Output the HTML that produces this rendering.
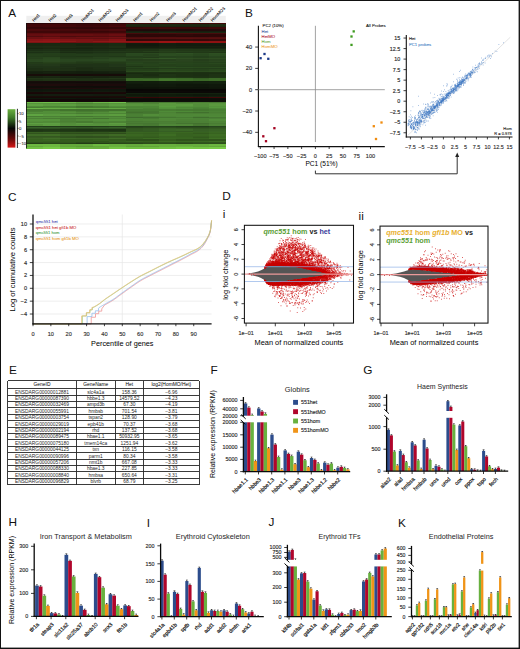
<!DOCTYPE html><html><head><meta charset="utf-8"><style>html,body{margin:0;padding:0;background:#fff;}body{width:520px;height:649px;overflow:hidden;}svg{display:block;font-family:"Liberation Sans",sans-serif;}</style></head><body>
<svg width="520" height="649" viewBox="0 0 520 649" shape-rendering="auto">
<rect x="0" y="0" width="520" height="649" fill="#fff"/>
<text x="8.2" y="16.8" font-size="11.8" fill="#111">A</text>
<rect x="26.3" y="15.8" width="199.5" height="7.4" fill="#efefef"/>
<style>.hm rect{width:17.23px}</style>
<g class="hm" shape-rendering="crispEdges">
<g transform="translate(26.3 0)">
<rect y="23.2" height="1.75" fill="#2b0406"/>
<rect y="24.45" height="1.75" fill="#400709"/>
<rect y="25.7" height="1.75" fill="#420709"/>
<rect y="26.95" height="1.75" fill="#350507"/>
<rect y="28.2" height="1.75" fill="#380608"/>
<rect y="29.45" height="1.75" fill="#4b090b"/>
<rect y="30.7" height="1.75" fill="#3d0708"/>
<rect y="31.95" height="1.75" fill="#3f0708"/>
<rect y="33.2" height="1.75" fill="#5b0b0d"/>
<rect y="34.45" height="1.75" fill="#650d10"/>
<rect y="35.7" height="1.75" fill="#510b0d"/>
<rect y="36.95" height="1.75" fill="#6e1012"/>
<rect y="38.2" height="1.75" fill="#6c1012"/>
<rect y="39.45" height="1.75" fill="#871316"/>
<rect y="40.7" height="1.75" fill="#931717"/>
<rect y="41.95" height="1.75" fill="#7d1414"/>
<rect y="43.2" height="1.75" fill="#192811"/>
<rect y="44.45" height="1.75" fill="#182810"/>
<rect y="45.7" height="1.75" fill="#1b2c13"/>
<rect y="46.95" height="1.75" fill="#1a2b12"/>
<rect y="48.2" height="1.75" fill="#172510"/>
<rect y="49.45" height="1.75" fill="#1c2f15"/>
<rect y="50.7" height="1.75" fill="#213819"/>
<rect y="51.95" height="1.75" fill="#1c3015"/>
<rect y="53.2" height="1.75" fill="#223c19"/>
<rect y="54.45" height="1.75" fill="#25401b"/>
<rect y="55.7" height="1.75" fill="#233d1a"/>
<rect y="56.95" height="1.75" fill="#26421c"/>
<rect y="58.2" height="1.75" fill="#26401c"/>
<rect y="59.45" height="1.75" fill="#2a471f"/>
<rect y="60.7" height="1.75" fill="#2a4820"/>
<rect y="61.95" height="1.75" fill="#223a18"/>
<rect y="63.2" height="1.75" fill="#233c19"/>
<rect y="64.45" height="1.75" fill="#22371a"/>
<rect y="65.7" height="1.75" fill="#1f3317"/>
<rect y="66.95" height="1.75" fill="#1f3318"/>
<rect y="68.2" height="1.75" fill="#1c2e14"/>
<rect y="69.45" height="1.75" fill="#1d2e14"/>
<rect y="70.7" height="1.75" fill="#16220f"/>
<rect y="71.95" height="1.75" fill="#141f0e"/>
<rect y="73.2" height="1.75" fill="#141f0e"/>
<rect y="74.45" height="1.75" fill="#180d09"/>
<rect y="75.7" height="1.75" fill="#182410"/>
<rect y="76.95" height="1.75" fill="#16220f"/>
<rect y="78.2" height="1.75" fill="#213516"/>
<rect y="79.45" height="1.75" fill="#1d2f14"/>
<rect y="80.7" height="1.75" fill="#170e0b"/>
<rect y="81.95" height="1.75" fill="#140c0a"/>
<rect y="83.2" height="1.75" fill="#180e0c"/>
<rect y="84.45" height="1.75" fill="#1e0c0c"/>
<rect y="85.7" height="1.75" fill="#100d09"/>
<rect y="86.95" height="1.75" fill="#100d09"/>
<rect y="88.2" height="1.75" fill="#1f0b0b"/>
<rect y="89.45" height="1.75" fill="#0e150c"/>
<rect y="90.7" height="1.75" fill="#10180d"/>
<rect y="91.95" height="1.75" fill="#190808"/>
<rect y="93.2" height="1.75" fill="#180707"/>
<rect y="94.45" height="1.75" fill="#121a0e"/>
<rect y="95.7" height="1.75" fill="#190b08"/>
<rect y="96.95" height="1.75" fill="#160907"/>
<rect y="98.2" height="1.75" fill="#0d180b"/>
<rect y="99.45" height="1.75" fill="#110808"/>
<rect y="100.7" height="1.75" fill="#150909"/>
<rect y="101.95" height="1.75" fill="#6dba4b"/>
<rect y="103.2" height="1.75" fill="#57943c"/>
<rect y="104.45" height="1.75" fill="#5fa241"/>
<rect y="105.7" height="1.75" fill="#4f8c37"/>
<rect y="106.95" height="1.75" fill="#477e31"/>
<rect y="108.2" height="1.75" fill="#6bb648"/>
<rect y="109.45" height="1.75" fill="#477c31"/>
<rect y="110.7" height="1.75" fill="#4a8133"/>
<rect y="111.95" height="1.75" fill="#538f3a"/>
<rect y="113.2" height="1.75" fill="#4f8837"/>
<rect y="114.45" height="1.75" fill="#5fa442"/>
<rect y="115.7" height="1.75" fill="#477c32"/>
<rect y="116.95" height="1.75" fill="#55933c"/>
<rect y="118.2" height="1.75" fill="#4b8235"/>
<rect y="119.45" height="1.75" fill="#56943c"/>
<rect y="120.7" height="1.75" fill="#538e39"/>
<rect y="121.95" height="1.75" fill="#4f8837"/>
<rect y="123.2" height="1.75" fill="#5d9f41"/>
<rect y="124.45" height="1.75" fill="#55903b"/>
<rect y="125.7" height="1.75" fill="#213f1a"/>
<rect y="126.95" height="1.75" fill="#365f28"/>
<rect y="128.2" height="1.75" fill="#2b4e20"/>
<rect y="129.45" height="1.75" fill="#1e3614"/>
<rect y="130.7" height="1.75" fill="#203a15"/>
<rect y="131.95" height="1.75" fill="#396122"/>
<rect y="133.2" height="1.75" fill="#31541d"/>
<rect y="134.45" height="1.75" fill="#3f6b26"/>
<rect y="135.7" height="1.75" fill="#345820"/>
<rect y="136.95" height="1.75" fill="#375c21"/>
<rect y="138.2" height="1.75" fill="#3c6424"/>
<rect y="139.45" height="1.75" fill="#37611f"/>
<rect y="140.7" height="1.75" fill="#365f1f"/>
<rect y="141.95" height="1.75" fill="#2f541b"/>
<rect y="143.2" height="1.75" fill="#243f16"/>
<rect y="144.45" height="1.75" fill="#6db940"/>
<rect y="145.7" height="1.75" fill="#64aa3b"/>
<rect y="146.95" height="1.75" fill="#72c143"/>
<rect y="148.2" height="0.1" fill="#67af3c"/>
</g>
<g transform="translate(42.92 0)">
<rect y="23.2" height="1.75" fill="#2b0406"/>
<rect y="24.45" height="1.75" fill="#430709"/>
<rect y="25.7" height="1.75" fill="#430709"/>
<rect y="26.95" height="1.75" fill="#390608"/>
<rect y="28.2" height="1.75" fill="#360507"/>
<rect y="29.45" height="1.75" fill="#49090b"/>
<rect y="30.7" height="1.75" fill="#3e0708"/>
<rect y="31.95" height="1.75" fill="#3f0708"/>
<rect y="33.2" height="1.75" fill="#590b0d"/>
<rect y="34.45" height="1.75" fill="#6b0e11"/>
<rect y="35.7" height="1.75" fill="#5a0c0e"/>
<rect y="36.95" height="1.75" fill="#761113"/>
<rect y="38.2" height="1.75" fill="#6d1012"/>
<rect y="39.45" height="1.75" fill="#8c1417"/>
<rect y="40.7" height="1.75" fill="#941717"/>
<rect y="41.95" height="1.75" fill="#811414"/>
<rect y="43.2" height="1.75" fill="#192811"/>
<rect y="44.45" height="1.75" fill="#192911"/>
<rect y="45.7" height="1.75" fill="#1c2e14"/>
<rect y="46.95" height="1.75" fill="#1b2c13"/>
<rect y="48.2" height="1.75" fill="#192911"/>
<rect y="49.45" height="1.75" fill="#1d3116"/>
<rect y="50.7" height="1.75" fill="#223919"/>
<rect y="51.95" height="1.75" fill="#1e3317"/>
<rect y="53.2" height="1.75" fill="#243f1b"/>
<rect y="54.45" height="1.75" fill="#243e1a"/>
<rect y="55.7" height="1.75" fill="#223b19"/>
<rect y="56.95" height="1.75" fill="#29471e"/>
<rect y="58.2" height="1.75" fill="#2b4920"/>
<rect y="59.45" height="1.75" fill="#2c4b21"/>
<rect y="60.7" height="1.75" fill="#2c4a21"/>
<rect y="61.95" height="1.75" fill="#27421b"/>
<rect y="63.2" height="1.75" fill="#243d19"/>
<rect y="64.45" height="1.75" fill="#23391a"/>
<rect y="65.7" height="1.75" fill="#203418"/>
<rect y="66.95" height="1.75" fill="#1f3318"/>
<rect y="68.2" height="1.75" fill="#1f3215"/>
<rect y="69.45" height="1.75" fill="#1f3216"/>
<rect y="70.7" height="1.75" fill="#16210f"/>
<rect y="71.95" height="1.75" fill="#172410"/>
<rect y="73.2" height="1.75" fill="#141f0e"/>
<rect y="74.45" height="1.75" fill="#190d0a"/>
<rect y="75.7" height="1.75" fill="#1a2912"/>
<rect y="76.95" height="1.75" fill="#182511"/>
<rect y="78.2" height="1.75" fill="#223616"/>
<rect y="79.45" height="1.75" fill="#1f3215"/>
<rect y="80.7" height="1.75" fill="#160d0b"/>
<rect y="81.95" height="1.75" fill="#140c0a"/>
<rect y="83.2" height="1.75" fill="#170e0c"/>
<rect y="84.45" height="1.75" fill="#1f0c0c"/>
<rect y="85.7" height="1.75" fill="#110e09"/>
<rect y="86.95" height="1.75" fill="#110e09"/>
<rect y="88.2" height="1.75" fill="#200c0c"/>
<rect y="89.45" height="1.75" fill="#0f160c"/>
<rect y="90.7" height="1.75" fill="#121a0e"/>
<rect y="91.95" height="1.75" fill="#1b0808"/>
<rect y="93.2" height="1.75" fill="#190808"/>
<rect y="94.45" height="1.75" fill="#131c0f"/>
<rect y="95.7" height="1.75" fill="#1a0b09"/>
<rect y="96.95" height="1.75" fill="#170908"/>
<rect y="98.2" height="1.75" fill="#0d180b"/>
<rect y="99.45" height="1.75" fill="#130808"/>
<rect y="100.7" height="1.75" fill="#140909"/>
<rect y="101.95" height="1.75" fill="#70c04d"/>
<rect y="103.2" height="1.75" fill="#55923b"/>
<rect y="104.45" height="1.75" fill="#5b9b3e"/>
<rect y="105.7" height="1.75" fill="#4b8534"/>
<rect y="106.95" height="1.75" fill="#4f8b36"/>
<rect y="108.2" height="1.75" fill="#67ae45"/>
<rect y="109.45" height="1.75" fill="#467b30"/>
<rect y="110.7" height="1.75" fill="#518e38"/>
<rect y="111.95" height="1.75" fill="#528e39"/>
<rect y="113.2" height="1.75" fill="#528e39"/>
<rect y="114.45" height="1.75" fill="#59993e"/>
<rect y="115.7" height="1.75" fill="#4b8135"/>
<rect y="116.95" height="1.75" fill="#54913b"/>
<rect y="118.2" height="1.75" fill="#487c32"/>
<rect y="119.45" height="1.75" fill="#56943c"/>
<rect y="120.7" height="1.75" fill="#508a37"/>
<rect y="121.95" height="1.75" fill="#518b38"/>
<rect y="123.2" height="1.75" fill="#5d9f42"/>
<rect y="124.45" height="1.75" fill="#5b9a40"/>
<rect y="125.7" height="1.75" fill="#203c19"/>
<rect y="126.95" height="1.75" fill="#335b26"/>
<rect y="128.2" height="1.75" fill="#2d5021"/>
<rect y="129.45" height="1.75" fill="#1f3815"/>
<rect y="130.7" height="1.75" fill="#223e17"/>
<rect y="131.95" height="1.75" fill="#3b6323"/>
<rect y="133.2" height="1.75" fill="#31531d"/>
<rect y="134.45" height="1.75" fill="#406d26"/>
<rect y="135.7" height="1.75" fill="#345720"/>
<rect y="136.95" height="1.75" fill="#385e22"/>
<rect y="138.2" height="1.75" fill="#416d28"/>
<rect y="139.45" height="1.75" fill="#386420"/>
<rect y="140.7" height="1.75" fill="#345c1e"/>
<rect y="141.95" height="1.75" fill="#30561c"/>
<rect y="143.2" height="1.75" fill="#294819"/>
<rect y="144.45" height="1.75" fill="#6db940"/>
<rect y="145.7" height="1.75" fill="#6db840"/>
<rect y="146.95" height="1.75" fill="#77ca46"/>
<rect y="148.2" height="0.1" fill="#66ad3c"/>
</g>
<g transform="translate(59.55 0)">
<rect y="23.2" height="1.75" fill="#290406"/>
<rect y="24.45" height="1.75" fill="#3e0609"/>
<rect y="25.7" height="1.75" fill="#410709"/>
<rect y="26.95" height="1.75" fill="#310507"/>
<rect y="28.2" height="1.75" fill="#360507"/>
<rect y="29.45" height="1.75" fill="#45080a"/>
<rect y="30.7" height="1.75" fill="#3a0708"/>
<rect y="31.95" height="1.75" fill="#3b0708"/>
<rect y="33.2" height="1.75" fill="#560a0d"/>
<rect y="34.45" height="1.75" fill="#660e10"/>
<rect y="35.7" height="1.75" fill="#4d0a0c"/>
<rect y="36.95" height="1.75" fill="#670f11"/>
<rect y="38.2" height="1.75" fill="#660f11"/>
<rect y="39.45" height="1.75" fill="#831315"/>
<rect y="40.7" height="1.75" fill="#921717"/>
<rect y="41.95" height="1.75" fill="#6d1111"/>
<rect y="43.2" height="1.75" fill="#182811"/>
<rect y="44.45" height="1.75" fill="#192911"/>
<rect y="45.7" height="1.75" fill="#1a2b12"/>
<rect y="46.95" height="1.75" fill="#1b2b13"/>
<rect y="48.2" height="1.75" fill="#16240f"/>
<rect y="49.45" height="1.75" fill="#1a2b13"/>
<rect y="50.7" height="1.75" fill="#1e3316"/>
<rect y="51.95" height="1.75" fill="#1a2c13"/>
<rect y="53.2" height="1.75" fill="#223b19"/>
<rect y="54.45" height="1.75" fill="#223c19"/>
<rect y="55.7" height="1.75" fill="#203818"/>
<rect y="56.95" height="1.75" fill="#233d1a"/>
<rect y="58.2" height="1.75" fill="#253f1c"/>
<rect y="59.45" height="1.75" fill="#29461f"/>
<rect y="60.7" height="1.75" fill="#29451f"/>
<rect y="61.95" height="1.75" fill="#253e1a"/>
<rect y="63.2" height="1.75" fill="#233b19"/>
<rect y="64.45" height="1.75" fill="#1f3217"/>
<rect y="65.7" height="1.75" fill="#1d2f16"/>
<rect y="66.95" height="1.75" fill="#1f3217"/>
<rect y="68.2" height="1.75" fill="#1d2e14"/>
<rect y="69.45" height="1.75" fill="#1e3015"/>
<rect y="70.7" height="1.75" fill="#15200f"/>
<rect y="71.95" height="1.75" fill="#15200e"/>
<rect y="73.2" height="1.75" fill="#131d0d"/>
<rect y="74.45" height="1.75" fill="#170d09"/>
<rect y="75.7" height="1.75" fill="#182511"/>
<rect y="76.95" height="1.75" fill="#15200f"/>
<rect y="78.2" height="1.75" fill="#203415"/>
<rect y="79.45" height="1.75" fill="#1e2f14"/>
<rect y="80.7" height="1.75" fill="#150c0a"/>
<rect y="81.95" height="1.75" fill="#130b09"/>
<rect y="83.2" height="1.75" fill="#170e0b"/>
<rect y="84.45" height="1.75" fill="#1c0b0b"/>
<rect y="85.7" height="1.75" fill="#0f0c08"/>
<rect y="86.95" height="1.75" fill="#0f0d09"/>
<rect y="88.2" height="1.75" fill="#1f0b0b"/>
<rect y="89.45" height="1.75" fill="#0e140b"/>
<rect y="90.7" height="1.75" fill="#11190e"/>
<rect y="91.95" height="1.75" fill="#1a0808"/>
<rect y="93.2" height="1.75" fill="#170707"/>
<rect y="94.45" height="1.75" fill="#131b0f"/>
<rect y="95.7" height="1.75" fill="#1a0b09"/>
<rect y="96.95" height="1.75" fill="#160907"/>
<rect y="98.2" height="1.75" fill="#0c170a"/>
<rect y="99.45" height="1.75" fill="#110707"/>
<rect y="100.7" height="1.75" fill="#150909"/>
<rect y="101.95" height="1.75" fill="#69b449"/>
<rect y="103.2" height="1.75" fill="#528d39"/>
<rect y="104.45" height="1.75" fill="#5c9e40"/>
<rect y="105.7" height="1.75" fill="#4b8534"/>
<rect y="106.95" height="1.75" fill="#4a8434"/>
<rect y="108.2" height="1.75" fill="#66ad45"/>
<rect y="109.45" height="1.75" fill="#42742d"/>
<rect y="110.7" height="1.75" fill="#4f8936"/>
<rect y="111.95" height="1.75" fill="#55913b"/>
<rect y="113.2" height="1.75" fill="#4d8435"/>
<rect y="114.45" height="1.75" fill="#5a9b3f"/>
<rect y="115.7" height="1.75" fill="#487d33"/>
<rect y="116.95" height="1.75" fill="#508b38"/>
<rect y="118.2" height="1.75" fill="#477c32"/>
<rect y="119.45" height="1.75" fill="#4c8335"/>
<rect y="120.7" height="1.75" fill="#4a7f33"/>
<rect y="121.95" height="1.75" fill="#4d8435"/>
<rect y="123.2" height="1.75" fill="#538d3a"/>
<rect y="124.45" height="1.75" fill="#538e3a"/>
<rect y="125.7" height="1.75" fill="#203c18"/>
<rect y="126.95" height="1.75" fill="#325a25"/>
<rect y="128.2" height="1.75" fill="#28471e"/>
<rect y="129.45" height="1.75" fill="#1e3614"/>
<rect y="130.7" height="1.75" fill="#213b16"/>
<rect y="131.95" height="1.75" fill="#34581f"/>
<rect y="133.2" height="1.75" fill="#2e4e1b"/>
<rect y="134.45" height="1.75" fill="#3a6223"/>
<rect y="135.7" height="1.75" fill="#32551f"/>
<rect y="136.95" height="1.75" fill="#32541f"/>
<rect y="138.2" height="1.75" fill="#3e6926"/>
<rect y="139.45" height="1.75" fill="#335b1d"/>
<rect y="140.7" height="1.75" fill="#335a1d"/>
<rect y="141.95" height="1.75" fill="#30551b"/>
<rect y="143.2" height="1.75" fill="#264418"/>
<rect y="144.45" height="1.75" fill="#64a93a"/>
<rect y="145.7" height="1.75" fill="#61a539"/>
<rect y="146.95" height="1.75" fill="#6dba40"/>
<rect y="148.2" height="0.1" fill="#61a439"/>
</g>
<g transform="translate(76.17 0)">
<rect y="23.2" height="1.75" fill="#290406"/>
<rect y="24.45" height="1.75" fill="#380608"/>
<rect y="25.7" height="1.75" fill="#3e0609"/>
<rect y="26.95" height="1.75" fill="#320507"/>
<rect y="28.2" height="1.75" fill="#310507"/>
<rect y="29.45" height="1.75" fill="#42080a"/>
<rect y="30.7" height="1.75" fill="#390708"/>
<rect y="31.95" height="1.75" fill="#3c0708"/>
<rect y="33.2" height="1.75" fill="#550a0c"/>
<rect y="34.45" height="1.75" fill="#670e10"/>
<rect y="35.7" height="1.75" fill="#500b0c"/>
<rect y="36.95" height="1.75" fill="#6e1012"/>
<rect y="38.2" height="1.75" fill="#630e10"/>
<rect y="39.45" height="1.75" fill="#7e1214"/>
<rect y="40.7" height="1.75" fill="#801414"/>
<rect y="41.95" height="1.75" fill="#711212"/>
<rect y="43.2" height="1.75" fill="#182811"/>
<rect y="44.45" height="1.75" fill="#16250f"/>
<rect y="45.7" height="1.75" fill="#1b2c13"/>
<rect y="46.95" height="1.75" fill="#182811"/>
<rect y="48.2" height="1.75" fill="#16240f"/>
<rect y="49.45" height="1.75" fill="#192b13"/>
<rect y="50.7" height="1.75" fill="#1f3417"/>
<rect y="51.95" height="1.75" fill="#1b2e14"/>
<rect y="53.2" height="1.75" fill="#1f3617"/>
<rect y="54.45" height="1.75" fill="#233d1a"/>
<rect y="55.7" height="1.75" fill="#1f3617"/>
<rect y="56.95" height="1.75" fill="#243e1a"/>
<rect y="58.2" height="1.75" fill="#26401c"/>
<rect y="59.45" height="1.75" fill="#29461f"/>
<rect y="60.7" height="1.75" fill="#253f1c"/>
<rect y="61.95" height="1.75" fill="#223a18"/>
<rect y="63.2" height="1.75" fill="#213817"/>
<rect y="64.45" height="1.75" fill="#1f3217"/>
<rect y="65.7" height="1.75" fill="#1f3217"/>
<rect y="66.95" height="1.75" fill="#1c2d15"/>
<rect y="68.2" height="1.75" fill="#1b2b12"/>
<rect y="69.45" height="1.75" fill="#1b2c13"/>
<rect y="70.7" height="1.75" fill="#141f0e"/>
<rect y="71.95" height="1.75" fill="#131e0e"/>
<rect y="73.2" height="1.75" fill="#131d0d"/>
<rect y="74.45" height="1.75" fill="#170c09"/>
<rect y="75.7" height="1.75" fill="#182611"/>
<rect y="76.95" height="1.75" fill="#162210"/>
<rect y="78.2" height="1.75" fill="#1d2e13"/>
<rect y="79.45" height="1.75" fill="#1d2f14"/>
<rect y="80.7" height="1.75" fill="#160d0b"/>
<rect y="81.95" height="1.75" fill="#110a09"/>
<rect y="83.2" height="1.75" fill="#170e0b"/>
<rect y="84.45" height="1.75" fill="#1b0a0a"/>
<rect y="85.7" height="1.75" fill="#0f0c08"/>
<rect y="86.95" height="1.75" fill="#110e09"/>
<rect y="88.2" height="1.75" fill="#1d0a0a"/>
<rect y="89.45" height="1.75" fill="#0e150b"/>
<rect y="90.7" height="1.75" fill="#11190e"/>
<rect y="91.95" height="1.75" fill="#190808"/>
<rect y="93.2" height="1.75" fill="#160707"/>
<rect y="94.45" height="1.75" fill="#131b0f"/>
<rect y="95.7" height="1.75" fill="#1a0b09"/>
<rect y="96.95" height="1.75" fill="#160907"/>
<rect y="98.2" height="1.75" fill="#0b150a"/>
<rect y="99.45" height="1.75" fill="#110707"/>
<rect y="100.7" height="1.75" fill="#130909"/>
<rect y="101.95" height="1.75" fill="#60a442"/>
<rect y="103.2" height="1.75" fill="#4e8636"/>
<rect y="104.45" height="1.75" fill="#56933b"/>
<rect y="105.7" height="1.75" fill="#44782f"/>
<rect y="106.95" height="1.75" fill="#467b30"/>
<rect y="108.2" height="1.75" fill="#62a642"/>
<rect y="109.45" height="1.75" fill="#41712d"/>
<rect y="110.7" height="1.75" fill="#477c31"/>
<rect y="111.95" height="1.75" fill="#508937"/>
<rect y="113.2" height="1.75" fill="#487d32"/>
<rect y="114.45" height="1.75" fill="#58973d"/>
<rect y="115.7" height="1.75" fill="#447630"/>
<rect y="116.95" height="1.75" fill="#54913b"/>
<rect y="118.2" height="1.75" fill="#487c32"/>
<rect y="119.45" height="1.75" fill="#518a38"/>
<rect y="120.7" height="1.75" fill="#477b31"/>
<rect y="121.95" height="1.75" fill="#477b31"/>
<rect y="123.2" height="1.75" fill="#5a993f"/>
<rect y="124.45" height="1.75" fill="#55913c"/>
<rect y="125.7" height="1.75" fill="#1f3a18"/>
<rect y="126.95" height="1.75" fill="#305523"/>
<rect y="128.2" height="1.75" fill="#27461d"/>
<rect y="129.45" height="1.75" fill="#1c3313"/>
<rect y="130.7" height="1.75" fill="#203915"/>
<rect y="131.95" height="1.75" fill="#34581f"/>
<rect y="133.2" height="1.75" fill="#2d4c1b"/>
<rect y="134.45" height="1.75" fill="#3a6223"/>
<rect y="135.7" height="1.75" fill="#2f4f1d"/>
<rect y="136.95" height="1.75" fill="#30511d"/>
<rect y="138.2" height="1.75" fill="#3d6625"/>
<rect y="139.45" height="1.75" fill="#335b1d"/>
<rect y="140.7" height="1.75" fill="#335a1d"/>
<rect y="141.95" height="1.75" fill="#2b4c19"/>
<rect y="143.2" height="1.75" fill="#213b15"/>
<rect y="144.45" height="1.75" fill="#64aa3b"/>
<rect y="145.7" height="1.75" fill="#5d9d36"/>
<rect y="146.95" height="1.75" fill="#69b33e"/>
<rect y="148.2" height="0.1" fill="#5d9d36"/>
</g>
<g transform="translate(92.8 0)">
<rect y="23.2" height="1.75" fill="#2b0406"/>
<rect y="24.45" height="1.75" fill="#3a0608"/>
<rect y="25.7" height="1.75" fill="#3f0709"/>
<rect y="26.95" height="1.75" fill="#350507"/>
<rect y="28.2" height="1.75" fill="#350507"/>
<rect y="29.45" height="1.75" fill="#47090b"/>
<rect y="30.7" height="1.75" fill="#370607"/>
<rect y="31.95" height="1.75" fill="#3e0708"/>
<rect y="33.2" height="1.75" fill="#540a0c"/>
<rect y="34.45" height="1.75" fill="#620d0f"/>
<rect y="35.7" height="1.75" fill="#550b0d"/>
<rect y="36.95" height="1.75" fill="#6f1012"/>
<rect y="38.2" height="1.75" fill="#5f0e10"/>
<rect y="39.45" height="1.75" fill="#781113"/>
<rect y="40.7" height="1.75" fill="#901717"/>
<rect y="41.95" height="1.75" fill="#751212"/>
<rect y="43.2" height="1.75" fill="#192911"/>
<rect y="44.45" height="1.75" fill="#182710"/>
<rect y="45.7" height="1.75" fill="#1a2b12"/>
<rect y="46.95" height="1.75" fill="#1a2912"/>
<rect y="48.2" height="1.75" fill="#182711"/>
<rect y="49.45" height="1.75" fill="#1b2d14"/>
<rect y="50.7" height="1.75" fill="#203618"/>
<rect y="51.95" height="1.75" fill="#1d3116"/>
<rect y="53.2" height="1.75" fill="#213a19"/>
<rect y="54.45" height="1.75" fill="#233c1a"/>
<rect y="55.7" height="1.75" fill="#213a19"/>
<rect y="56.95" height="1.75" fill="#27431d"/>
<rect y="58.2" height="1.75" fill="#26411d"/>
<rect y="59.45" height="1.75" fill="#2a4820"/>
<rect y="60.7" height="1.75" fill="#26401c"/>
<rect y="61.95" height="1.75" fill="#243e1a"/>
<rect y="63.2" height="1.75" fill="#203616"/>
<rect y="64.45" height="1.75" fill="#1f3317"/>
<rect y="65.7" height="1.75" fill="#1f3317"/>
<rect y="66.95" height="1.75" fill="#1d3016"/>
<rect y="68.2" height="1.75" fill="#1e3015"/>
<rect y="69.45" height="1.75" fill="#1c2e14"/>
<rect y="70.7" height="1.75" fill="#162210"/>
<rect y="71.95" height="1.75" fill="#141f0e"/>
<rect y="73.2" height="1.75" fill="#121c0d"/>
<rect y="74.45" height="1.75" fill="#180d09"/>
<rect y="75.7" height="1.75" fill="#172310"/>
<rect y="76.95" height="1.75" fill="#16220f"/>
<rect y="78.2" height="1.75" fill="#203416"/>
<rect y="79.45" height="1.75" fill="#1d2f13"/>
<rect y="80.7" height="1.75" fill="#150d0a"/>
<rect y="81.95" height="1.75" fill="#120b09"/>
<rect y="83.2" height="1.75" fill="#160d0b"/>
<rect y="84.45" height="1.75" fill="#1d0b0b"/>
<rect y="85.7" height="1.75" fill="#0f0c08"/>
<rect y="86.95" height="1.75" fill="#0f0d09"/>
<rect y="88.2" height="1.75" fill="#1f0b0b"/>
<rect y="89.45" height="1.75" fill="#0f160c"/>
<rect y="90.7" height="1.75" fill="#121a0e"/>
<rect y="91.95" height="1.75" fill="#1a0808"/>
<rect y="93.2" height="1.75" fill="#180707"/>
<rect y="94.45" height="1.75" fill="#121a0e"/>
<rect y="95.7" height="1.75" fill="#1a0b09"/>
<rect y="96.95" height="1.75" fill="#150907"/>
<rect y="98.2" height="1.75" fill="#0c160a"/>
<rect y="99.45" height="1.75" fill="#110707"/>
<rect y="100.7" height="1.75" fill="#150909"/>
<rect y="101.95" height="1.75" fill="#6bb74a"/>
<rect y="103.2" height="1.75" fill="#538d39"/>
<rect y="104.45" height="1.75" fill="#57953c"/>
<rect y="105.7" height="1.75" fill="#488032"/>
<rect y="106.95" height="1.75" fill="#477e31"/>
<rect y="108.2" height="1.75" fill="#61a542"/>
<rect y="109.45" height="1.75" fill="#42742e"/>
<rect y="110.7" height="1.75" fill="#497e32"/>
<rect y="111.95" height="1.75" fill="#528d39"/>
<rect y="113.2" height="1.75" fill="#4e8636"/>
<rect y="114.45" height="1.75" fill="#58983d"/>
<rect y="115.7" height="1.75" fill="#497e33"/>
<rect y="116.95" height="1.75" fill="#528e3a"/>
<rect y="118.2" height="1.75" fill="#43742f"/>
<rect y="119.45" height="1.75" fill="#538f3a"/>
<rect y="120.7" height="1.75" fill="#4f8837"/>
<rect y="121.95" height="1.75" fill="#4b8134"/>
<rect y="123.2" height="1.75" fill="#548e3b"/>
<rect y="124.45" height="1.75" fill="#55913c"/>
<rect y="125.7" height="1.75" fill="#203c18"/>
<rect y="126.95" height="1.75" fill="#325a25"/>
<rect y="128.2" height="1.75" fill="#2c4e20"/>
<rect y="129.45" height="1.75" fill="#1d3413"/>
<rect y="130.7" height="1.75" fill="#223c16"/>
<rect y="131.95" height="1.75" fill="#32551e"/>
<rect y="133.2" height="1.75" fill="#2e4d1b"/>
<rect y="134.45" height="1.75" fill="#3c6524"/>
<rect y="135.7" height="1.75" fill="#30511d"/>
<rect y="136.95" height="1.75" fill="#31521e"/>
<rect y="138.2" height="1.75" fill="#3d6625"/>
<rect y="139.45" height="1.75" fill="#355e1e"/>
<rect y="140.7" height="1.75" fill="#2f541b"/>
<rect y="141.95" height="1.75" fill="#2f541b"/>
<rect y="143.2" height="1.75" fill="#233d16"/>
<rect y="144.45" height="1.75" fill="#6dba40"/>
<rect y="145.7" height="1.75" fill="#62a739"/>
<rect y="146.95" height="1.75" fill="#68b03d"/>
<rect y="148.2" height="0.1" fill="#61a439"/>
</g>
<g transform="translate(109.42 0)">
<rect y="23.2" height="1.75" fill="#2e0407"/>
<rect y="24.45" height="1.75" fill="#3f0709"/>
<rect y="25.7" height="1.75" fill="#48070a"/>
<rect y="26.95" height="1.75" fill="#350507"/>
<rect y="28.2" height="1.75" fill="#360507"/>
<rect y="29.45" height="1.75" fill="#4c090c"/>
<rect y="30.7" height="1.75" fill="#3c0708"/>
<rect y="31.95" height="1.75" fill="#400809"/>
<rect y="33.2" height="1.75" fill="#5b0b0d"/>
<rect y="34.45" height="1.75" fill="#6b0e11"/>
<rect y="35.7" height="1.75" fill="#570c0e"/>
<rect y="36.95" height="1.75" fill="#751113"/>
<rect y="38.2" height="1.75" fill="#670f11"/>
<rect y="39.45" height="1.75" fill="#871316"/>
<rect y="40.7" height="1.75" fill="#931717"/>
<rect y="41.95" height="1.75" fill="#7c1313"/>
<rect y="43.2" height="1.75" fill="#1a2b12"/>
<rect y="44.45" height="1.75" fill="#1a2b12"/>
<rect y="45.7" height="1.75" fill="#1d2f14"/>
<rect y="46.95" height="1.75" fill="#1d2f14"/>
<rect y="48.2" height="1.75" fill="#182711"/>
<rect y="49.45" height="1.75" fill="#1c3015"/>
<rect y="50.7" height="1.75" fill="#223919"/>
<rect y="51.95" height="1.75" fill="#1e3216"/>
<rect y="53.2" height="1.75" fill="#233d1a"/>
<rect y="54.45" height="1.75" fill="#243e1a"/>
<rect y="55.7" height="1.75" fill="#203818"/>
<rect y="56.95" height="1.75" fill="#27441d"/>
<rect y="58.2" height="1.75" fill="#2a4820"/>
<rect y="59.45" height="1.75" fill="#2c4b21"/>
<rect y="60.7" height="1.75" fill="#27431d"/>
<rect y="61.95" height="1.75" fill="#233b18"/>
<rect y="63.2" height="1.75" fill="#223a18"/>
<rect y="64.45" height="1.75" fill="#213619"/>
<rect y="65.7" height="1.75" fill="#223719"/>
<rect y="66.95" height="1.75" fill="#1d2f16"/>
<rect y="68.2" height="1.75" fill="#1d3014"/>
<rect y="69.45" height="1.75" fill="#1d2e14"/>
<rect y="70.7" height="1.75" fill="#172310"/>
<rect y="71.95" height="1.75" fill="#162210"/>
<rect y="73.2" height="1.75" fill="#131d0d"/>
<rect y="74.45" height="1.75" fill="#170c09"/>
<rect y="75.7" height="1.75" fill="#192611"/>
<rect y="76.95" height="1.75" fill="#182410"/>
<rect y="78.2" height="1.75" fill="#223717"/>
<rect y="79.45" height="1.75" fill="#1c2d13"/>
<rect y="80.7" height="1.75" fill="#150d0b"/>
<rect y="81.95" height="1.75" fill="#130b09"/>
<rect y="83.2" height="1.75" fill="#160d0b"/>
<rect y="84.45" height="1.75" fill="#1c0b0b"/>
<rect y="85.7" height="1.75" fill="#100d09"/>
<rect y="86.95" height="1.75" fill="#110e09"/>
<rect y="88.2" height="1.75" fill="#1f0b0b"/>
<rect y="89.45" height="1.75" fill="#0f150c"/>
<rect y="90.7" height="1.75" fill="#11190d"/>
<rect y="91.95" height="1.75" fill="#190808"/>
<rect y="93.2" height="1.75" fill="#180707"/>
<rect y="94.45" height="1.75" fill="#131b0e"/>
<rect y="95.7" height="1.75" fill="#1a0b09"/>
<rect y="96.95" height="1.75" fill="#180a08"/>
<rect y="98.2" height="1.75" fill="#0d170b"/>
<rect y="99.45" height="1.75" fill="#110808"/>
<rect y="100.7" height="1.75" fill="#160a0a"/>
<rect y="101.95" height="1.75" fill="#6fbf4d"/>
<rect y="103.2" height="1.75" fill="#57943c"/>
<rect y="104.45" height="1.75" fill="#5c9e40"/>
<rect y="105.7" height="1.75" fill="#508e38"/>
<rect y="106.95" height="1.75" fill="#4b8534"/>
<rect y="108.2" height="1.75" fill="#63a843"/>
<rect y="109.45" height="1.75" fill="#42732d"/>
<rect y="110.7" height="1.75" fill="#529039"/>
<rect y="111.95" height="1.75" fill="#58963d"/>
<rect y="113.2" height="1.75" fill="#4d8535"/>
<rect y="114.45" height="1.75" fill="#5c9d3f"/>
<rect y="115.7" height="1.75" fill="#497e33"/>
<rect y="116.95" height="1.75" fill="#528e3a"/>
<rect y="118.2" height="1.75" fill="#4d8536"/>
<rect y="119.45" height="1.75" fill="#55933b"/>
<rect y="120.7" height="1.75" fill="#4c8335"/>
<rect y="121.95" height="1.75" fill="#4c8234"/>
<rect y="123.2" height="1.75" fill="#5c9c40"/>
<rect y="124.45" height="1.75" fill="#57943d"/>
<rect y="125.7" height="1.75" fill="#22401a"/>
<rect y="126.95" height="1.75" fill="#355f27"/>
<rect y="128.2" height="1.75" fill="#2c4e20"/>
<rect y="129.45" height="1.75" fill="#1c3313"/>
<rect y="130.7" height="1.75" fill="#203a15"/>
<rect y="131.95" height="1.75" fill="#365b20"/>
<rect y="133.2" height="1.75" fill="#2e4d1b"/>
<rect y="134.45" height="1.75" fill="#3f6a25"/>
<rect y="135.7" height="1.75" fill="#355820"/>
<rect y="136.95" height="1.75" fill="#365b21"/>
<rect y="138.2" height="1.75" fill="#416d27"/>
<rect y="139.45" height="1.75" fill="#335a1d"/>
<rect y="140.7" height="1.75" fill="#345d1e"/>
<rect y="141.95" height="1.75" fill="#2e521b"/>
<rect y="143.2" height="1.75" fill="#274518"/>
<rect y="144.45" height="1.75" fill="#68b03d"/>
<rect y="145.7" height="1.75" fill="#68b13d"/>
<rect y="146.95" height="1.75" fill="#74c444"/>
<rect y="148.2" height="0.1" fill="#6cb73f"/>
</g>
<g transform="translate(126.05 0)">
<rect y="23.2" height="1.75" fill="#390707"/>
<rect y="24.45" height="1.75" fill="#1c2711"/>
<rect y="25.7" height="1.75" fill="#1a240f"/>
<rect y="26.95" height="1.75" fill="#330707"/>
<rect y="28.2" height="1.75" fill="#3a0808"/>
<rect y="29.45" height="1.75" fill="#1e0909"/>
<rect y="30.7" height="1.75" fill="#161f0e"/>
<rect y="31.95" height="1.75" fill="#1a2511"/>
<rect y="33.2" height="1.75" fill="#450b0b"/>
<rect y="34.45" height="1.75" fill="#2c0707"/>
<rect y="35.7" height="1.75" fill="#2d0707"/>
<rect y="36.95" height="1.75" fill="#4d0d0d"/>
<rect y="38.2" height="1.75" fill="#560f0f"/>
<rect y="39.45" height="1.75" fill="#320909"/>
<rect y="40.7" height="1.75" fill="#8f1212"/>
<rect y="41.95" height="1.75" fill="#831111"/>
<rect y="43.2" height="1.75" fill="#121c0e"/>
<rect y="44.45" height="1.75" fill="#111b0d"/>
<rect y="45.7" height="1.75" fill="#121e0d"/>
<rect y="46.95" height="1.75" fill="#13200e"/>
<rect y="48.2" height="1.75" fill="#182711"/>
<rect y="49.45" height="1.75" fill="#1e3315"/>
<rect y="50.7" height="1.75" fill="#213817"/>
<rect y="51.95" height="1.75" fill="#1e3315"/>
<rect y="53.2" height="1.75" fill="#2a4a20"/>
<rect y="54.45" height="1.75" fill="#29481f"/>
<rect y="55.7" height="1.75" fill="#243f1b"/>
<rect y="56.95" height="1.75" fill="#243f1b"/>
<rect y="58.2" height="1.75" fill="#2b491f"/>
<rect y="59.45" height="1.75" fill="#253e1b"/>
<rect y="60.7" height="1.75" fill="#27421d"/>
<rect y="61.95" height="1.75" fill="#25431b"/>
<rect y="63.2" height="1.75" fill="#28471d"/>
<rect y="64.45" height="1.75" fill="#25411b"/>
<rect y="65.7" height="1.75" fill="#1f3716"/>
<rect y="66.95" height="1.75" fill="#26441c"/>
<rect y="68.2" height="1.75" fill="#213a18"/>
<rect y="69.45" height="1.75" fill="#25411a"/>
<rect y="70.7" height="1.75" fill="#2a491d"/>
<rect y="71.95" height="1.75" fill="#1d3113"/>
<rect y="73.2" height="1.75" fill="#182a10"/>
<rect y="74.45" height="1.75" fill="#1c3113"/>
<rect y="75.7" height="1.75" fill="#1d3213"/>
<rect y="76.95" height="1.75" fill="#1d3213"/>
<rect y="78.2" height="1.75" fill="#386324"/>
<rect y="79.45" height="1.75" fill="#396625"/>
<rect y="80.7" height="1.75" fill="#111e0d"/>
<rect y="81.95" height="1.75" fill="#121f0d"/>
<rect y="83.2" height="1.75" fill="#101c0c"/>
<rect y="84.45" height="1.75" fill="#0e160a"/>
<rect y="85.7" height="1.75" fill="#0e160a"/>
<rect y="86.95" height="1.75" fill="#0c1409"/>
<rect y="88.2" height="1.75" fill="#0b1208"/>
<rect y="89.45" height="1.75" fill="#080605"/>
<rect y="90.7" height="1.75" fill="#0b0907"/>
<rect y="91.95" height="1.75" fill="#0a0806"/>
<rect y="93.2" height="1.75" fill="#12200e"/>
<rect y="94.45" height="1.75" fill="#0e180a"/>
<rect y="95.7" height="1.75" fill="#111d0c"/>
<rect y="96.95" height="1.75" fill="#370808"/>
<rect y="98.2" height="1.75" fill="#0d0f09"/>
<rect y="99.45" height="1.75" fill="#0b0c07"/>
<rect y="100.7" height="1.75" fill="#0d0f08"/>
<rect y="101.95" height="1.75" fill="#43722f"/>
<rect y="103.2" height="1.75" fill="#538d3a"/>
<rect y="104.45" height="1.75" fill="#58953d"/>
<rect y="105.7" height="1.75" fill="#4d8636"/>
<rect y="106.95" height="1.75" fill="#4b8535"/>
<rect y="108.2" height="1.75" fill="#4f8a38"/>
<rect y="109.45" height="1.75" fill="#477c32"/>
<rect y="110.7" height="1.75" fill="#457830"/>
<rect y="111.95" height="1.75" fill="#41702d"/>
<rect y="113.2" height="1.75" fill="#467a31"/>
<rect y="114.45" height="1.75" fill="#4a8034"/>
<rect y="115.7" height="1.75" fill="#487e33"/>
<rect y="116.95" height="1.75" fill="#3e6b2c"/>
<rect y="118.2" height="1.75" fill="#4b8336"/>
<rect y="119.45" height="1.75" fill="#4c8235"/>
<rect y="120.7" height="1.75" fill="#477932"/>
<rect y="121.95" height="1.75" fill="#4a7d34"/>
<rect y="123.2" height="1.75" fill="#467731"/>
<rect y="124.45" height="1.75" fill="#4a7e34"/>
<rect y="125.7" height="1.75" fill="#223f1a"/>
<rect y="126.95" height="1.75" fill="#28461a"/>
<rect y="128.2" height="1.75" fill="#30541f"/>
<rect y="129.45" height="1.75" fill="#325720"/>
<rect y="130.7" height="1.75" fill="#335921"/>
<rect y="131.95" height="1.75" fill="#396521"/>
<rect y="133.2" height="1.75" fill="#365f1f"/>
<rect y="134.45" height="1.75" fill="#3a6721"/>
<rect y="135.7" height="1.75" fill="#37611f"/>
<rect y="136.95" height="1.75" fill="#345d1e"/>
<rect y="138.2" height="1.75" fill="#36601f"/>
<rect y="139.45" height="1.75" fill="#2d511a"/>
<rect y="140.7" height="1.75" fill="#376220"/>
<rect y="141.95" height="1.75" fill="#2e521b"/>
<rect y="143.2" height="1.75" fill="#284619"/>
<rect y="144.45" height="1.75" fill="#65ab3b"/>
<rect y="145.7" height="1.75" fill="#5fa238"/>
<rect y="146.95" height="1.75" fill="#70bf42"/>
<rect y="148.2" height="0.1" fill="#6bb53e"/>
</g>
<g transform="translate(142.68 0)">
<rect y="23.2" height="1.75" fill="#3c0808"/>
<rect y="24.45" height="1.75" fill="#1b2610"/>
<rect y="25.7" height="1.75" fill="#1a240f"/>
<rect y="26.95" height="1.75" fill="#390808"/>
<rect y="28.2" height="1.75" fill="#3b0808"/>
<rect y="29.45" height="1.75" fill="#1d0909"/>
<rect y="30.7" height="1.75" fill="#141e0e"/>
<rect y="31.95" height="1.75" fill="#182310"/>
<rect y="33.2" height="1.75" fill="#430b0b"/>
<rect y="34.45" height="1.75" fill="#2f0707"/>
<rect y="35.7" height="1.75" fill="#2c0707"/>
<rect y="36.95" height="1.75" fill="#500e0e"/>
<rect y="38.2" height="1.75" fill="#550f0f"/>
<rect y="39.45" height="1.75" fill="#330909"/>
<rect y="40.7" height="1.75" fill="#911212"/>
<rect y="41.95" height="1.75" fill="#891111"/>
<rect y="43.2" height="1.75" fill="#111b0d"/>
<rect y="44.45" height="1.75" fill="#10190d"/>
<rect y="45.7" height="1.75" fill="#121e0d"/>
<rect y="46.95" height="1.75" fill="#131f0e"/>
<rect y="48.2" height="1.75" fill="#192812"/>
<rect y="49.45" height="1.75" fill="#1e3315"/>
<rect y="50.7" height="1.75" fill="#253e1a"/>
<rect y="51.95" height="1.75" fill="#1e3315"/>
<rect y="53.2" height="1.75" fill="#2a491f"/>
<rect y="54.45" height="1.75" fill="#26421c"/>
<rect y="55.7" height="1.75" fill="#27431d"/>
<rect y="56.95" height="1.75" fill="#223b19"/>
<rect y="58.2" height="1.75" fill="#2f5022"/>
<rect y="59.45" height="1.75" fill="#263f1b"/>
<rect y="60.7" height="1.75" fill="#28431d"/>
<rect y="61.95" height="1.75" fill="#243f1a"/>
<rect y="63.2" height="1.75" fill="#25421b"/>
<rect y="64.45" height="1.75" fill="#26431b"/>
<rect y="65.7" height="1.75" fill="#233e19"/>
<rect y="66.95" height="1.75" fill="#28481d"/>
<rect y="68.2" height="1.75" fill="#203917"/>
<rect y="69.45" height="1.75" fill="#25401a"/>
<rect y="70.7" height="1.75" fill="#2b4b1e"/>
<rect y="71.95" height="1.75" fill="#1c3013"/>
<rect y="73.2" height="1.75" fill="#1b2e12"/>
<rect y="74.45" height="1.75" fill="#1a2c11"/>
<rect y="75.7" height="1.75" fill="#1c3113"/>
<rect y="76.95" height="1.75" fill="#1f3515"/>
<rect y="78.2" height="1.75" fill="#355d22"/>
<rect y="79.45" height="1.75" fill="#3b6926"/>
<rect y="80.7" height="1.75" fill="#101d0c"/>
<rect y="81.95" height="1.75" fill="#111d0c"/>
<rect y="83.2" height="1.75" fill="#101b0c"/>
<rect y="84.45" height="1.75" fill="#0f180b"/>
<rect y="85.7" height="1.75" fill="#0f170a"/>
<rect y="86.95" height="1.75" fill="#0c1309"/>
<rect y="88.2" height="1.75" fill="#0c1208"/>
<rect y="89.45" height="1.75" fill="#090705"/>
<rect y="90.7" height="1.75" fill="#0b0907"/>
<rect y="91.95" height="1.75" fill="#0a0806"/>
<rect y="93.2" height="1.75" fill="#121f0d"/>
<rect y="94.45" height="1.75" fill="#0e180a"/>
<rect y="95.7" height="1.75" fill="#0f1a0b"/>
<rect y="96.95" height="1.75" fill="#360707"/>
<rect y="98.2" height="1.75" fill="#0c0e08"/>
<rect y="99.45" height="1.75" fill="#0b0c07"/>
<rect y="100.7" height="1.75" fill="#0d0f09"/>
<rect y="101.95" height="1.75" fill="#477931"/>
<rect y="103.2" height="1.75" fill="#4e8436"/>
<rect y="104.45" height="1.75" fill="#56913c"/>
<rect y="105.7" height="1.75" fill="#4d8737"/>
<rect y="106.95" height="1.75" fill="#4d8736"/>
<rect y="108.2" height="1.75" fill="#4a8234"/>
<rect y="109.45" height="1.75" fill="#477d32"/>
<rect y="110.7" height="1.75" fill="#447730"/>
<rect y="111.95" height="1.75" fill="#447530"/>
<rect y="113.2" height="1.75" fill="#467931"/>
<rect y="114.45" height="1.75" fill="#528d39"/>
<rect y="115.7" height="1.75" fill="#4a8035"/>
<rect y="116.95" height="1.75" fill="#40702e"/>
<rect y="118.2" height="1.75" fill="#477b32"/>
<rect y="119.45" height="1.75" fill="#4e8436"/>
<rect y="120.7" height="1.75" fill="#497c33"/>
<rect y="121.95" height="1.75" fill="#4a7e34"/>
<rect y="123.2" height="1.75" fill="#457631"/>
<rect y="124.45" height="1.75" fill="#477932"/>
<rect y="125.7" height="1.75" fill="#24441b"/>
<rect y="126.95" height="1.75" fill="#2b4b1c"/>
<rect y="128.2" height="1.75" fill="#325820"/>
<rect y="129.45" height="1.75" fill="#345b22"/>
<rect y="130.7" height="1.75" fill="#335921"/>
<rect y="131.95" height="1.75" fill="#386420"/>
<rect y="133.2" height="1.75" fill="#355e1e"/>
<rect y="134.45" height="1.75" fill="#386320"/>
<rect y="135.7" height="1.75" fill="#365f1f"/>
<rect y="136.95" height="1.75" fill="#335b1d"/>
<rect y="138.2" height="1.75" fill="#3c6b22"/>
<rect y="139.45" height="1.75" fill="#2d501a"/>
<rect y="140.7" height="1.75" fill="#355e1e"/>
<rect y="141.95" height="1.75" fill="#2f531b"/>
<rect y="143.2" height="1.75" fill="#2c4d1b"/>
<rect y="144.45" height="1.75" fill="#69b23d"/>
<rect y="145.7" height="1.75" fill="#60a338"/>
<rect y="146.95" height="1.75" fill="#6fbd41"/>
<rect y="148.2" height="0.1" fill="#64aa3b"/>
</g>
<g transform="translate(159.3 0)">
<rect y="23.2" height="1.75" fill="#410808"/>
<rect y="24.45" height="1.75" fill="#1d2911"/>
<rect y="25.7" height="1.75" fill="#1a240f"/>
<rect y="26.95" height="1.75" fill="#3a0808"/>
<rect y="28.2" height="1.75" fill="#3f0909"/>
<rect y="29.45" height="1.75" fill="#200a0a"/>
<rect y="30.7" height="1.75" fill="#151e0e"/>
<rect y="31.95" height="1.75" fill="#1c2813"/>
<rect y="33.2" height="1.75" fill="#470c0c"/>
<rect y="34.45" height="1.75" fill="#2e0707"/>
<rect y="35.7" height="1.75" fill="#2e0707"/>
<rect y="36.95" height="1.75" fill="#530e0e"/>
<rect y="38.2" height="1.75" fill="#550f0f"/>
<rect y="39.45" height="1.75" fill="#360909"/>
<rect y="40.7" height="1.75" fill="#9b1414"/>
<rect y="41.95" height="1.75" fill="#991313"/>
<rect y="43.2" height="1.75" fill="#141f0f"/>
<rect y="44.45" height="1.75" fill="#131e0f"/>
<rect y="45.7" height="1.75" fill="#14210f"/>
<rect y="46.95" height="1.75" fill="#15220f"/>
<rect y="48.2" height="1.75" fill="#192912"/>
<rect y="49.45" height="1.75" fill="#223a18"/>
<rect y="50.7" height="1.75" fill="#26401b"/>
<rect y="51.95" height="1.75" fill="#233b18"/>
<rect y="53.2" height="1.75" fill="#2b4c20"/>
<rect y="54.45" height="1.75" fill="#2c4d21"/>
<rect y="55.7" height="1.75" fill="#25421c"/>
<rect y="56.95" height="1.75" fill="#26431d"/>
<rect y="58.2" height="1.75" fill="#335625"/>
<rect y="59.45" height="1.75" fill="#26401c"/>
<rect y="60.7" height="1.75" fill="#29451e"/>
<rect y="61.95" height="1.75" fill="#25421b"/>
<rect y="63.2" height="1.75" fill="#28481d"/>
<rect y="64.45" height="1.75" fill="#25411a"/>
<rect y="65.7" height="1.75" fill="#25411b"/>
<rect y="66.95" height="1.75" fill="#2b4d1f"/>
<rect y="68.2" height="1.75" fill="#223c19"/>
<rect y="69.45" height="1.75" fill="#29471c"/>
<rect y="70.7" height="1.75" fill="#2d4f1f"/>
<rect y="71.95" height="1.75" fill="#1d3213"/>
<rect y="73.2" height="1.75" fill="#1a2d11"/>
<rect y="74.45" height="1.75" fill="#1e3414"/>
<rect y="75.7" height="1.75" fill="#1d3314"/>
<rect y="76.95" height="1.75" fill="#203715"/>
<rect y="78.2" height="1.75" fill="#3e6e28"/>
<rect y="79.45" height="1.75" fill="#43762b"/>
<rect y="80.7" height="1.75" fill="#12200e"/>
<rect y="81.95" height="1.75" fill="#12200e"/>
<rect y="83.2" height="1.75" fill="#111e0d"/>
<rect y="84.45" height="1.75" fill="#10190c"/>
<rect y="85.7" height="1.75" fill="#10190b"/>
<rect y="86.95" height="1.75" fill="#0d1409"/>
<rect y="88.2" height="1.75" fill="#0d1509"/>
<rect y="89.45" height="1.75" fill="#090705"/>
<rect y="90.7" height="1.75" fill="#0c0907"/>
<rect y="91.95" height="1.75" fill="#0b0806"/>
<rect y="93.2" height="1.75" fill="#14220f"/>
<rect y="94.45" height="1.75" fill="#0f1b0b"/>
<rect y="95.7" height="1.75" fill="#111d0c"/>
<rect y="96.95" height="1.75" fill="#3d0808"/>
<rect y="98.2" height="1.75" fill="#0d0f09"/>
<rect y="99.45" height="1.75" fill="#0c0e08"/>
<rect y="100.7" height="1.75" fill="#0d1009"/>
<rect y="101.95" height="1.75" fill="#487b32"/>
<rect y="103.2" height="1.75" fill="#5a983e"/>
<rect y="104.45" height="1.75" fill="#5a983e"/>
<rect y="105.7" height="1.75" fill="#5a9d3f"/>
<rect y="106.95" height="1.75" fill="#56963c"/>
<rect y="108.2" height="1.75" fill="#53923b"/>
<rect y="109.45" height="1.75" fill="#487e32"/>
<rect y="110.7" height="1.75" fill="#4f8b38"/>
<rect y="111.95" height="1.75" fill="#4c8235"/>
<rect y="113.2" height="1.75" fill="#4e8737"/>
<rect y="114.45" height="1.75" fill="#4f8837"/>
<rect y="115.7" height="1.75" fill="#4c8436"/>
<rect y="116.95" height="1.75" fill="#447630"/>
<rect y="118.2" height="1.75" fill="#4f8938"/>
<rect y="119.45" height="1.75" fill="#508738"/>
<rect y="120.7" height="1.75" fill="#4a7d33"/>
<rect y="121.95" height="1.75" fill="#4b8035"/>
<rect y="123.2" height="1.75" fill="#4a7e34"/>
<rect y="124.45" height="1.75" fill="#4f8738"/>
<rect y="125.7" height="1.75" fill="#24441b"/>
<rect y="126.95" height="1.75" fill="#2d4f1d"/>
<rect y="128.2" height="1.75" fill="#365f23"/>
<rect y="129.45" height="1.75" fill="#396525"/>
<rect y="130.7" height="1.75" fill="#355e23"/>
<rect y="131.95" height="1.75" fill="#3a6821"/>
<rect y="133.2" height="1.75" fill="#396621"/>
<rect y="134.45" height="1.75" fill="#3d6d23"/>
<rect y="135.7" height="1.75" fill="#386320"/>
<rect y="136.95" height="1.75" fill="#386420"/>
<rect y="138.2" height="1.75" fill="#3a6822"/>
<rect y="139.45" height="1.75" fill="#355d1e"/>
<rect y="140.7" height="1.75" fill="#3c6a22"/>
<rect y="141.95" height="1.75" fill="#31571c"/>
<rect y="143.2" height="1.75" fill="#2d4f1c"/>
<rect y="144.45" height="1.75" fill="#68b03d"/>
<rect y="145.7" height="1.75" fill="#67af3c"/>
<rect y="146.95" height="1.75" fill="#71c142"/>
<rect y="148.2" height="0.1" fill="#6bb63f"/>
</g>
<g transform="translate(175.93 0)">
<rect y="23.2" height="1.75" fill="#410808"/>
<rect y="24.45" height="1.75" fill="#1c2811"/>
<rect y="25.7" height="1.75" fill="#1a240f"/>
<rect y="26.95" height="1.75" fill="#3a0808"/>
<rect y="28.2" height="1.75" fill="#3b0808"/>
<rect y="29.45" height="1.75" fill="#1e0909"/>
<rect y="30.7" height="1.75" fill="#161f0e"/>
<rect y="31.95" height="1.75" fill="#192511"/>
<rect y="33.2" height="1.75" fill="#480c0c"/>
<rect y="34.45" height="1.75" fill="#310808"/>
<rect y="35.7" height="1.75" fill="#2b0707"/>
<rect y="36.95" height="1.75" fill="#510e0e"/>
<rect y="38.2" height="1.75" fill="#590f0f"/>
<rect y="39.45" height="1.75" fill="#370a0a"/>
<rect y="40.7" height="1.75" fill="#981313"/>
<rect y="41.95" height="1.75" fill="#8e1212"/>
<rect y="43.2" height="1.75" fill="#121c0e"/>
<rect y="44.45" height="1.75" fill="#121c0e"/>
<rect y="45.7" height="1.75" fill="#14210f"/>
<rect y="46.95" height="1.75" fill="#131f0e"/>
<rect y="48.2" height="1.75" fill="#1a2a13"/>
<rect y="49.45" height="1.75" fill="#213817"/>
<rect y="50.7" height="1.75" fill="#253e1a"/>
<rect y="51.95" height="1.75" fill="#203717"/>
<rect y="53.2" height="1.75" fill="#2e5123"/>
<rect y="54.45" height="1.75" fill="#2b4b20"/>
<rect y="55.7" height="1.75" fill="#26431d"/>
<rect y="56.95" height="1.75" fill="#27441d"/>
<rect y="58.2" height="1.75" fill="#2e4d21"/>
<rect y="59.45" height="1.75" fill="#29441e"/>
<rect y="60.7" height="1.75" fill="#28431d"/>
<rect y="61.95" height="1.75" fill="#26431b"/>
<rect y="63.2" height="1.75" fill="#27451c"/>
<rect y="64.45" height="1.75" fill="#25431b"/>
<rect y="65.7" height="1.75" fill="#233f1a"/>
<rect y="66.95" height="1.75" fill="#2a4b1f"/>
<rect y="68.2" height="1.75" fill="#233e19"/>
<rect y="69.45" height="1.75" fill="#27441b"/>
<rect y="70.7" height="1.75" fill="#2c4c1e"/>
<rect y="71.95" height="1.75" fill="#1d3213"/>
<rect y="73.2" height="1.75" fill="#1b2f12"/>
<rect y="74.45" height="1.75" fill="#1c3012"/>
<rect y="75.7" height="1.75" fill="#1c3012"/>
<rect y="76.95" height="1.75" fill="#1f3715"/>
<rect y="78.2" height="1.75" fill="#3b6926"/>
<rect y="79.45" height="1.75" fill="#3e6e28"/>
<rect y="80.7" height="1.75" fill="#13210e"/>
<rect y="81.95" height="1.75" fill="#121f0d"/>
<rect y="83.2" height="1.75" fill="#101c0c"/>
<rect y="84.45" height="1.75" fill="#0e160a"/>
<rect y="85.7" height="1.75" fill="#0f170a"/>
<rect y="86.95" height="1.75" fill="#0d1409"/>
<rect y="88.2" height="1.75" fill="#0c1309"/>
<rect y="89.45" height="1.75" fill="#090705"/>
<rect y="90.7" height="1.75" fill="#0c0907"/>
<rect y="91.95" height="1.75" fill="#0a0806"/>
<rect y="93.2" height="1.75" fill="#13220e"/>
<rect y="94.45" height="1.75" fill="#0e190b"/>
<rect y="95.7" height="1.75" fill="#111e0d"/>
<rect y="96.95" height="1.75" fill="#3d0808"/>
<rect y="98.2" height="1.75" fill="#0d0f08"/>
<rect y="99.45" height="1.75" fill="#0b0d07"/>
<rect y="100.7" height="1.75" fill="#0e1009"/>
<rect y="101.95" height="1.75" fill="#467731"/>
<rect y="103.2" height="1.75" fill="#538d3a"/>
<rect y="104.45" height="1.75" fill="#5b9a3f"/>
<rect y="105.7" height="1.75" fill="#54933b"/>
<rect y="106.95" height="1.75" fill="#4e8837"/>
<rect y="108.2" height="1.75" fill="#508d39"/>
<rect y="109.45" height="1.75" fill="#467a31"/>
<rect y="110.7" height="1.75" fill="#4e8a37"/>
<rect y="111.95" height="1.75" fill="#43742f"/>
<rect y="113.2" height="1.75" fill="#4b8134"/>
<rect y="114.45" height="1.75" fill="#4e8737"/>
<rect y="115.7" height="1.75" fill="#4e8838"/>
<rect y="116.95" height="1.75" fill="#477b32"/>
<rect y="118.2" height="1.75" fill="#4e8737"/>
<rect y="119.45" height="1.75" fill="#4c8235"/>
<rect y="120.7" height="1.75" fill="#4a7e34"/>
<rect y="121.95" height="1.75" fill="#4a7f34"/>
<rect y="123.2" height="1.75" fill="#447430"/>
<rect y="124.45" height="1.75" fill="#4f8637"/>
<rect y="125.7" height="1.75" fill="#223f1a"/>
<rect y="126.95" height="1.75" fill="#2b4b1c"/>
<rect y="128.2" height="1.75" fill="#345b22"/>
<rect y="129.45" height="1.75" fill="#3b6726"/>
<rect y="130.7" height="1.75" fill="#345a21"/>
<rect y="131.95" height="1.75" fill="#3a6721"/>
<rect y="133.2" height="1.75" fill="#37611f"/>
<rect y="134.45" height="1.75" fill="#376220"/>
<rect y="135.7" height="1.75" fill="#36611f"/>
<rect y="136.95" height="1.75" fill="#386420"/>
<rect y="138.2" height="1.75" fill="#396621"/>
<rect y="139.45" height="1.75" fill="#30551b"/>
<rect y="140.7" height="1.75" fill="#396621"/>
<rect y="141.95" height="1.75" fill="#2f541b"/>
<rect y="143.2" height="1.75" fill="#2a491a"/>
<rect y="144.45" height="1.75" fill="#65ac3b"/>
<rect y="145.7" height="1.75" fill="#69b33e"/>
<rect y="146.95" height="1.75" fill="#75c745"/>
<rect y="148.2" height="0.1" fill="#6fbc41"/>
</g>
<g transform="translate(192.55 0)">
<rect y="23.2" height="1.75" fill="#3b0707"/>
<rect y="24.45" height="1.75" fill="#1c2811"/>
<rect y="25.7" height="1.75" fill="#1a2410"/>
<rect y="26.95" height="1.75" fill="#360808"/>
<rect y="28.2" height="1.75" fill="#3c0909"/>
<rect y="29.45" height="1.75" fill="#200a0a"/>
<rect y="30.7" height="1.75" fill="#151e0e"/>
<rect y="31.95" height="1.75" fill="#192511"/>
<rect y="33.2" height="1.75" fill="#470c0c"/>
<rect y="34.45" height="1.75" fill="#2e0707"/>
<rect y="35.7" height="1.75" fill="#2a0707"/>
<rect y="36.95" height="1.75" fill="#4f0e0e"/>
<rect y="38.2" height="1.75" fill="#560f0f"/>
<rect y="39.45" height="1.75" fill="#340909"/>
<rect y="40.7" height="1.75" fill="#8a1212"/>
<rect y="41.95" height="1.75" fill="#8e1212"/>
<rect y="43.2" height="1.75" fill="#131e0f"/>
<rect y="44.45" height="1.75" fill="#121c0e"/>
<rect y="45.7" height="1.75" fill="#14210f"/>
<rect y="46.95" height="1.75" fill="#131f0e"/>
<rect y="48.2" height="1.75" fill="#182812"/>
<rect y="49.45" height="1.75" fill="#213817"/>
<rect y="50.7" height="1.75" fill="#233c19"/>
<rect y="51.95" height="1.75" fill="#213817"/>
<rect y="53.2" height="1.75" fill="#2a491f"/>
<rect y="54.45" height="1.75" fill="#28461e"/>
<rect y="55.7" height="1.75" fill="#243f1b"/>
<rect y="56.95" height="1.75" fill="#24401b"/>
<rect y="58.2" height="1.75" fill="#2d4b20"/>
<rect y="59.45" height="1.75" fill="#253e1b"/>
<rect y="60.7" height="1.75" fill="#27421c"/>
<rect y="61.95" height="1.75" fill="#24401a"/>
<rect y="63.2" height="1.75" fill="#26441c"/>
<rect y="64.45" height="1.75" fill="#25411b"/>
<rect y="65.7" height="1.75" fill="#243f1a"/>
<rect y="66.95" height="1.75" fill="#29491d"/>
<rect y="68.2" height="1.75" fill="#223d19"/>
<rect y="69.45" height="1.75" fill="#26421b"/>
<rect y="70.7" height="1.75" fill="#2a491d"/>
<rect y="71.95" height="1.75" fill="#1c3013"/>
<rect y="73.2" height="1.75" fill="#1b2e12"/>
<rect y="74.45" height="1.75" fill="#1b2e12"/>
<rect y="75.7" height="1.75" fill="#1c3013"/>
<rect y="76.95" height="1.75" fill="#1d3213"/>
<rect y="78.2" height="1.75" fill="#366023"/>
<rect y="79.45" height="1.75" fill="#3a6826"/>
<rect y="80.7" height="1.75" fill="#111e0d"/>
<rect y="81.95" height="1.75" fill="#13210e"/>
<rect y="83.2" height="1.75" fill="#111e0d"/>
<rect y="84.45" height="1.75" fill="#0e160a"/>
<rect y="85.7" height="1.75" fill="#0e160a"/>
<rect y="86.95" height="1.75" fill="#0c1309"/>
<rect y="88.2" height="1.75" fill="#0d1409"/>
<rect y="89.45" height="1.75" fill="#080705"/>
<rect y="90.7" height="1.75" fill="#0b0907"/>
<rect y="91.95" height="1.75" fill="#0b0906"/>
<rect y="93.2" height="1.75" fill="#13210e"/>
<rect y="94.45" height="1.75" fill="#0d170a"/>
<rect y="95.7" height="1.75" fill="#101c0c"/>
<rect y="96.95" height="1.75" fill="#390808"/>
<rect y="98.2" height="1.75" fill="#0c0e08"/>
<rect y="99.45" height="1.75" fill="#0c0e08"/>
<rect y="100.7" height="1.75" fill="#0d1009"/>
<rect y="101.95" height="1.75" fill="#4b7f34"/>
<rect y="103.2" height="1.75" fill="#548e3a"/>
<rect y="104.45" height="1.75" fill="#538d3a"/>
<rect y="105.7" height="1.75" fill="#518d39"/>
<rect y="106.95" height="1.75" fill="#4c8536"/>
<rect y="108.2" height="1.75" fill="#498134"/>
<rect y="109.45" height="1.75" fill="#457930"/>
<rect y="110.7" height="1.75" fill="#4b8335"/>
<rect y="111.95" height="1.75" fill="#41702d"/>
<rect y="113.2" height="1.75" fill="#4a7f34"/>
<rect y="114.45" height="1.75" fill="#4f8837"/>
<rect y="115.7" height="1.75" fill="#4b8336"/>
<rect y="116.95" height="1.75" fill="#406e2d"/>
<rect y="118.2" height="1.75" fill="#4b8336"/>
<rect y="119.45" height="1.75" fill="#4d8236"/>
<rect y="120.7" height="1.75" fill="#4b8035"/>
<rect y="121.95" height="1.75" fill="#4c8035"/>
<rect y="123.2" height="1.75" fill="#42712e"/>
<rect y="124.45" height="1.75" fill="#477831"/>
<rect y="125.7" height="1.75" fill="#22401a"/>
<rect y="126.95" height="1.75" fill="#2b4c1c"/>
<rect y="128.2" height="1.75" fill="#315620"/>
<rect y="129.45" height="1.75" fill="#365e23"/>
<rect y="130.7" height="1.75" fill="#376024"/>
<rect y="131.95" height="1.75" fill="#376220"/>
<rect y="133.2" height="1.75" fill="#335a1d"/>
<rect y="134.45" height="1.75" fill="#386420"/>
<rect y="135.7" height="1.75" fill="#355e1e"/>
<rect y="136.95" height="1.75" fill="#32591d"/>
<rect y="138.2" height="1.75" fill="#376320"/>
<rect y="139.45" height="1.75" fill="#30561c"/>
<rect y="140.7" height="1.75" fill="#3a6721"/>
<rect y="141.95" height="1.75" fill="#30561c"/>
<rect y="143.2" height="1.75" fill="#2d501c"/>
<rect y="144.45" height="1.75" fill="#66ae3c"/>
<rect y="145.7" height="1.75" fill="#63a93a"/>
<rect y="146.95" height="1.75" fill="#75c644"/>
<rect y="148.2" height="0.1" fill="#66ad3b"/>
</g>
<g transform="translate(209.18 0)">
<rect y="23.2" height="1.75" fill="#410808"/>
<rect y="24.45" height="1.75" fill="#1f2c13"/>
<rect y="25.7" height="1.75" fill="#1c2811"/>
<rect y="26.95" height="1.75" fill="#3c0909"/>
<rect y="28.2" height="1.75" fill="#3d0909"/>
<rect y="29.45" height="1.75" fill="#210a0a"/>
<rect y="30.7" height="1.75" fill="#151e0e"/>
<rect y="31.95" height="1.75" fill="#1b2712"/>
<rect y="33.2" height="1.75" fill="#460c0c"/>
<rect y="34.45" height="1.75" fill="#2d0707"/>
<rect y="35.7" height="1.75" fill="#2e0707"/>
<rect y="36.95" height="1.75" fill="#520e0e"/>
<rect y="38.2" height="1.75" fill="#580f0f"/>
<rect y="39.45" height="1.75" fill="#370a0a"/>
<rect y="40.7" height="1.75" fill="#8d1212"/>
<rect y="41.95" height="1.75" fill="#8f1212"/>
<rect y="43.2" height="1.75" fill="#131e0f"/>
<rect y="44.45" height="1.75" fill="#121b0e"/>
<rect y="45.7" height="1.75" fill="#15220f"/>
<rect y="46.95" height="1.75" fill="#13200e"/>
<rect y="48.2" height="1.75" fill="#192812"/>
<rect y="49.45" height="1.75" fill="#203717"/>
<rect y="50.7" height="1.75" fill="#253f1a"/>
<rect y="51.95" height="1.75" fill="#203616"/>
<rect y="53.2" height="1.75" fill="#2e5022"/>
<rect y="54.45" height="1.75" fill="#2c4d21"/>
<rect y="55.7" height="1.75" fill="#27451e"/>
<rect y="56.95" height="1.75" fill="#27441d"/>
<rect y="58.2" height="1.75" fill="#2e4d21"/>
<rect y="59.45" height="1.75" fill="#28431d"/>
<rect y="60.7" height="1.75" fill="#2a461e"/>
<rect y="61.95" height="1.75" fill="#24401a"/>
<rect y="63.2" height="1.75" fill="#29481d"/>
<rect y="64.45" height="1.75" fill="#25411a"/>
<rect y="65.7" height="1.75" fill="#233e19"/>
<rect y="66.95" height="1.75" fill="#2a4b1e"/>
<rect y="68.2" height="1.75" fill="#223d19"/>
<rect y="69.45" height="1.75" fill="#28461c"/>
<rect y="70.7" height="1.75" fill="#2b4b1e"/>
<rect y="71.95" height="1.75" fill="#1d3213"/>
<rect y="73.2" height="1.75" fill="#1b2f12"/>
<rect y="74.45" height="1.75" fill="#1e3314"/>
<rect y="75.7" height="1.75" fill="#1e3414"/>
<rect y="76.95" height="1.75" fill="#1f3615"/>
<rect y="78.2" height="1.75" fill="#3c6a27"/>
<rect y="79.45" height="1.75" fill="#3d6c27"/>
<rect y="80.7" height="1.75" fill="#12200e"/>
<rect y="81.95" height="1.75" fill="#13210e"/>
<rect y="83.2" height="1.75" fill="#12200e"/>
<rect y="84.45" height="1.75" fill="#0f180b"/>
<rect y="85.7" height="1.75" fill="#0f180b"/>
<rect y="86.95" height="1.75" fill="#0e160a"/>
<rect y="88.2" height="1.75" fill="#0d1509"/>
<rect y="89.45" height="1.75" fill="#090705"/>
<rect y="90.7" height="1.75" fill="#0c0907"/>
<rect y="91.95" height="1.75" fill="#0b0907"/>
<rect y="93.2" height="1.75" fill="#13210e"/>
<rect y="94.45" height="1.75" fill="#0e190b"/>
<rect y="95.7" height="1.75" fill="#121f0d"/>
<rect y="96.95" height="1.75" fill="#3f0909"/>
<rect y="98.2" height="1.75" fill="#0d0f09"/>
<rect y="99.45" height="1.75" fill="#0c0e08"/>
<rect y="100.7" height="1.75" fill="#0d1009"/>
<rect y="101.95" height="1.75" fill="#487b32"/>
<rect y="103.2" height="1.75" fill="#57943d"/>
<rect y="104.45" height="1.75" fill="#5a983e"/>
<rect y="105.7" height="1.75" fill="#54933b"/>
<rect y="106.95" height="1.75" fill="#56983d"/>
<rect y="108.2" height="1.75" fill="#4e8837"/>
<rect y="109.45" height="1.75" fill="#487f33"/>
<rect y="110.7" height="1.75" fill="#4b8335"/>
<rect y="111.95" height="1.75" fill="#497e33"/>
<rect y="113.2" height="1.75" fill="#4c8335"/>
<rect y="114.45" height="1.75" fill="#4e8737"/>
<rect y="115.7" height="1.75" fill="#4f8938"/>
<rect y="116.95" height="1.75" fill="#457731"/>
<rect y="118.2" height="1.75" fill="#4a8135"/>
<rect y="119.45" height="1.75" fill="#528c3a"/>
<rect y="120.7" height="1.75" fill="#4e8436"/>
<rect y="121.95" height="1.75" fill="#4e8437"/>
<rect y="123.2" height="1.75" fill="#497d33"/>
<rect y="124.45" height="1.75" fill="#4d8336"/>
<rect y="125.7" height="1.75" fill="#26471d"/>
<rect y="126.95" height="1.75" fill="#2e511e"/>
<rect y="128.2" height="1.75" fill="#335921"/>
<rect y="129.45" height="1.75" fill="#386224"/>
<rect y="130.7" height="1.75" fill="#3a6525"/>
<rect y="131.95" height="1.75" fill="#3a6822"/>
<rect y="133.2" height="1.75" fill="#386320"/>
<rect y="134.45" height="1.75" fill="#3d6d23"/>
<rect y="135.7" height="1.75" fill="#3b6822"/>
<rect y="136.95" height="1.75" fill="#3a6821"/>
<rect y="138.2" height="1.75" fill="#407125"/>
<rect y="139.45" height="1.75" fill="#30551b"/>
<rect y="140.7" height="1.75" fill="#3d6c23"/>
<rect y="141.95" height="1.75" fill="#31571c"/>
<rect y="143.2" height="1.75" fill="#2d501c"/>
<rect y="144.45" height="1.75" fill="#6cb73f"/>
<rect y="145.7" height="1.75" fill="#63a83a"/>
<rect y="146.95" height="1.75" fill="#78cb46"/>
<rect y="148.2" height="0.1" fill="#6fbc41"/>
</g>
</g>
<rect x="26.1" y="23.2" width="0.8" height="125.1" fill="#101010"/>
<text x="33.9" y="21.9" font-size="4.3" fill="#000" transform="rotate(-45 33.9 21.9)" stroke="#000" stroke-width="0.07">Het1</text>
<text x="50.3" y="21.9" font-size="4.3" fill="#000" transform="rotate(-45 50.3 21.9)" stroke="#000" stroke-width="0.07">Het2</text>
<text x="66.6" y="21.9" font-size="4.3" fill="#000" transform="rotate(-45 66.6 21.9)" stroke="#000" stroke-width="0.07">Het3</text>
<text x="83" y="21.9" font-size="4.3" fill="#000" transform="rotate(-45 83 21.9)" stroke="#000" stroke-width="0.07">HetMO1</text>
<text x="100.3" y="21.9" font-size="4.3" fill="#000" transform="rotate(-45 100.3 21.9)" stroke="#000" stroke-width="0.07">HetMO2</text>
<text x="117.5" y="21.9" font-size="4.3" fill="#000" transform="rotate(-45 117.5 21.9)" stroke="#000" stroke-width="0.07">HetMO3</text>
<text x="134.9" y="21.9" font-size="4.3" fill="#000" transform="rotate(-45 134.9 21.9)" stroke="#000" stroke-width="0.07">Hom1</text>
<text x="151.6" y="21.9" font-size="4.3" fill="#000" transform="rotate(-45 151.6 21.9)" stroke="#000" stroke-width="0.07">Hom2</text>
<text x="168" y="21.9" font-size="4.3" fill="#000" transform="rotate(-45 168 21.9)" stroke="#000" stroke-width="0.07">Hom3</text>
<text x="184.2" y="21.9" font-size="4.3" fill="#000" transform="rotate(-45 184.2 21.9)" stroke="#000" stroke-width="0.07">HomMO1</text>
<text x="200.4" y="21.9" font-size="4.3" fill="#000" transform="rotate(-45 200.4 21.9)" stroke="#000" stroke-width="0.07">HomMO2</text>
<text x="212.4" y="21.9" font-size="4.3" fill="#000" transform="rotate(-45 212.4 21.9)" stroke="#000" stroke-width="0.07">HomMO3</text>
<defs><linearGradient id="cb" x1="0" y1="0" x2="0" y2="1"><stop offset="0" stop-color="#6cb040"/><stop offset="0.22" stop-color="#3f7a28"/><stop offset="0.5" stop-color="#050505"/><stop offset="0.78" stop-color="#6a0a0a"/><stop offset="1" stop-color="#d81818"/></linearGradient></defs>
<rect x="7.6" y="109.2" width="7.8" height="38.4" fill="url(#cb)"/>
<line x1="17.4" y1="108.8" x2="17.4" y2="148" stroke="#111" stroke-width="0.9"/>
<line x1="17.4" y1="113.6" x2="18.6" y2="113.6" stroke="#111" stroke-width="0.6"/>
<text x="19" y="115.1" font-size="4.2" fill="#333" stroke="#333" stroke-width="0.07">10</text>
<line x1="17.4" y1="121.2" x2="18.6" y2="121.2" stroke="#111" stroke-width="0.6"/>
<text x="19" y="122.7" font-size="4.2" fill="#333" stroke="#333" stroke-width="0.07">5</text>
<line x1="17.4" y1="128.4" x2="18.6" y2="128.4" stroke="#111" stroke-width="0.6"/>
<text x="19" y="129.9" font-size="4.2" fill="#333" stroke="#333" stroke-width="0.07">0</text>
<line x1="17.4" y1="136" x2="18.6" y2="136" stroke="#111" stroke-width="0.6"/>
<text x="19" y="137.5" font-size="4.2" fill="#333" stroke="#333" stroke-width="0.07">−5</text>
<line x1="17.4" y1="143.4" x2="18.6" y2="143.4" stroke="#111" stroke-width="0.6"/>
<text x="19" y="144.9" font-size="4.2" fill="#333" stroke="#333" stroke-width="0.07">−10</text>
<text x="245.1" y="17" font-size="11.8" fill="#111">B</text>
<line x1="258.4" y1="25.8" x2="258.4" y2="147.1" stroke="#111" stroke-width="1.1"/>
<line x1="257.9" y1="146.6" x2="384.8" y2="146.6" stroke="#111" stroke-width="1.1"/>
<line x1="255.2" y1="47.06" x2="258.4" y2="47.06" stroke="#111" stroke-width="0.8"/>
<text x="252" y="49.06" font-size="5.6" fill="#2a2a2a" text-anchor="end" stroke="#2a2a2a" stroke-width="0.14">40</text>
<line x1="255.2" y1="68.38" x2="258.4" y2="68.38" stroke="#111" stroke-width="0.8"/>
<text x="252" y="70.38" font-size="5.6" fill="#2a2a2a" text-anchor="end" stroke="#2a2a2a" stroke-width="0.14">20</text>
<line x1="255.2" y1="89.7" x2="258.4" y2="89.7" stroke="#111" stroke-width="0.8"/>
<text x="252" y="91.7" font-size="5.6" fill="#2a2a2a" text-anchor="end" stroke="#2a2a2a" stroke-width="0.14">0</text>
<line x1="255.2" y1="111.02" x2="258.4" y2="111.02" stroke="#111" stroke-width="0.8"/>
<text x="252" y="113.02" font-size="5.6" fill="#2a2a2a" text-anchor="end" stroke="#2a2a2a" stroke-width="0.14">−20</text>
<line x1="255.2" y1="132.34" x2="258.4" y2="132.34" stroke="#111" stroke-width="0.8"/>
<text x="252" y="134.34" font-size="5.6" fill="#2a2a2a" text-anchor="end" stroke="#2a2a2a" stroke-width="0.14">−40</text>
<line x1="260.3" y1="146.6" x2="260.3" y2="149" stroke="#111" stroke-width="0.8"/>
<text x="260.3" y="157.8" font-size="5.6" fill="#333" text-anchor="middle" stroke="#333" stroke-width="0.14">−100</text>
<line x1="274.07" y1="146.6" x2="274.07" y2="149" stroke="#111" stroke-width="0.8"/>
<text x="274.07" y="157.8" font-size="5.6" fill="#333" text-anchor="middle" stroke="#333" stroke-width="0.14">−75</text>
<line x1="287.85" y1="146.6" x2="287.85" y2="149" stroke="#111" stroke-width="0.8"/>
<text x="287.85" y="157.8" font-size="5.6" fill="#333" text-anchor="middle" stroke="#333" stroke-width="0.14">−50</text>
<line x1="301.62" y1="146.6" x2="301.62" y2="149" stroke="#111" stroke-width="0.8"/>
<text x="301.62" y="157.8" font-size="5.6" fill="#333" text-anchor="middle" stroke="#333" stroke-width="0.14">−25</text>
<line x1="315.4" y1="146.6" x2="315.4" y2="149" stroke="#111" stroke-width="0.8"/>
<text x="315.4" y="157.8" font-size="5.6" fill="#333" text-anchor="middle" stroke="#333" stroke-width="0.14">0</text>
<line x1="329.17" y1="146.6" x2="329.17" y2="149" stroke="#111" stroke-width="0.8"/>
<text x="329.17" y="157.8" font-size="5.6" fill="#333" text-anchor="middle" stroke="#333" stroke-width="0.14">25</text>
<line x1="342.95" y1="146.6" x2="342.95" y2="149" stroke="#111" stroke-width="0.8"/>
<text x="342.95" y="157.8" font-size="5.6" fill="#333" text-anchor="middle" stroke="#333" stroke-width="0.14">50</text>
<line x1="356.72" y1="146.6" x2="356.72" y2="149" stroke="#111" stroke-width="0.8"/>
<text x="356.72" y="157.8" font-size="5.6" fill="#333" text-anchor="middle" stroke="#333" stroke-width="0.14">75</text>
<line x1="370.5" y1="146.6" x2="370.5" y2="149" stroke="#111" stroke-width="0.8"/>
<text x="370.5" y="157.8" font-size="5.6" fill="#333" text-anchor="middle" stroke="#333" stroke-width="0.14">100</text>
<line x1="258.4" y1="89.7" x2="384.8" y2="89.7" stroke="#8a8a8a" stroke-width="0.8"/>
<line x1="315.4" y1="25.8" x2="315.4" y2="142" stroke="#8a8a8a" stroke-width="0.8"/>
<text x="262.6" y="27.3" font-size="4.3" stroke="#222" stroke-width="0.07">PC2 (10%)</text>
<text x="261.6" y="32.5" font-size="4.3" fill="#3b5ba5" stroke="#3b5ba5" stroke-width="0.07">Het</text>
<text x="261.6" y="37.8" font-size="4.3" fill="#b31d3b" stroke="#b31d3b" stroke-width="0.07">HetMO</text>
<text x="261.6" y="43" font-size="4.3" fill="#6aaa45" stroke="#6aaa45" stroke-width="0.07">Hom</text>
<text x="261.6" y="48.4" font-size="4.3" fill="#efa33a" stroke="#efa33a" stroke-width="0.07">HomMO</text>
<text x="366" y="27.3" font-size="4.3" stroke="#222" stroke-width="0.07">All Probes</text>
<rect x="259.45" y="57.05" width="2.3" height="2.3" fill="#1c3a88"/>
<rect x="263.35" y="52.85" width="2.3" height="2.3" fill="#1c3a88"/>
<rect x="267.15" y="57.65" width="2.3" height="2.3" fill="#1c3a88"/>
<rect x="273.25" y="127.05" width="2.3" height="2.3" fill="#a3001f"/>
<rect x="262.15" y="135.15" width="2.3" height="2.3" fill="#a3001f"/>
<rect x="264.85" y="140.05" width="2.3" height="2.3" fill="#a3001f"/>
<rect x="352.55" y="30.25" width="2.3" height="2.3" fill="#3f9b20"/>
<rect x="350.35" y="35.35" width="2.3" height="2.3" fill="#3f9b20"/>
<rect x="350.35" y="43.75" width="2.3" height="2.3" fill="#3f9b20"/>
<rect x="372.65" y="125.05" width="2.3" height="2.3" fill="#f08c10"/>
<rect x="380.35" y="121.35" width="2.3" height="2.3" fill="#f08c10"/>
<rect x="374.85" y="137.85" width="2.3" height="2.3" fill="#f08c10"/>
<text x="305.4" y="166.3" font-size="7.6" textLength="32.3" lengthAdjust="spacingAndGlyphs">PC1 (51%)</text>
<polyline points="315.4,170.6 315.4,173.8 457.2,173.8 457.2,155" fill="none" stroke="#333" stroke-width="1"/>
<path d="M457.2 152.4 L455.2 157 L459.2 157 Z" fill="#222"/>
<line x1="406.3" y1="35" x2="406.3" y2="137.5" stroke="#111" stroke-width="1.1"/>
<line x1="405.8" y1="137" x2="512.5" y2="137" stroke="#111" stroke-width="1.1"/>
<line x1="403.5" y1="38.05" x2="406.3" y2="38.05" stroke="#111" stroke-width="0.8"/>
<text x="400.3" y="40.05" font-size="5.4" fill="#2a2a2a" text-anchor="end" stroke="#2a2a2a" stroke-width="0.14">15</text>
<line x1="403.5" y1="48.58" x2="406.3" y2="48.58" stroke="#111" stroke-width="0.8"/>
<text x="400.3" y="50.58" font-size="5.4" fill="#2a2a2a" text-anchor="end" stroke="#2a2a2a" stroke-width="0.14">12.5</text>
<line x1="403.5" y1="59.1" x2="406.3" y2="59.1" stroke="#111" stroke-width="0.8"/>
<text x="400.3" y="61.1" font-size="5.4" fill="#2a2a2a" text-anchor="end" stroke="#2a2a2a" stroke-width="0.14">10</text>
<line x1="403.5" y1="69.62" x2="406.3" y2="69.62" stroke="#111" stroke-width="0.8"/>
<text x="400.3" y="71.62" font-size="5.4" fill="#2a2a2a" text-anchor="end" stroke="#2a2a2a" stroke-width="0.14">7.5</text>
<line x1="403.5" y1="80.15" x2="406.3" y2="80.15" stroke="#111" stroke-width="0.8"/>
<text x="400.3" y="82.15" font-size="5.4" fill="#2a2a2a" text-anchor="end" stroke="#2a2a2a" stroke-width="0.14">5</text>
<line x1="403.5" y1="90.67" x2="406.3" y2="90.67" stroke="#111" stroke-width="0.8"/>
<text x="400.3" y="92.67" font-size="5.4" fill="#2a2a2a" text-anchor="end" stroke="#2a2a2a" stroke-width="0.14">2.5</text>
<line x1="403.5" y1="101.2" x2="406.3" y2="101.2" stroke="#111" stroke-width="0.8"/>
<text x="400.3" y="103.2" font-size="5.4" fill="#2a2a2a" text-anchor="end" stroke="#2a2a2a" stroke-width="0.14">0</text>
<line x1="403.5" y1="111.73" x2="406.3" y2="111.73" stroke="#111" stroke-width="0.8"/>
<text x="400.3" y="113.73" font-size="5.4" fill="#2a2a2a" text-anchor="end" stroke="#2a2a2a" stroke-width="0.14">−2.5</text>
<line x1="403.5" y1="122.25" x2="406.3" y2="122.25" stroke="#111" stroke-width="0.8"/>
<text x="400.3" y="124.25" font-size="5.4" fill="#2a2a2a" text-anchor="end" stroke="#2a2a2a" stroke-width="0.14">−5</text>
<line x1="403.5" y1="132.78" x2="406.3" y2="132.78" stroke="#111" stroke-width="0.8"/>
<text x="400.3" y="134.78" font-size="5.4" fill="#2a2a2a" text-anchor="end" stroke="#2a2a2a" stroke-width="0.14">−7.5</text>
<line x1="410.4" y1="137" x2="410.4" y2="139.4" stroke="#111" stroke-width="0.8"/>
<text x="410.4" y="148.8" font-size="5.4" fill="#333" text-anchor="middle" stroke="#333" stroke-width="0.14">−7.5</text>
<line x1="421.4" y1="137" x2="421.4" y2="139.4" stroke="#111" stroke-width="0.8"/>
<text x="421.4" y="148.8" font-size="5.4" fill="#333" text-anchor="middle" stroke="#333" stroke-width="0.14">−5</text>
<line x1="432.4" y1="137" x2="432.4" y2="139.4" stroke="#111" stroke-width="0.8"/>
<text x="432.4" y="148.8" font-size="5.4" fill="#333" text-anchor="middle" stroke="#333" stroke-width="0.14">−2.5</text>
<line x1="443.4" y1="137" x2="443.4" y2="139.4" stroke="#111" stroke-width="0.8"/>
<text x="443.4" y="148.8" font-size="5.4" fill="#333" text-anchor="middle" stroke="#333" stroke-width="0.14">0</text>
<line x1="454.4" y1="137" x2="454.4" y2="139.4" stroke="#111" stroke-width="0.8"/>
<text x="454.4" y="148.8" font-size="5.4" fill="#333" text-anchor="middle" stroke="#333" stroke-width="0.14">2.5</text>
<line x1="465.4" y1="137" x2="465.4" y2="139.4" stroke="#111" stroke-width="0.8"/>
<text x="465.4" y="148.8" font-size="5.4" fill="#333" text-anchor="middle" stroke="#333" stroke-width="0.14">5</text>
<line x1="476.4" y1="137" x2="476.4" y2="139.4" stroke="#111" stroke-width="0.8"/>
<text x="476.4" y="148.8" font-size="5.4" fill="#333" text-anchor="middle" stroke="#333" stroke-width="0.14">7.5</text>
<line x1="487.4" y1="137" x2="487.4" y2="139.4" stroke="#111" stroke-width="0.8"/>
<text x="487.4" y="148.8" font-size="5.4" fill="#333" text-anchor="middle" stroke="#333" stroke-width="0.14">10</text>
<line x1="498.4" y1="137" x2="498.4" y2="139.4" stroke="#111" stroke-width="0.8"/>
<text x="498.4" y="148.8" font-size="5.4" fill="#333" text-anchor="middle" stroke="#333" stroke-width="0.14">12.5</text>
<line x1="509.4" y1="137" x2="509.4" y2="139.4" stroke="#111" stroke-width="0.8"/>
<text x="509.4" y="148.8" font-size="5.4" fill="#333" text-anchor="middle" stroke="#333" stroke-width="0.14">15</text>
<line x1="407.4" y1="135.78" x2="510.28" y2="37.21" stroke="#c8c8c8" stroke-width="0.5"/>
<text x="409" y="40" font-size="4.2" stroke="#222" stroke-width="0.07">Het</text>
<text x="409" y="45.6" font-size="4.2" fill="#3d7cc4" stroke="#3d7cc4" stroke-width="0.07">PC1 probes</text>
<text x="511.8" y="130" font-size="4" text-anchor="end" stroke="#222" stroke-width="0.07">Hom</text>
<text x="511.8" y="135.3" font-size="4" text-anchor="end" stroke="#222" stroke-width="0.07">R = 0.978</text>
<path transform="scale(.25)" d="M1630 496h3m-3 7h3m-2-8h3m-2-11h3m-3 10h3m-2-14h3m-3 4h3m-3 14h3m-3 4h3m-2-11h3m-3 1h3m-2-25h3m-3 17h3m-3 13h3m-2-19h3m-1 9h3m-3 0h3m-3 10h3m-2-13h3m-3 1h3m-3 0h3m-3 7h3m-3 8h3m-3 8h3m-2-49h3m-3 47h3m-3 3h3m-2-23h3m-3 5h3m-3 11h3m-3 0h3m-3 9h3m-3 1h3m-2-69h3m-3 27h3m-3 7h3m-3 28h3m-3 3h3m-2-4h3m-3 2h3m-3 2h3m-2-27h3m-3 2h3m-3 3h3m-3 11h3m-3 1h3m-3 11h3m-3 2h3m-3 2h3m-3 1h3m-3 1h3m-2-50h3m-3 10h3m-3 5h3m-3 14h3m-3 5h3m-3 12h3m-2-15h3m-3 3h3m-2-3h3m-3 17h3m-3 6h3m-2-37h3m-3 20h3m-3 1h3m-2-33h3m-3 38h3m-2-81h3m-3 64h3m-3 1h3m-2 2h3m-3 4h3m-3 11h3m-2-19h3m-3 7h3m-3 8h3m-3 1h3m-3 6h3m-3 1h3m-3 2h3m-2-15h3m-3 6h3m-3 5h3m-3 4h3m-3 1h3m-3 1h3m-2-27h3m-3 3h3m-3 18h3m-3 1h3m-3 1h3m-3 3h3m-2-29h3m-3 1h3m-2-21h3m-3 4h3m-3 1h3m-3 8h3m-3 13h3m-3 20h3m-3 0h3m-2-31h3m-3 26h3m-3 2h3m-3 18h3m-2-53h3m-3 22h3m-3 8h3m-2-30h3m-3 11h3m-3 3h3m-3 8h3m-3 20h3m-3 7h3m-3 6h3m-2-67h3m-3 9h3m-3 4h3m-3 15h3m-3 1h3m-3 1h3m-3 4h3m-3 4h3m-3 1h3m-3 15h3m-3 1h3m-3 9h3m-2-57h3m-3 20h3m-3 8h3m-2-3h3m-3 4h3m-3 2h3m-2-15h3m-3 3h3m-3 14h3m-3 4h3m-2-29h3m-3 5h3m-3 48h3m-2-48h3m-3 9h3m-2-4h3m-3 0h3m-3 0h3m-3 2h3m-3 0h3m-3 6h3m-3 23h3m-2-40h3m-3 6h3m-3 2h3m-3 1h3m-3 1h3m-3 7h3m-3 4h3m-3 12h3m-3 6h3m-2-30h3m-3 1h3m-3 3h3m-3 1h3m-3 5h3m-3 2h3m-3 2h3m-3 0h3m-2-26h3m-3 15h3m-3 1h3m-3 18h3m-3 0h3m-3 12h3m-2-45h3m-3 12h3m-3 23h3m-2-55h3m-3 5h3m-3 14h3m-3 15h3m-3 1h3m-3 1h3m-3 6h3m-3 1h3m-2-115h3m-3 102h3m-3 8h3m-3 17h3m-3 4h3m-2-94h3m-3 28h3m-3 2h3m-3 2h3m-3 7h3m-3 9h3m-3 12h3m-3 7h3m-2-24h3m-3 5h3m-3 1h3m-3 20h3m-3 16h3m-2-59h3m-3 5h3m-3 11h3m-3 9h3m-3 16h3m-3 5h3m-2-48h3m-3 39h3m-3 3h3m-3 4h3m-3 3h3m-3 0h3m-3 7h3m-3 14h3m-2-47h3m-3 9h3m-3 2h3m-3 1h3m-3 9h3m-2-48h3m-3 5h3m-3 20h3m-3 2h3m-3 14h3m-3 6h3m-3 1h3m-3 8h3m-2-52h3m-3 14h3m-3 21h3m-3 4h3m-3 22h3m-2-55h3m-3 11h3m-3 20h3m-3 2h3m-3 19h3m-2-57h3m-3 5h3m-3 23h3m-3 5h3m-3 1h3m-3 7h3m-3 0h3m-3 8h3m-2-38h3m-3 17h3m-2-19h3m-3 5h3m-3 8h3m-3 17h3m-3 10h3m-2-40h3m-3 7h3m-3 20h3m-3 1h3m-3 3h3m-3 0h3m-3 0h3m-2-7h3m-3 1h3m-2-39h3m-3 9h3m-3 6h3m-3 11h3m-3 1h3m-3 15h3m-3 5h3m-2-48h3m-3 23h3m-3 3h3m-3 1h3m-3 0h3m-3 1h3m-2-22h3m-3 11h3m-3 0h3m-3 1h3m-3 1h3m-3 6h3m-3 5h3m-2-7h3m-3 1h3m-3 1h3m-2 8h3m-3 0h3m-3 1h3m-3 24h3m-2-41h3m-3 28h3m-2-70h3m-3 26h3m-3 30h3m-2-23h3m-3 1h3m-3 4h3m-3 11h3m-3 8h3m-2-26h3m-3 13h3m-3 13h3m-3 16h3m-3 4h3m-2-38h3m-3 1h3m-3 3h3m-3 1h3m-3 22h3m-3 1h3m-3 4h3m-2-50h3m-3 6h3m-3 1h3m-3 4h3m-3 1h3m-3 1h3m-3 12h3m-3 4h3m-3 24h3m-2-29h3m-3 1h3m-3 11h3m-2-25h3m-3 10h3m-3 15h3m-2-38h3m-3 9h3m-3 10h3m-3 7h3m-3 2h3m-3 18h3m-2-64h3m-3 14h3m-3 21h3m-3 16h3m-3 3h3m-2-32h3m-3 7h3m-3 8h3m-3 2h3m-3 33h3m-3 12h3m-2-83h3m-3 10h3m-3 4h3m-3 19h3m-3 5h3m-3 4h3m-3 1h3m-3 8h3m-3 8h3m-2-45h3m-3 12h3m-3 5h3m-3 1h3m-3 8h3m-2-12h3m-3 2h3m-3 5h3m-3 2h3m-3 1h3m-2-16h3m-3 17h3m-3 3h3m-3 4h3m-3 2h3m-3 0h3m-2-21h3m-3 1h3m-3 15h3m-3 5h3m-3 4h3m-3 14h3m-3 0h3m-2-37h3m-3 3h3m-3 1h3m-3 3h3m-3 3h3m-3 13h3m-2-55h3m-3 34h3m-3 9h3m-2-20h3m-3 13h3m-3 9h3m-2-43h3m-3 8h3m-3 8h3m-3 3h3m-3 0h3m-3 3h3m-3 9h3m-3 2h3m-3 2h3m-3 1h3m-3 7h3m-3 9h3m-2-47h3m-3 5h3m-3 20h3m-3 1h3m-3 4h3m-3 3h3m-2-15h3m-3 6h3m-3 0h3m-3 1h3m-3 5h3m-3 4h3m-3 4h3m-3 24h3m-2-67h3m-3 21h3m-3 5h3m-3 14h3m-2-22h3m-3 15h3m-3 5h3m-3 3h3m-3 1h3m-3 4h3m-2-36h3m-3 21h3m-3 7h3m-3 7h3m-3 2h3m-3 5h3m-2-25h3m-3 1h3m-3 2h3m-3 0h3m-3 2h3m-3 6h3m-3 8h3m-3 6h3m-2-29h3m-3 4h3m-3 3h3m-3 5h3m-3 2h3m-2-13h3m-3 7h3m-3 5h3m-3 18h3m-3 3h3m-2-49h3m-3 0h3m-3 3h3m-3 2h3m-3 10h3m-3 9h3m-3 0h3m-3 2h3m-3 3h3m-2-82h3m-3 40h3m-3 22h3m-3 5h3m-3 9h3m-2-13h3m-3 1h3m-3 8h3m-3 3h3m-3 3h3m-3 10h3m-3 5h3m-2-18h3m-3 26h3m-2-48h3m-3 4h3m-3 5h3m-3 1h3m-3 14h3m-3 7h3m-2-28h3m-3 10h3m-3 2h3m-3 0h3m-3 2h3m-3 1h3m-2-18h3m-3 6h3m-3 5h3m-3 8h3m-3 1h3m-3 13h3m-2-50h3m-3 21h3m-3 2h3m-3 4h3m-3 2h3m-3 4h3m-3 13h3m-2-47h3m-3 2h3m-3 31h3m-3 3h3m-3 10h3m-2-30h3m-3 11h3m-3 5h3m-3 2h3m-3 0h3m-3 1h3m-2-22h3m-3 16h3m-3 1h3m-3 18h3m-2-31h3m-3 2h3m-3 5h3m-3 6h3m-3 1h3m-3 4h3m-2-51h3m-3 25h3m-3 2h3m-3 2h3m-3 7h3m-3 16h3m-3 5h3m-3 3h3m-3 0h3m-3 1h3m-3 11h3m-2-43h3m-3 6h3m-3 3h3m-3 0h3m-3 4h3m-3 7h3m-3 2h3m-2-36h3m-3 13h3m-3 12h3m-3 2h3m-3 7h3m-3 11h3m-2-40h3m-3 9h3m-3 6h3m-2-5h3m-3 6h3m-3 7h3m-3 1h3m-2-58h3m-3 51h3m-3 2h3m-3 1h3m-3 11h3m-2-17h3m-3 1h3m-3 0h3m-3 2h3m-3 3h3m-3 1h3m-3 1h3m-3 0h3m-3 3h3m-3 12h3m-3 2h3m-2-60h3m-3 21h3m-3 15h3m-3 4h3m-3 1h3m-3 1h3m-3 1h3m-3 11h3m-2-21h3m-3 1h3m-3 8h3m-3 17h3m-2-43h3m-3 20h3m-3 3h3m-2-4h3m-3 2h3m-3 1h3m-3 1h3m-2-6h3m-3 0h3m-3 4h3m-3 1h3m-3 4h3m-2-25h3m-3 5h3m-3 3h3m-3 4h3m-3 19h3m-3 1h3m-2-26h3m-3 8h3m-3 2h3m-2-21h3m-3 18h3m-3 0h3m-3 1h3m-3 3h3m-3 1h3m-3 18h3m-3 2h3m-2-30h3m-3 18h3m-3 8h3m-2-34h3m-3 3h3m-3 5h3m-3 3h3m-3 0h3m-3 2h3m-3 1h3m-3 1h3m-3 0h3m-3 5h3m-3 1h3m-2-46h3m-3 26h3m-3 11h3m-3 7h3m-3 4h3m-3 19h3m-2-48h3m-3 14h3m-3 1h3m-3 5h3m-3 1h3m-3 4h3m-3 10h3m-3 5h3m-2-39h3m-3 5h3m-3 5h3m-3 5h3m-3 15h3m-2-32h3m-3 4h3m-3 6h3m-3 5h3m-3 6h3m-2-16h3m-3 1h3m-3 0h3m-3 2h3m-3 3h3m-3 0h3m-3 9h3m-3 18h3m-2-23h3m-3 10h3m-2-32h3m-3 23h3m-3 14h3m-3 1h3m-1-32h3m-3 11h3m-3 3h3m-3 1h3m-3 3h3m-3 4h3m-2-24h3m-3 12h3m-3 7h3m-3 1h3m-3 4h3m-3 2h3m-2-44h3m-3 16h3m-3 3h3m-3 4h3m-3 8h3m-3 0h3m-3 3h3m-3 3h3m-2-12h3m-3 5h3m-3 14h3m-2-46h3m-3 23h3m-3 8h3m-2-28h3m-3 28h3m-3 0h3m-2-15h3m-3 5h3m-3 3h3m-3 2h3m-3 5h3m-3 2h3m-3 2h3m-3 9h3m-2-34h3m-3 17h3m-3 3h3m-3 0h3m-3 3h3m-3 2h3m-3 8h3m-2-56h3m-3 12h3m-3 29h3m-3 1h3m-3 1h3m-3 3h3m-3 6h3m-2-21h3m-3 0h3m-3 8h3m-3 5h3m-3 2h3m-2-24h3m-3 14h3m-3 2h3m-3 1h3m-3 1h3m-3 2h3m-3 1h3m-3 7h3m-2-19h3m-3 2h3m-3 3h3m-3 3h3m-3 0h3m-3 5h3m-2-29h3m-3 6h3m-3 7h3m-3 2h3m-3 3h3m-3 7h3m-2-9h3m-3 3h3m-3 4h3m-3 1h3m-3 1h3m-3 1h3m-2-13h3m-3 4h3m-3 1h3m-3 6h3m-3 9h3m-2-22h3m-3 8h3m-3 1h3m-3 2h3m-3 0h3m-3 1h3m-3 0h3m-3 9h3m-2-68h3m-3 23h3m-3 22h3m-3 4h3m-3 2h3m-3 9h3m-3 0h3m-3 4h3m-2-22h3m-3 10h3m-3 2h3m-3 1h3m-3 1h3m-3 13h3m-2-24h3m-3 2h3m-3 4h3m-3 3h3m-3 2h3m-3 1h3m-2-23h3m-3 17h3m-3 5h3m-3 7h3m-2-47h3m-3 26h3m-3 9h3m-3 3h3m-3 1h3m-2 0h3m-2-6h3m-2-17h3m-3 14h3m-3 1h3m-3 1h3m-3 1h3m-2 1h3m-3 1h3m-3 1h3m-3 5h3m-3 5h3m-2-25h3m-3 2h3m-2-16h3m-3 16h3m-3 8h3m-3 3h3m-3 5h3m-2-20h3m-3 7h3m-3 2h3m-3 2h3m-3 2h3m-3 2h3m-2-49h3m-3 34h3m-3 1h3m-3 4h3m-3 0h3m-3 4h3m-2-11h3m-3 0h3m-3 4h3m-3 4h3m-3 2h3m-3 1h3m-3 1h3m-3 7h3m-3 7h3m-2-67h3m-3 47h3m-3 5h3m-3 1h3m-3 1h3m-3 15h3m-2-61h3m-3 29h3m-3 1h3m-3 3h3m-3 18h3m-2-57h3m-3 36h3m-3 9h3m-3 7h3m-2-11h3m-3 1h3m-3 0h3m-3 2h3m-3 1h3m-3 2h3m-2-11h3m-3 1h3m-3 1h3m-3 5h3m-3 6h3m-3 4h3m-3 2h3m-2-30h3m-3 19h3m-3 1h3m-3 0h3m-3 1h3m-2-10h3m-3 2h3m-3 0h3m-3 2h3m-3 6h3m-3 0h3m-2-11h3m-3 1h3m-3 0h3m-3 6h3m-3 3h3m-2-16h3m-3 6h3m-3 0h3m-3 1h3m-3 1h3m-3 5h3m-3 13h3m-3 1h3m-2-32h3m-3 9h3m-3 2h3m-3 1h3m-3 1h3m-3 2h3m-3 12h3m-2-16h3m-3 2h3m-3 6h3m-2-12h3m-3 2h3m-3 3h3m-3 13h3m-2-19h3m-3 8h3m-2-17h3m-3 14h3m-3 6h3m-2-6h3m-3 2h3m-3 0h3m-3 7h3m-3 1h3m-2-34h3m-3 18h3m-3 2h3m-3 5h3m-2-21h3m-3 3h3m-3 4h3m-3 5h3m-3 7h3m-2-10h3m-3 4h3m-3 4h3m-3 2h3m-3 17h3m-2-42h3m-3 12h3m-3 0h3m-3 5h3m-3 3h3m-3 1h3m-2-6h3m-3 6h3m-2 0h3m-3 8h3m-2-34h3m-3 10h3m-3 5h3m-3 0h3m-3 6h3m-3 1h3m-3 4h3m-3 0h3m-3 3h3m-3 0h3m-2-7h3m-3 4h3m-2-13h3m-2 1h3m-3 7h3m-3 2h3m-2-9h3m-3 3h3m-3 6h3m-3 1h3m-3 8h3m-2-76h3m-3 30h3m-3 28h3m-3 0h3m-3 4h3m-3 1h3m-3 3h3m-3 0h3m-3 10h3m-2-21h3m-3 8h3m-3 1h3m-3 1h3m-3 2h3m-3 7h3m-3 0h3m-2-12h3m-3 5h3m-2-13h3m-3 0h3m-3 2h3m-3 2h3m-3 1h3m-3 2h3m-3 0h3m-3 0h3m-3 1h3m-2-16h3m-3 16h3m-3 10h3m-3 3h3m-2-33h3m-3 8h3m-2 5h3m-3 0h3m-3 6h3m-3 8h3m-3 1h3m-2-28h3m-3 3h3m-3 1h3m-3 13h3m-3 0h3m-3 8h3m-2-27h3m-3 5h3m-3 3h3m-3 2h3m-3 11h3m-3 4h3m-2-19h3m-3 4h3m-3 2h3m-3 6h3m-3 6h3m-2-22h3m-3 5h3m-3 8h3m-3 1h3m-3 1h3m-3 7h3m-2-16h3m-3 5h3m-3 1h3m-2-9h3m-3 4h3m-3 3h3m-3 3h3m-3 7h3m-2-42h3m-3 36h3m-3 6h3m-3 2h3m-3 0h3m-2-17h3m-3 0h3m-3 0h3m-3 5h3m-3 16h3m-2-31h3m-2-14h3m-3 4h3m-3 13h3m-3 5h3m-3 18h3m-2-32h3m-3 5h3m-3 7h3m-3 3h3m-3 1h3m-3 2h3m-3 1h3m-3 0h3m-3 6h3m-2-18h3m-3 3h3m-3 4h3m-3 0h3m-3 2h3m-3 2h3m-3 0h3m-2-34h3m-3 19h3m-3 6h3m-3 2h3m-3 1h3m-3 6h3m-3 1h3m-3 12h3m-2-27h3m-3 6h3m-3 0h3m-3 1h3m-3 0h3m-3 3h3m-2 1h3m-3 1h3m-3 5h3m-3 4h3m-2-25h3m-3 2h3m-3 9h3m-3 0h3m-3 4h3m-2-7h3m-3 1h3m-3 0h3m-2-51h3m-3 44h3m-3 5h3m-3 2h3m-3 2h3m-3 1h3m-3 11h3m-3 0h3m-2-34h3m-3 10h3m-3 0h3m-3 2h3m-3 1h3m-3 1h3m-3 3h3m-3 3h3m-3 1h3m-3 7h3m-3 1h3m-2-36h3m-3 13h3m-3 14h3m-2-14h3m-3 13h3m-3 0h3m-3 14h3m-2-69h3m-3 48h3m-3 1h3m-3 3h3m-3 4h3m-3 1h3m-2-14h3m-3 3h3m-3 5h3m-3 0h3m-3 5h3m-3 9h3m-2-22h3m-3 3h3m-3 10h3m-3 6h3m-2-22h3m-3 8h3m-3 3h3m-3 17h3m-2-36h3m-3 13h3m-3 4h3m-3 2h3m-3 1h3m-3 0h3m-3 10h3m-2-26h3m-3 6h3m-3 4h3m-3 6h3m-3 3h3m-3 2h3m-3 0h3m-2-20h3m-3 8h3m-3 2h3m-3 3h3m-2-9h3m-3 2h3m-3 3h3m-3 2h3m-3 2h3m-3 1h3m-2-7h3m-3 0h3m-2-17h3m-3 3h3m-3 7h3m-3 0h3m-3 4h3m-3 3h3m-3 0h3m-3 2h3m-3 1h3m-3 6h3m-2-17h3m-2 5h3m-3 1h3m-3 2h3m-3 6h3m-2-6h3m-3 2h3m-3 12h3m-3 3h3m-2-31h3m-3 5h3m-3 6h3m-3 1h3m-3 2h3m-3 7h3m-3 3h3m-2-18h3m-3 0h3m-3 2h3m-3 1h3m-3 9h3m-2-11h3m-3 4h3m-3 9h3m-2-15h3m-3 4h3m-3 1h3m-3 2h3m-2-15h3m-3 24h3m-2-31h3m-3 4h3m-3 3h3m-3 9h3m-3 15h3m-2-12h3m-3 9h3m-2-33h3m-3 7h3m-3 29h3m-2-28h3m-3 9h3m-3 2h3m-2 0h3m-3 8h3m-3 3h3m-2-21h3m-3 4h3m-3 3h3m-3 0h3m-2-9h3m-3 10h3m-3 3h3m-2-15h3m-3 1h3m-3 10h3m-3 1h3m-3 0h3m-2-9h3m-3 3h3m-3 2h3m-3 2h3m-2-14h3m-3 5h3m-3 6h3m-2-6h3m-3 10h3m-3 4h3m-2-18h3m-3 7h3m-3 4h3m-2-11h3m-3 4h3m-2-9h3m-3 10h3m-3 11h3m-3 9h3m-2-31h3m-3 7h3m-3 18h3m-1-23h3m-3 1h3m-3 1h3m-3 16h3m-1-19h3m-2 4h3m-3 0h3m-3 4h3m-3 2h3m-2-11h3m-3 3h3m-3 5h3m-3 10h3m-2-22h3m-3 5h3m-3 5h3m-3 1h3m-2-13h3m-3 6h3m-3 6h3m-3 1h3m-3 5h3m-3 0h3m-3 4h3m-2-13h3m-3 1h3m-3 4h3m-3 7h3m-2-12h3m-3 8h3m-2-18h3m-3 3h3m-3 5h3m-3 9h3m-2-10h3m-3 17h3m-2-21h3m-3 2h3m-3 10h3m-2-17h3m-3 5h3m-3 3h3m-2 0h3m-2-14h3m-3 13h3m-3 2h3m-3 5h3m-2-19h3m-3 13h3m-2-23h3m-3 15h3m-3 1h3m-3 4h3m-2-11h3m-2 7h3m-1-2h3m-3 11h3m-2-8h3m-3 5h3m-1-19h3m-3 6h3m-2 13h3m-2-1h3m-2-28h3m-3 10h3m-2-1h3m-3 5h3m-2 0h3m-3 4h3m-2 5h3m-2-14h3m-2-1h3m-2 1h3m-1 7h3m-2 10h3m-2-27h3m-3 7h3m-3 1h3m-2 0h3m-3 8h3m-2-21h3m-1 8h3m-3 1h3m-3 0h3m-2-6h3m-2-7h3m-3 3h3m-2 2h3m-3 17h3m1-17h3m-1 2h3m-2-26h3m-3 15h3m-2 5h3m-2 0h3m-1-12h3m-3 12h3m-1-10h3m-2 18h3m-2-10h3m-2-10h3m-2-4h3m2-3h3m-3 19h3m-2-18h3m-1-5h3m4-2h3m-2-5h3m1-2h3m-3 8h3m0-3h3m-2-4h3m0 13h3m-2-13h3m0 6h3m0-13h3m8-10h3m4 2h3m5-28h3m15-7h3" stroke="#3f78c2" stroke-opacity="0.75" stroke-width="3" fill="none"/>
<text x="8.1" y="200.6" font-size="11.8" fill="#111">C</text>
<line x1="33" y1="224" x2="211.6" y2="224" stroke="#e6e6e6" stroke-width="0.7"/>
<line x1="33" y1="236.86" x2="211.6" y2="236.86" stroke="#e6e6e6" stroke-width="0.7"/>
<line x1="33" y1="249.72" x2="211.6" y2="249.72" stroke="#e6e6e6" stroke-width="0.7"/>
<line x1="33" y1="262.58" x2="211.6" y2="262.58" stroke="#e6e6e6" stroke-width="0.7"/>
<line x1="33" y1="275.44" x2="211.6" y2="275.44" stroke="#e6e6e6" stroke-width="0.7"/>
<line x1="33" y1="288.3" x2="211.6" y2="288.3" stroke="#e6e6e6" stroke-width="0.7"/>
<line x1="33" y1="301.16" x2="211.6" y2="301.16" stroke="#e6e6e6" stroke-width="0.7"/>
<line x1="33" y1="314.02" x2="211.6" y2="314.02" stroke="#e6e6e6" stroke-width="0.7"/>
<line x1="122.3" y1="214.5" x2="122.3" y2="323.8" stroke="#e6e6e6" stroke-width="0.7"/>
<polyline points="33,323.99 91.22,323.99 91.22,317.24 95.51,317.24 95.51,313.7 98.72,313.7 98.72,311.13 101.76,311.13 101.76,308.88 104.44,305.15 105.15,304.74 105.87,304.34 106.58,303.94 107.3,303.55 108.01,303.15 108.73,302.76 109.44,302.36 110.16,301.96 110.87,301.54 111.58,301.12 112.3,300.68 113.01,300.23 113.73,299.77 114.44,299.28 115.16,298.77 115.87,298.25 116.58,297.72 117.3,297.18 118.01,296.64 118.73,296.1 119.44,295.57 120.16,295.05 120.87,294.54 121.59,294.02 122.3,293.5 123.01,292.99 123.73,292.48 124.44,291.96 125.16,291.45 125.87,290.94 126.59,290.43 127.3,289.92 128.02,289.41 128.73,288.9 129.44,288.4 130.16,287.89 130.87,287.39 131.59,286.89 132.3,286.39 133.02,285.88 133.73,285.38 134.44,284.87 135.16,284.37 135.87,283.87 136.59,283.37 137.3,282.88 138.02,282.41 138.73,281.94 139.45,281.48 140.16,281.03 140.87,280.6 141.59,280.19 142.3,279.78 143.02,279.39 143.73,279 144.45,278.62 145.16,278.25 145.88,277.87 146.59,277.51 147.3,277.14 148.02,276.77 148.73,276.4 149.45,276.02 150.16,275.65 150.88,275.28 151.59,274.91 152.3,274.55 153.02,274.18 153.73,273.82 154.45,273.46 155.16,273.1 155.88,272.74 156.59,272.38 157.31,272.01 158.02,271.65 158.73,271.29 159.45,270.93 160.16,270.56 160.88,270.2 161.59,269.84 162.31,269.47 163.02,269.11 163.74,268.74 164.45,268.38 165.16,268.01 165.88,267.65 166.59,267.28 167.31,266.92 168.02,266.56 168.74,266.19 169.45,265.83 170.16,265.46 170.88,265.1 171.59,264.74 172.31,264.37 173.02,264.01 173.74,263.65 174.45,263.29 175.17,262.93 175.88,262.57 176.59,262.21 177.31,261.84 178.02,261.48 178.74,261.11 179.45,260.74 180.17,260.36 180.88,259.99 181.6,259.62 182.31,259.24 183.02,258.87 183.74,258.49 184.45,258.11 185.17,257.73 185.88,257.35 186.6,256.96 187.31,256.57 188.02,256.18 188.74,255.79 189.45,255.39 190.17,254.99 190.88,254.6 191.6,254.23 192.31,253.87 193.03,253.51 193.74,253.16 194.45,252.8 195.17,252.43 195.88,252.04 196.6,251.63 197.31,251.2 198.03,250.73 198.74,250.21 199.46,249.66 200.17,249.05 200.88,248.38 201.6,247.66 202.31,246.87 203.03,246.01 203.74,245.07 204.46,244.06 204.63,243.79 204.81,243.52 204.99,243.23 205.17,242.94 205.35,242.64 205.53,242.33 205.71,242.02 205.88,241.7 206.06,241.37 206.24,241.04 206.42,240.71 206.6,240.37 206.78,240.02 206.96,239.68 207.14,239.33 207.31,238.98 207.49,238.63 207.67,238.27 207.85,237.93 208.03,237.59 208.21,237.26 208.39,236.93 208.56,236.58 208.74,236.21 208.92,235.82 209.1,235.4 209.28,234.93 209.46,234.42 209.64,233.88 209.81,233.33 209.99,232.72 210.17,232.03 210.35,231.22 210.53,230.24 210.71,229 210.89,227.53 211.06,225.97 211.24,224.45 211.42,223 211.6,221.56" fill="none" stroke="#ee8f8f" stroke-width="0.75"/>
<polyline points="33,323.99 87.12,323.99 87.12,316.59 91.94,316.59 91.94,313.25 95.33,313.25 95.33,310.81 98.55,310.81 98.55,308.23 99.08,307.59 99.8,307.16 100.51,306.73 101.23,306.3 101.94,305.87 102.65,305.44 103.37,305.01 104.08,304.59 104.8,304.17 105.51,303.76 106.23,303.35 106.94,302.96 107.65,302.56 108.37,302.17 109.08,301.78 109.8,301.38 110.51,300.97 111.23,300.56 111.94,300.13 112.66,299.69 113.37,299.23 114.08,298.75 114.8,298.25 115.51,297.74 116.23,297.21 116.94,296.68 117.66,296.14 118.37,295.6 119.09,295.06 119.8,294.54 120.51,294.02 121.23,293.51 121.94,292.99 122.66,292.48 123.37,291.96 124.09,291.45 124.8,290.93 125.51,290.42 126.23,289.91 126.94,289.4 127.66,288.89 128.37,288.38 129.09,287.88 129.8,287.37 130.52,286.87 131.23,286.37 131.94,285.87 132.66,285.36 133.37,284.86 134.09,284.35 134.8,283.85 135.52,283.34 136.23,282.85 136.95,282.36 137.66,281.87 138.37,281.4 139.09,280.93 139.8,280.48 140.52,280.05 141.23,279.62 141.95,279.21 142.66,278.81 143.37,278.42 144.09,278.04 144.8,277.66 145.52,277.29 146.23,276.92 146.95,276.55 147.66,276.18 148.38,275.81 149.09,275.44 149.8,275.07 150.52,274.7 151.23,274.33 151.95,273.96 152.66,273.59 153.38,273.23 154.09,272.87 154.81,272.51 155.52,272.15 156.23,271.78 156.95,271.42 157.66,271.06 158.38,270.7 159.09,270.34 159.81,269.97 160.52,269.61 161.23,269.25 161.95,268.88 162.66,268.52 163.38,268.15 164.09,267.79 164.81,267.42 165.52,267.06 166.24,266.69 166.95,266.33 167.66,265.97 168.38,265.6 169.09,265.24 169.81,264.87 170.52,264.51 171.24,264.15 171.95,263.78 172.67,263.42 173.38,263.06 174.09,262.7 174.81,262.34 175.52,261.98 176.24,261.62 176.95,261.25 177.67,260.89 178.38,260.52 179.09,260.15 179.81,259.78 180.52,259.41 181.24,259.03 181.95,258.66 182.67,258.28 183.38,257.91 184.1,257.53 184.81,257.15 185.52,256.77 186.24,256.38 186.95,256 187.67,255.61 188.38,255.22 189.1,254.82 189.81,254.42 190.53,254.02 191.24,253.64 191.95,253.27 192.67,252.92 193.38,252.56 194.1,252.21 194.81,251.84 195.53,251.47 196.24,251.07 196.95,250.65 197.67,250.19 198.38,249.7 199.1,249.17 199.81,248.59 200.53,247.95 201.24,247.26 201.96,246.5 202.67,245.68 203.38,244.78 204.1,243.81 204.81,242.74 204.99,242.46 205.17,242.17 205.35,241.87 205.53,241.56 205.71,241.24 205.88,240.92 206.06,240.6 206.24,240.27 206.42,239.93 206.6,239.59 206.78,239.25 206.96,238.91 207.14,238.56 207.31,238.21 207.49,237.86 207.67,237.5 207.85,237.16 208.03,236.82 208.21,236.49 208.39,236.16 208.56,235.81 208.74,235.44 208.92,235.05 209.1,234.63 209.28,234.16 209.46,233.64 209.64,233.11 209.81,232.56 209.99,231.95 210.17,231.26 210.35,230.44 210.53,229.47 210.71,228.23 210.89,226.76 211.06,225.2 211.24,223.68 211.42,222.23 211.6,220.79" fill="none" stroke="#8fb8ea" stroke-width="0.75"/>
<polyline points="33,323.99 82.29,323.99 82.29,315.95 86.58,315.95 86.58,312.73 89.97,312.73 89.97,309.84 92.3,309.84 92.3,307.59 93.72,307.27 94.44,306.89 95.15,306.51 95.87,306.09 96.58,305.66 97.3,305.21 98.01,304.75 98.72,304.28 99.44,303.79 100.15,303.28 100.87,302.74 101.58,302.16 102.3,301.58 103.01,300.99 103.73,300.42 104.44,299.87 105.15,299.35 105.87,298.84 106.58,298.34 107.3,297.85 108.01,297.36 108.73,296.88 109.44,296.4 110.16,295.92 110.87,295.45 111.58,294.97 112.3,294.49 113.01,294.01 113.73,293.52 114.44,293.03 115.16,292.54 115.87,292.05 116.58,291.56 117.3,291.08 118.01,290.59 118.73,290.11 119.44,289.62 120.16,289.14 120.87,288.67 121.59,288.19 122.3,287.71 123.01,287.24 123.73,286.76 124.44,286.29 125.16,285.81 125.87,285.34 126.59,284.87 127.3,284.4 128.02,283.94 128.73,283.47 129.44,283.01 130.16,282.55 130.87,282.1 131.59,281.64 132.3,281.19 133.02,280.74 133.73,280.28 134.44,279.83 135.16,279.39 135.87,278.94 136.59,278.5 137.3,278.07 138.02,277.64 138.73,277.22 139.45,276.81 140.16,276.4 140.87,276.01 141.59,275.63 142.3,275.26 143.02,274.89 143.73,274.54 144.45,274.18 145.16,273.84 145.88,273.49 146.59,273.14 147.3,272.79 148.02,272.44 148.73,272.08 149.45,271.72 150.16,271.36 150.88,270.99 151.59,270.63 152.3,270.26 153.02,269.89 153.73,269.52 154.45,269.15 155.16,268.79 155.88,268.42 156.59,268.06 157.31,267.69 158.02,267.33 158.73,266.97 159.45,266.62 160.16,266.26 160.88,265.91 161.59,265.56 162.31,265.21 163.02,264.86 163.74,264.51 164.45,264.16 165.16,263.82 165.88,263.48 166.59,263.14 167.31,262.8 168.02,262.46 168.74,262.12 169.45,261.79 170.16,261.46 170.88,261.13 171.59,260.81 172.31,260.49 173.02,260.17 173.74,259.86 174.45,259.55 175.17,259.24 175.88,258.93 176.59,258.62 177.31,258.31 178.02,258 178.74,257.68 179.45,257.36 180.17,257.03 180.88,256.71 181.6,256.38 182.31,256.05 183.02,255.72 183.74,255.38 184.45,255.05 185.17,254.71 185.88,254.38 186.6,254.03 187.31,253.69 188.02,253.35 188.74,253 189.45,252.65 190.17,252.29 190.88,251.95 191.6,251.62 192.31,251.3 193.03,251 193.74,250.69 194.45,250.37 195.17,250.05 195.88,249.71 196.6,249.35 197.31,248.96 198.03,248.53 198.74,248.07 199.46,247.56 200.17,247 200.88,246.38 201.6,245.69 202.31,244.94 203.03,244.13 203.74,243.25 204.46,242.33 204.63,242.08 204.81,241.84 204.99,241.59 205.17,241.33 205.35,241.07 205.53,240.8 205.71,240.53 205.88,240.25 206.06,239.97 206.24,239.68 206.42,239.39 206.6,239.09 206.78,238.79 206.96,238.48 207.14,238.16 207.31,237.84 207.49,237.51 207.67,237.18 207.85,236.85 208.03,236.52 208.21,236.18 208.39,235.83 208.56,235.48 208.74,235.1 208.92,234.7 209.1,234.28 209.28,233.82 209.46,233.32 209.64,232.83 209.81,232.33 209.99,231.79 210.17,231.17 210.35,230.41 210.53,229.47 210.71,228.26 210.89,226.81 211.06,225.25 211.24,223.68 211.42,222.09 211.6,220.46" fill="none" stroke="#8cc476" stroke-width="0.75"/>
<polyline points="33,323.99 81.58,323.99 81.58,315.95 86.22,315.95 86.22,312.73 89.62,312.73 89.62,309.84 91.94,309.84 91.94,307.59 93.72,306.95 94.44,306.57 95.15,306.19 95.87,305.77 96.58,305.34 97.3,304.89 98.01,304.43 98.72,303.96 99.44,303.47 100.15,302.96 100.87,302.42 101.58,301.84 102.3,301.26 103.01,300.67 103.73,300.1 104.44,299.55 105.15,299.03 105.87,298.52 106.58,298.02 107.3,297.53 108.01,297.04 108.73,296.56 109.44,296.08 110.16,295.6 110.87,295.13 111.58,294.65 112.3,294.17 113.01,293.69 113.73,293.2 114.44,292.71 115.16,292.22 115.87,291.73 116.58,291.24 117.3,290.76 118.01,290.27 118.73,289.78 119.44,289.3 120.16,288.82 120.87,288.35 121.59,287.87 122.3,287.39 123.01,286.91 123.73,286.44 124.44,285.97 125.16,285.49 125.87,285.02 126.59,284.55 127.3,284.08 128.02,283.62 128.73,283.15 129.44,282.69 130.16,282.23 130.87,281.78 131.59,281.32 132.3,280.87 133.02,280.41 133.73,279.96 134.44,279.51 135.16,279.06 135.87,278.62 136.59,278.18 137.3,277.75 138.02,277.32 138.73,276.9 139.45,276.49 140.16,276.08 140.87,275.69 141.59,275.31 142.3,274.94 143.02,274.57 143.73,274.22 144.45,273.86 145.16,273.51 145.88,273.17 146.59,272.82 147.3,272.47 148.02,272.12 148.73,271.76 149.45,271.4 150.16,271.04 150.88,270.67 151.59,270.3 152.3,269.94 153.02,269.57 153.73,269.2 154.45,268.83 155.16,268.47 155.88,268.1 156.59,267.73 157.31,267.37 158.02,267.01 158.73,266.65 159.45,266.29 160.16,265.94 160.88,265.59 161.59,265.24 162.31,264.89 163.02,264.54 163.74,264.19 164.45,263.84 165.16,263.5 165.88,263.16 166.59,262.81 167.31,262.48 168.02,262.14 168.74,261.8 169.45,261.47 170.16,261.14 170.88,260.81 171.59,260.48 172.31,260.17 173.02,259.85 173.74,259.54 174.45,259.23 175.17,258.92 175.88,258.61 176.59,258.3 177.31,257.99 178.02,257.67 178.74,257.36 179.45,257.04 180.17,256.71 180.88,256.38 181.6,256.06 182.31,255.73 183.02,255.39 183.74,255.06 184.45,254.73 185.17,254.39 185.88,254.05 186.6,253.71 187.31,253.37 188.02,253.02 188.74,252.68 189.45,252.33 190.17,251.97 190.88,251.63 191.6,251.3 192.31,250.98 193.03,250.67 193.74,250.37 194.45,250.05 195.17,249.73 195.88,249.39 196.6,249.03 197.31,248.64 198.03,248.21 198.74,247.75 199.46,247.24 200.17,246.68 200.88,246.06 201.6,245.37 202.31,244.62 203.03,243.81 203.74,242.93 204.46,242 204.63,241.76 204.81,241.52 204.99,241.26 205.17,241.01 205.35,240.75 205.53,240.48 205.71,240.21 205.88,239.93 206.06,239.65 206.24,239.36 206.42,239.07 206.6,238.77 206.78,238.47 206.96,238.16 207.14,237.84 207.31,237.52 207.49,237.19 207.67,236.86 207.85,236.53 208.03,236.19 208.21,235.86 208.39,235.51 208.56,235.15 208.74,234.78 208.92,234.38 209.1,233.95 209.28,233.5 209.46,233 209.64,232.5 209.81,232.01 209.99,231.47 210.17,230.84 210.35,230.08 210.53,229.14 210.71,227.94 210.89,226.49 211.06,224.92 211.24,223.36 211.42,221.77 211.6,220.14" fill="none" stroke="#f3c27d" stroke-width="0.75"/>
<line x1="33" y1="214.5" x2="33" y2="324.4" stroke="#111" stroke-width="1.3"/>
<line x1="32.4" y1="323.8" x2="211.6" y2="323.8" stroke="#111" stroke-width="1.3"/>
<line x1="29.8" y1="224" x2="33" y2="224" stroke="#111" stroke-width="0.8"/>
<text x="27" y="226" font-size="5.6" fill="#2a2a2a" text-anchor="end" stroke="#2a2a2a" stroke-width="0.14">10</text>
<line x1="29.8" y1="236.86" x2="33" y2="236.86" stroke="#111" stroke-width="0.8"/>
<text x="27" y="238.86" font-size="5.6" fill="#2a2a2a" text-anchor="end" stroke="#2a2a2a" stroke-width="0.14">8</text>
<line x1="29.8" y1="249.72" x2="33" y2="249.72" stroke="#111" stroke-width="0.8"/>
<text x="27" y="251.72" font-size="5.6" fill="#2a2a2a" text-anchor="end" stroke="#2a2a2a" stroke-width="0.14">6</text>
<line x1="29.8" y1="262.58" x2="33" y2="262.58" stroke="#111" stroke-width="0.8"/>
<text x="27" y="264.58" font-size="5.6" fill="#2a2a2a" text-anchor="end" stroke="#2a2a2a" stroke-width="0.14">4</text>
<line x1="29.8" y1="275.44" x2="33" y2="275.44" stroke="#111" stroke-width="0.8"/>
<text x="27" y="277.44" font-size="5.6" fill="#2a2a2a" text-anchor="end" stroke="#2a2a2a" stroke-width="0.14">2</text>
<line x1="29.8" y1="288.3" x2="33" y2="288.3" stroke="#111" stroke-width="0.8"/>
<text x="27" y="290.3" font-size="5.6" fill="#2a2a2a" text-anchor="end" stroke="#2a2a2a" stroke-width="0.14">0</text>
<line x1="29.8" y1="301.16" x2="33" y2="301.16" stroke="#111" stroke-width="0.8"/>
<text x="27" y="303.16" font-size="5.6" fill="#2a2a2a" text-anchor="end" stroke="#2a2a2a" stroke-width="0.14">−2</text>
<line x1="29.8" y1="314.02" x2="33" y2="314.02" stroke="#111" stroke-width="0.8"/>
<text x="27" y="316.02" font-size="5.6" fill="#2a2a2a" text-anchor="end" stroke="#2a2a2a" stroke-width="0.14">−4</text>
<line x1="33" y1="323.8" x2="33" y2="326.2" stroke="#111" stroke-width="0.8"/>
<text x="33" y="335.5" font-size="5.6" fill="#333" text-anchor="middle" stroke="#333" stroke-width="0.14">0</text>
<line x1="50.86" y1="323.8" x2="50.86" y2="326.2" stroke="#111" stroke-width="0.8"/>
<text x="50.86" y="335.5" font-size="5.6" fill="#333" text-anchor="middle" stroke="#333" stroke-width="0.14">10</text>
<line x1="68.72" y1="323.8" x2="68.72" y2="326.2" stroke="#111" stroke-width="0.8"/>
<text x="68.72" y="335.5" font-size="5.6" fill="#333" text-anchor="middle" stroke="#333" stroke-width="0.14">20</text>
<line x1="86.58" y1="323.8" x2="86.58" y2="326.2" stroke="#111" stroke-width="0.8"/>
<text x="86.58" y="335.5" font-size="5.6" fill="#333" text-anchor="middle" stroke="#333" stroke-width="0.14">30</text>
<line x1="104.44" y1="323.8" x2="104.44" y2="326.2" stroke="#111" stroke-width="0.8"/>
<text x="104.44" y="335.5" font-size="5.6" fill="#333" text-anchor="middle" stroke="#333" stroke-width="0.14">40</text>
<line x1="122.3" y1="323.8" x2="122.3" y2="326.2" stroke="#111" stroke-width="0.8"/>
<text x="122.3" y="335.5" font-size="5.6" fill="#333" text-anchor="middle" stroke="#333" stroke-width="0.14">50</text>
<line x1="140.16" y1="323.8" x2="140.16" y2="326.2" stroke="#111" stroke-width="0.8"/>
<text x="140.16" y="335.5" font-size="5.6" fill="#333" text-anchor="middle" stroke="#333" stroke-width="0.14">60</text>
<line x1="158.02" y1="323.8" x2="158.02" y2="326.2" stroke="#111" stroke-width="0.8"/>
<text x="158.02" y="335.5" font-size="5.6" fill="#333" text-anchor="middle" stroke="#333" stroke-width="0.14">70</text>
<line x1="175.88" y1="323.8" x2="175.88" y2="326.2" stroke="#111" stroke-width="0.8"/>
<text x="175.88" y="335.5" font-size="5.6" fill="#333" text-anchor="middle" stroke="#333" stroke-width="0.14">80</text>
<line x1="193.74" y1="323.8" x2="193.74" y2="326.2" stroke="#111" stroke-width="0.8"/>
<text x="193.74" y="335.5" font-size="5.6" fill="#333" text-anchor="middle" stroke="#333" stroke-width="0.14">90</text>
<text x="122.3" y="345.7" font-size="7.3" text-anchor="middle">Percentile of genes</text>
<text x="15.3" y="269.5" font-size="7.6" text-anchor="middle" transform="rotate(-90 15.3 269.5)">Log of cumulative counts</text>
<text x="35.8" y="223.4" font-size="4.4" fill="#3f3fae" textLength="21.9" lengthAdjust="spacingAndGlyphs" stroke="#3f3fae" stroke-width="0.07">qmc551 het</text>
<text x="35.8" y="228.8" font-size="4.4" fill="#cc2a2a" textLength="40.5" lengthAdjust="spacingAndGlyphs" stroke="#cc2a2a" stroke-width="0.07">qmc551 het gfi1b MO</text>
<text x="35.8" y="234.2" font-size="4.4" fill="#3c9a3c" textLength="23.5" lengthAdjust="spacingAndGlyphs" stroke="#3c9a3c" stroke-width="0.07">qmc551 hom</text>
<text x="35.8" y="239.6" font-size="4.4" fill="#e8961e" textLength="43" lengthAdjust="spacingAndGlyphs" stroke="#e8961e" stroke-width="0.07">qmc551 hom gfi1b MO</text>
<text x="222.2" y="200.4" font-size="11.8" fill="#111">D</text>
<text x="222.8" y="218.2" font-size="11.8" fill="#111">i</text>
<text x="358.6" y="219.7" font-size="11.8" fill="#111">ii</text>
<path d="M247 274.1 L250 273.3 L254 272.5 L258 271.5 L261 270.3 L264 268.7 L266 267.1 L268 265.6 L275 265.5 L290 266.2 L300 267.5 L309 269.6 L321 272 L328 274.1 L328 274.4 L321 276 L309 277.7 L300 279 L290 280.5 L275 282.7 L268 282.9 L266 281.4 L264 279.7 L261 278 L258 276.7 L254 275.7 L250 274.9 L247 274.1Z" fill="#555555"/>
<path transform="scale(.25)" d="M1056 1067h4m-4 53h4m-3-51h4m-4 4h4m-4 0h4m-4 47h4m-4 1h4m-4 1h4m-4 1h4m-3-57h4m-4 5h4m-4 0h4m-4 0h4m-4 1h4m-4 50h4m-3-54h4m-4 0h4m-4 1h4m-4 54h4m-4 0h4m-4 0h4m-4 1h4m-3-63h4m-4 8h4m-4 0h4m-4 54h4m-4 0h4m-4 1h4m-4 0h4m-4 0h4m-4 0h4m-3-65h4m-4 4h4m-4 5h4m-4 57h4m-4 0h4m-4 0h4m-4 4h4m-3-67h4m-4 2h4m-4 4h4m-4 1h4m-4 0h4m-4 56h4m-4 0h4m-4 0h4m-4 1h4m-4 0h4m-4 0h4m-4 1h4m-4 1h4m-3-67h4m-4 1h4m-4 3h4m-4 61h4m-4 0h4m-4 0h4m-4 1h4m-4 0h4m-3-74h4m-4 2h4m-4 3h4m-4 3h4m-4 2h4m-4 4h4m-4 60h4m-4 1h4m-4 0h4m-4 0h4m-4 0h4m-4 3h4m-4 2h4m-3-80h4m-4 5h4m-4 1h4m-4 6h4m-4 1h4m-4 61h4m-4 1h4m-4 1h4m-3-70h4m-4 4h4m-4 0h4m-4 1h4m-4 65h4m-4 1h4m-4 0h4m-4 0h4m-4 0h4m-4 2h4m-4 3h4m-3-79h4m-4 1h4m-4 3h4m-4 0h4m-4 3h4m-4 0h4m-4 0h4m-4 2h4m-4 64h4m-4 0h4m-4 0h4m-4 1h4m-4 2h4m-4 0h4m-4 3h4m-3-79h4m-4 8h4m-4 0h4m-4 0h4m-4 0h4m-4 0h4m-4 1h4m-4 65h4m-4 0h4m-4 1h4m-4 0h4m-4 0h4m-4 0h4m-4 0h4m-4 1h4m-3-85h4m-4 12h4m-4 4h4m-4 0h4m-4 0h4m-4 67h4m-4 0h4m-4 1h4m-4 0h4m-4 1h4m-4 1h4m-4 0h4m-3-85h4m-4 2h4m-4 2h4m-4 2h4m-4 1h4m-4 1h4m-4 2h4m-4 2h4m-4 1h4m-4 1h4m-4 0h4m-4 1h4m-4 0h4m-4 68h4m-4 0h4m-4 1h4m-4 0h4m-4 1h4m-4 0h4m-4 0h4m-4 0h4m-4 0h4m-4 0h4m-4 1h4m-4 0h4m-3-86h4m-4 12h4m-4 2h4m-4 0h4m-4 0h4m-4 70h4m-4 0h4m-4 1h4m-4 1h4m-4 0h4m-4 4h4m-3-82h4m-4 0h4m-4 2h4m-4 3h4m-4 72h4m-4 0h4m-4 0h4m-4 1h4m-4 1h4m-4 1h4m-4 1h4m-3-95h4m-4 4h4m-4 4h4m-4 3h4m-4 5h4m-4 1h4m-4 0h4m-4 1h4m-4 0h4m-4 1h4m-4 74h4m-4 0h4m-4 0h4m-4 1h4m-4 0h4m-4 0h4m-4 1h4m-4 0h4m-3-86h4m-4 5h4m-4 1h4m-4 1h4m-4 3h4m-4 0h4m-4 0h4m-4 72h4m-4 0h4m-4 1h4m-4 1h4m-4 0h4m-4 1h4m-4 0h4m-3-85h4m-4 1h4m-4 6h4m-4 1h4m-4 2h4m-4 0h4m-4 71h4m-4 1h4m-4 1h4m-4 1h4m-4 0h4m-4 0h4m-4 1h4m-4 0h4m-4 1h4m-4 1h4m-3-102h4m-4 22h4m-4 0h4m-4 1h4m-4 0h4m-4 1h4m-4 1h4m-4 0h4m-4 72h4m-4 0h4m-4 0h4m-4 1h4m-4 1h4m-3-90h4m-4 3h4m-4 5h4m-4 1h4m-4 2h4m-4 0h4m-4 0h4m-4 1h4m-4 0h4m-4 0h4m-4 1h4m-4 2h4m-4 0h4m-4 1h4m-4 0h4m-4 0h4m-4 71h4m-4 1h4m-4 0h4m-4 0h4m-4 0h4m-4 0h4m-4 1h4m-4 0h4m-4 0h4m-4 1h4m-4 0h4m-4 1h4m-4 0h4m-4 1h4m-4 1h4m-4 6h4m-3-102h4m-4 1h4m-4 10h4m-4 2h4m-4 1h4m-4 1h4m-4 0h4m-4 2h4m-4 0h4m-4 2h4m-4 0h4m-4 0h4m-4 73h4m-4 0h4m-4 1h4m-4 11h4m-3-103h4m-4 5h4m-4 0h4m-4 8h4m-4 2h4m-4 0h4m-4 1h4m-4 1h4m-4 1h4m-4 0h4m-4 71h4m-4 1h4m-4 0h4m-4 0h4m-4 0h4m-4 1h4m-4 1h4m-4 0h4m-4 0h4m-4 1h4m-4 0h4m-4 1h4m-4 3h4m-3-84h4m-4 2h4m-4 1h4m-4 0h4m-4 0h4m-4 0h4m-4 1h4m-4 0h4m-4 1h4m-4 73h4m-4 2h4m-4 0h4m-4 2h4m-4 4h4m-3-111h4m-4 1h4m-4 7h4m-4 2h4m-4 7h4m-4 1h4m-4 6h4m-4 2h4m-4 1h4m-4 1h4m-4 1h4m-4 0h4m-4 1h4m-4 71h4m-4 1h4m-4 0h4m-4 0h4m-4 2h4m-4 1h4m-4 0h4m-4 2h4m-3-82h4m-4 2h4m-4 2h4m-4 1h4m-4 0h4m-4 71h4m-4 1h4m-4 0h4m-4 1h4m-4 1h4m-4 1h4m-4 1h4m-4 0h4m-3-109h4m-4 7h4m-4 11h4m-4 2h4m-4 3h4m-4 5h4m-4 5h4m-4 0h4m-4 0h4m-4 71h4m-4 1h4m-4 2h4m-4 0h4m-4 1h4m-4 0h4m-4 2h4m-4 5h4m-3-115h4m-4 4h4m-4 21h4m-4 4h4m-4 2h4m-4 1h4m-4 1h4m-4 71h4m-4 0h4m-4 7h4m-4 0h4m-3-111h4m-4 19h4m-4 7h4m-4 3h4m-4 1h4m-4 1h4m-4 1h4m-4 1h4m-4 71h4m-4 0h4m-4 2h4m-4 1h4m-4 0h4m-4 0h4m-4 3h4m-4 0h4m-3-121h4m-4 2h4m-4 3h4m-4 9h4m-4 15h4m-4 2h4m-4 2h4m-4 2h4m-4 1h4m-4 0h4m-4 0h4m-4 2h4m-4 0h4m-4 0h4m-4 0h4m-4 2h4m-4 2h4m-4 2h4m-4 0h4m-4 0h4m-4 71h4m-4 1h4m-4 1h4m-4 0h4m-4 0h4m-4 0h4m-4 1h4m-4 1h4m-4 0h4m-4 1h4m-4 1h4m-4 0h4m-4 1h4m-4 1h4m-3-115h4m-4 15h4m-4 4h4m-4 5h4m-4 5h4m-4 2h4m-4 1h4m-4 0h4m-4 4h4m-4 71h4m-4 1h4m-4 1h4m-4 1h4m-4 1h4m-4 1h4m-4 0h4m-3-113h4m-4 7h4m-4 2h4m-4 0h4m-4 13h4m-4 5h4m-4 3h4m-4 3h4m-4 3h4m-4 73h4m-4 0h4m-4 2h4m-4 3h4m-4 0h4m-4 0h4m-4 2h4m-4 0h4m-4 1h4m-4 1h4m-4 0h4m-4 8h4m-4 5h4m-3-119h4m-4 13h4m-4 2h4m-4 3h4m-4 2h4m-4 3h4m-4 2h4m-4 71h4m-4 0h4m-4 0h4m-4 1h4m-4 0h4m-4 0h4m-4 6h4m-4 1h4m-4 8h4m-4 25h4m-3-152h4m-4 7h4m-4 5h4m-4 1h4m-4 10h4m-4 0h4m-4 2h4m-4 0h4m-4 2h4m-4 2h4m-4 4h4m-4 0h4m-4 2h4m-4 4h4m-4 1h4m-4 0h4m-4 0h4m-4 0h4m-4 71h4m-4 4h4m-4 2h4m-4 1h4m-4 1h4m-3-121h4m-4 5h4m-4 5h4m-4 2h4m-4 1h4m-4 20h4m-4 4h4m-4 2h4m-4 0h4m-4 0h4m-4 2h4m-4 0h4m-4 1h4m-4 0h4m-4 73h4m-4 0h4m-4 0h4m-4 1h4m-4 1h4m-4 2h4m-4 0h4m-4 3h4m-4 5h4m-4 5h4m-3-127h4m-4 1h4m-4 3h4m-4 10h4m-4 7h4m-4 2h4m-4 1h4m-4 2h4m-4 3h4m-4 3h4m-4 0h4m-4 2h4m-4 1h4m-4 1h4m-4 0h4m-4 72h4m-4 1h4m-4 4h4m-4 1h4m-4 1h4m-4 3h4m-3-117h4m-4 5h4m-4 1h4m-4 3h4m-4 19h4m-4 0h4m-4 2h4m-4 0h4m-4 2h4m-4 2h4m-4 0h4m-4 0h4m-4 1h4m-4 0h4m-4 0h4m-4 1h4m-4 71h4m-4 1h4m-4 1h4m-4 1h4m-4 0h4m-4 1h4m-4 0h4m-4 2h4m-4 2h4m-4 1h4m-4 25h4m-3-138h4m-4 3h4m-4 16h4m-4 0h4m-4 1h4m-4 8h4m-4 0h4m-4 3h4m-4 1h4m-4 72h4m-4 1h4m-4 0h4m-4 0h4m-4 1h4m-4 1h4m-4 1h4m-4 0h4m-4 1h4m-4 1h4m-4 0h4m-4 0h4m-4 0h4m-4 3h4m-4 12h4m-3-149h4m-4 4h4m-4 4h4m-4 4h4m-4 1h4m-4 0h4m-4 2h4m-4 1h4m-4 9h4m-4 6h4m-4 13h4m-4 5h4m-4 0h4m-4 2h4m-4 1h4m-4 2h4m-4 1h4m-4 0h4m-4 1h4m-4 1h4m-4 0h4m-4 71h4m-4 1h4m-4 1h4m-4 0h4m-4 1h4m-4 0h4m-4 3h4m-4 1h4m-4 0h4m-4 6h4m-4 6h4m-4 3h4m-3-135h4m-4 5h4m-4 24h4m-4 0h4m-4 5h4m-4 79h4m-4 0h4m-4 1h4m-4 0h4m-4 0h4m-4 2h4m-4 2h4m-4 1h4m-4 0h4m-4 1h4m-4 46h4m-3-171h4m-4 1h4m-4 2h4m-4 1h4m-4 4h4m-4 2h4m-4 2h4m-4 7h4m-4 8h4m-4 10h4m-4 5h4m-4 3h4m-4 2h4m-4 0h4m-4 71h4m-4 1h4m-4 2h4m-4 4h4m-4 1h4m-4 1h4m-4 19h4m-4 5h4m-3-153h4m-4 14h4m-4 5h4m-4 4h4m-4 16h4m-4 1h4m-4 5h4m-4 0h4m-4 1h4m-4 2h4m-4 1h4m-4 0h4m-4 73h4m-4 3h4m-4 0h4m-4 2h4m-4 3h4m-3-146h4m-4 9h4m-4 10h4m-4 6h4m-4 18h4m-4 6h4m-4 4h4m-4 5h4m-4 1h4m-4 2h4m-4 2h4m-4 0h4m-4 0h4m-4 1h4m-4 1h4m-4 71h4m-4 0h4m-4 1h4m-4 1h4m-4 0h4m-4 1h4m-4 2h4m-4 1h4m-4 1h4m-4 1h4m-4 0h4m-4 1h4m-4 46h4m-3-159h4m-4 13h4m-4 6h4m-4 1h4m-4 2h4m-4 6h4m-4 0h4m-4 1h4m-4 0h4m-4 1h4m-4 0h4m-4 1h4m-4 0h4m-4 0h4m-4 2h4m-4 0h4m-4 71h4m-4 1h4m-4 2h4m-4 2h4m-4 0h4m-4 2h4m-4 41h4m-3-166h4m-4 6h4m-4 14h4m-4 2h4m-4 6h4m-4 4h4m-4 0h4m-4 3h4m-4 0h4m-4 2h4m-4 3h4m-4 4h4m-4 74h4m-4 0h4m-4 2h4m-4 1h4m-4 1h4m-4 4h4m-4 2h4m-3-131h4m-4 6h4m-4 2h4m-4 1h4m-4 11h4m-4 14h4m-4 7h4m-4 3h4m-4 0h4m-4 1h4m-4 2h4m-4 74h4m-4 2h4m-4 2h4m-4 1h4m-4 1h4m-4 0h4m-4 1h4m-3-130h4m-4 11h4m-4 0h4m-4 4h4m-4 15h4m-4 3h4m-4 1h4m-4 2h4m-4 7h4m-4 0h4m-4 4h4m-4 0h4m-4 1h4m-4 1h4m-4 0h4m-4 1h4m-4 1h4m-4 0h4m-4 1h4m-4 71h4m-4 0h4m-4 2h4m-4 2h4m-4 3h4m-4 3h4m-4 6h4m-4 20h4m-4 6h4m-3-178h4m-4 6h4m-4 5h4m-4 5h4m-4 4h4m-4 5h4m-4 0h4m-4 1h4m-4 16h4m-4 0h4m-4 2h4m-4 5h4m-4 1h4m-4 5h4m-4 2h4m-4 3h4m-4 2h4m-4 0h4m-4 2h4m-4 1h4m-4 70h4m-4 1h4m-4 1h4m-4 2h4m-4 0h4m-4 3h4m-4 2h4m-3-143h4m-4 12h4m-4 2h4m-4 8h4m-4 4h4m-4 4h4m-4 18h4m-4 2h4m-4 4h4m-4 1h4m-4 0h4m-4 1h4m-4 2h4m-4 0h4m-4 1h4m-4 3h4m-4 1h4m-4 0h4m-4 0h4m-4 1h4m-4 70h4m-4 1h4m-4 0h4m-4 1h4m-4 0h4m-4 4h4m-4 0h4m-4 1h4m-4 2h4m-4 3h4m-4 23h4m-4 13h4m-3-179h4m-4 4h4m-4 10h4m-4 20h4m-4 18h4m-4 4h4m-4 2h4m-4 0h4m-4 1h4m-4 0h4m-4 1h4m-4 1h4m-4 0h4m-4 70h4m-4 0h4m-4 1h4m-4 1h4m-4 1h4m-4 2h4m-4 2h4m-4 0h4m-4 0h4m-4 1h4m-4 1h4m-4 27h4m-3-180h4m-4 9h4m-4 4h4m-4 16h4m-4 11h4m-4 3h4m-4 8h4m-4 6h4m-4 3h4m-4 5h4m-4 1h4m-4 1h4m-4 0h4m-4 2h4m-4 2h4m-4 1h4m-4 0h4m-4 0h4m-4 1h4m-4 0h4m-4 1h4m-4 0h4m-4 71h4m-4 1h4m-4 1h4m-4 1h4m-4 1h4m-4 2h4m-4 1h4m-4 12h4m-4 7h4m-4 11h4m-3-174h4m-4 22h4m-4 10h4m-4 9h4m-4 7h4m-4 3h4m-4 0h4m-4 8h4m-4 1h4m-4 1h4m-4 0h4m-4 0h4m-4 2h4m-4 3h4m-4 0h4m-4 70h4m-4 0h4m-4 1h4m-4 0h4m-4 0h4m-4 1h4m-4 3h4m-4 1h4m-4 3h4m-4 0h4m-4 7h4m-4 3h4m-4 5h4m-4 17h4m-3-172h4m-4 2h4m-4 18h4m-4 6h4m-4 15h4m-4 3h4m-4 6h4m-4 0h4m-4 1h4m-4 1h4m-4 1h4m-4 1h4m-4 1h4m-4 2h4m-4 0h4m-4 0h4m-4 1h4m-4 0h4m-4 1h4m-4 2h4m-4 0h4m-4 70h4m-4 0h4m-4 0h4m-4 0h4m-4 0h4m-4 1h4m-4 0h4m-4 2h4m-4 2h4m-4 0h4m-4 1h4m-4 3h4m-4 2h4m-4 6h4m-4 0h4m-4 28h4m-3-181h4m-4 29h4m-4 7h4m-4 2h4m-4 7h4m-4 11h4m-4 6h4m-4 74h4m-4 0h4m-4 0h4m-4 1h4m-4 1h4m-4 1h4m-4 0h4m-4 0h4m-4 1h4m-4 0h4m-4 2h4m-4 2h4m-4 0h4m-4 53h4m-3-187h4m-4 22h4m-4 12h4m-4 5h4m-4 2h4m-4 3h4m-4 1h4m-4 1h4m-4 0h4m-4 3h4m-4 0h4m-4 3h4m-4 3h4m-4 1h4m-4 69h4m-4 0h4m-4 1h4m-4 0h4m-4 0h4m-4 1h4m-4 1h4m-4 0h4m-4 1h4m-4 1h4m-4 1h4m-4 1h4m-4 1h4m-4 0h4m-4 0h4m-4 3h4m-4 2h4m-3-152h4m-4 11h4m-4 25h4m-4 4h4m-4 0h4m-4 6h4m-4 6h4m-4 11h4m-4 0h4m-4 1h4m-4 0h4m-4 0h4m-4 0h4m-4 1h4m-4 2h4m-4 0h4m-4 1h4m-4 2h4m-4 0h4m-4 69h4m-4 0h4m-4 1h4m-4 0h4m-4 0h4m-4 1h4m-4 1h4m-4 2h4m-4 0h4m-4 1h4m-4 2h4m-4 0h4m-4 1h4m-4 1h4m-4 1h4m-4 1h4m-4 4h4m-4 6h4m-4 58h4m-3-235h4m-4 35h4m-4 1h4m-4 25h4m-4 8h4m-4 0h4m-4 2h4m-4 2h4m-4 7h4m-4 1h4m-4 2h4m-4 0h4m-4 3h4m-4 1h4m-4 68h4m-4 2h4m-4 0h4m-4 1h4m-4 0h4m-4 0h4m-4 0h4m-4 0h4m-4 1h4m-4 0h4m-4 1h4m-4 3h4m-4 1h4m-4 1h4m-3-145h4m-4 3h4m-4 9h4m-4 2h4m-4 3h4m-4 2h4m-4 6h4m-4 3h4m-4 16h4m-4 3h4m-4 8h4m-4 1h4m-4 2h4m-4 5h4m-4 0h4m-4 1h4m-4 2h4m-4 0h4m-4 69h4m-4 0h4m-4 1h4m-4 1h4m-4 0h4m-4 3h4m-4 0h4m-4 1h4m-4 0h4m-4 5h4m-4 9h4m-4 16h4m-4 16h4m-3-208h4m-4 15h4m-4 5h4m-4 14h4m-4 28h4m-4 5h4m-4 1h4m-4 4h4m-4 4h4m-4 2h4m-4 1h4m-4 2h4m-4 1h4m-4 0h4m-4 1h4m-4 0h4m-4 1h4m-4 2h4m-4 0h4m-4 1h4m-4 0h4m-4 69h4m-4 0h4m-4 3h4m-4 3h4m-4 0h4m-4 0h4m-4 0h4m-4 2h4m-4 0h4m-4 2h4m-4 9h4m-3-167h4m-4 9h4m-4 2h4m-4 19h4m-4 10h4m-4 21h4m-4 1h4m-4 6h4m-4 1h4m-4 3h4m-4 0h4m-4 4h4m-4 2h4m-4 0h4m-4 1h4m-4 0h4m-4 0h4m-4 1h4m-4 67h4m-4 0h4m-4 1h4m-4 3h4m-4 1h4m-4 0h4m-4 1h4m-4 1h4m-4 0h4m-4 4h4m-4 1h4m-4 0h4m-4 26h4m-4 15h4m-4 4h4m-3-198h4m-4 11h4m-4 12h4m-4 9h4m-4 1h4m-4 1h4m-4 10h4m-4 1h4m-4 4h4m-4 0h4m-4 9h4m-4 3h4m-4 3h4m-4 0h4m-4 3h4m-4 1h4m-4 1h4m-4 3h4m-4 1h4m-4 68h4m-4 1h4m-4 0h4m-4 2h4m-4 2h4m-4 1h4m-4 0h4m-4 0h4m-4 1h4m-4 1h4m-4 2h4m-4 14h4m-4 14h4m-4 2h4m-4 17h4m-3-223h4m-4 10h4m-4 27h4m-4 0h4m-4 3h4m-4 13h4m-4 2h4m-4 19h4m-4 4h4m-4 13h4m-4 0h4m-4 2h4m-4 0h4m-4 0h4m-4 1h4m-4 2h4m-4 1h4m-4 0h4m-4 1h4m-4 68h4m-4 1h4m-4 0h4m-4 0h4m-4 1h4m-4 0h4m-4 1h4m-4 1h4m-4 0h4m-4 2h4m-4 0h4m-4 0h4m-4 0h4m-4 0h4m-4 2h4m-4 1h4m-4 1h4m-4 2h4m-4 28h4m-3-182h4m-4 5h4m-4 11h4m-4 4h4m-4 10h4m-4 7h4m-4 3h4m-4 4h4m-4 7h4m-4 8h4m-4 5h4m-4 4h4m-4 5h4m-4 0h4m-4 1h4m-4 1h4m-4 67h4m-4 1h4m-4 1h4m-4 2h4m-4 1h4m-4 0h4m-4 0h4m-4 4h4m-4 1h4m-4 1h4m-3-146h4m-4 2h4m-4 26h4m-4 10h4m-4 7h4m-4 0h4m-4 4h4m-4 6h4m-4 1h4m-4 2h4m-4 2h4m-4 0h4m-4 0h4m-4 4h4m-4 0h4m-4 1h4m-4 1h4m-4 1h4m-4 69h4m-4 1h4m-4 0h4m-4 2h4m-4 0h4m-4 0h4m-4 1h4m-4 2h4m-4 0h4m-4 0h4m-4 1h4m-4 1h4m-4 25h4m-4 11h4m-4 9h4m-4 11h4m-3-211h4m-4 3h4m-4 10h4m-4 4h4m-4 10h4m-4 2h4m-4 10h4m-4 2h4m-4 3h4m-4 4h4m-4 24h4m-4 1h4m-4 0h4m-4 1h4m-4 0h4m-4 1h4m-4 0h4m-4 0h4m-4 1h4m-4 1h4m-4 0h4m-4 0h4m-4 1h4m-4 1h4m-4 0h4m-4 67h4m-4 1h4m-4 0h4m-4 1h4m-4 0h4m-4 1h4m-4 1h4m-4 1h4m-4 2h4m-4 2h4m-4 1h4m-4 35h4m-4 3h4m-3-186h4m-4 1h4m-4 1h4m-4 16h4m-4 5h4m-4 1h4m-4 5h4m-4 17h4m-4 6h4m-4 9h4m-4 1h4m-4 1h4m-4 1h4m-4 1h4m-4 4h4m-4 0h4m-4 2h4m-4 66h4m-4 1h4m-4 1h4m-4 0h4m-4 1h4m-4 3h4m-4 1h4m-4 0h4m-4 0h4m-4 2h4m-4 3h4m-4 0h4m-4 1h4m-4 13h4m-4 69h4m-3-269h4m-4 38h4m-4 13h4m-4 15h4m-4 9h4m-4 0h4m-4 9h4m-4 4h4m-4 4h4m-4 6h4m-4 3h4m-4 0h4m-4 3h4m-4 1h4m-4 1h4m-4 1h4m-4 0h4m-4 0h4m-4 1h4m-4 0h4m-4 0h4m-4 0h4m-4 66h4m-4 2h4m-4 2h4m-4 0h4m-4 3h4m-4 1h4m-4 0h4m-4 0h4m-4 2h4m-4 1h4m-4 55h4m-3-220h4m-4 4h4m-4 9h4m-4 19h4m-4 10h4m-4 6h4m-4 1h4m-4 5h4m-4 3h4m-4 3h4m-4 0h4m-4 4h4m-4 9h4m-4 4h4m-4 0h4m-4 1h4m-4 2h4m-4 2h4m-4 1h4m-4 2h4m-4 2h4m-4 0h4m-4 1h4m-4 67h4m-4 0h4m-4 1h4m-4 1h4m-4 0h4m-4 1h4m-4 3h4m-4 1h4m-4 0h4m-4 1h4m-4 2h4m-4 10h4m-4 6h4m-4 34h4m-3-214h4m-4 1h4m-4 5h4m-4 8h4m-4 19h4m-4 1h4m-4 20h4m-4 11h4m-4 0h4m-4 3h4m-4 0h4m-4 6h4m-4 0h4m-4 1h4m-4 3h4m-4 2h4m-4 0h4m-4 1h4m-4 2h4m-4 2h4m-4 0h4m-4 69h4m-4 0h4m-4 1h4m-4 0h4m-4 1h4m-4 0h4m-4 1h4m-4 2h4m-4 0h4m-4 0h4m-4 1h4m-4 1h4m-4 1h4m-4 1h4m-4 1h4m-4 6h4m-4 16h4m-4 2h4m-4 9h4m-3-181h4m-4 2h4m-4 19h4m-4 14h4m-4 14h4m-4 4h4m-4 5h4m-4 1h4m-4 2h4m-4 2h4m-4 1h4m-4 2h4m-4 1h4m-4 1h4m-4 1h4m-4 0h4m-4 0h4m-4 1h4m-4 0h4m-4 0h4m-4 1h4m-4 0h4m-4 66h4m-4 0h4m-4 3h4m-4 0h4m-4 1h4m-4 0h4m-4 0h4m-4 2h4m-4 1h4m-4 1h4m-4 3h4m-4 1h4m-4 13h4m-4 39h4m-3-196h4m-4 15h4m-4 1h4m-4 14h4m-4 7h4m-4 11h4m-4 1h4m-4 4h4m-4 3h4m-4 3h4m-4 0h4m-4 1h4m-4 1h4m-4 2h4m-4 1h4m-4 2h4m-4 0h4m-4 66h4m-4 0h4m-4 1h4m-4 4h4m-4 1h4m-4 1h4m-4 1h4m-4 2h4m-4 0h4m-4 1h4m-4 1h4m-4 0h4m-4 0h4m-4 1h4m-4 36h4m-3-182h4m-4 13h4m-4 2h4m-4 8h4m-4 12h4m-4 1h4m-4 2h4m-4 1h4m-4 1h4m-4 12h4m-4 5h4m-4 1h4m-4 0h4m-4 1h4m-4 0h4m-4 2h4m-4 0h4m-4 2h4m-4 0h4m-4 2h4m-4 1h4m-4 1h4m-4 66h4m-4 0h4m-4 0h4m-4 1h4m-4 0h4m-4 2h4m-4 0h4m-4 1h4m-4 2h4m-4 1h4m-4 0h4m-4 1h4m-4 3h4m-4 4h4m-4 45h4m-4 19h4m-3-247h4m-4 4h4m-4 23h4m-4 28h4m-4 3h4m-4 5h4m-4 4h4m-4 6h4m-4 1h4m-4 8h4m-4 2h4m-4 7h4m-4 0h4m-4 2h4m-4 4h4m-4 2h4m-4 2h4m-4 0h4m-4 0h4m-4 1h4m-4 1h4m-4 65h4m-4 2h4m-4 0h4m-4 2h4m-4 2h4m-4 3h4m-4 0h4m-4 1h4m-4 3h4m-4 24h4m-3-186h4m-4 7h4m-4 12h4m-4 1h4m-4 1h4m-4 3h4m-4 4h4m-4 0h4m-4 13h4m-4 1h4m-4 7h4m-4 6h4m-4 2h4m-4 3h4m-4 11h4m-4 2h4m-4 2h4m-4 0h4m-4 3h4m-4 0h4m-4 0h4m-4 1h4m-4 1h4m-4 3h4m-4 1h4m-4 65h4m-4 0h4m-4 0h4m-4 0h4m-4 2h4m-4 2h4m-4 1h4m-4 1h4m-4 0h4m-4 3h4m-4 18h4m-3-164h4m-4 4h4m-4 17h4m-4 13h4m-4 17h4m-4 1h4m-4 0h4m-4 11h4m-4 3h4m-4 1h4m-4 0h4m-4 2h4m-4 0h4m-4 1h4m-4 67h4m-4 2h4m-4 1h4m-4 3h4m-4 1h4m-4 0h4m-4 1h4m-4 0h4m-4 1h4m-4 4h4m-4 26h4m-4 9h4m-4 4h4m-4 1h4m-4 23h4m-3-242h4m-4 8h4m-4 2h4m-4 15h4m-4 23h4m-4 6h4m-4 7h4m-4 20h4m-4 6h4m-4 0h4m-4 3h4m-4 1h4m-4 4h4m-4 1h4m-4 0h4m-4 1h4m-4 1h4m-4 1h4m-4 1h4m-4 1h4m-4 64h4m-4 1h4m-4 1h4m-4 1h4m-4 4h4m-4 2h4m-4 2h4m-4 35h4m-4 27h4m-3-207h4m-4 1h4m-4 1h4m-4 6h4m-4 3h4m-4 7h4m-4 5h4m-4 14h4m-4 0h4m-4 20h4m-4 2h4m-4 1h4m-4 0h4m-4 5h4m-4 4h4m-4 0h4m-4 66h4m-4 0h4m-4 0h4m-4 0h4m-4 0h4m-4 0h4m-4 1h4m-4 0h4m-4 1h4m-4 0h4m-4 4h4m-4 1h4m-4 1h4m-4 0h4m-4 0h4m-4 1h4m-4 0h4m-4 0h4m-4 1h4m-4 2h4m-4 1h4m-4 42h4m-4 15h4m-3-199h4m-4 8h4m-4 0h4m-4 23h4m-4 4h4m-4 7h4m-4 9h4m-4 0h4m-4 2h4m-4 1h4m-4 0h4m-4 3h4m-4 0h4m-4 1h4m-4 2h4m-4 1h4m-4 0h4m-4 0h4m-4 2h4m-4 0h4m-4 1h4m-4 0h4m-4 64h4m-4 1h4m-4 0h4m-4 1h4m-4 0h4m-4 0h4m-4 4h4m-4 0h4m-4 1h4m-4 3h4m-4 1h4m-3-157h4m-4 1h4m-4 15h4m-4 24h4m-4 13h4m-4 13h4m-4 3h4m-4 1h4m-4 6h4m-4 1h4m-4 1h4m-4 68h4m-4 0h4m-4 0h4m-4 1h4m-4 0h4m-4 0h4m-4 1h4m-4 0h4m-4 0h4m-4 1h4m-4 1h4m-4 4h4m-4 4h4m-4 3h4m-4 66h4m-3-230h4m-4 8h4m-4 5h4m-4 6h4m-4 4h4m-4 10h4m-4 17h4m-4 8h4m-4 4h4m-4 2h4m-4 3h4m-4 7h4m-4 2h4m-4 3h4m-4 1h4m-4 0h4m-4 1h4m-4 1h4m-4 0h4m-4 2h4m-4 64h4m-4 1h4m-4 1h4m-4 1h4m-4 4h4m-4 1h4m-4 2h4m-4 0h4m-4 0h4m-4 21h4m-4 33h4m-3-214h4m-4 22h4m-4 3h4m-4 33h4m-4 3h4m-4 13h4m-4 2h4m-4 1h4m-4 1h4m-4 0h4m-4 0h4m-4 2h4m-4 1h4m-4 2h4m-4 0h4m-4 1h4m-4 0h4m-4 1h4m-4 1h4m-4 0h4m-4 64h4m-4 1h4m-4 0h4m-4 0h4m-4 1h4m-4 1h4m-4 0h4m-4 1h4m-4 1h4m-4 1h4m-4 0h4m-4 3h4m-4 0h4m-4 0h4m-4 2h4m-4 0h4m-4 1h4m-4 1h4m-4 0h4m-3-165h4m-4 11h4m-4 32h4m-4 0h4m-4 9h4m-4 12h4m-4 2h4m-4 5h4m-4 2h4m-4 1h4m-4 6h4m-4 1h4m-4 0h4m-4 2h4m-4 0h4m-4 0h4m-4 2h4m-4 1h4m-4 2h4m-4 0h4m-4 64h4m-4 1h4m-4 0h4m-4 0h4m-4 1h4m-4 1h4m-4 1h4m-4 0h4m-4 0h4m-4 3h4m-4 2h4m-4 1h4m-4 0h4m-4 0h4m-4 9h4m-3-179h4m-4 45h4m-4 8h4m-4 0h4m-4 29h4m-4 6h4m-4 0h4m-4 0h4m-4 1h4m-4 0h4m-4 1h4m-4 2h4m-4 2h4m-4 2h4m-4 64h4m-4 1h4m-4 0h4m-4 2h4m-4 0h4m-4 1h4m-4 1h4m-4 1h4m-4 4h4m-4 1h4m-4 2h4m-4 0h4m-4 3h4m-4 34h4m-4 26h4m-3-243h4m-4 5h4m-4 19h4m-4 30h4m-4 5h4m-4 12h4m-4 19h4m-4 3h4m-4 8h4m-4 1h4m-4 1h4m-4 1h4m-4 0h4m-4 64h4m-4 0h4m-4 2h4m-4 0h4m-4 2h4m-4 2h4m-4 5h4m-4 6h4m-4 3h4m-4 50h4m-3-212h4m-4 1h4m-4 2h4m-4 21h4m-4 7h4m-4 12h4m-4 20h4m-4 0h4m-4 4h4m-4 1h4m-4 1h4m-4 1h4m-4 0h4m-4 3h4m-4 1h4m-4 0h4m-4 1h4m-4 1h4m-4 1h4m-4 0h4m-4 0h4m-4 64h4m-4 2h4m-4 0h4m-4 1h4m-4 2h4m-4 1h4m-4 1h4m-4 1h4m-4 1h4m-4 0h4m-4 0h4m-4 1h4m-4 0h4m-4 1h4m-3-166h4m-4 5h4m-4 3h4m-4 1h4m-4 18h4m-4 10h4m-4 6h4m-4 1h4m-4 12h4m-4 1h4m-4 26h4m-4 0h4m-4 1h4m-4 1h4m-4 0h4m-4 3h4m-4 1h4m-4 1h4m-4 0h4m-4 2h4m-4 0h4m-4 0h4m-4 64h4m-4 1h4m-4 0h4m-4 0h4m-4 1h4m-4 0h4m-4 0h4m-4 0h4m-4 1h4m-4 1h4m-4 1h4m-4 3h4m-4 1h4m-4 0h4m-4 0h4m-4 1h4m-4 1h4m-4 0h4m-4 26h4m-4 35h4m-4 16h4m-3-245h4m-4 23h4m-4 21h4m-4 26h4m-4 2h4m-4 1h4m-4 10h4m-4 2h4m-4 1h4m-4 70h4m-4 0h4m-4 0h4m-4 1h4m-4 1h4m-4 0h4m-4 2h4m-4 1h4m-4 0h4m-4 1h4m-4 5h4m-4 7h4m-4 7h4m-4 8h4m-4 48h4m-3-226h4m-4 3h4m-4 11h4m-4 0h4m-4 38h4m-4 2h4m-4 8h4m-4 1h4m-4 0h4m-4 4h4m-4 5h4m-4 0h4m-4 2h4m-4 5h4m-4 3h4m-4 63h4m-4 0h4m-4 1h4m-4 2h4m-4 1h4m-4 2h4m-4 0h4m-4 5h4m-4 0h4m-4 4h4m-4 7h4m-4 44h4m-3-232h4m-4 13h4m-4 5h4m-4 3h4m-4 32h4m-4 2h4m-4 4h4m-4 28h4m-4 5h4m-4 1h4m-4 4h4m-4 1h4m-4 0h4m-4 0h4m-4 1h4m-4 1h4m-4 1h4m-4 1h4m-4 0h4m-4 0h4m-4 1h4m-4 63h4m-4 3h4m-4 1h4m-4 2h4m-4 1h4m-4 6h4m-4 0h4m-4 1h4m-4 84h4m-3-266h4m-4 44h4m-4 4h4m-4 6h4m-4 10h4m-4 25h4m-4 5h4m-4 3h4m-4 2h4m-4 1h4m-4 2h4m-4 3h4m-4 62h4m-4 0h4m-4 1h4m-4 1h4m-4 0h4m-4 0h4m-4 2h4m-4 1h4m-4 0h4m-4 2h4m-4 4h4m-4 27h4m-3-212h4m-4 8h4m-4 1h4m-4 44h4m-4 3h4m-4 14h4m-4 6h4m-4 4h4m-4 8h4m-4 6h4m-4 1h4m-4 8h4m-4 3h4m-4 2h4m-4 0h4m-4 1h4m-4 1h4m-4 2h4m-4 62h4m-4 1h4m-4 1h4m-4 8h4m-4 2h4m-4 0h4m-4 6h4m-4 36h4m-4 4h4m-4 20h4m-4 21h4m-3-231h4m-4 16h4m-4 0h4m-4 9h4m-4 10h4m-4 3h4m-4 5h4m-4 1h4m-4 4h4m-4 10h4m-4 1h4m-4 2h4m-4 8h4m-4 0h4m-4 0h4m-4 0h4m-4 0h4m-4 64h4m-4 3h4m-4 1h4m-4 0h4m-4 2h4m-4 0h4m-4 0h4m-4 1h4m-4 1h4m-4 0h4m-4 0h4m-4 2h4m-4 0h4m-4 1h4m-4 2h4m-4 57h4m-3-211h4m-4 10h4m-4 2h4m-4 9h4m-4 1h4m-4 8h4m-4 10h4m-4 2h4m-4 1h4m-4 22h4m-4 0h4m-4 1h4m-4 1h4m-4 2h4m-4 1h4m-4 1h4m-4 0h4m-4 1h4m-4 2h4m-4 3h4m-4 64h4m-4 1h4m-4 0h4m-4 1h4m-4 2h4m-4 0h4m-4 4h4m-4 1h4m-4 2h4m-4 2h4m-4 27h4m-3-193h4m-4 40h4m-4 8h4m-4 5h4m-4 0h4m-4 5h4m-4 2h4m-4 8h4m-4 12h4m-4 1h4m-4 0h4m-4 4h4m-4 2h4m-4 2h4m-4 0h4m-4 0h4m-4 0h4m-4 0h4m-4 2h4m-4 61h4m-4 0h4m-4 0h4m-4 1h4m-4 0h4m-4 3h4m-4 1h4m-4 1h4m-4 3h4m-4 3h4m-4 3h4m-4 0h4m-4 36h4m-3-208h4m-4 12h4m-4 6h4m-4 3h4m-4 0h4m-4 16h4m-4 4h4m-4 0h4m-4 11h4m-4 5h4m-4 7h4m-4 6h4m-4 14h4m-4 0h4m-4 2h4m-4 4h4m-4 5h4m-4 0h4m-4 61h4m-4 0h4m-4 1h4m-4 1h4m-4 0h4m-4 1h4m-4 1h4m-4 2h4m-4 0h4m-4 1h4m-4 0h4m-4 4h4m-4 4h4m-4 1h4m-4 41h4m-3-222h4m-4 16h4m-4 4h4m-4 3h4m-4 2h4m-4 6h4m-4 31h4m-4 1h4m-4 6h4m-4 4h4m-4 3h4m-4 2h4m-4 1h4m-4 3h4m-4 1h4m-4 7h4m-4 8h4m-4 1h4m-4 4h4m-4 62h4m-4 1h4m-4 2h4m-4 1h4m-4 1h4m-4 4h4m-4 1h4m-4 9h4m-4 61h4m-3-251h4m-4 42h4m-4 1h4m-4 7h4m-4 8h4m-4 1h4m-4 9h4m-4 1h4m-4 1h4m-4 13h4m-4 8h4m-4 4h4m-4 1h4m-4 2h4m-4 0h4m-4 7h4m-4 2h4m-4 3h4m-4 0h4m-4 61h4m-4 0h4m-4 1h4m-4 0h4m-4 1h4m-4 1h4m-4 1h4m-4 2h4m-4 7h4m-4 2h4m-4 0h4m-4 24h4m-3-180h4m-4 6h4m-4 13h4m-4 8h4m-4 0h4m-4 19h4m-4 2h4m-4 4h4m-4 8h4m-4 8h4m-4 0h4m-4 9h4m-4 1h4m-4 0h4m-4 2h4m-4 62h4m-4 3h4m-4 0h4m-4 1h4m-4 1h4m-4 3h4m-4 0h4m-4 0h4m-4 1h4m-4 0h4m-4 1h4m-4 1h4m-4 1h4m-4 0h4m-4 11h4m-4 4h4m-3-169h4m-4 2h4m-4 11h4m-4 1h4m-4 1h4m-4 29h4m-4 10h4m-4 1h4m-4 2h4m-4 0h4m-4 12h4m-4 3h4m-4 0h4m-4 3h4m-4 2h4m-4 1h4m-4 2h4m-4 62h4m-4 2h4m-4 1h4m-4 1h4m-4 0h4m-4 1h4m-4 0h4m-4 0h4m-4 3h4m-4 0h4m-4 1h4m-4 2h4m-4 0h4m-4 3h4m-4 4h4m-4 34h4m-4 9h4m-3-216h4m-4 11h4m-4 0h4m-4 0h4m-4 8h4m-4 1h4m-4 0h4m-4 8h4m-4 19h4m-4 22h4m-4 6h4m-4 9h4m-4 0h4m-4 1h4m-4 1h4m-4 1h4m-4 2h4m-4 2h4m-4 0h4m-4 1h4m-4 0h4m-4 1h4m-4 0h4m-4 61h4m-4 0h4m-4 2h4m-4 0h4m-4 0h4m-4 6h4m-4 6h4m-4 0h4m-4 4h4m-4 65h4m-4 6h4m-3-263h4m-4 25h4m-4 3h4m-4 15h4m-4 9h4m-4 19h4m-4 6h4m-4 1h4m-4 4h4m-4 7h4m-4 1h4m-4 5h4m-4 10h4m-4 1h4m-4 1h4m-4 2h4m-4 2h4m-4 0h4m-4 2h4m-4 0h4m-4 63h4m-4 0h4m-4 0h4m-4 1h4m-4 0h4m-4 1h4m-4 1h4m-4 2h4m-4 1h4m-4 0h4m-4 3h4m-4 0h4m-4 3h4m-4 4h4m-4 71h4m-3-229h4m-4 1h4m-4 2h4m-4 19h4m-4 8h4m-4 26h4m-4 6h4m-4 2h4m-4 5h4m-4 1h4m-4 1h4m-4 1h4m-4 2h4m-4 2h4m-4 0h4m-4 1h4m-4 1h4m-4 1h4m-4 0h4m-4 0h4m-4 61h4m-4 1h4m-4 0h4m-4 2h4m-4 1h4m-4 2h4m-4 2h4m-4 3h4m-4 2h4m-4 12h4m-3-164h4m-4 17h4m-4 8h4m-4 1h4m-4 9h4m-4 2h4m-4 1h4m-4 8h4m-4 1h4m-4 4h4m-4 1h4m-4 2h4m-4 1h4m-4 9h4m-4 5h4m-4 2h4m-4 1h4m-4 0h4m-4 0h4m-4 1h4m-4 0h4m-4 0h4m-4 1h4m-4 2h4m-4 0h4m-4 1h4m-4 0h4m-4 1h4m-4 0h4m-4 1h4m-4 61h4m-4 1h4m-4 2h4m-4 1h4m-4 2h4m-4 0h4m-4 1h4m-4 9h4m-4 2h4m-4 22h4m-4 29h4m-4 50h4m-3-283h4m-4 11h4m-4 17h4m-4 6h4m-4 6h4m-4 13h4m-4 14h4m-4 8h4m-4 3h4m-4 1h4m-4 3h4m-4 3h4m-4 3h4m-4 0h4m-4 5h4m-4 2h4m-4 2h4m-4 0h4m-4 0h4m-4 1h4m-4 4h4m-4 0h4m-4 0h4m-4 1h4m-4 59h4m-4 0h4m-4 1h4m-4 1h4m-4 1h4m-4 1h4m-4 2h4m-4 1h4m-4 0h4m-4 0h4m-4 1h4m-4 1h4m-4 1h4m-4 2h4m-4 6h4m-4 2h4m-4 70h4m-3-256h4m-4 20h4m-4 13h4m-4 0h4m-4 2h4m-4 7h4m-4 34h4m-4 5h4m-4 9h4m-4 6h4m-4 1h4m-4 1h4m-4 2h4m-4 6h4m-4 1h4m-4 0h4m-4 59h4m-4 0h4m-4 1h4m-4 0h4m-4 0h4m-4 1h4m-4 8h4m-4 4h4m-4 4h4m-3-165h4m-4 5h4m-4 37h4m-4 21h4m-4 2h4m-4 1h4m-4 7h4m-4 1h4m-4 3h4m-4 0h4m-4 1h4m-4 4h4m-4 6h4m-4 0h4m-4 0h4m-4 0h4m-4 59h4m-4 0h4m-4 1h4m-4 0h4m-4 1h4m-4 2h4m-4 1h4m-4 7h4m-4 1h4m-4 6h4m-4 7h4m-4 25h4m-3-231h4m-4 9h4m-4 22h4m-4 39h4m-4 0h4m-4 13h4m-4 11h4m-4 11h4m-4 1h4m-4 9h4m-4 2h4m-4 4h4m-4 0h4m-4 0h4m-4 0h4m-4 59h4m-4 4h4m-4 5h4m-4 3h4m-4 32h4m-4 6h4m-4 24h4m-3-234h4m-4 10h4m-4 9h4m-4 7h4m-4 6h4m-4 4h4m-4 13h4m-4 17h4m-4 0h4m-4 1h4m-4 4h4m-4 5h4m-4 6h4m-4 4h4m-4 4h4m-4 2h4m-4 1h4m-4 1h4m-4 5h4m-4 0h4m-4 1h4m-4 0h4m-4 0h4m-4 0h4m-4 1h4m-4 59h4m-4 4h4m-4 5h4m-4 5h4m-4 0h4m-4 0h4m-4 5h4m-4 25h4m-3-188h4m-4 26h4m-4 0h4m-4 37h4m-4 2h4m-4 0h4m-4 6h4m-4 3h4m-4 2h4m-4 1h4m-4 4h4m-4 1h4m-4 1h4m-4 1h4m-4 1h4m-4 59h4m-4 1h4m-4 2h4m-4 2h4m-4 0h4m-4 1h4m-4 5h4m-4 2h4m-4 1h4m-4 1h4m-3-178h4m-4 2h4m-4 9h4m-4 19h4m-4 2h4m-4 14h4m-4 3h4m-4 1h4m-4 4h4m-4 20h4m-4 1h4m-4 10h4m-4 3h4m-4 3h4m-4 3h4m-4 0h4m-4 1h4m-4 1h4m-4 2h4m-4 3h4m-4 0h4m-4 0h4m-4 1h4m-4 0h4m-4 1h4m-4 1h4m-4 0h4m-4 58h4m-4 1h4m-4 3h4m-4 2h4m-4 2h4m-4 2h4m-4 1h4m-4 0h4m-4 2h4m-4 3h4m-4 35h4m-4 6h4m-4 4h4m-4 7h4m-4 20h4m-3-256h4m-4 24h4m-4 5h4m-4 9h4m-4 0h4m-4 1h4m-4 2h4m-4 34h4m-4 14h4m-4 4h4m-4 6h4m-4 1h4m-4 5h4m-4 2h4m-4 1h4m-4 0h4m-4 1h4m-4 0h4m-4 1h4m-4 1h4m-4 59h4m-4 0h4m-4 3h4m-4 0h4m-4 5h4m-4 1h4m-4 2h4m-4 6h4m-4 33h4m-4 37h4m-3-255h4m-4 30h4m-4 2h4m-4 3h4m-4 13h4m-4 2h4m-4 3h4m-4 6h4m-4 6h4m-4 5h4m-4 7h4m-4 1h4m-4 7h4m-4 6h4m-4 2h4m-4 5h4m-4 2h4m-4 0h4m-4 1h4m-4 4h4m-4 3h4m-4 0h4m-4 58h4m-4 0h4m-4 6h4m-4 2h4m-4 1h4m-4 2h4m-4 1h4m-4 4h4m-4 2h4m-4 1h4m-4 23h4m-4 4h4m-4 18h4m-3-217h4m-4 3h4m-4 5h4m-4 18h4m-4 2h4m-4 6h4m-4 16h4m-4 13h4m-4 0h4m-4 5h4m-4 12h4m-4 4h4m-4 1h4m-4 0h4m-4 4h4m-4 4h4m-4 1h4m-4 0h4m-4 1h4m-4 58h4m-4 1h4m-4 6h4m-4 3h4m-4 1h4m-4 3h4m-4 0h4m-4 1h4m-4 3h4m-4 47h4m-3-234h4m-4 2h4m-4 10h4m-4 4h4m-4 2h4m-4 9h4m-4 1h4m-4 5h4m-4 26h4m-4 3h4m-4 18h4m-4 15h4m-4 3h4m-4 7h4m-4 3h4m-4 3h4m-4 1h4m-4 0h4m-4 57h4m-4 0h4m-4 1h4m-4 0h4m-4 2h4m-4 4h4m-4 6h4m-4 0h4m-4 7h4m-4 0h4m-4 47h4m-3-213h4m-4 4h4m-4 1h4m-4 30h4m-4 3h4m-4 6h4m-4 7h4m-4 15h4m-4 11h4m-4 2h4m-4 2h4m-4 1h4m-4 4h4m-4 0h4m-4 1h4m-4 2h4m-4 56h4m-4 2h4m-4 0h4m-4 1h4m-4 3h4m-4 4h4m-4 1h4m-4 4h4m-4 0h4m-4 2h4m-4 1h4m-4 5h4m-4 8h4m-4 18h4m-4 52h4m-3-239h4m-4 4h4m-4 3h4m-4 2h4m-4 11h4m-4 4h4m-4 13h4m-4 9h4m-4 8h4m-4 2h4m-4 13h4m-4 0h4m-4 2h4m-4 6h4m-4 0h4m-4 3h4m-4 1h4m-4 1h4m-4 0h4m-4 57h4m-4 1h4m-4 2h4m-4 0h4m-4 0h4m-4 1h4m-4 0h4m-4 2h4m-4 2h4m-4 0h4m-4 1h4m-4 6h4m-3-120h4m-4 1h4m-4 1h4m-4 2h4m-4 3h4m-4 2h4m-4 2h4m-4 1h4m-4 1h4m-4 7h4m-4 13h4m-4 8h4m-4 1h4m-4 0h4m-4 3h4m-4 1h4m-4 1h4m-4 57h4m-4 2h4m-4 3h4m-4 2h4m-4 3h4m-4 0h4m-4 7h4m-4 3h4m-4 13h4m-3-193h4m-4 18h4m-4 1h4m-4 1h4m-4 4h4m-4 16h4m-4 1h4m-4 2h4m-4 4h4m-4 18h4m-4 5h4m-4 0h4m-4 4h4m-4 14h4m-4 4h4m-4 1h4m-4 0h4m-4 2h4m-4 3h4m-4 6h4m-4 56h4m-4 1h4m-4 1h4m-4 1h4m-4 5h4m-4 1h4m-4 0h4m-4 7h4m-4 0h4m-4 19h4m-4 10h4m-4 29h4m-3-204h4m-4 7h4m-4 11h4m-4 5h4m-4 27h4m-4 10h4m-4 0h4m-4 9h4m-4 1h4m-4 0h4m-4 1h4m-4 2h4m-4 0h4m-4 1h4m-4 61h4m-4 6h4m-4 0h4m-4 4h4m-3-173h4m-4 20h4m-4 7h4m-4 12h4m-4 6h4m-4 1h4m-4 9h4m-4 17h4m-4 3h4m-4 3h4m-4 9h4m-4 1h4m-4 0h4m-4 2h4m-4 3h4m-4 2h4m-4 2h4m-4 1h4m-4 1h4m-4 2h4m-4 2h4m-4 0h4m-4 54h4m-4 1h4m-4 0h4m-4 2h4m-4 5h4m-4 8h4m-4 17h4m-4 28h4m-4 2h4m-4 32h4m-3-241h4m-4 4h4m-4 25h4m-4 0h4m-4 10h4m-4 1h4m-4 4h4m-4 0h4m-4 41h4m-4 1h4m-4 2h4m-4 1h4m-4 1h4m-4 1h4m-4 1h4m-4 0h4m-4 0h4m-4 54h4m-4 1h4m-4 2h4m-4 2h4m-4 3h4m-4 1h4m-4 3h4m-4 7h4m-4 1h4m-4 0h4m-4 2h4m-4 0h4m-4 69h4m-3-256h4m-4 8h4m-4 9h4m-4 21h4m-4 2h4m-4 4h4m-4 8h4m-4 4h4m-4 9h4m-4 4h4m-4 21h4m-4 3h4m-4 3h4m-4 0h4m-4 3h4m-4 1h4m-4 4h4m-4 1h4m-4 6h4m-4 55h4m-4 0h4m-4 0h4m-4 1h4m-4 4h4m-4 6h4m-4 0h4m-4 1h4m-4 0h4m-4 7h4m-4 2h4m-4 0h4m-4 78h4m-3-258h4m-4 11h4m-4 26h4m-4 3h4m-4 13h4m-4 4h4m-4 3h4m-4 7h4m-4 2h4m-4 6h4m-4 1h4m-4 7h4m-4 0h4m-4 2h4m-4 1h4m-4 0h4m-4 1h4m-4 4h4m-4 1h4m-4 3h4m-4 5h4m-4 2h4m-4 1h4m-4 0h4m-4 0h4m-4 0h4m-4 1h4m-4 0h4m-4 54h4m-4 3h4m-4 1h4m-4 1h4m-4 3h4m-4 1h4m-4 2h4m-4 1h4m-4 0h4m-4 3h4m-4 0h4m-4 2h4m-4 0h4m-4 0h4m-4 2h4m-4 25h4m-4 11h4m-3-197h4m-4 9h4m-4 0h4m-4 1h4m-4 0h4m-4 1h4m-4 3h4m-4 5h4m-4 4h4m-4 11h4m-4 11h4m-4 2h4m-4 14h4m-4 3h4m-4 11h4m-4 3h4m-4 1h4m-4 2h4m-4 5h4m-4 1h4m-4 0h4m-4 1h4m-4 54h4m-4 1h4m-4 0h4m-4 1h4m-4 2h4m-4 0h4m-4 1h4m-4 1h4m-4 0h4m-4 4h4m-4 4h4m-4 1h4m-4 75h4m-3-247h4m-4 6h4m-4 9h4m-4 17h4m-4 4h4m-4 0h4m-4 1h4m-4 13h4m-4 20h4m-4 8h4m-4 7h4m-4 4h4m-4 0h4m-4 0h4m-4 5h4m-4 0h4m-4 1h4m-4 2h4m-4 1h4m-4 1h4m-4 0h4m-4 1h4m-4 1h4m-4 1h4m-4 0h4m-4 1h4m-4 54h4m-4 0h4m-4 13h4m-4 2h4m-4 5h4m-4 49h4m-4 26h4m-3-260h4m-4 23h4m-4 0h4m-4 4h4m-4 13h4m-4 19h4m-4 15h4m-4 0h4m-4 17h4m-4 8h4m-4 4h4m-4 1h4m-4 0h4m-4 3h4m-4 0h4m-4 1h4m-4 1h4m-4 0h4m-4 0h4m-4 2h4m-4 0h4m-4 59h4m-4 2h4m-4 3h4m-4 2h4m-4 6h4m-4 0h4m-4 1h4m-4 1h4m-4 3h4m-4 0h4m-4 53h4m-4 7h4m-3-224h4m-4 11h4m-4 12h4m-4 11h4m-4 18h4m-4 16h4m-4 6h4m-4 2h4m-4 3h4m-4 1h4m-4 1h4m-4 1h4m-4 2h4m-4 0h4m-4 1h4m-4 0h4m-4 1h4m-4 0h4m-4 1h4m-4 55h4m-4 2h4m-4 1h4m-4 0h4m-4 0h4m-4 1h4m-4 2h4m-4 1h4m-4 1h4m-4 3h4m-4 3h4m-4 1h4m-4 2h4m-4 17h4m-4 11h4m-4 0h4m-4 36h4m-3-231h4m-4 11h4m-4 1h4m-4 42h4m-4 4h4m-4 0h4m-4 17h4m-4 2h4m-4 3h4m-4 3h4m-4 1h4m-4 4h4m-4 3h4m-4 1h4m-4 3h4m-4 1h4m-4 0h4m-4 54h4m-4 1h4m-4 0h4m-4 2h4m-4 4h4m-4 1h4m-4 2h4m-4 3h4m-4 7h4m-4 37h4m-3-226h4m-4 39h4m-4 5h4m-4 0h4m-4 33h4m-4 6h4m-4 13h4m-4 7h4m-4 1h4m-4 0h4m-4 2h4m-4 2h4m-4 1h4m-4 3h4m-4 1h4m-4 0h4m-4 2h4m-4 53h4m-4 2h4m-4 1h4m-4 5h4m-4 1h4m-4 1h4m-4 1h4m-4 0h4m-4 1h4m-4 0h4m-4 1h4m-4 0h4m-4 1h4m-4 1h4m-4 3h4m-4 1h4m-4 19h4m-4 4h4m-3-198h4m-4 4h4m-4 2h4m-4 28h4m-4 0h4m-4 18h4m-4 8h4m-4 3h4m-4 4h4m-4 8h4m-4 4h4m-4 1h4m-4 9h4m-4 3h4m-4 2h4m-4 0h4m-4 0h4m-4 2h4m-4 0h4m-4 5h4m-4 0h4m-4 54h4m-4 1h4m-4 0h4m-4 1h4m-4 3h4m-4 2h4m-4 0h4m-4 0h4m-4 1h4m-4 1h4m-4 4h4m-4 0h4m-4 0h4m-4 2h4m-4 1h4m-4 3h4m-4 12h4m-3-192h4m-4 16h4m-4 23h4m-4 32h4m-4 11h4m-4 7h4m-4 1h4m-4 0h4m-4 1h4m-4 1h4m-4 6h4m-4 1h4m-4 4h4m-4 2h4m-4 1h4m-4 1h4m-4 0h4m-4 2h4m-4 53h4m-4 0h4m-4 0h4m-4 1h4m-4 4h4m-4 1h4m-4 2h4m-4 5h4m-4 0h4m-4 6h4m-4 45h4m-4 27h4m-4 2h4m-4 37h4m-3-284h4m-4 19h4m-4 7h4m-4 4h4m-4 3h4m-4 7h4m-4 1h4m-4 21h4m-4 4h4m-4 14h4m-4 4h4m-4 1h4m-4 4h4m-4 3h4m-4 3h4m-4 0h4m-4 0h4m-4 3h4m-4 2h4m-4 0h4m-4 1h4m-4 0h4m-4 52h4m-4 0h4m-4 1h4m-4 1h4m-4 7h4m-4 2h4m-4 4h4m-4 1h4m-4 1h4m-4 20h4m-4 36h4m-3-232h4m-4 33h4m-4 7h4m-4 2h4m-4 6h4m-4 4h4m-4 13h4m-4 6h4m-4 7h4m-4 0h4m-4 8h4m-4 0h4m-4 3h4m-4 0h4m-4 1h4m-4 0h4m-4 8h4m-4 1h4m-4 2h4m-4 1h4m-4 1h4m-4 3h4m-4 1h4m-4 52h4m-4 0h4m-4 0h4m-4 1h4m-4 5h4m-4 1h4m-4 3h4m-4 0h4m-4 1h4m-4 0h4m-4 0h4m-4 2h4m-4 4h4m-4 2h4m-4 1h4m-4 4h4m-4 20h4m-4 30h4m-4 38h4m-3-273h4m-4 18h4m-4 9h4m-4 6h4m-4 3h4m-4 6h4m-4 6h4m-4 6h4m-4 15h4m-4 6h4m-4 2h4m-4 10h4m-4 2h4m-4 2h4m-4 2h4m-4 7h4m-4 5h4m-4 3h4m-4 1h4m-4 0h4m-4 52h4m-4 1h4m-4 6h4m-4 1h4m-4 11h4m-4 2h4m-4 4h4m-4 1h4m-3-195h4m-4 29h4m-4 13h4m-4 3h4m-4 30h4m-4 15h4m-4 4h4m-4 0h4m-4 7h4m-4 2h4m-4 3h4m-4 3h4m-4 1h4m-4 1h4m-4 1h4m-4 2h4m-4 2h4m-4 1h4m-4 1h4m-4 0h4m-4 53h4m-4 2h4m-4 0h4m-4 0h4m-4 0h4m-4 3h4m-4 1h4m-4 1h4m-4 1h4m-4 2h4m-4 0h4m-4 2h4m-4 1h4m-4 1h4m-4 5h4m-4 1h4m-3-169h4m-4 3h4m-4 1h4m-4 13h4m-4 14h4m-4 21h4m-4 11h4m-4 8h4m-4 4h4m-4 5h4m-4 2h4m-4 1h4m-4 1h4m-4 1h4m-4 3h4m-4 2h4m-4 0h4m-4 2h4m-4 3h4m-4 0h4m-4 0h4m-4 0h4m-4 52h4m-4 5h4m-4 1h4m-4 2h4m-4 2h4m-4 2h4m-4 2h4m-4 1h4m-4 1h4m-4 2h4m-4 23h4m-4 12h4m-4 13h4m-4 0h4m-4 27h4m-4 6h4m-3-209h4m-4 15h4m-4 15h4m-4 1h4m-4 11h4m-4 4h4m-4 4h4m-4 1h4m-4 1h4m-4 1h4m-4 1h4m-4 1h4m-4 2h4m-4 1h4m-4 0h4m-4 0h4m-4 1h4m-4 50h4m-4 1h4m-4 0h4m-4 0h4m-4 1h4m-4 3h4m-4 2h4m-4 7h4m-4 6h4m-4 2h4m-4 11h4m-4 24h4m-3-200h4m-4 27h4m-4 5h4m-4 25h4m-4 6h4m-4 10h4m-4 5h4m-4 0h4m-4 2h4m-4 1h4m-4 3h4m-4 1h4m-4 1h4m-4 1h4m-4 0h4m-4 1h4m-4 4h4m-4 1h4m-4 51h4m-4 2h4m-4 3h4m-4 1h4m-4 1h4m-4 2h4m-4 2h4m-4 3h4m-4 4h4m-4 0h4m-4 0h4m-4 0h4m-4 2h4m-4 3h4m-4 4h4m-4 73h4m-3-256h4m-4 11h4m-4 13h4m-4 8h4m-4 5h4m-4 7h4m-4 4h4m-4 0h4m-4 23h4m-4 10h4m-4 8h4m-4 0h4m-4 1h4m-4 2h4m-4 2h4m-4 2h4m-4 1h4m-4 1h4m-4 2h4m-4 1h4m-4 1h4m-4 1h4m-4 1h4m-4 1h4m-4 0h4m-4 52h4m-4 0h4m-4 2h4m-4 0h4m-4 0h4m-4 6h4m-4 8h4m-4 0h4m-4 4h4m-3-164h4m-4 7h4m-4 3h4m-4 5h4m-4 16h4m-4 5h4m-4 11h4m-4 17h4m-4 15h4m-4 1h4m-4 1h4m-4 1h4m-4 2h4m-4 3h4m-4 4h4m-4 1h4m-4 0h4m-4 51h4m-4 0h4m-4 4h4m-4 6h4m-4 5h4m-4 1h4m-4 1h4m-4 1h4m-4 2h4m-4 5h4m-4 21h4m-4 31h4m-4 13h4m-4 2h4m-3-255h4m-4 26h4m-4 14h4m-4 24h4m-4 10h4m-4 12h4m-4 5h4m-4 5h4m-4 0h4m-4 3h4m-4 0h4m-4 1h4m-4 3h4m-4 0h4m-4 3h4m-4 0h4m-4 4h4m-4 0h4m-4 1h4m-4 1h4m-4 0h4m-4 1h4m-4 50h4m-4 2h4m-4 3h4m-4 1h4m-4 9h4m-4 2h4m-4 2h4m-4 0h4m-4 4h4m-4 1h4m-4 11h4m-3-181h4m-4 15h4m-4 8h4m-4 7h4m-4 16h4m-4 12h4m-4 0h4m-4 1h4m-4 4h4m-4 6h4m-4 11h4m-4 3h4m-4 3h4m-4 2h4m-4 1h4m-4 0h4m-4 0h4m-4 2h4m-4 0h4m-4 1h4m-4 0h4m-4 3h4m-4 0h4m-4 50h4m-4 0h4m-4 2h4m-4 2h4m-4 4h4m-4 1h4m-4 2h4m-4 2h4m-4 1h4m-4 1h4m-4 2h4m-4 13h4m-4 64h4m-3-238h4m-4 20h4m-4 4h4m-4 9h4m-4 15h4m-4 30h4m-4 2h4m-4 6h4m-4 3h4m-4 6h4m-4 51h4m-4 3h4m-4 3h4m-4 2h4m-4 1h4m-4 2h4m-4 0h4m-4 8h4m-4 0h4m-4 4h4m-4 2h4m-4 18h4m-3-176h4m-4 8h4m-4 16h4m-4 6h4m-4 0h4m-4 15h4m-4 18h4m-4 5h4m-4 8h4m-4 1h4m-4 2h4m-4 0h4m-4 2h4m-4 53h4m-4 5h4m-4 3h4m-4 1h4m-4 0h4m-4 2h4m-4 0h4m-4 2h4m-4 2h4m-4 10h4m-4 86h4m-3-242h4m-4 2h4m-4 13h4m-4 10h4m-4 15h4m-4 10h4m-4 7h4m-4 11h4m-4 3h4m-4 1h4m-4 0h4m-4 2h4m-4 1h4m-4 2h4m-4 2h4m-4 48h4m-4 0h4m-4 8h4m-4 3h4m-4 4h4m-4 1h4m-4 0h4m-4 1h4m-4 0h4m-4 1h4m-4 1h4m-4 1h4m-4 0h4m-4 1h4m-4 2h4m-4 1h4m-4 2h4m-4 1h4m-3-187h4m-4 21h4m-4 0h4m-4 17h4m-4 2h4m-4 11h4m-4 0h4m-4 3h4m-4 4h4m-4 3h4m-4 4h4m-4 0h4m-4 8h4m-4 9h4m-4 15h4m-4 4h4m-4 3h4m-4 2h4m-4 4h4m-4 2h4m-4 0h4m-4 0h4m-4 48h4m-4 1h4m-4 3h4m-4 10h4m-4 0h4m-4 1h4m-4 3h4m-4 1h4m-4 1h4m-4 7h4m-4 0h4m-4 17h4m-3-176h4m-4 11h4m-4 24h4m-4 4h4m-4 1h4m-4 5h4m-4 4h4m-4 6h4m-4 8h4m-4 0h4m-4 9h4m-4 0h4m-4 1h4m-4 5h4m-4 0h4m-4 2h4m-4 2h4m-4 2h4m-4 0h4m-4 48h4m-4 4h4m-4 1h4m-4 3h4m-4 3h4m-4 5h4m-4 1h4m-4 3h4m-4 0h4m-4 0h4m-4 3h4m-4 8h4m-4 26h4m-3-177h4m-4 14h4m-4 5h4m-4 0h4m-4 11h4m-4 2h4m-4 9h4m-4 1h4m-4 5h4m-4 4h4m-4 2h4m-4 0h4m-4 2h4m-4 3h4m-4 1h4m-4 4h4m-4 1h4m-4 1h4m-4 1h4m-4 3h4m-4 0h4m-4 3h4m-4 49h4m-4 1h4m-4 7h4m-4 1h4m-4 2h4m-4 6h4m-4 3h4m-4 77h4m-3-218h4m-4 6h4m-4 29h4m-4 18h4m-4 4h4m-4 1h4m-4 0h4m-4 3h4m-4 2h4m-4 0h4m-4 2h4m-4 2h4m-4 4h4m-4 2h4m-4 0h4m-4 46h4m-4 1h4m-4 1h4m-4 0h4m-4 0h4m-4 5h4m-4 1h4m-4 0h4m-4 8h4m-4 3h4m-4 1h4m-4 2h4m-4 3h4m-4 5h4m-4 2h4m-4 60h4m-3-234h4m-4 17h4m-4 6h4m-4 17h4m-4 6h4m-4 5h4m-4 6h4m-4 1h4m-4 18h4m-4 6h4m-4 3h4m-4 2h4m-4 1h4m-4 2h4m-4 0h4m-4 4h4m-4 0h4m-4 1h4m-4 1h4m-4 0h4m-4 46h4m-4 1h4m-4 1h4m-4 7h4m-4 5h4m-4 1h4m-4 0h4m-4 4h4m-4 1h4m-4 6h4m-4 9h4m-3-168h4m-4 14h4m-4 1h4m-4 8h4m-4 3h4m-4 7h4m-4 4h4m-4 27h4m-4 1h4m-4 2h4m-4 4h4m-4 4h4m-4 0h4m-4 2h4m-4 5h4m-4 2h4m-4 2h4m-4 0h4m-4 1h4m-4 0h4m-4 0h4m-4 46h4m-4 3h4m-4 2h4m-4 1h4m-4 1h4m-4 1h4m-4 1h4m-4 0h4m-4 1h4m-4 0h4m-4 1h4m-4 1h4m-4 2h4m-4 0h4m-3-152h4m-4 4h4m-4 29h4m-4 9h4m-4 18h4m-4 3h4m-4 4h4m-4 2h4m-4 6h4m-4 1h4m-4 0h4m-4 6h4m-4 1h4m-4 4h4m-4 0h4m-4 1h4m-4 1h4m-4 3h4m-4 0h4m-4 1h4m-4 45h4m-4 2h4m-4 4h4m-4 0h4m-4 1h4m-4 3h4m-4 0h4m-4 2h4m-4 3h4m-4 1h4m-4 5h4m-4 1h4m-4 3h4m-4 4h4m-4 29h4m-4 30h4m-3-234h4m-4 24h4m-4 16h4m-4 17h4m-4 3h4m-4 4h4m-4 6h4m-4 0h4m-4 9h4m-4 7h4m-4 1h4m-4 0h4m-4 1h4m-4 1h4m-4 4h4m-4 1h4m-4 0h4m-4 1h4m-4 2h4m-4 1h4m-4 0h4m-4 0h4m-4 1h4m-4 0h4m-4 0h4m-4 1h4m-4 0h4m-4 46h4m-4 0h4m-4 0h4m-4 1h4m-4 2h4m-4 1h4m-4 1h4m-4 1h4m-4 5h4m-4 0h4m-4 1h4m-4 3h4m-4 2h4m-4 1h4m-4 3h4m-4 1h4m-4 60h4m-4 48h4m-3-256h4m-4 3h4m-4 15h4m-4 0h4m-4 15h4m-4 2h4m-4 3h4m-4 7h4m-4 6h4m-4 2h4m-4 7h4m-4 0h4m-4 1h4m-4 12h4m-4 6h4m-4 1h4m-4 1h4m-4 0h4m-4 44h4m-4 1h4m-4 0h4m-4 1h4m-4 1h4m-4 0h4m-4 1h4m-4 1h4m-4 0h4m-4 1h4m-4 0h4m-4 2h4m-4 6h4m-4 3h4m-4 1h4m-4 4h4m-4 2h4m-4 6h4m-4 17h4m-4 8h4m-4 47h4m-3-226h4m-4 5h4m-4 45h4m-4 1h4m-4 1h4m-4 4h4m-4 2h4m-4 5h4m-4 3h4m-4 1h4m-4 3h4m-4 2h4m-4 2h4m-4 2h4m-4 1h4m-4 0h4m-4 1h4m-4 1h4m-4 0h4m-4 0h4m-4 1h4m-4 0h4m-4 0h4m-4 0h4m-4 44h4m-4 5h4m-4 1h4m-4 0h4m-4 3h4m-4 1h4m-4 2h4m-4 1h4m-4 1h4m-4 3h4m-4 0h4m-4 0h4m-4 2h4m-4 8h4m-4 64h4m-4 7h4m-3-212h4m-4 5h4m-4 18h4m-4 15h4m-4 6h4m-4 13h4m-4 3h4m-4 1h4m-4 1h4m-4 3h4m-4 0h4m-4 3h4m-4 2h4m-4 44h4m-4 1h4m-4 0h4m-4 4h4m-4 7h4m-4 0h4m-4 4h4m-4 0h4m-4 1h4m-4 2h4m-4 1h4m-4 5h4m-4 2h4m-3-156h4m-4 5h4m-4 10h4m-4 18h4m-4 0h4m-4 5h4m-4 2h4m-4 18h4m-4 7h4m-4 1h4m-4 5h4m-4 1h4m-4 5h4m-4 4h4m-4 1h4m-4 3h4m-4 0h4m-4 1h4m-4 43h4m-4 6h4m-4 6h4m-4 7h4m-4 5h4m-4 18h4m-3-179h4m-4 2h4m-4 10h4m-4 11h4m-4 6h4m-4 9h4m-4 1h4m-4 22h4m-4 2h4m-4 0h4m-4 11h4m-4 4h4m-4 1h4m-4 2h4m-4 2h4m-4 3h4m-4 0h4m-4 2h4m-4 5h4m-4 0h4m-4 1h4m-4 49h4m-4 0h4m-4 12h4m-4 1h4m-4 2h4m-4 4h4m-4 26h4m-4 33h4m-4 2h4m-3-233h4m-4 6h4m-4 16h4m-4 49h4m-4 8h4m-4 17h4m-4 4h4m-4 1h4m-4 2h4m-4 0h4m-4 1h4m-4 0h4m-4 43h4m-4 0h4m-4 0h4m-4 7h4m-4 2h4m-4 1h4m-4 4h4m-4 1h4m-4 3h4m-4 0h4m-4 6h4m-4 7h4m-4 84h4m-4 10h4m-3-258h4m-4 10h4m-4 5h4m-4 26h4m-4 17h4m-4 9h4m-4 0h4m-4 2h4m-4 2h4m-4 3h4m-4 2h4m-4 1h4m-4 1h4m-4 2h4m-4 1h4m-4 2h4m-4 1h4m-4 4h4m-4 1h4m-4 1h4m-4 0h4m-4 43h4m-4 1h4m-4 1h4m-4 3h4m-4 3h4m-4 4h4m-4 0h4m-4 2h4m-4 2h4m-4 2h4m-4 5h4m-4 4h4m-3-169h4m-4 13h4m-4 53h4m-4 7h4m-4 10h4m-4 1h4m-4 2h4m-4 8h4m-4 1h4m-4 2h4m-4 2h4m-4 43h4m-4 1h4m-4 0h4m-4 1h4m-4 3h4m-4 0h4m-4 1h4m-4 7h4m-4 1h4m-4 5h4m-4 2h4m-4 18h4m-4 48h4m-3-221h4m-4 3h4m-4 21h4m-4 0h4m-4 21h4m-4 7h4m-4 6h4m-4 5h4m-4 11h4m-4 3h4m-4 1h4m-4 1h4m-4 1h4m-4 5h4m-4 2h4m-4 2h4m-4 0h4m-4 0h4m-4 1h4m-4 2h4m-4 42h4m-4 2h4m-4 3h4m-4 0h4m-4 1h4m-4 2h4m-4 1h4m-4 2h4m-4 1h4m-4 4h4m-4 1h4m-4 0h4m-4 3h4m-3-152h4m-4 30h4m-4 8h4m-4 0h4m-4 11h4m-4 6h4m-4 3h4m-4 9h4m-4 6h4m-4 4h4m-4 5h4m-4 0h4m-4 2h4m-4 0h4m-4 2h4m-4 3h4m-4 1h4m-4 0h4m-4 0h4m-4 42h4m-4 1h4m-4 3h4m-4 2h4m-4 2h4m-4 0h4m-4 1h4m-4 3h4m-4 4h4m-4 4h4m-4 3h4m-4 2h4m-4 12h4m-4 8h4m-4 6h4m-4 10h4m-3-218h4m-4 22h4m-4 7h4m-4 2h4m-4 21h4m-4 5h4m-4 22h4m-4 0h4m-4 0h4m-4 1h4m-4 10h4m-4 9h4m-4 4h4m-4 3h4m-4 0h4m-4 3h4m-4 1h4m-4 2h4m-4 3h4m-4 0h4m-4 0h4m-4 1h4m-4 40h4m-4 1h4m-4 0h4m-4 4h4m-4 2h4m-4 4h4m-4 2h4m-4 5h4m-4 1h4m-4 0h4m-4 5h4m-4 2h4m-4 45h4m-3-196h4m-4 18h4m-4 26h4m-4 4h4m-4 9h4m-4 0h4m-4 1h4m-4 12h4m-4 7h4m-4 1h4m-4 0h4m-4 1h4m-4 2h4m-4 1h4m-4 2h4m-4 0h4m-4 0h4m-4 0h4m-4 1h4m-4 0h4m-4 42h4m-4 1h4m-4 0h4m-4 4h4m-4 3h4m-4 3h4m-4 2h4m-4 5h4m-4 6h4m-4 1h4m-4 15h4m-4 11h4m-4 43h4m-4 26h4m-3-227h4m-4 9h4m-4 12h4m-4 0h4m-4 1h4m-4 10h4m-4 2h4m-4 18h4m-4 1h4m-4 0h4m-4 1h4m-4 2h4m-4 5h4m-4 45h4m-4 0h4m-4 1h4m-4 0h4m-4 3h4m-4 0h4m-4 3h4m-4 0h4m-4 1h4m-4 1h4m-4 3h4m-4 1h4m-4 1h4m-4 3h4m-4 4h4m-4 39h4m-3-182h4m-4 20h4m-4 2h4m-4 7h4m-4 18h4m-4 1h4m-4 15h4m-4 1h4m-4 2h4m-4 3h4m-4 4h4m-4 0h4m-4 1h4m-4 1h4m-4 3h4m-4 1h4m-4 0h4m-4 0h4m-4 1h4m-4 1h4m-4 41h4m-4 2h4m-4 5h4m-4 3h4m-4 0h4m-4 1h4m-4 1h4m-4 0h4m-4 2h4m-4 3h4m-4 5h4m-3-142h4m-4 1h4m-4 11h4m-4 2h4m-4 2h4m-4 2h4m-4 0h4m-4 14h4m-4 22h4m-4 1h4m-4 10h4m-4 4h4m-4 7h4m-4 1h4m-4 1h4m-4 1h4m-4 41h4m-4 3h4m-4 5h4m-4 0h4m-4 0h4m-4 2h4m-4 3h4m-4 2h4m-4 1h4m-4 2h4m-4 0h4m-4 5h4m-4 5h4m-4 7h4m-4 23h4m-4 4h4m-4 5h4m-4 24h4m-3-195h4m-4 7h4m-4 5h4m-4 16h4m-4 15h4m-4 2h4m-4 1h4m-4 3h4m-4 0h4m-4 1h4m-4 2h4m-4 1h4m-4 3h4m-4 1h4m-4 0h4m-4 0h4m-4 1h4m-4 0h4m-4 2h4m-4 4h4m-4 38h4m-4 1h4m-4 3h4m-4 0h4m-4 2h4m-4 0h4m-4 1h4m-4 1h4m-4 1h4m-4 2h4m-4 6h4m-4 1h4m-4 0h4m-4 4h4m-4 2h4m-4 0h4m-4 28h4m-4 5h4m-4 1h4m-3-184h4m-4 6h4m-4 5h4m-4 6h4m-4 3h4m-4 33h4m-4 10h4m-4 7h4m-4 1h4m-4 6h4m-4 5h4m-4 4h4m-4 2h4m-4 0h4m-4 0h4m-4 0h4m-4 39h4m-4 0h4m-4 1h4m-4 2h4m-4 1h4m-4 0h4m-4 0h4m-4 1h4m-4 1h4m-4 2h4m-4 1h4m-4 1h4m-4 2h4m-4 2h4m-4 2h4m-4 2h4m-4 3h4m-4 3h4m-4 16h4m-3-145h4m-4 3h4m-4 6h4m-4 13h4m-4 26h4m-4 1h4m-4 6h4m-4 0h4m-4 2h4m-4 2h4m-4 3h4m-4 3h4m-4 1h4m-4 38h4m-4 0h4m-4 1h4m-4 3h4m-4 1h4m-4 2h4m-4 7h4m-4 3h4m-4 2h4m-4 68h4m-3-188h4m-4 5h4m-4 12h4m-4 9h4m-4 3h4m-4 4h4m-4 11h4m-4 11h4m-4 1h4m-4 4h4m-4 2h4m-4 1h4m-4 40h4m-4 0h4m-4 1h4m-4 0h4m-4 4h4m-4 1h4m-4 1h4m-4 4h4m-4 0h4m-4 3h4m-4 0h4m-4 2h4m-4 5h4m-4 1h4m-4 1h4m-4 10h4m-4 19h4m-3-174h4m-4 14h4m-4 4h4m-4 1h4m-4 4h4m-4 0h4m-4 7h4m-4 12h4m-4 4h4m-4 20h4m-4 5h4m-4 1h4m-4 2h4m-4 2h4m-4 2h4m-4 0h4m-4 0h4m-4 43h4m-4 1h4m-4 6h4m-4 1h4m-4 0h4m-4 2h4m-4 4h4m-4 2h4m-4 7h4m-4 1h4m-4 6h4m-4 18h4m-3-166h4m-4 4h4m-4 7h4m-4 0h4m-4 2h4m-4 14h4m-4 2h4m-4 3h4m-4 11h4m-4 2h4m-4 0h4m-4 14h4m-4 2h4m-4 6h4m-4 0h4m-4 2h4m-4 0h4m-4 6h4m-4 2h4m-4 0h4m-4 1h4m-4 1h4m-4 1h4m-4 0h4m-4 0h4m-4 37h4m-4 5h4m-4 0h4m-4 4h4m-4 6h4m-4 2h4m-4 3h4m-4 3h4m-4 0h4m-4 1h4m-4 0h4m-4 3h4m-3-159h4m-4 6h4m-4 17h4m-4 13h4m-4 4h4m-4 3h4m-4 12h4m-4 5h4m-4 1h4m-4 9h4m-4 7h4m-4 4h4m-4 2h4m-4 2h4m-4 1h4m-4 2h4m-4 1h4m-4 2h4m-4 0h4m-4 0h4m-4 2h4m-4 39h4m-4 2h4m-4 0h4m-4 1h4m-4 0h4m-4 2h4m-4 2h4m-4 5h4m-4 1h4m-4 1h4m-4 4h4m-4 3h4m-4 74h4m-3-220h4m-4 3h4m-4 14h4m-4 20h4m-4 1h4m-4 7h4m-4 5h4m-4 4h4m-4 2h4m-4 2h4m-4 19h4m-4 1h4m-4 2h4m-4 2h4m-4 2h4m-4 2h4m-4 0h4m-4 2h4m-4 37h4m-4 3h4m-4 2h4m-4 3h4m-4 1h4m-4 1h4m-4 2h4m-4 0h4m-4 2h4m-4 3h4m-4 2h4m-4 1h4m-4 51h4m-3-186h4m-4 1h4m-4 6h4m-4 9h4m-4 16h4m-4 6h4m-4 20h4m-4 5h4m-4 2h4m-4 0h4m-4 7h4m-4 0h4m-4 0h4m-4 2h4m-4 0h4m-4 1h4m-4 2h4m-4 0h4m-4 37h4m-4 1h4m-4 0h4m-4 3h4m-4 6h4m-4 1h4m-4 3h4m-4 1h4m-4 3h4m-4 0h4m-4 2h4m-4 8h4m-3-145h4m-4 17h4m-4 21h4m-4 1h4m-4 2h4m-4 2h4m-4 1h4m-4 2h4m-4 2h4m-4 7h4m-4 10h4m-4 4h4m-4 2h4m-4 0h4m-4 2h4m-4 1h4m-4 1h4m-4 3h4m-4 1h4m-4 1h4m-4 0h4m-4 1h4m-4 37h4m-4 0h4m-4 4h4m-4 8h4m-4 7h4m-4 1h4m-4 3h4m-4 3h4m-3-155h4m-4 15h4m-4 23h4m-4 2h4m-4 8h4m-4 13h4m-4 19h4m-4 0h4m-4 0h4m-4 3h4m-4 2h4m-4 1h4m-4 3h4m-4 3h4m-4 1h4m-4 36h4m-4 0h4m-4 2h4m-4 1h4m-4 7h4m-4 37h4m-4 12h4m-3-154h4m-4 4h4m-4 2h4m-4 1h4m-4 25h4m-4 5h4m-4 4h4m-4 0h4m-4 1h4m-4 0h4m-4 2h4m-4 3h4m-4 1h4m-4 1h4m-4 0h4m-4 1h4m-4 2h4m-4 7h4m-4 0h4m-4 0h4m-4 35h4m-4 0h4m-4 1h4m-4 3h4m-4 4h4m-4 0h4m-4 3h4m-4 0h4m-4 2h4m-4 0h4m-4 1h4m-4 2h4m-4 1h4m-4 1h4m-4 10h4m-4 74h4m-3-180h4m-4 5h4m-4 1h4m-4 10h4m-4 4h4m-4 1h4m-4 0h4m-4 2h4m-4 2h4m-4 2h4m-4 3h4m-4 2h4m-4 0h4m-4 4h4m-4 3h4m-4 3h4m-4 0h4m-4 1h4m-4 1h4m-4 34h4m-4 1h4m-4 2h4m-4 2h4m-4 3h4m-4 1h4m-4 2h4m-4 3h4m-4 2h4m-4 3h4m-4 3h4m-4 1h4m-4 7h4m-4 19h4m-3-139h4m-4 0h4m-4 43h4m-4 1h4m-4 1h4m-4 2h4m-4 0h4m-4 0h4m-4 6h4m-4 1h4m-4 0h4m-4 1h4m-4 1h4m-4 34h4m-4 0h4m-4 1h4m-4 1h4m-4 1h4m-4 2h4m-4 2h4m-4 1h4m-4 6h4m-4 1h4m-4 2h4m-4 2h4m-4 3h4m-4 24h4m-4 19h4m-3-186h4m-4 11h4m-4 21h4m-4 15h4m-4 10h4m-4 2h4m-4 4h4m-4 2h4m-4 6h4m-4 6h4m-4 1h4m-4 6h4m-4 2h4m-4 0h4m-4 1h4m-4 0h4m-4 36h4m-4 0h4m-4 3h4m-4 4h4m-4 4h4m-4 0h4m-4 7h4m-4 1h4m-4 8h4m-4 18h4m-4 20h4m-3-179h4m-4 2h4m-4 16h4m-4 23h4m-4 4h4m-4 19h4m-4 4h4m-4 2h4m-4 1h4m-4 3h4m-4 4h4m-4 0h4m-4 34h4m-4 1h4m-4 2h4m-4 5h4m-4 2h4m-4 0h4m-4 1h4m-4 4h4m-4 1h4m-4 4h4m-4 1h4m-4 18h4m-4 1h4m-3-170h4m-4 27h4m-4 1h4m-4 10h4m-4 4h4m-4 33h4m-4 5h4m-4 0h4m-4 1h4m-4 0h4m-4 1h4m-4 1h4m-4 3h4m-4 6h4m-4 1h4m-4 1h4m-4 2h4m-4 0h4m-4 0h4m-4 0h4m-4 33h4m-4 1h4m-4 1h4m-4 0h4m-4 1h4m-4 2h4m-4 2h4m-4 2h4m-4 3h4m-4 0h4m-4 1h4m-4 2h4m-4 6h4m-4 2h4m-3-131h4m-4 35h4m-4 8h4m-4 13h4m-4 3h4m-4 3h4m-4 5h4m-4 0h4m-4 4h4m-4 1h4m-4 0h4m-4 2h4m-4 0h4m-4 1h4m-4 0h4m-4 0h4m-4 33h4m-4 1h4m-4 2h4m-4 0h4m-4 1h4m-4 2h4m-4 5h4m-4 2h4m-4 0h4m-4 2h4m-4 2h4m-4 0h4m-4 7h4m-3-137h4m-4 7h4m-4 4h4m-4 7h4m-4 4h4m-4 13h4m-4 2h4m-4 1h4m-4 0h4m-4 4h4m-4 1h4m-4 4h4m-4 11h4m-4 12h4m-4 3h4m-4 0h4m-4 4h4m-4 0h4m-4 3h4m-4 0h4m-4 0h4m-4 1h4m-4 32h4m-4 1h4m-4 1h4m-4 0h4m-4 1h4m-4 0h4m-4 1h4m-4 2h4m-4 1h4m-4 0h4m-4 3h4m-4 2h4m-4 3h4m-4 1h4m-4 5h4m-4 6h4m-4 1h4m-4 1h4m-3-137h4m-4 11h4m-4 1h4m-4 23h4m-4 16h4m-4 0h4m-4 17h4m-4 1h4m-4 0h4m-4 1h4m-4 1h4m-4 0h4m-4 5h4m-4 32h4m-4 0h4m-4 2h4m-4 1h4m-4 1h4m-4 0h4m-4 1h4m-4 3h4m-4 0h4m-4 1h4m-4 2h4m-4 13h4m-4 5h4m-3-133h4m-4 17h4m-4 1h4m-4 9h4m-4 17h4m-4 4h4m-4 6h4m-4 1h4m-4 5h4m-4 3h4m-4 1h4m-4 0h4m-4 0h4m-4 0h4m-4 1h4m-4 0h4m-4 1h4m-4 5h4m-4 0h4m-4 35h4m-4 5h4m-4 2h4m-4 4h4m-4 0h4m-4 1h4m-4 2h4m-4 6h4m-4 28h4m-3-169h4m-4 13h4m-4 9h4m-4 1h4m-4 16h4m-4 5h4m-4 3h4m-4 5h4m-4 4h4m-4 2h4m-4 12h4m-4 0h4m-4 2h4m-4 1h4m-4 3h4m-4 2h4m-4 3h4m-4 2h4m-4 3h4m-4 1h4m-4 32h4m-4 1h4m-4 6h4m-4 4h4m-4 0h4m-4 1h4m-4 1h4m-4 2h4m-4 0h4m-4 2h4m-4 5h4m-3-131h4m-4 2h4m-4 7h4m-4 4h4m-4 4h4m-4 13h4m-4 23h4m-4 4h4m-4 7h4m-4 1h4m-4 0h4m-4 2h4m-4 0h4m-4 2h4m-4 1h4m-4 3h4m-4 3h4m-4 1h4m-4 0h4m-4 0h4m-4 0h4m-4 32h4m-4 3h4m-4 5h4m-4 0h4m-4 3h4m-4 1h4m-4 1h4m-4 79h4m-4 1h4m-3-208h4m-4 3h4m-4 7h4m-4 4h4m-4 2h4m-4 13h4m-4 8h4m-4 4h4m-4 17h4m-4 6h4m-4 2h4m-4 5h4m-4 1h4m-4 3h4m-4 0h4m-4 2h4m-4 3h4m-4 1h4m-4 2h4m-4 0h4m-4 0h4m-4 1h4m-4 31h4m-4 2h4m-4 2h4m-4 7h4m-4 1h4m-4 4h4m-4 1h4m-4 3h4m-4 4h4m-4 1h4m-4 2h4m-3-132h4m-4 5h4m-4 6h4m-4 0h4m-4 4h4m-4 12h4m-4 16h4m-4 9h4m-4 1h4m-4 1h4m-4 3h4m-4 6h4m-4 2h4m-4 0h4m-4 1h4m-4 1h4m-4 1h4m-4 0h4m-4 1h4m-4 2h4m-4 2h4m-4 0h4m-4 0h4m-4 1h4m-4 0h4m-4 30h4m-4 0h4m-4 3h4m-4 6h4m-4 0h4m-4 2h4m-4 2h4m-4 3h4m-4 0h4m-4 1h4m-4 5h4m-4 8h4m-4 16h4m-3-165h4m-4 18h4m-4 2h4m-4 2h4m-4 1h4m-4 7h4m-4 11h4m-4 14h4m-4 2h4m-4 5h4m-4 1h4m-4 9h4m-4 5h4m-4 1h4m-4 3h4m-4 8h4m-4 0h4m-4 30h4m-4 2h4m-4 3h4m-4 1h4m-4 0h4m-4 5h4m-4 1h4m-4 4h4m-4 6h4m-4 4h4m-3-121h4m-4 11h4m-4 25h4m-4 2h4m-4 11h4m-4 1h4m-4 1h4m-4 0h4m-4 4h4m-4 2h4m-4 2h4m-4 1h4m-4 2h4m-4 33h4m-4 1h4m-4 1h4m-4 1h4m-4 0h4m-4 1h4m-4 0h4m-4 9h4m-4 2h4m-4 2h4m-4 3h4m-4 1h4m-4 0h4m-4 2h4m-4 3h4m-4 7h4m-4 36h4m-4 12h4m-3-172h4m-4 2h4m-4 0h4m-4 30h4m-4 8h4m-4 4h4m-4 7h4m-4 5h4m-4 2h4m-4 0h4m-4 1h4m-4 2h4m-4 29h4m-4 4h4m-4 6h4m-4 10h4m-4 0h4m-3-127h4m-4 9h4m-4 11h4m-4 3h4m-4 32h4m-4 13h4m-4 8h4m-4 1h4m-4 1h4m-4 1h4m-4 29h4m-4 1h4m-4 1h4m-4 1h4m-4 2h4m-4 0h4m-4 4h4m-4 2h4m-4 1h4m-4 1h4m-4 5h4m-4 8h4m-3-143h4m-4 13h4m-4 14h4m-4 44h4m-4 1h4m-4 1h4m-4 0h4m-4 2h4m-4 1h4m-4 3h4m-4 0h4m-4 1h4m-4 4h4m-4 0h4m-4 1h4m-4 0h4m-4 0h4m-4 2h4m-4 0h4m-4 0h4m-4 0h4m-4 1h4m-4 28h4m-4 2h4m-4 0h4m-4 0h4m-4 1h4m-4 2h4m-4 11h4m-4 8h4m-4 2h4m-4 2h4m-3-139h4m-4 9h4m-4 7h4m-4 35h4m-4 8h4m-4 8h4m-4 0h4m-4 0h4m-4 9h4m-4 0h4m-4 6h4m-4 1h4m-4 0h4m-4 0h4m-4 28h4m-4 4h4m-4 2h4m-4 0h4m-4 11h4m-4 9h4m-4 26h4m-4 14h4m-3-153h4m-4 3h4m-4 7h4m-4 1h4m-4 31h4m-4 1h4m-4 2h4m-4 0h4m-4 1h4m-4 4h4m-4 1h4m-4 3h4m-4 1h4m-4 1h4m-4 1h4m-4 0h4m-4 1h4m-4 1h4m-4 0h4m-4 30h4m-4 2h4m-4 9h4m-4 1h4m-4 1h4m-4 1h4m-4 9h4m-4 1h4m-3-100h4m-4 10h4m-4 12h4m-4 3h4m-4 3h4m-4 0h4m-4 4h4m-4 0h4m-4 1h4m-4 4h4m-4 1h4m-4 2h4m-4 2h4m-4 1h4m-4 0h4m-4 0h4m-4 1h4m-4 2h4m-4 0h4m-4 28h4m-4 2h4m-4 6h4m-4 1h4m-4 4h4m-4 3h4m-4 4h4m-4 0h4m-4 3h4m-4 1h4m-4 2h4m-3-122h4m-4 6h4m-4 21h4m-4 9h4m-4 2h4m-4 6h4m-4 8h4m-4 0h4m-4 0h4m-4 2h4m-4 0h4m-4 1h4m-4 11h4m-4 3h4m-4 27h4m-4 4h4m-4 0h4m-4 1h4m-4 1h4m-4 3h4m-4 2h4m-4 3h4m-4 4h4m-4 2h4m-4 2h4m-4 3h4m-3-130h4m-4 45h4m-4 2h4m-4 2h4m-4 21h4m-4 4h4m-4 0h4m-4 1h4m-4 1h4m-4 1h4m-4 0h4m-4 28h4m-4 2h4m-4 0h4m-4 0h4m-4 3h4m-4 0h4m-4 5h4m-4 1h4m-4 4h4m-4 7h4m-4 0h4m-4 1h4m-3-105h4m-4 11h4m-4 10h4m-4 10h4m-4 10h4m-4 0h4m-4 2h4m-4 5h4m-4 3h4m-4 2h4m-4 0h4m-4 2h4m-4 27h4m-4 1h4m-4 9h4m-4 1h4m-4 4h4m-4 5h4m-4 21h4m-3-137h4m-4 7h4m-4 8h4m-4 33h4m-4 5h4m-4 1h4m-4 2h4m-4 0h4m-4 6h4m-4 7h4m-4 27h4m-4 9h4m-4 3h4m-4 3h4m-4 0h4m-4 4h4m-4 19h4m-3-151h4m-4 50h4m-4 19h4m-4 3h4m-4 2h4m-4 0h4m-4 1h4m-4 5h4m-4 3h4m-4 1h4m-4 1h4m-4 0h4m-4 1h4m-4 0h4m-4 0h4m-4 26h4m-4 1h4m-4 1h4m-4 1h4m-4 1h4m-4 2h4m-4 1h4m-4 1h4m-4 1h4m-4 0h4m-4 7h4m-4 9h4m-3-111h4m-4 4h4m-4 3h4m-4 7h4m-4 32h4m-4 8h4m-4 3h4m-4 1h4m-4 1h4m-4 2h4m-4 25h4m-4 1h4m-4 1h4m-4 4h4m-4 8h4m-4 3h4m-4 14h4m-3-118h4m-4 12h4m-4 17h4m-4 18h4m-4 4h4m-4 1h4m-4 0h4m-4 2h4m-4 1h4m-4 1h4m-4 3h4m-4 1h4m-4 2h4m-4 27h4m-4 1h4m-4 0h4m-4 7h4m-4 4h4m-4 3h4m-4 1h4m-4 3h4m-4 5h4m-4 1h4m-3-106h4m-4 14h4m-4 23h4m-4 1h4m-4 4h4m-4 2h4m-4 1h4m-4 1h4m-4 3h4m-4 1h4m-4 0h4m-4 1h4m-4 0h4m-4 0h4m-4 0h4m-4 1h4m-4 2h4m-4 0h4m-4 30h4m-4 18h4m-4 15h4m-3-127h4m-4 21h4m-4 3h4m-4 1h4m-4 12h4m-4 3h4m-4 7h4m-4 3h4m-4 1h4m-4 4h4m-4 2h4m-4 3h4m-4 1h4m-4 1h4m-4 2h4m-4 25h4m-4 0h4m-4 0h4m-4 1h4m-4 1h4m-4 8h4m-4 2h4m-4 1h4m-4 2h4m-4 1h4m-4 1h4m-4 0h4m-4 9h4m-4 21h4m-4 13h4m-3-116h4m-4 10h4m-4 8h4m-4 1h4m-4 4h4m-4 3h4m-4 3h4m-4 0h4m-4 1h4m-4 1h4m-4 25h4m-4 5h4m-4 2h4m-4 2h4m-4 1h4m-4 1h4m-4 1h4m-4 0h4m-4 4h4m-4 2h4m-4 2h4m-4 1h4m-4 1h4m-4 1h4m-4 0h4m-4 5h4m-4 1h4m-4 7h4m-4 12h4m-4 12h4m-3-133h4m-4 8h4m-4 4h4m-4 1h4m-4 1h4m-4 0h4m-4 4h4m-4 12h4m-4 3h4m-4 12h4m-4 1h4m-4 1h4m-4 1h4m-4 0h4m-4 1h4m-4 26h4m-4 3h4m-4 2h4m-4 6h4m-4 3h4m-4 3h4m-4 2h4m-4 1h4m-4 15h4m-4 24h4m-3-145h4m-4 2h4m-4 1h4m-4 2h4m-4 11h4m-4 32h4m-4 7h4m-4 0h4m-4 1h4m-4 1h4m-4 2h4m-4 1h4m-4 0h4m-4 23h4m-4 8h4m-4 10h4m-4 3h4m-4 14h4m-4 11h4m-3-149h4m-4 8h4m-4 8h4m-4 6h4m-4 18h4m-4 3h4m-4 2h4m-4 23h4m-4 1h4m-4 3h4m-4 0h4m-4 5h4m-4 0h4m-4 1h4m-4 27h4m-4 0h4m-4 5h4m-4 1h4m-4 6h4m-4 5h4m-4 5h4m-4 1h4m-3-110h4m-4 14h4m-4 2h4m-4 11h4m-4 7h4m-4 2h4m-4 2h4m-4 11h4m-4 6h4m-4 1h4m-4 0h4m-4 3h4m-4 1h4m-4 2h4m-4 23h4m-4 2h4m-4 3h4m-4 7h4m-4 2h4m-4 3h4m-4 2h4m-4 3h4m-4 1h4m-4 1h4m-4 28h4m-3-147h4m-4 10h4m-4 2h4m-4 8h4m-4 22h4m-4 3h4m-4 13h4m-4 2h4m-4 1h4m-4 1h4m-4 2h4m-4 3h4m-4 1h4m-4 4h4m-4 23h4m-4 2h4m-4 3h4m-4 4h4m-4 0h4m-4 3h4m-4 1h4m-4 2h4m-4 5h4m-3-110h4m-4 11h4m-4 26h4m-4 5h4m-4 5h4m-4 8h4m-4 7h4m-4 1h4m-4 3h4m-4 0h4m-4 1h4m-4 23h4m-4 0h4m-4 0h4m-4 1h4m-4 2h4m-4 1h4m-4 5h4m-4 5h4m-4 0h4m-4 22h4m-3-118h4m-4 12h4m-4 2h4m-4 1h4m-4 0h4m-4 12h4m-4 11h4m-4 0h4m-4 9h4m-4 1h4m-4 0h4m-4 1h4m-4 2h4m-4 2h4m-4 3h4m-4 3h4m-4 0h4m-4 1h4m-4 21h4m-4 12h4m-4 3h4m-4 3h4m-4 5h4m-4 0h4m-4 8h4m-3-112h4m-4 19h4m-4 9h4m-4 7h4m-4 5h4m-4 8h4m-4 1h4m-4 5h4m-4 5h4m-4 0h4m-4 1h4m-4 0h4m-4 21h4m-4 5h4m-4 1h4m-4 2h4m-4 17h4m-4 4h4m-4 2h4m-4 2h4m-3-117h4m-4 23h4m-4 22h4m-4 3h4m-4 3h4m-4 5h4m-4 2h4m-4 2h4m-4 2h4m-4 1h4m-4 27h4m-4 7h4m-4 7h4m-4 1h4m-4 5h4m-3-116h4m-4 5h4m-4 28h4m-4 1h4m-4 29h4m-4 3h4m-4 1h4m-4 0h4m-4 0h4m-4 1h4m-4 22h4m-4 1h4m-4 1h4m-4 6h4m-4 1h4m-4 3h4m-4 2h4m-4 1h4m-4 0h4m-4 3h4m-4 1h4m-4 3h4m-4 1h4m-4 34h4m-3-150h4m-4 10h4m-4 16h4m-4 0h4m-4 9h4m-4 15h4m-4 7h4m-4 6h4m-4 1h4m-4 3h4m-4 3h4m-4 1h4m-4 1h4m-4 0h4m-4 1h4m-4 20h4m-4 0h4m-4 1h4m-4 2h4m-4 2h4m-4 4h4m-4 4h4m-3-82h4m-4 0h4m-4 8h4m-4 1h4m-4 5h4m-4 0h4m-4 23h4m-4 2h4m-4 0h4m-4 6h4m-4 4h4m-4 23h4m-4 2h4m-4 2h4m-4 15h4m-4 1h4m-4 5h4m-4 1h4m-4 11h4m-4 15h4m-3-130h4m-4 15h4m-4 14h4m-4 8h4m-4 1h4m-4 7h4m-4 1h4m-4 1h4m-4 1h4m-4 0h4m-4 0h4m-4 1h4m-4 2h4m-4 2h4m-4 1h4m-4 0h4m-4 0h4m-4 1h4m-4 0h4m-4 0h4m-4 0h4m-4 19h4m-4 1h4m-4 1h4m-4 0h4m-4 0h4m-4 1h4m-4 4h4m-4 0h4m-4 1h4m-4 16h4m-3-108h4m-4 12h4m-4 35h4m-4 3h4m-4 6h4m-4 2h4m-4 1h4m-4 0h4m-4 5h4m-4 1h4m-4 0h4m-4 22h4m-4 2h4m-4 5h4m-4 13h4m-4 4h4m-4 38h4m-3-150h4m-4 6h4m-4 18h4m-4 0h4m-4 7h4m-4 20h4m-4 1h4m-4 5h4m-4 1h4m-4 2h4m-4 3h4m-4 1h4m-4 2h4m-4 0h4m-4 19h4m-4 0h4m-4 2h4m-4 2h4m-4 8h4m-4 6h4m-3-92h4m-4 6h4m-4 5h4m-4 6h4m-4 2h4m-4 13h4m-4 11h4m-4 2h4m-4 2h4m-4 1h4m-4 3h4m-4 2h4m-4 2h4m-4 0h4m-4 20h4m-4 0h4m-4 1h4m-4 0h4m-4 3h4m-4 1h4m-4 1h4m-4 13h4m-4 2h4m-3-105h4m-4 3h4m-4 12h4m-4 3h4m-4 9h4m-4 1h4m-4 5h4m-4 13h4m-4 5h4m-4 3h4m-4 5h4m-4 5h4m-4 22h4m-4 0h4m-4 0h4m-4 10h4m-4 2h4m-4 2h4m-4 52h4m-3-154h4m-4 22h4m-4 0h4m-4 6h4m-4 2h4m-4 7h4m-4 7h4m-4 0h4m-4 6h4m-4 4h4m-4 3h4m-4 0h4m-4 1h4m-4 0h4m-4 5h4m-4 0h4m-4 2h4m-4 0h4m-4 1h4m-4 0h4m-4 1h4m-4 0h4m-4 0h4m-4 0h4m-4 0h4m-4 18h4m-4 2h4m-4 3h4m-4 1h4m-4 2h4m-4 1h4m-4 10h4m-4 0h4m-4 1h4m-4 5h4m-4 3h4m-3-104h4m-4 2h4m-4 30h4m-4 5h4m-4 0h4m-4 10h4m-4 1h4m-4 8h4m-4 1h4m-4 1h4m-4 0h4m-4 0h4m-4 18h4m-4 8h4m-4 6h4m-4 0h4m-4 2h4m-4 7h4m-4 18h4m-3-98h4m-4 4h4m-4 19h4m-4 6h4m-4 3h4m-4 4h4m-4 2h4m-4 1h4m-4 0h4m-4 1h4m-4 0h4m-4 17h4m-4 3h4m-4 2h4m-4 1h4m-4 6h4m-4 4h4m-4 0h4m-3-65h4m-4 12h4m-4 3h4m-4 1h4m-4 10h4m-4 2h4m-4 0h4m-4 1h4m-4 1h4m-4 19h4m-4 0h4m-4 2h4m-4 4h4m-4 4h4m-4 9h4m-4 6h4m-3-94h4m-4 15h4m-4 12h4m-4 16h4m-4 1h4m-4 3h4m-4 1h4m-4 4h4m-4 0h4m-4 0h4m-4 16h4m-4 3h4m-4 1h4m-4 4h4m-4 1h4m-4 5h4m-4 6h4m-4 0h4m-4 4h4m-4 24h4m-4 12h4m-3-122h4m-4 24h4m-4 14h4m-4 1h4m-4 1h4m-4 0h4m-4 2h4m-4 3h4m-4 0h4m-4 1h4m-4 0h4m-4 0h4m-4 18h4m-4 3h4m-4 0h4m-4 2h4m-4 8h4m-4 2h4m-4 1h4m-3-80h4m-4 31h4m-4 7h4m-4 1h4m-4 1h4m-4 0h4m-4 2h4m-4 3h4m-4 1h4m-4 0h4m-4 1h4m-4 16h4m-4 4h4m-4 4h4m-4 10h4m-4 3h4m-4 5h4m-3-96h4m-4 6h4m-4 3h4m-4 16h4m-4 3h4m-4 13h4m-4 2h4m-4 1h4m-4 3h4m-4 1h4m-4 5h4m-4 1h4m-4 0h4m-4 15h4m-4 1h4m-4 7h4m-4 7h4m-4 4h4m-4 0h4m-4 3h4m-4 31h4m-3-109h4m-4 22h4m-4 7h4m-4 4h4m-4 3h4m-4 0h4m-4 1h4m-4 2h4m-4 2h4m-4 0h4m-4 1h4m-4 0h4m-4 13h4m-4 1h4m-4 3h4m-4 2h4m-4 2h4m-4 2h4m-4 0h4m-4 3h4m-4 3h4m-4 2h4m-4 53h4m-3-143h4m-4 2h4m-4 22h4m-4 9h4m-4 5h4m-4 6h4m-4 3h4m-4 3h4m-4 1h4m-4 4h4m-4 3h4m-4 1h4m-4 15h4m-4 2h4m-4 2h4m-3-81h4m-4 21h4m-4 20h4m-4 1h4m-4 1h4m-4 4h4m-4 6h4m-4 3h4m-4 1h4m-4 0h4m-4 0h4m-4 2h4m-4 0h4m-4 1h4m-4 0h4m-4 2h4m-4 13h4m-4 2h4m-4 5h4m-4 6h4m-4 0h4m-4 5h4m-4 1h4m-3-74h4m-4 4h4m-4 4h4m-4 8h4m-4 1h4m-4 8h4m-4 4h4m-4 5h4m-4 1h4m-4 0h4m-4 6h4m-4 2h4m-4 14h4m-4 1h4m-4 1h4m-4 5h4m-4 1h4m-4 7h4m-4 0h4m-4 0h4m-4 2h4m-4 17h4m-3-107h4m-4 4h4m-4 16h4m-4 3h4m-4 8h4m-4 1h4m-4 18h4m-4 3h4m-4 0h4m-4 4h4m-4 1h4m-4 0h4m-4 12h4m-4 2h4m-4 2h4m-4 0h4m-4 2h4m-4 4h4m-4 13h4m-4 5h4m-4 1h4m-4 15h4m-3-104h4m-4 14h4m-4 20h4m-4 0h4m-4 7h4m-4 4h4m-4 1h4m-4 2h4m-4 0h4m-4 12h4m-4 0h4m-4 4h4m-4 2h4m-4 1h4m-4 3h4m-4 3h4m-4 12h4m-3-101h4m-4 30h4m-4 21h4m-4 2h4m-4 3h4m-4 1h4m-4 0h4m-4 2h4m-4 2h4m-4 1h4m-4 0h4m-4 2h4m-4 1h4m-4 12h4m-4 0h4m-4 4h4m-4 3h4m-4 12h4m-4 0h4m-4 9h4m-4 2h4m-3-103h4m-4 16h4m-4 27h4m-4 2h4m-4 1h4m-4 1h4m-4 4h4m-4 3h4m-4 2h4m-4 1h4m-4 1h4m-4 4h4m-4 0h4m-4 11h4m-4 8h4m-4 3h4m-4 5h4m-4 9h4m-4 2h4m-4 6h4m-3-101h4m-4 14h4m-4 6h4m-4 1h4m-4 16h4m-4 3h4m-4 0h4m-4 12h4m-4 0h4m-4 3h4m-4 2h4m-4 0h4m-4 9h4m-4 2h4m-4 6h4m-4 0h4m-4 4h4m-4 0h4m-4 3h4m-4 5h4m-4 6h4m-4 26h4m-3-100h4m-4 8h4m-4 10h4m-4 4h4m-4 4h4m-4 7h4m-4 0h4m-4 1h4m-4 5h4m-4 1h4m-4 16h4m-4 1h4m-4 8h4m-4 1h4m-4 1h4m-4 5h4m-4 2h4m-3-61h4m-4 3h4m-4 17h4m-4 2h4m-4 13h4m-4 3h4m-4 3h4m-4 4h4m-4 6h4m-4 2h4m-3-65h4m-4 12h4m-4 7h4m-4 3h4m-4 5h4m-4 5h4m-4 1h4m-4 2h4m-4 0h4m-4 1h4m-4 1h4m-4 1h4m-4 1h4m-4 14h4m-4 2h4m-4 6h4m-4 1h4m-4 19h4m-4 29h4m-3-108h4m-4 8h4m-4 7h4m-4 7h4m-4 8h4m-4 2h4m-4 3h4m-4 1h4m-4 0h4m-4 9h4m-4 0h4m-4 4h4m-4 1h4m-4 1h4m-4 3h4m-4 1h4m-4 3h4m-4 7h4m-4 1h4m-3-86h4m-4 15h4m-4 16h4m-4 14h4m-4 1h4m-4 3h4m-4 3h4m-4 1h4m-4 2h4m-4 0h4m-4 1h4m-4 0h4m-4 1h4m-4 1h4m-4 7h4m-4 1h4m-4 6h4m-4 6h4m-4 1h4m-4 0h4m-4 3h4m-4 5h4m-3-80h4m-4 23h4m-4 8h4m-4 6h4m-4 1h4m-4 9h4m-4 16h4m-4 2h4m-4 2h4m-4 0h4m-4 3h4m-4 8h4m-4 11h4m-4 18h4m-3-89h4m-4 11h4m-4 1h4m-4 1h4m-4 7h4m-4 3h4m-4 17h4m-4 2h4m-4 10h4m-4 7h4m-3-62h4m-4 3h4m-4 1h4m-4 0h4m-4 3h4m-4 3h4m-4 3h4m-4 3h4m-4 14h4m-4 1h4m-4 0h4m-4 1h4m-4 2h4m-4 1h4m-4 0h4m-4 1h4m-4 10h4m-4 10h4m-4 4h4m-4 1h4m-4 1h4m-4 3h4m-4 1h4m-3-74h4m-4 8h4m-4 16h4m-4 15h4m-4 0h4m-4 1h4m-4 3h4m-4 17h4m-4 4h4m-4 1h4m-4 41h4m-3-113h4m-4 32h4m-4 3h4m-4 2h4m-4 2h4m-4 6h4m-4 3h4m-4 2h4m-4 0h4m-4 1h4m-4 10h4m-4 2h4m-4 3h4m-3-72h4m-4 25h4m-4 12h4m-4 15h4m-4 3h4m-4 2h4m-4 0h4m-4 7h4m-4 6h4m-3-61h4m-4 27h4m-4 0h4m-4 7h4m-4 6h4m-4 3h4m-4 1h4m-4 1h4m-4 1h4m-4 1h4m-4 2h4m-4 4h4m-4 1h4m-4 18h4m-4 24h4m-3-75h4m-4 18h4m-4 5h4m-4 0h4m-4 0h4m-4 2h4m-4 1h4m-4 1h4m-4 11h4m-4 5h4m-4 7h4m-4 1h4m-4 3h4m-3-53h4m-4 1h4m-4 3h4m-4 10h4m-4 0h4m-4 8h4m-4 1h4m-4 2h4m-4 2h4m-4 0h4m-4 3h4m-4 2h4m-4 1h4m-4 2h4m-4 3h4m-4 1h4m-3-44h4m-4 2h4m-4 6h4m-4 1h4m-4 0h4m-4 9h4m-4 7h4m-4 3h4m-4 3h4m-4 4h4m-4 2h4m-4 2h4m-4 1h4m-4 3h4m-4 5h4m-4 3h4m-4 0h4m-3-65h4m-4 2h4m-4 22h4m-4 1h4m-4 14h4m-4 0h4m-4 1h4m-4 6h4m-4 0h4m-4 4h4m-4 14h4m-3-40h4m-4 5h4m-4 9h4m-4 5h4m-4 1h4m-4 0h4m-4 0h4m-4 2h4m-4 4h4m-4 0h4m-4 1h4m-4 2h4m-4 0h4m-4 1h4m-4 0h4m-4 15h4m-3-70h4m-4 24h4m-4 1h4m-4 32h4m-4 0h4m-4 5h4m-4 8h4m-4 32h4m-3-105h4m-4 0h4m-4 19h4m-4 2h4m-4 21h4m-4 6h4m-4 11h4m-4 11h4m-4 0h4m-3-56h4m-4 3h4m-4 4h4m-4 0h4m-4 16h4m-4 12h4m-4 0h4m-4 1h4m-4 5h4m-4 11h4m-4 20h4m-3-80h4m-4 15h4m-4 9h4m-4 16h4m-4 3h4m-4 0h4m-4 1h4m-4 0h4m-4 0h4m-4 6h4m-4 4h4m-4 0h4m-4 1h4m-4 13h4m-3-57h4m-4 9h4m-4 7h4m-4 12h4m-4 4h4m-4 0h4m-4 1h4m-4 1h4m-4 4h4m-4 8h4m-4 2h4m-4 7h4m-3-44h4m-4 7h4m-4 1h4m-4 10h4m-4 3h4m-4 1h4m-4 32h4m-3-68h4m-4 32h4m-4 2h4m-4 3h4m-4 3h4m-4 4h4m-4 1h4m-4 1h4m-4 3h4m-3-36h4m-4 11h4m-4 3h4m-4 15h4m-4 12h4m-3-48h4m-4 27h4m-4 1h4m-4 1h4m-4 0h4m-4 1h4m-4 0h4m-4 12h4m-4 47h4m-3-93h4m-4 22h4m-4 8h4m-4 2h4m-4 1h4m-4 0h4m-4 1h4m-4 4h4m-4 5h4m-4 3h4m-4 1h4m-3-34h4m-4 10h4m-4 2h4m-4 2h4m-4 4h4m-4 3h4m-3-25h4m-4 8h4m-4 13h4m-4 9h4m-4 4h4m-4 3h4m-4 2h4m-4 13h4m-3-72h4m-4 35h4m-4 6h4m-4 4h4m-4 9h4m-3-31h4m-4 13h4m-4 7h4m-4 1h4m-4 1h4m-4 0h4m-4 4h4m-4 0h4m-4 2h4m-4 11h4m-3-59h4m-4 36h4m-4 6h4m-4 5h4m-4 2h4m-4 0h4m-4 9h4m-4 0h4m-4 37h4m-3-94h4m-4 3h4m-4 31h4m-4 6h4m-4 1h4m-4 41h4m-3-78h4m-4 12h4m-4 5h4m-4 1h4m-4 2h4m-4 3h4m-4 9h4m-4 3h4m-4 2h4m-4 9h4m-4 4h4m-4 1h4m-3-17h4m-4 8h4m-4 6h4m-4 8h4m-4 22h4m-3-76h4m-4 40h4m-4 0h4m-3-32h4m-4 16h4m-4 4h4m-4 4h4m-4 3h4m-4 14h4m-3-29h4m-4 7h4m-4 1h4m-4 5h4m-4 1h4m-4 0h4m-4 5h4m-4 4h4m-4 4h4m-3-48h4m-4 24h4m-4 16h4m-4 3h4m-2-34h4m-4 31h4m-3-14h4m-4 14h4m-3-39h4m-4 8h4m-4 5h4m-4 19h4m-4 2h4m-3-10h4m-4 6h4m-4 15h4m-3-52h4m-4 19h4m-4 20h4m-4 3h4m-4 9h4m-4 0h4m-4 3h4m-3-46h4m-4 5h4m-4 38h4m-3-35h4m-4 1h4m-4 9h4m-4 15h4m-4 5h4m-4 3h4m-4 2h4m-3-46h4m-4 4h4m-4 1h4m-4 2h4m-4 34h4m-4 5h4m-4 25h4m-3-47h4m-4 13h4m-3 0h4m-3 0h4m-4 7h4m-3-26h4m-4 9h4m-4 4h4m-4 6h4m-4 9h4m-3-35h4m-4 36h4m-3-10h4m-4 0h4m-4 5h4m-4 1h4m-2-32h4m-4 21h4m-4 1h4m-4 2h4m-4 5h4m-3-12h4m-4 9h4m-3-33h4m-4 33h4m-3-26h4m-4 8h4m-4 18h4m-4 3h4m-3-8h4m-4 13h4m-4 7h4m-3-11h4m-4 14h4m-2-18h4m-4 4h4m-3-30h4m-4 14h4m-4 11h4m-4 5h4m-4 4h4m-2-8h4m-4 6h4m-3-6h4m-2-8h4m-3 12h4m-3 0h4m-3-17h4m-3 13h4m-1-2h4m-4 2h4m-3 4h4m-3 0h4m-3-15h4m0 16h4m-2-6h4m-4 0h4m-4 5h4m0-29h4m-4 31h4m-1-3h4m0 22h4m-2-36h4m1 17h4" stroke="#c80000" stroke-opacity="0.8" stroke-width="3" fill="none"/>
<line x1="244.4" y1="266.7" x2="353.5" y2="266.7" stroke="#8fb2e6" stroke-width="0.7"/>
<line x1="244.4" y1="281.5" x2="353.5" y2="281.5" stroke="#8fb2e6" stroke-width="0.7"/>
<line x1="244.4" y1="274.1" x2="353.5" y2="274.1" stroke="#ec9a9a" stroke-width="1.3"/>
<rect x="249" y="273.3" width="0.9" height="0.9" fill="#c03030"/>
<rect x="251" y="274.6" width="0.9" height="0.9" fill="#c03030"/>
<rect x="253.2" y="273.8" width="0.9" height="0.9" fill="#c03030"/>
<rect x="255" y="275" width="0.9" height="0.9" fill="#c03030"/>
<rect x="244.4" y="225.3" width="109.1" height="97.8" fill="none" stroke="#111" stroke-width="1.05"/>
<line x1="241.5" y1="229.7" x2="244.4" y2="229.7" stroke="#111" stroke-width="0.8"/>
<text x="238.2" y="229.7" font-size="5.5" fill="#333" text-anchor="middle" transform="rotate(-90 238.2 229.7)" stroke="#333" stroke-width="0.14">6</text>
<line x1="241.5" y1="244.5" x2="244.4" y2="244.5" stroke="#111" stroke-width="0.8"/>
<text x="238.2" y="244.5" font-size="5.5" fill="#333" text-anchor="middle" transform="rotate(-90 238.2 244.5)" stroke="#333" stroke-width="0.14">4</text>
<line x1="241.5" y1="259.3" x2="244.4" y2="259.3" stroke="#111" stroke-width="0.8"/>
<text x="238.2" y="259.3" font-size="5.5" fill="#333" text-anchor="middle" transform="rotate(-90 238.2 259.3)" stroke="#333" stroke-width="0.14">2</text>
<line x1="241.5" y1="274.1" x2="244.4" y2="274.1" stroke="#111" stroke-width="0.8"/>
<text x="238.2" y="274.1" font-size="5.5" fill="#333" text-anchor="middle" transform="rotate(-90 238.2 274.1)" stroke="#333" stroke-width="0.14">0</text>
<line x1="241.5" y1="288.9" x2="244.4" y2="288.9" stroke="#111" stroke-width="0.8"/>
<text x="238.2" y="288.9" font-size="5.5" fill="#333" text-anchor="middle" transform="rotate(-90 238.2 288.9)" stroke="#333" stroke-width="0.14">-2</text>
<line x1="241.5" y1="303.7" x2="244.4" y2="303.7" stroke="#111" stroke-width="0.8"/>
<text x="238.2" y="303.7" font-size="5.5" fill="#333" text-anchor="middle" transform="rotate(-90 238.2 303.7)" stroke="#333" stroke-width="0.14">-4</text>
<line x1="241.5" y1="318.5" x2="244.4" y2="318.5" stroke="#111" stroke-width="0.8"/>
<text x="238.2" y="318.5" font-size="5.5" fill="#333" text-anchor="middle" transform="rotate(-90 238.2 318.5)" stroke="#333" stroke-width="0.14">-6</text>
<line x1="246.1" y1="323.1" x2="246.1" y2="326.3" stroke="#111" stroke-width="0.8"/>
<text x="246.1" y="334.9" font-size="5.4" fill="#333" text-anchor="middle" stroke="#333" stroke-width="0.14">1e−01</text>
<line x1="275.3" y1="323.1" x2="275.3" y2="326.3" stroke="#111" stroke-width="0.8"/>
<text x="275.3" y="334.9" font-size="5.4" fill="#333" text-anchor="middle" stroke="#333" stroke-width="0.14">1e+01</text>
<line x1="304.5" y1="323.1" x2="304.5" y2="326.3" stroke="#111" stroke-width="0.8"/>
<text x="304.5" y="334.9" font-size="5.4" fill="#333" text-anchor="middle" stroke="#333" stroke-width="0.14">1e+03</text>
<line x1="333.7" y1="323.1" x2="333.7" y2="326.3" stroke="#111" stroke-width="0.8"/>
<text x="333.7" y="334.9" font-size="5.4" fill="#333" text-anchor="middle" stroke="#333" stroke-width="0.14">1e+05</text>
<text x="298.95" y="345.4" font-size="7.4" text-anchor="middle">Mean of normalized counts</text>
<text x="227.8" y="274.7" font-size="7.4" text-anchor="middle" transform="rotate(-90 227.8 274.7)">log fold change</text>
<text x="296.85" y="233.6" font-size="7.2" font-weight="bold" text-anchor="middle"><tspan fill="#5a9e35" font-style="italic">qmc551</tspan><tspan fill="#5a9e35"> hom</tspan><tspan fill="#222"> vs </tspan><tspan fill="#3a3a9a">het</tspan></text>
<path d="M387 274.6 L392 274 L396 273.4 L400 272.6 L404 271.6 L407 270.6 L410 269.6 L412 269.2 L420 269.8 L430 270.8 L440 272 L450 273 L458 273.8 L465 274.6 L465 274.6 L458 275.6 L450 276.8 L440 278.2 L430 279.6 L420 281 L412 282 L410 281.2 L407 279.6 L404 278 L400 276.8 L396 275.9 L392 275.2 L387 274.6Z" fill="#555555"/>
<path transform="scale(.25)" d="M1632 1078h4m-3 45h4m-4 3h4m-4 1h4m-4 0h4m-4 1h4m-3-51h4m-4 2h4m-4 44h4m-4 3h4m-4 1h4m-3-53h4m-4 2h4m-4 3h4m-4 47h4m-4 1h4m-4 0h4m-3-51h4m-4 48h4m-4 1h4m-4 1h4m-4 0h4m-3-1h4m-4 0h4m-4 1h4m-4 1h4m-4 1h4m-4 0h4m-4 2h4m-3-62h4m-4 4h4m-4 5h4m-4 1h4m-4 0h4m-4 47h4m-4 5h4m-3-56h4m-4 1h4m-4 2h4m-4 1h4m-4 48h4m-4 1h4m-4 1h4m-4 2h4m-4 0h4m-3-57h4m-4 0h4m-4 1h4m-4 0h4m-4 1h4m-4 0h4m-4 1h4m-4 2h4m-4 49h4m-4 1h4m-4 1h4m-4 1h4m-4 0h4m-4 2h4m-3-61h4m-4 1h4m-4 0h4m-4 1h4m-4 0h4m-4 2h4m-4 0h4m-4 1h4m-4 50h4m-4 0h4m-4 2h4m-4 0h4m-4 1h4m-4 0h4m-4 1h4m-4 0h4m-4 1h4m-4 1h4m-4 1h4m-4 2h4m-3-67h4m-4 5h4m-4 0h4m-4 0h4m-4 1h4m-4 2h4m-4 1h4m-4 0h4m-4 50h4m-4 1h4m-4 2h4m-3-59h4m-4 2h4m-4 1h4m-4 2h4m-4 52h4m-4 0h4m-4 0h4m-4 3h4m-3-61h4m-4 2h4m-4 0h4m-4 3h4m-4 0h4m-4 0h4m-4 0h4m-4 1h4m-4 0h4m-4 52h4m-3-56h4m-4 0h4m-4 1h4m-4 55h4m-4 1h4m-4 0h4m-4 1h4m-4 0h4m-4 1h4m-4 0h4m-4 2h4m-4 0h4m-4 0h4m-4 3h4m-3-66h4m-4 2h4m-4 1h4m-4 0h4m-4 1h4m-4 1h4m-4 53h4m-4 1h4m-4 0h4m-4 2h4m-4 1h4m-3-62h4m-4 3h4m-4 0h4m-4 0h4m-4 2h4m-4 0h4m-4 1h4m-4 54h4m-4 1h4m-4 2h4m-3-64h4m-4 5h4m-4 0h4m-4 1h4m-4 1h4m-4 53h4m-4 2h4m-4 0h4m-4 0h4m-4 2h4m-4 0h4m-4 0h4m-4 2h4m-4 0h4m-4 0h4m-3-67h4m-4 2h4m-4 5h4m-4 0h4m-4 54h4m-4 1h4m-4 1h4m-4 2h4m-4 2h4m-4 5h4m-3-70h4m-4 1h4m-4 0h4m-4 1h4m-4 57h4m-4 0h4m-4 0h4m-4 3h4m-4 0h4m-4 2h4m-4 3h4m-3-68h4m-4 1h4m-4 3h4m-4 3h4m-4 53h4m-4 1h4m-4 2h4m-4 1h4m-4 1h4m-4 0h4m-3-61h4m-4 1h4m-4 0h4m-4 1h4m-4 54h4m-4 2h4m-4 1h4m-4 0h4m-4 0h4m-4 1h4m-4 1h4m-4 1h4m-4 4h4m-3-80h4m-4 7h4m-4 8h4m-4 0h4m-4 2h4m-4 0h4m-4 53h4m-4 0h4m-4 2h4m-4 4h4m-4 1h4m-4 1h4m-3-67h4m-4 1h4m-4 2h4m-4 1h4m-4 1h4m-4 1h4m-4 52h4m-4 1h4m-4 2h4m-4 1h4m-4 0h4m-4 0h4m-4 0h4m-4 2h4m-4 1h4m-4 1h4m-3-75h4m-4 10h4m-4 0h4m-4 2h4m-4 0h4m-4 0h4m-4 2h4m-4 0h4m-4 1h4m-4 0h4m-4 53h4m-4 0h4m-4 2h4m-4 0h4m-4 1h4m-4 2h4m-4 1h4m-4 1h4m-4 3h4m-3-70h4m-4 1h4m-4 2h4m-4 0h4m-4 0h4m-4 2h4m-4 0h4m-4 0h4m-4 0h4m-4 54h4m-3-59h4m-4 2h4m-4 2h4m-4 1h4m-4 0h4m-4 1h4m-4 0h4m-4 2h4m-4 0h4m-4 52h4m-4 0h4m-4 2h4m-4 0h4m-4 0h4m-4 3h4m-4 2h4m-4 1h4m-4 1h4m-3-70h4m-4 1h4m-4 3h4m-4 1h4m-4 55h4m-4 1h4m-4 2h4m-4 0h4m-4 1h4m-4 1h4m-4 1h4m-4 0h4m-4 0h4m-4 1h4m-4 1h4m-3-67h4m-4 1h4m-4 0h4m-4 1h4m-4 0h4m-4 5h4m-4 52h4m-4 2h4m-4 0h4m-4 0h4m-4 2h4m-4 1h4m-4 4h4m-4 13h4m-3-80h4m-4 2h4m-4 0h4m-4 4h4m-4 1h4m-4 52h4m-4 1h4m-4 5h4m-3-83h4m-4 18h4m-4 1h4m-4 1h4m-4 2h4m-4 1h4m-4 0h4m-4 1h4m-4 52h4m-4 1h4m-4 2h4m-4 2h4m-4 0h4m-4 2h4m-4 0h4m-4 2h4m-3-74h4m-4 4h4m-4 2h4m-4 2h4m-4 3h4m-4 2h4m-4 51h4m-4 1h4m-4 1h4m-4 1h4m-4 0h4m-4 1h4m-4 1h4m-4 1h4m-4 0h4m-4 2h4m-4 1h4m-4 0h4m-4 1h4m-3-67h4m-4 2h4m-4 1h4m-4 0h4m-4 1h4m-4 0h4m-4 2h4m-4 0h4m-4 0h4m-4 0h4m-4 1h4m-4 51h4m-4 0h4m-4 2h4m-4 1h4m-4 2h4m-4 0h4m-4 1h4m-4 0h4m-4 0h4m-4 3h4m-4 3h4m-3-66h4m-4 1h4m-4 2h4m-4 50h4m-4 0h4m-4 0h4m-4 1h4m-4 0h4m-4 3h4m-4 1h4m-4 3h4m-4 1h4m-3-67h4m-4 4h4m-4 0h4m-4 1h4m-4 1h4m-4 0h4m-4 52h4m-4 1h4m-4 0h4m-4 1h4m-4 3h4m-4 2h4m-4 0h4m-4 2h4m-4 0h4m-4 7h4m-3-75h4m-4 0h4m-4 2h4m-4 0h4m-4 3h4m-4 54h4m-4 1h4m-4 0h4m-4 0h4m-4 2h4m-4 1h4m-4 0h4m-4 1h4m-4 0h4m-4 2h4m-3-70h4m-4 4h4m-4 1h4m-4 1h4m-4 3h4m-4 0h4m-4 1h4m-4 3h4m-4 0h4m-4 52h4m-4 1h4m-4 0h4m-4 2h4m-4 2h4m-4 0h4m-4 4h4m-4 0h4m-3-65h4m-4 0h4m-4 1h4m-4 2h4m-4 0h4m-4 0h4m-4 1h4m-4 50h4m-4 0h4m-4 3h4m-4 0h4m-4 3h4m-4 4h4m-4 1h4m-3-88h4m-4 4h4m-4 11h4m-4 1h4m-4 2h4m-4 1h4m-4 4h4m-4 54h4m-4 0h4m-4 0h4m-4 1h4m-4 3h4m-4 1h4m-4 7h4m-4 0h4m-4 17h4m-3-89h4m-4 2h4m-4 1h4m-4 3h4m-4 0h4m-4 2h4m-4 1h4m-4 1h4m-4 0h4m-4 51h4m-4 1h4m-4 0h4m-4 1h4m-4 1h4m-4 1h4m-4 1h4m-4 0h4m-4 2h4m-4 0h4m-4 1h4m-4 0h4m-4 10h4m-4 29h4m-3-105h4m-4 1h4m-4 3h4m-4 0h4m-4 2h4m-4 0h4m-4 2h4m-4 48h4m-4 0h4m-4 1h4m-4 2h4m-4 0h4m-4 3h4m-4 0h4m-4 4h4m-4 0h4m-4 9h4m-3-94h4m-4 17h4m-4 4h4m-4 1h4m-4 1h4m-4 1h4m-4 1h4m-4 51h4m-4 8h4m-4 1h4m-4 0h4m-4 2h4m-3-72h4m-4 1h4m-4 2h4m-4 0h4m-4 1h4m-4 1h4m-4 3h4m-4 1h4m-4 1h4m-4 0h4m-4 2h4m-4 0h4m-4 0h4m-4 48h4m-4 4h4m-4 0h4m-4 0h4m-4 0h4m-4 0h4m-4 1h4m-4 0h4m-4 0h4m-4 3h4m-4 0h4m-4 3h4m-4 10h4m-3-105h4m-4 16h4m-4 7h4m-4 1h4m-4 1h4m-4 5h4m-4 1h4m-4 0h4m-4 0h4m-4 2h4m-4 1h4m-4 1h4m-4 1h4m-4 0h4m-4 48h4m-4 1h4m-4 1h4m-4 0h4m-4 0h4m-4 1h4m-4 1h4m-4 0h4m-4 1h4m-4 0h4m-4 1h4m-4 1h4m-4 5h4m-4 0h4m-4 20h4m-3-95h4m-4 3h4m-4 1h4m-4 1h4m-4 2h4m-4 1h4m-4 1h4m-4 2h4m-4 1h4m-4 1h4m-4 2h4m-4 48h4m-4 4h4m-4 0h4m-4 1h4m-4 4h4m-4 1h4m-4 1h4m-4 0h4m-4 0h4m-4 1h4m-4 1h4m-4 0h4m-3-93h4m-4 17h4m-4 0h4m-4 2h4m-4 2h4m-4 0h4m-4 0h4m-4 7h4m-4 0h4m-4 0h4m-4 1h4m-4 1h4m-4 50h4m-4 1h4m-4 0h4m-4 1h4m-4 2h4m-4 5h4m-4 3h4m-3-83h4m-4 10h4m-4 0h4m-4 6h4m-4 1h4m-4 0h4m-4 0h4m-4 2h4m-4 1h4m-4 0h4m-4 1h4m-4 2h4m-4 48h4m-4 2h4m-4 0h4m-4 1h4m-4 0h4m-4 1h4m-4 0h4m-4 0h4m-4 4h4m-4 1h4m-4 0h4m-4 1h4m-3-70h4m-4 1h4m-4 1h4m-4 4h4m-4 0h4m-4 3h4m-4 0h4m-4 1h4m-4 2h4m-4 50h4m-4 1h4m-4 2h4m-4 1h4m-4 2h4m-4 0h4m-4 1h4m-4 4h4m-4 2h4m-4 3h4m-3-96h4m-4 15h4m-4 7h4m-4 2h4m-4 3h4m-4 2h4m-4 0h4m-4 48h4m-4 2h4m-4 0h4m-4 1h4m-4 0h4m-4 4h4m-4 2h4m-3-103h4m-4 6h4m-4 33h4m-4 8h4m-4 49h4m-4 0h4m-4 5h4m-4 0h4m-4 3h4m-4 0h4m-4 5h4m-3-101h4m-4 6h4m-4 21h4m-4 2h4m-4 1h4m-4 4h4m-4 1h4m-4 0h4m-4 2h4m-4 0h4m-4 1h4m-4 1h4m-4 48h4m-4 0h4m-4 3h4m-4 1h4m-4 0h4m-4 2h4m-4 2h4m-4 1h4m-4 2h4m-4 30h4m-3-118h4m-4 17h4m-4 2h4m-4 7h4m-4 1h4m-4 0h4m-4 0h4m-4 1h4m-4 2h4m-4 46h4m-4 1h4m-4 1h4m-4 3h4m-4 1h4m-4 3h4m-4 0h4m-4 1h4m-4 4h4m-3-91h4m-4 4h4m-4 12h4m-4 7h4m-4 0h4m-4 1h4m-4 3h4m-4 1h4m-4 1h4m-4 0h4m-4 2h4m-4 46h4m-4 1h4m-4 1h4m-4 3h4m-4 1h4m-4 1h4m-4 0h4m-4 1h4m-4 0h4m-4 2h4m-4 0h4m-4 1h4m-4 43h4m-3-119h4m-4 6h4m-4 4h4m-4 1h4m-4 0h4m-4 1h4m-4 0h4m-4 1h4m-4 1h4m-4 4h4m-4 49h4m-4 3h4m-4 1h4m-4 1h4m-4 1h4m-4 3h4m-4 5h4m-3-105h4m-4 29h4m-4 3h4m-4 1h4m-4 0h4m-4 2h4m-4 4h4m-4 1h4m-4 2h4m-4 1h4m-4 45h4m-4 0h4m-4 0h4m-4 1h4m-4 0h4m-4 1h4m-4 2h4m-4 4h4m-4 3h4m-4 2h4m-3-69h4m-4 1h4m-4 2h4m-4 2h4m-4 0h4m-4 0h4m-4 4h4m-4 0h4m-4 0h4m-4 0h4m-4 48h4m-4 0h4m-4 1h4m-4 0h4m-4 1h4m-4 1h4m-4 0h4m-4 1h4m-4 1h4m-4 0h4m-4 4h4m-4 1h4m-4 4h4m-3-104h4m-4 1h4m-4 18h4m-4 13h4m-4 2h4m-4 3h4m-4 3h4m-4 0h4m-4 2h4m-4 0h4m-4 1h4m-4 0h4m-4 0h4m-4 47h4m-4 0h4m-4 2h4m-4 0h4m-4 0h4m-4 1h4m-4 0h4m-4 0h4m-4 4h4m-4 0h4m-4 1h4m-4 1h4m-4 2h4m-4 1h4m-4 0h4m-4 11h4m-4 4h4m-4 42h4m-3-123h4m-4 3h4m-4 1h4m-4 0h4m-4 0h4m-4 2h4m-4 1h4m-4 0h4m-4 1h4m-4 0h4m-4 46h4m-4 0h4m-4 4h4m-4 4h4m-4 0h4m-4 0h4m-4 1h4m-4 6h4m-3-91h4m-4 5h4m-4 0h4m-4 10h4m-4 4h4m-4 4h4m-4 0h4m-4 1h4m-4 3h4m-4 1h4m-4 1h4m-4 46h4m-4 0h4m-4 0h4m-4 4h4m-4 2h4m-4 7h4m-4 44h4m-3-125h4m-4 3h4m-4 6h4m-4 1h4m-4 3h4m-4 2h4m-4 1h4m-4 1h4m-4 2h4m-4 0h4m-4 0h4m-4 3h4m-4 46h4m-4 0h4m-4 2h4m-4 1h4m-4 1h4m-4 3h4m-4 2h4m-4 1h4m-4 0h4m-4 1h4m-4 2h4m-4 9h4m-3-104h4m-4 24h4m-4 1h4m-4 2h4m-4 2h4m-4 7h4m-4 1h4m-4 44h4m-4 1h4m-4 1h4m-4 0h4m-4 2h4m-4 1h4m-4 1h4m-4 1h4m-4 1h4m-4 1h4m-4 3h4m-4 12h4m-3-79h4m-4 1h4m-4 5h4m-4 2h4m-4 2h4m-4 46h4m-4 3h4m-4 1h4m-4 3h4m-4 3h4m-4 0h4m-4 1h4m-4 1h4m-4 42h4m-3-159h4m-4 50h4m-4 2h4m-4 1h4m-4 3h4m-4 4h4m-4 0h4m-4 44h4m-4 1h4m-4 2h4m-4 0h4m-4 1h4m-4 0h4m-4 0h4m-4 1h4m-4 0h4m-4 1h4m-4 2h4m-4 1h4m-4 0h4m-4 1h4m-4 1h4m-4 1h4m-4 3h4m-4 7h4m-4 14h4m-4 20h4m-3-160h4m-4 23h4m-4 2h4m-4 21h4m-4 6h4m-4 0h4m-4 2h4m-4 1h4m-4 2h4m-4 0h4m-4 1h4m-4 1h4m-4 45h4m-4 0h4m-4 2h4m-4 0h4m-4 1h4m-4 0h4m-4 2h4m-4 0h4m-4 2h4m-4 3h4m-4 1h4m-4 4h4m-4 1h4m-4 23h4m-3-97h4m-4 0h4m-4 1h4m-4 4h4m-4 4h4m-4 6h4m-4 47h4m-4 1h4m-4 1h4m-4 3h4m-4 3h4m-4 2h4m-3-130h4m-4 58h4m-4 1h4m-4 2h4m-4 3h4m-4 3h4m-4 1h4m-4 2h4m-4 0h4m-4 1h4m-4 1h4m-4 44h4m-4 0h4m-4 1h4m-4 1h4m-4 0h4m-4 6h4m-4 0h4m-4 1h4m-4 3h4m-4 30h4m-3-100h4m-4 2h4m-4 1h4m-4 2h4m-4 1h4m-4 3h4m-4 1h4m-4 1h4m-4 2h4m-4 46h4m-4 1h4m-4 0h4m-4 1h4m-4 2h4m-4 2h4m-4 0h4m-4 2h4m-4 1h4m-4 0h4m-4 2h4m-4 2h4m-4 13h4m-4 6h4m-3-92h4m-4 1h4m-4 3h4m-4 1h4m-4 0h4m-4 2h4m-4 1h4m-4 0h4m-4 2h4m-4 1h4m-4 2h4m-4 2h4m-4 0h4m-4 1h4m-4 42h4m-4 0h4m-4 0h4m-4 0h4m-4 2h4m-4 1h4m-4 1h4m-4 1h4m-4 1h4m-4 0h4m-4 3h4m-4 0h4m-4 0h4m-4 1h4m-4 3h4m-4 4h4m-3-99h4m-4 19h4m-4 7h4m-4 4h4m-4 2h4m-4 1h4m-4 0h4m-4 1h4m-4 2h4m-4 2h4m-4 44h4m-4 1h4m-4 0h4m-4 3h4m-4 1h4m-4 5h4m-4 1h4m-4 1h4m-4 1h4m-3-132h4m-4 62h4m-4 3h4m-4 4h4m-4 3h4m-4 1h4m-4 1h4m-4 2h4m-4 44h4m-4 1h4m-4 1h4m-4 2h4m-4 3h4m-4 1h4m-4 3h4m-4 2h4m-4 7h4m-3-102h4m-4 31h4m-4 1h4m-4 2h4m-4 4h4m-4 49h4m-4 0h4m-4 1h4m-4 1h4m-4 1h4m-4 0h4m-4 1h4m-4 0h4m-4 1h4m-4 4h4m-4 0h4m-4 12h4m-3-110h4m-4 26h4m-4 1h4m-4 5h4m-4 1h4m-4 1h4m-4 2h4m-4 2h4m-4 1h4m-4 1h4m-4 1h4m-4 42h4m-4 0h4m-4 0h4m-4 0h4m-4 1h4m-4 1h4m-4 1h4m-4 1h4m-4 4h4m-4 2h4m-4 2h4m-4 1h4m-4 0h4m-4 0h4m-3-105h4m-4 37h4m-4 1h4m-4 1h4m-4 0h4m-4 5h4m-4 1h4m-4 0h4m-4 1h4m-4 0h4m-4 0h4m-4 2h4m-4 44h4m-4 0h4m-4 3h4m-4 1h4m-4 4h4m-4 0h4m-4 4h4m-3-65h4m-4 0h4m-4 8h4m-4 0h4m-4 1h4m-4 1h4m-4 1h4m-4 0h4m-4 0h4m-4 43h4m-4 2h4m-4 2h4m-4 2h4m-4 2h4m-4 2h4m-4 3h4m-4 40h4m-4 10h4m-3-150h4m-4 30h4m-4 1h4m-4 0h4m-4 2h4m-4 1h4m-4 2h4m-4 2h4m-4 0h4m-4 2h4m-4 2h4m-4 0h4m-4 44h4m-4 3h4m-4 1h4m-4 2h4m-4 0h4m-4 1h4m-4 0h4m-4 0h4m-4 4h4m-4 0h4m-4 3h4m-4 32h4m-4 2h4m-3-128h4m-4 24h4m-4 0h4m-4 1h4m-4 1h4m-4 1h4m-4 3h4m-4 1h4m-4 1h4m-4 0h4m-4 1h4m-4 0h4m-4 0h4m-4 2h4m-4 0h4m-4 2h4m-4 0h4m-4 1h4m-4 1h4m-4 40h4m-4 1h4m-4 5h4m-4 2h4m-4 1h4m-4 1h4m-4 0h4m-4 5h4m-4 4h4m-3-71h4m-4 1h4m-4 1h4m-4 0h4m-4 1h4m-4 1h4m-4 1h4m-4 4h4m-4 2h4m-4 41h4m-4 1h4m-4 0h4m-4 0h4m-4 0h4m-4 1h4m-4 0h4m-4 1h4m-4 2h4m-4 13h4m-4 7h4m-3-109h4m-4 28h4m-4 2h4m-4 0h4m-4 3h4m-4 1h4m-4 4h4m-4 4h4m-4 0h4m-4 2h4m-4 0h4m-4 0h4m-4 40h4m-4 1h4m-4 3h4m-4 3h4m-4 0h4m-4 5h4m-4 3h4m-4 7h4m-4 6h4m-3-80h4m-4 0h4m-4 0h4m-4 0h4m-4 1h4m-4 2h4m-4 5h4m-4 4h4m-4 40h4m-4 0h4m-4 1h4m-4 1h4m-4 3h4m-4 0h4m-4 3h4m-4 1h4m-4 2h4m-4 2h4m-4 37h4m-3-150h4m-4 48h4m-4 3h4m-4 3h4m-4 1h4m-4 2h4m-4 2h4m-4 42h4m-4 1h4m-4 0h4m-4 3h4m-4 1h4m-4 0h4m-4 1h4m-4 0h4m-4 0h4m-4 1h4m-4 2h4m-4 6h4m-4 2h4m-4 12h4m-3-82h4m-4 1h4m-4 0h4m-4 1h4m-4 2h4m-4 2h4m-4 3h4m-4 0h4m-4 2h4m-4 1h4m-4 40h4m-4 1h4m-4 0h4m-4 1h4m-4 0h4m-4 1h4m-4 0h4m-4 6h4m-4 1h4m-4 2h4m-4 0h4m-4 2h4m-3-76h4m-4 3h4m-4 4h4m-4 0h4m-4 3h4m-4 0h4m-4 0h4m-4 1h4m-4 4h4m-4 1h4m-4 2h4m-4 1h4m-4 2h4m-4 44h4m-4 2h4m-4 1h4m-4 1h4m-4 2h4m-4 1h4m-4 1h4m-4 0h4m-4 3h4m-4 16h4m-3-87h4m-4 6h4m-4 0h4m-4 3h4m-4 6h4m-4 42h4m-4 2h4m-4 1h4m-4 1h4m-4 3h4m-4 2h4m-4 3h4m-3-76h4m-4 9h4m-4 2h4m-4 2h4m-4 0h4m-4 1h4m-4 0h4m-4 3h4m-4 1h4m-4 1h4m-4 1h4m-4 1h4m-4 1h4m-4 43h4m-4 0h4m-4 1h4m-4 1h4m-4 0h4m-4 1h4m-4 0h4m-4 0h4m-4 6h4m-4 2h4m-4 20h4m-4 20h4m-3-137h4m-4 35h4m-4 0h4m-4 1h4m-4 0h4m-4 3h4m-4 2h4m-4 2h4m-4 3h4m-4 38h4m-4 1h4m-4 2h4m-4 0h4m-4 2h4m-4 1h4m-4 0h4m-4 1h4m-4 2h4m-4 1h4m-4 0h4m-4 2h4m-4 0h4m-4 1h4m-4 10h4m-4 3h4m-4 39h4m-3-131h4m-4 15h4m-4 1h4m-4 2h4m-4 4h4m-4 1h4m-4 0h4m-4 1h4m-4 1h4m-4 1h4m-4 2h4m-4 38h4m-4 1h4m-4 0h4m-4 6h4m-4 1h4m-4 6h4m-4 1h4m-3-97h4m-4 30h4m-4 8h4m-4 1h4m-4 4h4m-4 1h4m-4 38h4m-4 0h4m-4 1h4m-4 1h4m-4 1h4m-4 0h4m-4 1h4m-4 3h4m-4 2h4m-4 1h4m-4 0h4m-4 1h4m-4 0h4m-4 0h4m-4 0h4m-4 0h4m-4 4h4m-4 14h4m-3-77h4m-4 0h4m-4 1h4m-4 4h4m-4 0h4m-4 0h4m-4 2h4m-4 1h4m-4 42h4m-4 1h4m-4 1h4m-4 3h4m-4 1h4m-4 1h4m-4 3h4m-4 16h4m-4 10h4m-3-89h4m-4 0h4m-4 2h4m-4 0h4m-4 1h4m-4 1h4m-4 2h4m-4 1h4m-4 1h4m-4 0h4m-4 3h4m-4 2h4m-4 0h4m-4 0h4m-4 37h4m-4 1h4m-4 0h4m-4 0h4m-4 1h4m-4 1h4m-4 1h4m-4 1h4m-4 1h4m-4 4h4m-4 1h4m-4 3h4m-4 1h4m-4 2h4m-3-110h4m-4 42h4m-4 2h4m-4 0h4m-4 2h4m-4 1h4m-4 2h4m-4 4h4m-4 1h4m-4 39h4m-4 3h4m-4 0h4m-4 1h4m-4 0h4m-4 0h4m-4 4h4m-4 2h4m-4 1h4m-4 1h4m-4 3h4m-4 4h4m-4 33h4m-3-118h4m-4 18h4m-4 2h4m-4 2h4m-4 1h4m-4 0h4m-4 4h4m-4 1h4m-4 1h4m-4 38h4m-4 2h4m-4 5h4m-4 0h4m-4 2h4m-4 3h4m-4 1h4m-4 54h4m-3-175h4m-4 56h4m-4 3h4m-4 1h4m-4 0h4m-4 0h4m-4 6h4m-4 0h4m-4 0h4m-4 4h4m-4 0h4m-4 1h4m-4 36h4m-4 0h4m-4 2h4m-4 1h4m-4 2h4m-4 9h4m-4 4h4m-4 67h4m-4 1h4m-3-187h4m-4 26h4m-4 27h4m-4 1h4m-4 4h4m-4 5h4m-4 2h4m-4 0h4m-4 36h4m-4 1h4m-4 0h4m-4 3h4m-4 0h4m-4 4h4m-4 1h4m-4 3h4m-4 35h4m-4 3h4m-3-151h4m-4 19h4m-4 26h4m-4 10h4m-4 2h4m-4 0h4m-4 1h4m-4 0h4m-4 2h4m-4 1h4m-4 4h4m-4 38h4m-4 1h4m-4 1h4m-4 1h4m-4 2h4m-4 0h4m-4 4h4m-4 0h4m-4 5h4m-4 0h4m-3-75h4m-4 5h4m-4 4h4m-4 3h4m-4 1h4m-4 0h4m-4 1h4m-4 0h4m-4 1h4m-4 3h4m-4 0h4m-4 3h4m-4 1h4m-4 1h4m-4 0h4m-4 0h4m-4 39h4m-4 5h4m-4 0h4m-4 2h4m-4 1h4m-4 32h4m-3-93h4m-4 4h4m-4 1h4m-4 1h4m-4 2h4m-4 3h4m-4 1h4m-4 1h4m-4 36h4m-4 3h4m-4 0h4m-4 1h4m-4 0h4m-4 0h4m-4 0h4m-4 2h4m-4 0h4m-4 1h4m-4 1h4m-4 0h4m-4 5h4m-4 1h4m-4 5h4m-4 4h4m-4 39h4m-3-192h4m-4 25h4m-4 1h4m-4 50h4m-4 7h4m-4 0h4m-4 1h4m-4 0h4m-4 1h4m-4 0h4m-4 0h4m-4 1h4m-4 1h4m-4 1h4m-4 3h4m-4 1h4m-4 0h4m-4 0h4m-4 3h4m-4 36h4m-4 0h4m-4 1h4m-4 0h4m-4 2h4m-4 7h4m-4 1h4m-4 1h4m-4 0h4m-4 3h4m-4 19h4m-3-114h4m-4 6h4m-4 20h4m-4 4h4m-4 2h4m-4 1h4m-4 1h4m-4 2h4m-4 1h4m-4 1h4m-4 1h4m-4 0h4m-4 1h4m-4 2h4m-4 1h4m-4 0h4m-4 36h4m-4 1h4m-4 3h4m-4 1h4m-4 1h4m-4 1h4m-4 4h4m-4 3h4m-3-74h4m-4 9h4m-4 1h4m-4 0h4m-4 7h4m-4 1h4m-4 1h4m-4 3h4m-4 1h4m-4 0h4m-4 2h4m-4 0h4m-4 0h4m-4 0h4m-4 35h4m-4 2h4m-4 1h4m-4 4h4m-4 0h4m-4 2h4m-4 1h4m-4 0h4m-4 1h4m-4 2h4m-4 0h4m-4 2h4m-4 0h4m-4 1h4m-4 22h4m-4 34h4m-3-117h4m-4 0h4m-4 1h4m-4 5h4m-4 0h4m-4 1h4m-4 0h4m-4 1h4m-4 0h4m-4 1h4m-4 0h4m-4 0h4m-4 1h4m-4 35h4m-4 2h4m-4 6h4m-4 1h4m-4 2h4m-4 1h4m-4 0h4m-4 1h4m-4 3h4m-3-81h4m-4 19h4m-4 6h4m-4 2h4m-4 0h4m-4 1h4m-4 1h4m-4 36h4m-4 1h4m-4 1h4m-4 1h4m-4 0h4m-4 1h4m-4 3h4m-4 2h4m-4 31h4m-3-116h4m-4 28h4m-4 2h4m-4 1h4m-4 2h4m-4 2h4m-4 0h4m-4 0h4m-4 1h4m-4 4h4m-4 1h4m-4 0h4m-4 0h4m-4 35h4m-4 0h4m-4 2h4m-4 1h4m-4 1h4m-4 2h4m-4 1h4m-4 1h4m-4 3h4m-4 18h4m-4 6h4m-4 43h4m-3-180h4m-4 57h4m-4 0h4m-4 0h4m-4 1h4m-4 4h4m-4 0h4m-4 5h4m-4 36h4m-4 0h4m-4 1h4m-4 3h4m-4 2h4m-4 4h4m-4 2h4m-4 0h4m-4 0h4m-4 4h4m-4 10h4m-3-82h4m-4 8h4m-4 0h4m-4 6h4m-4 2h4m-4 1h4m-4 3h4m-4 35h4m-4 0h4m-4 0h4m-4 0h4m-4 0h4m-4 3h4m-4 0h4m-4 3h4m-4 1h4m-4 1h4m-4 1h4m-4 0h4m-4 3h4m-4 4h4m-4 1h4m-4 13h4m-4 34h4m-4 4h4m-3-123h4m-4 7h4m-4 5h4m-4 0h4m-4 2h4m-4 6h4m-4 1h4m-4 33h4m-4 1h4m-4 1h4m-4 1h4m-4 0h4m-4 1h4m-4 1h4m-4 1h4m-4 0h4m-4 2h4m-4 0h4m-4 0h4m-4 2h4m-4 30h4m-4 25h4m-3-154h4m-4 42h4m-4 3h4m-4 1h4m-4 1h4m-4 3h4m-4 0h4m-4 5h4m-4 35h4m-4 2h4m-4 5h4m-4 1h4m-4 6h4m-4 6h4m-3-71h4m-4 4h4m-4 1h4m-4 1h4m-4 5h4m-4 1h4m-4 1h4m-4 3h4m-4 0h4m-4 1h4m-4 33h4m-4 1h4m-4 0h4m-4 2h4m-4 1h4m-4 1h4m-4 1h4m-4 1h4m-4 3h4m-4 1h4m-4 1h4m-4 1h4m-4 2h4m-4 13h4m-4 0h4m-3-76h4m-4 1h4m-4 3h4m-4 1h4m-4 2h4m-4 1h4m-4 2h4m-4 0h4m-4 2h4m-4 1h4m-4 0h4m-4 1h4m-4 35h4m-4 1h4m-4 2h4m-4 2h4m-3-52h4m-4 1h4m-4 0h4m-4 1h4m-4 2h4m-4 4h4m-4 1h4m-4 3h4m-4 1h4m-4 0h4m-4 33h4m-4 1h4m-4 4h4m-4 1h4m-4 2h4m-4 1h4m-4 4h4m-4 73h4m-3-208h4m-4 51h4m-4 23h4m-4 5h4m-4 1h4m-4 7h4m-4 0h4m-4 36h4m-4 2h4m-4 1h4m-4 0h4m-4 1h4m-4 4h4m-4 3h4m-4 3h4m-4 3h4m-4 51h4m-3-112h4m-4 2h4m-4 3h4m-4 3h4m-4 0h4m-4 1h4m-4 2h4m-4 33h4m-4 0h4m-4 0h4m-4 1h4m-4 4h4m-4 4h4m-4 1h4m-4 2h4m-4 3h4m-4 3h4m-4 9h4m-4 18h4m-4 5h4m-3-121h4m-4 24h4m-4 2h4m-4 1h4m-4 3h4m-4 2h4m-4 1h4m-4 2h4m-4 35h4m-4 2h4m-4 1h4m-4 0h4m-4 2h4m-4 2h4m-4 3h4m-4 4h4m-3-122h4m-4 21h4m-4 23h4m-4 16h4m-4 2h4m-4 2h4m-4 2h4m-4 3h4m-4 1h4m-4 4h4m-4 0h4m-4 0h4m-4 1h4m-4 1h4m-4 0h4m-4 0h4m-4 32h4m-4 0h4m-4 0h4m-4 1h4m-4 1h4m-4 1h4m-4 3h4m-4 3h4m-4 1h4m-4 1h4m-4 5h4m-4 0h4m-4 39h4m-4 16h4m-3-146h4m-4 25h4m-4 7h4m-4 1h4m-4 1h4m-4 2h4m-4 1h4m-4 1h4m-4 1h4m-4 0h4m-4 0h4m-4 38h4m-4 5h4m-4 5h4m-4 2h4m-4 18h4m-4 27h4m-3-125h4m-4 16h4m-4 13h4m-4 3h4m-4 1h4m-4 1h4m-4 37h4m-4 0h4m-4 1h4m-4 2h4m-4 6h4m-4 46h4m-4 10h4m-3-140h4m-4 13h4m-4 12h4m-4 4h4m-4 1h4m-4 0h4m-4 1h4m-4 2h4m-4 1h4m-4 1h4m-4 1h4m-4 2h4m-4 0h4m-4 0h4m-4 32h4m-4 3h4m-4 1h4m-4 1h4m-4 1h4m-4 5h4m-4 3h4m-4 6h4m-3-66h4m-4 5h4m-4 3h4m-4 1h4m-4 5h4m-4 0h4m-4 31h4m-4 0h4m-4 2h4m-4 1h4m-4 2h4m-4 0h4m-4 1h4m-4 47h4m-4 34h4m-3-171h4m-4 10h4m-4 32h4m-4 2h4m-4 2h4m-4 3h4m-4 0h4m-4 0h4m-4 3h4m-4 0h4m-4 1h4m-4 31h4m-4 0h4m-4 2h4m-4 1h4m-4 3h4m-4 2h4m-4 0h4m-4 1h4m-4 18h4m-3-143h4m-4 35h4m-4 22h4m-4 1h4m-4 10h4m-4 3h4m-4 4h4m-4 1h4m-4 7h4m-4 2h4m-4 31h4m-4 3h4m-4 0h4m-4 1h4m-4 2h4m-4 0h4m-4 63h4m-3-113h4m-4 2h4m-4 5h4m-4 0h4m-4 3h4m-4 0h4m-4 1h4m-4 1h4m-4 31h4m-4 0h4m-4 1h4m-4 1h4m-4 4h4m-4 8h4m-4 0h4m-4 19h4m-3-91h4m-4 1h4m-4 20h4m-4 0h4m-4 0h4m-4 1h4m-4 2h4m-4 1h4m-4 1h4m-4 0h4m-4 3h4m-4 31h4m-4 3h4m-4 2h4m-4 1h4m-4 2h4m-4 1h4m-4 2h4m-4 0h4m-4 3h4m-3-78h4m-4 18h4m-4 3h4m-4 1h4m-4 5h4m-4 3h4m-4 1h4m-4 0h4m-4 2h4m-4 0h4m-4 0h4m-4 0h4m-4 0h4m-4 29h4m-4 0h4m-4 1h4m-4 1h4m-4 0h4m-4 0h4m-4 1h4m-4 1h4m-4 3h4m-4 1h4m-4 1h4m-4 1h4m-4 1h4m-4 3h4m-4 0h4m-4 4h4m-4 0h4m-4 32h4m-3-112h4m-4 21h4m-4 5h4m-4 4h4m-4 0h4m-4 3h4m-4 0h4m-4 29h4m-4 0h4m-4 0h4m-4 1h4m-4 1h4m-4 0h4m-4 1h4m-4 5h4m-4 0h4m-4 0h4m-4 2h4m-4 3h4m-4 0h4m-4 5h4m-3-59h4m-4 2h4m-4 9h4m-4 1h4m-4 0h4m-4 0h4m-4 29h4m-4 1h4m-4 1h4m-4 1h4m-4 0h4m-4 1h4m-4 0h4m-4 1h4m-4 0h4m-4 0h4m-4 3h4m-4 1h4m-4 51h4m-3-108h4m-4 4h4m-4 4h4m-4 1h4m-4 0h4m-4 2h4m-4 0h4m-4 1h4m-4 0h4m-4 5h4m-4 0h4m-4 0h4m-4 3h4m-4 27h4m-4 1h4m-4 1h4m-4 1h4m-4 3h4m-4 1h4m-4 2h4m-4 0h4m-4 0h4m-4 3h4m-4 1h4m-4 1h4m-4 2h4m-4 10h4m-4 51h4m-3-191h4m-4 7h4m-4 25h4m-4 15h4m-4 28h4m-4 1h4m-4 1h4m-4 1h4m-4 0h4m-4 1h4m-4 1h4m-4 1h4m-4 2h4m-4 1h4m-4 2h4m-4 0h4m-4 29h4m-4 0h4m-4 4h4m-4 5h4m-4 1h4m-4 2h4m-4 0h4m-4 4h4m-4 0h4m-3-79h4m-4 21h4m-4 2h4m-4 3h4m-4 1h4m-4 0h4m-4 1h4m-4 3h4m-4 1h4m-4 0h4m-4 1h4m-4 2h4m-4 28h4m-4 1h4m-4 5h4m-4 5h4m-4 0h4m-4 5h4m-3-128h4m-4 39h4m-4 26h4m-4 7h4m-4 0h4m-4 2h4m-4 3h4m-4 3h4m-4 4h4m-4 27h4m-4 1h4m-4 0h4m-4 0h4m-4 1h4m-4 0h4m-4 0h4m-4 1h4m-4 3h4m-4 0h4m-4 4h4m-4 1h4m-4 2h4m-4 2h4m-4 6h4m-4 24h4m-3-134h4m-4 44h4m-4 4h4m-4 1h4m-4 0h4m-4 3h4m-4 0h4m-4 2h4m-4 1h4m-4 2h4m-4 0h4m-4 0h4m-4 1h4m-4 0h4m-4 1h4m-4 0h4m-4 1h4m-4 2h4m-4 28h4m-4 0h4m-4 3h4m-4 2h4m-4 1h4m-4 4h4m-4 0h4m-4 1h4m-4 2h4m-4 19h4m-3-148h4m-4 19h4m-4 57h4m-4 0h4m-4 4h4m-4 0h4m-4 4h4m-4 0h4m-4 2h4m-4 1h4m-4 0h4m-4 1h4m-4 27h4m-4 1h4m-4 0h4m-4 1h4m-4 6h4m-4 0h4m-4 1h4m-4 0h4m-4 1h4m-4 1h4m-4 3h4m-4 1h4m-4 3h4m-4 14h4m-3-92h4m-4 19h4m-4 2h4m-4 0h4m-4 1h4m-4 1h4m-4 4h4m-4 1h4m-4 0h4m-4 1h4m-4 1h4m-4 1h4m-4 0h4m-4 29h4m-4 1h4m-4 0h4m-4 2h4m-4 1h4m-4 0h4m-4 1h4m-4 0h4m-4 4h4m-4 0h4m-4 1h4m-4 3h4m-4 2h4m-4 1h4m-3-90h4m-4 30h4m-4 7h4m-4 5h4m-4 1h4m-4 2h4m-4 1h4m-4 1h4m-4 0h4m-4 30h4m-4 4h4m-4 1h4m-4 3h4m-4 0h4m-4 2h4m-4 0h4m-4 1h4m-3-99h4m-4 35h4m-4 5h4m-4 5h4m-4 8h4m-4 1h4m-4 0h4m-4 31h4m-4 1h4m-4 0h4m-4 0h4m-4 1h4m-4 2h4m-4 2h4m-4 4h4m-4 1h4m-4 4h4m-4 0h4m-4 2h4m-4 2h4m-4 2h4m-4 18h4m-3-132h4m-4 43h4m-4 10h4m-4 0h4m-4 2h4m-4 1h4m-4 2h4m-4 0h4m-4 1h4m-4 4h4m-4 0h4m-4 32h4m-4 5h4m-4 0h4m-4 1h4m-4 2h4m-4 0h4m-4 3h4m-4 0h4m-4 8h4m-4 62h4m-3-125h4m-4 1h4m-4 2h4m-4 3h4m-4 0h4m-4 0h4m-4 2h4m-4 4h4m-4 1h4m-4 0h4m-4 2h4m-4 0h4m-4 31h4m-4 0h4m-4 3h4m-4 1h4m-4 0h4m-4 2h4m-4 1h4m-4 3h4m-4 1h4m-3-96h4m-4 29h4m-4 13h4m-4 2h4m-4 37h4m-4 0h4m-4 0h4m-4 1h4m-4 2h4m-4 1h4m-4 4h4m-4 0h4m-4 0h4m-4 1h4m-4 3h4m-4 2h4m-4 0h4m-4 4h4m-4 42h4m-4 11h4m-3-154h4m-4 33h4m-4 10h4m-4 0h4m-4 2h4m-4 3h4m-4 0h4m-4 2h4m-4 1h4m-4 5h4m-4 26h4m-4 0h4m-4 1h4m-4 0h4m-4 2h4m-4 9h4m-4 10h4m-4 1h4m-3-66h4m-4 4h4m-4 1h4m-4 3h4m-4 0h4m-4 4h4m-4 1h4m-4 2h4m-4 1h4m-4 27h4m-4 0h4m-4 0h4m-4 1h4m-4 0h4m-4 0h4m-4 1h4m-4 0h4m-4 2h4m-4 1h4m-4 4h4m-4 1h4m-4 1h4m-4 54h4m-4 3h4m-3-164h4m-4 46h4m-4 8h4m-4 5h4m-4 1h4m-4 2h4m-4 5h4m-4 1h4m-4 27h4m-4 0h4m-4 1h4m-4 3h4m-4 4h4m-4 3h4m-4 1h4m-4 1h4m-4 0h4m-4 1h4m-4 0h4m-4 2h4m-4 1h4m-4 4h4m-4 9h4m-4 11h4m-3-80h4m-4 2h4m-4 4h4m-4 3h4m-4 1h4m-4 0h4m-4 2h4m-4 2h4m-4 1h4m-4 28h4m-4 7h4m-4 8h4m-4 0h4m-3-87h4m-4 13h4m-4 12h4m-4 1h4m-4 2h4m-4 5h4m-4 0h4m-4 4h4m-4 0h4m-4 3h4m-4 0h4m-4 1h4m-4 0h4m-4 0h4m-4 2h4m-4 0h4m-4 1h4m-4 0h4m-4 0h4m-4 24h4m-4 3h4m-4 1h4m-4 1h4m-4 3h4m-4 1h4m-4 1h4m-4 2h4m-4 0h4m-4 47h4m-3-137h4m-4 39h4m-4 1h4m-4 1h4m-4 5h4m-4 0h4m-4 0h4m-4 4h4m-4 4h4m-4 25h4m-4 2h4m-4 1h4m-4 0h4m-4 4h4m-4 1h4m-4 1h4m-4 0h4m-4 3h4m-4 1h4m-4 1h4m-3-56h4m-4 5h4m-4 3h4m-4 1h4m-4 2h4m-4 0h4m-4 1h4m-4 1h4m-4 3h4m-4 28h4m-4 1h4m-4 6h4m-4 2h4m-4 2h4m-4 1h4m-4 0h4m-4 1h4m-4 0h4m-4 3h4m-4 11h4m-4 4h4m-4 13h4m-3-85h4m-4 0h4m-4 5h4m-4 4h4m-4 1h4m-4 3h4m-4 0h4m-4 0h4m-4 1h4m-4 24h4m-4 0h4m-4 1h4m-4 0h4m-4 2h4m-4 6h4m-4 1h4m-4 3h4m-4 1h4m-4 4h4m-3-86h4m-4 29h4m-4 1h4m-4 1h4m-4 2h4m-4 7h4m-4 1h4m-4 1h4m-4 2h4m-4 0h4m-4 24h4m-4 0h4m-4 6h4m-4 0h4m-4 1h4m-4 0h4m-4 2h4m-4 0h4m-4 3h4m-4 3h4m-4 1h4m-4 65h4m-3-116h4m-4 2h4m-4 2h4m-4 1h4m-4 1h4m-4 2h4m-4 1h4m-4 2h4m-4 0h4m-4 24h4m-4 2h4m-4 3h4m-4 2h4m-4 0h4m-4 1h4m-4 1h4m-4 0h4m-4 18h4m-4 39h4m-3-108h4m-4 5h4m-4 4h4m-4 0h4m-4 1h4m-4 5h4m-4 2h4m-4 1h4m-4 0h4m-4 23h4m-4 1h4m-4 1h4m-4 0h4m-4 1h4m-4 0h4m-4 0h4m-4 1h4m-4 5h4m-4 0h4m-4 7h4m-4 2h4m-4 0h4m-4 11h4m-4 45h4m-3-108h4m-4 5h4m-4 1h4m-4 2h4m-4 28h4m-4 0h4m-4 5h4m-4 2h4m-4 5h4m-3-112h4m-4 59h4m-4 2h4m-4 0h4m-4 3h4m-4 1h4m-4 0h4m-4 0h4m-4 3h4m-4 0h4m-4 2h4m-4 2h4m-4 0h4m-4 1h4m-4 1h4m-4 24h4m-4 2h4m-4 1h4m-4 0h4m-4 4h4m-4 3h4m-4 3h4m-4 1h4m-4 3h4m-4 2h4m-3-58h4m-4 8h4m-4 2h4m-4 2h4m-4 0h4m-4 5h4m-4 22h4m-4 4h4m-4 4h4m-4 1h4m-4 1h4m-4 2h4m-4 34h4m-4 7h4m-3-131h4m-4 45h4m-4 1h4m-4 1h4m-4 2h4m-4 4h4m-4 3h4m-4 0h4m-4 22h4m-4 4h4m-4 5h4m-4 1h4m-4 1h4m-4 4h4m-4 3h4m-4 1h4m-4 19h4m-3-95h4m-4 19h4m-4 6h4m-4 3h4m-4 6h4m-4 1h4m-4 23h4m-4 1h4m-4 1h4m-4 0h4m-4 1h4m-4 4h4m-4 7h4m-4 1h4m-4 1h4m-4 2h4m-3-56h4m-4 0h4m-4 2h4m-4 0h4m-4 1h4m-4 1h4m-4 2h4m-4 4h4m-4 1h4m-4 1h4m-4 2h4m-4 0h4m-4 1h4m-4 0h4m-4 22h4m-4 2h4m-4 1h4m-4 0h4m-4 0h4m-4 1h4m-4 11h4m-4 2h4m-4 4h4m-4 15h4m-3-123h4m-4 46h4m-4 1h4m-4 1h4m-4 2h4m-4 1h4m-4 1h4m-4 3h4m-4 2h4m-4 2h4m-4 0h4m-4 0h4m-4 1h4m-4 0h4m-4 2h4m-4 2h4m-4 1h4m-4 23h4m-4 0h4m-4 5h4m-4 3h4m-4 0h4m-4 1h4m-4 1h4m-4 5h4m-3-97h4m-4 30h4m-4 13h4m-4 1h4m-4 1h4m-4 4h4m-4 1h4m-4 2h4m-4 0h4m-4 1h4m-4 0h4m-4 1h4m-4 2h4m-4 2h4m-4 1h4m-4 21h4m-4 1h4m-4 4h4m-4 0h4m-4 2h4m-4 4h4m-4 1h4m-4 0h4m-4 1h4m-4 3h4m-4 5h4m-4 62h4m-3-131h4m-4 7h4m-4 7h4m-4 1h4m-4 4h4m-4 0h4m-4 1h4m-4 1h4m-4 1h4m-4 1h4m-4 1h4m-4 0h4m-4 2h4m-4 1h4m-4 0h4m-4 23h4m-4 1h4m-4 3h4m-4 0h4m-4 2h4m-4 2h4m-4 0h4m-4 1h4m-4 1h4m-4 0h4m-4 7h4m-3-91h4m-4 41h4m-4 1h4m-4 2h4m-4 2h4m-4 2h4m-4 24h4m-4 0h4m-4 4h4m-4 1h4m-4 0h4m-4 0h4m-4 3h4m-4 4h4m-4 1h4m-4 5h4m-3-51h4m-4 3h4m-4 5h4m-4 25h4m-4 0h4m-4 0h4m-4 1h4m-4 1h4m-4 2h4m-4 3h4m-4 1h4m-4 1h4m-4 1h4m-4 4h4m-4 29h4m-4 21h4m-3-98h4m-4 5h4m-4 0h4m-4 1h4m-4 2h4m-4 1h4m-4 2h4m-4 24h4m-4 2h4m-4 2h4m-4 3h4m-4 1h4m-4 2h4m-4 1h4m-4 7h4m-3-106h4m-4 10h4m-4 3h4m-4 36h4m-4 4h4m-4 1h4m-4 3h4m-4 1h4m-4 2h4m-4 1h4m-4 25h4m-4 0h4m-4 2h4m-4 1h4m-4 0h4m-4 1h4m-4 1h4m-4 1h4m-4 0h4m-4 1h4m-4 1h4m-4 0h4m-4 1h4m-4 1h4m-4 1h4m-4 0h4m-4 2h4m-4 0h4m-4 10h4m-4 3h4m-4 7h4m-3-90h4m-4 19h4m-4 5h4m-4 1h4m-4 2h4m-4 0h4m-4 0h4m-4 2h4m-4 0h4m-4 5h4m-4 0h4m-4 2h4m-4 1h4m-4 1h4m-4 19h4m-4 3h4m-4 5h4m-4 0h4m-4 0h4m-4 0h4m-4 1h4m-4 1h4m-4 3h4m-4 0h4m-4 1h4m-4 1h4m-4 0h4m-4 4h4m-3-125h4m-4 71h4m-4 2h4m-4 8h4m-4 1h4m-4 2h4m-4 2h4m-4 1h4m-4 20h4m-4 0h4m-4 1h4m-4 0h4m-4 1h4m-4 7h4m-4 3h4m-4 6h4m-3-59h4m-4 19h4m-4 1h4m-4 21h4m-4 0h4m-4 1h4m-4 2h4m-4 5h4m-4 1h4m-4 1h4m-4 3h4m-4 1h4m-4 2h4m-4 2h4m-4 2h4m-3-48h4m-4 3h4m-4 2h4m-4 0h4m-4 2h4m-4 0h4m-4 20h4m-4 0h4m-4 2h4m-4 1h4m-4 0h4m-4 2h4m-4 5h4m-4 1h4m-4 2h4m-4 1h4m-4 8h4m-4 48h4m-3-145h4m-4 23h4m-4 13h4m-4 1h4m-4 4h4m-4 5h4m-4 0h4m-4 1h4m-4 2h4m-4 0h4m-4 2h4m-4 1h4m-4 23h4m-4 1h4m-4 0h4m-4 0h4m-4 0h4m-4 2h4m-4 1h4m-4 0h4m-4 1h4m-4 1h4m-4 1h4m-4 1h4m-4 2h4m-4 1h4m-4 2h4m-4 2h4m-4 4h4m-4 2h4m-4 28h4m-3-82h4m-4 8h4m-4 1h4m-4 4h4m-4 21h4m-4 0h4m-4 0h4m-4 1h4m-4 1h4m-4 3h4m-4 0h4m-4 0h4m-4 5h4m-4 4h4m-4 9h4m-4 26h4m-4 36h4m-3-190h4m-4 67h4m-4 6h4m-4 2h4m-4 1h4m-4 1h4m-4 0h4m-4 1h4m-4 1h4m-4 3h4m-4 1h4m-4 21h4m-4 2h4m-4 0h4m-4 0h4m-4 1h4m-4 0h4m-4 4h4m-4 1h4m-4 1h4m-4 0h4m-4 1h4m-4 1h4m-4 1h4m-4 2h4m-4 2h4m-4 1h4m-4 1h4m-4 2h4m-4 39h4m-3-119h4m-4 14h4m-4 13h4m-4 2h4m-4 4h4m-4 1h4m-4 5h4m-4 1h4m-4 1h4m-4 1h4m-4 19h4m-4 4h4m-4 1h4m-4 0h4m-4 3h4m-4 2h4m-4 5h4m-4 0h4m-4 2h4m-3-48h4m-4 2h4m-4 3h4m-4 1h4m-4 1h4m-4 0h4m-4 1h4m-4 22h4m-4 1h4m-4 2h4m-4 5h4m-4 3h4m-4 1h4m-4 2h4m-3-50h4m-4 6h4m-4 2h4m-4 10h4m-4 0h4m-4 19h4m-4 5h4m-4 3h4m-4 4h4m-4 0h4m-4 6h4m-4 1h4m-3-92h4m-4 22h4m-4 14h4m-4 2h4m-4 2h4m-4 4h4m-4 2h4m-4 4h4m-4 1h4m-4 21h4m-4 3h4m-4 5h4m-4 1h4m-4 1h4m-4 0h4m-4 5h4m-4 1h4m-4 18h4m-4 8h4m-3-109h4m-4 19h4m-4 13h4m-4 2h4m-4 3h4m-4 1h4m-4 1h4m-4 3h4m-4 1h4m-4 1h4m-4 2h4m-4 21h4m-4 0h4m-4 0h4m-4 1h4m-4 0h4m-4 1h4m-4 3h4m-4 1h4m-4 3h4m-4 3h4m-4 2h4m-4 3h4m-4 1h4m-4 3h4m-3-115h4m-4 60h4m-4 1h4m-4 1h4m-4 1h4m-4 2h4m-4 1h4m-4 2h4m-4 5h4m-4 2h4m-4 0h4m-4 1h4m-4 0h4m-4 17h4m-4 5h4m-4 1h4m-4 1h4m-4 0h4m-4 2h4m-4 1h4m-4 2h4m-4 4h4m-4 1h4m-4 1h4m-4 1h4m-3-53h4m-4 2h4m-4 3h4m-4 1h4m-4 2h4m-4 3h4m-4 4h4m-4 0h4m-4 2h4m-4 0h4m-4 21h4m-4 0h4m-4 1h4m-4 8h4m-4 2h4m-4 2h4m-3-51h4m-4 1h4m-4 9h4m-4 6h4m-4 1h4m-4 0h4m-4 1h4m-4 16h4m-4 2h4m-4 3h4m-4 2h4m-4 0h4m-4 3h4m-4 5h4m-4 0h4m-4 3h4m-4 39h4m-3-87h4m-4 3h4m-4 4h4m-4 1h4m-4 1h4m-4 1h4m-4 1h4m-4 2h4m-4 0h4m-4 0h4m-4 1h4m-4 16h4m-4 4h4m-4 6h4m-4 6h4m-4 1h4m-4 0h4m-3-61h4m-4 12h4m-4 2h4m-4 1h4m-4 7h4m-4 0h4m-4 3h4m-4 0h4m-4 3h4m-4 15h4m-4 3h4m-4 10h4m-4 1h4m-4 7h4m-3-48h4m-4 1h4m-4 3h4m-4 3h4m-4 1h4m-4 1h4m-4 20h4m-4 9h4m-4 6h4m-4 0h4m-4 1h4m-4 4h4m-4 10h4m-4 20h4m-4 1h4m-4 9h4m-3-95h4m-4 1h4m-4 2h4m-4 1h4m-4 0h4m-4 1h4m-4 2h4m-4 3h4m-4 2h4m-4 5h4m-4 16h4m-4 0h4m-4 0h4m-4 2h4m-4 0h4m-4 1h4m-4 1h4m-4 2h4m-4 4h4m-4 5h4m-4 2h4m-4 1h4m-4 3h4m-4 18h4m-4 1h4m-4 25h4m-3-141h4m-4 1h4m-4 36h4m-4 5h4m-4 4h4m-4 0h4m-4 2h4m-4 3h4m-4 3h4m-4 3h4m-4 3h4m-4 16h4m-4 0h4m-4 1h4m-4 1h4m-4 2h4m-4 3h4m-4 1h4m-4 1h4m-4 0h4m-4 3h4m-4 5h4m-4 2h4m-3-58h4m-4 12h4m-4 10h4m-4 0h4m-4 20h4m-4 3h4m-4 5h4m-4 0h4m-4 1h4m-4 2h4m-4 1h4m-4 4h4m-4 22h4m-4 34h4m-3-164h4m-4 18h4m-4 42h4m-4 4h4m-4 0h4m-4 4h4m-4 0h4m-4 1h4m-4 5h4m-4 15h4m-4 2h4m-4 2h4m-4 2h4m-4 0h4m-4 1h4m-4 3h4m-4 2h4m-4 0h4m-4 0h4m-4 1h4m-4 1h4m-4 0h4m-4 0h4m-4 5h4m-4 56h4m-3-138h4m-4 37h4m-4 4h4m-4 1h4m-4 21h4m-4 3h4m-4 0h4m-4 0h4m-4 1h4m-4 2h4m-4 12h4m-4 0h4m-4 40h4m-4 21h4m-3-131h4m-4 22h4m-4 5h4m-4 0h4m-4 3h4m-4 2h4m-4 19h4m-4 7h4m-4 5h4m-4 5h4m-4 0h4m-3-93h4m-4 42h4m-4 1h4m-4 0h4m-4 0h4m-4 3h4m-4 1h4m-4 1h4m-4 2h4m-4 2h4m-4 6h4m-4 1h4m-4 1h4m-4 1h4m-4 0h4m-4 15h4m-4 0h4m-4 1h4m-4 2h4m-4 6h4m-4 1h4m-4 1h4m-4 1h4m-4 3h4m-4 6h4m-4 3h4m-3-106h4m-4 35h4m-4 11h4m-4 7h4m-4 2h4m-4 4h4m-4 0h4m-4 2h4m-4 4h4m-4 0h4m-4 1h4m-4 1h4m-4 1h4m-4 0h4m-4 0h4m-4 14h4m-4 6h4m-4 9h4m-4 4h4m-3-41h4m-4 0h4m-4 3h4m-4 0h4m-4 6h4m-4 14h4m-4 3h4m-4 0h4m-4 2h4m-4 5h4m-4 0h4m-4 2h4m-4 2h4m-4 3h4m-4 8h4m-4 5h4m-4 10h4m-3-67h4m-4 4h4m-4 3h4m-4 1h4m-4 0h4m-4 2h4m-4 0h4m-4 1h4m-4 1h4m-4 0h4m-4 1h4m-4 19h4m-4 8h4m-4 6h4m-3-49h4m-4 4h4m-4 7h4m-4 0h4m-4 4h4m-4 14h4m-4 2h4m-4 1h4m-4 3h4m-4 2h4m-4 2h4m-4 1h4m-4 0h4m-4 7h4m-3-90h4m-4 41h4m-4 6h4m-4 2h4m-4 6h4m-4 1h4m-4 0h4m-4 0h4m-4 2h4m-4 0h4m-4 14h4m-4 0h4m-4 0h4m-4 2h4m-4 1h4m-4 3h4m-4 9h4m-4 0h4m-4 20h4m-4 36h4m-3-129h4m-4 23h4m-4 2h4m-4 1h4m-4 4h4m-4 1h4m-4 2h4m-4 6h4m-4 1h4m-4 4h4m-4 1h4m-4 12h4m-4 2h4m-4 3h4m-4 4h4m-4 2h4m-4 4h4m-4 1h4m-3-106h4m-4 50h4m-4 17h4m-4 4h4m-4 1h4m-4 1h4m-4 2h4m-4 3h4m-4 0h4m-4 13h4m-4 1h4m-4 3h4m-4 2h4m-4 1h4m-4 1h4m-4 3h4m-4 0h4m-4 2h4m-4 1h4m-4 3h4m-4 7h4m-4 2h4m-4 28h4m-3-85h4m-4 0h4m-4 2h4m-4 5h4m-4 0h4m-4 5h4m-4 1h4m-4 5h4m-4 0h4m-4 15h4m-4 6h4m-4 1h4m-4 0h4m-4 3h4m-4 0h4m-4 32h4m-3-67h4m-4 1h4m-4 2h4m-4 1h4m-4 1h4m-4 0h4m-4 2h4m-4 0h4m-4 1h4m-4 0h4m-4 1h4m-4 0h4m-4 1h4m-4 1h4m-4 11h4m-4 0h4m-4 1h4m-4 1h4m-4 2h4m-4 0h4m-4 0h4m-4 1h4m-4 1h4m-4 2h4m-4 2h4m-4 1h4m-4 2h4m-4 1h4m-4 6h4m-3-68h4m-4 25h4m-4 5h4m-4 1h4m-4 1h4m-4 3h4m-4 1h4m-4 0h4m-4 0h4m-4 14h4m-4 2h4m-4 0h4m-4 6h4m-4 3h4m-4 2h4m-4 1h4m-4 3h4m-4 27h4m-4 10h4m-3-83h4m-4 4h4m-4 2h4m-4 2h4m-4 0h4m-4 2h4m-4 1h4m-4 4h4m-4 0h4m-4 11h4m-4 5h4m-4 0h4m-4 1h4m-4 1h4m-4 0h4m-4 13h4m-4 4h4m-3-60h4m-4 6h4m-4 3h4m-4 2h4m-4 9h4m-4 1h4m-4 0h4m-4 15h4m-4 2h4m-4 3h4m-4 3h4m-4 3h4m-4 3h4m-4 1h4m-4 2h4m-4 1h4m-4 1h4m-4 24h4m-3-70h4m-4 1h4m-4 1h4m-4 3h4m-4 0h4m-4 2h4m-4 1h4m-4 0h4m-4 1h4m-4 4h4m-4 3h4m-4 11h4m-4 1h4m-4 0h4m-4 3h4m-4 1h4m-4 5h4m-4 7h4m-4 24h4m-3-119h4m-4 48h4m-4 5h4m-4 0h4m-4 3h4m-4 3h4m-4 3h4m-4 2h4m-4 0h4m-4 0h4m-4 1h4m-4 0h4m-4 2h4m-4 1h4m-4 10h4m-4 1h4m-4 2h4m-4 2h4m-4 1h4m-4 3h4m-4 4h4m-4 7h4m-4 3h4m-3-84h4m-4 30h4m-4 4h4m-4 4h4m-4 7h4m-4 1h4m-4 1h4m-4 3h4m-4 12h4m-4 3h4m-4 4h4m-4 5h4m-4 1h4m-4 3h4m-4 3h4m-3-81h4m-4 34h4m-4 1h4m-4 1h4m-4 5h4m-4 0h4m-4 2h4m-4 1h4m-4 0h4m-4 5h4m-4 2h4m-4 0h4m-4 10h4m-4 1h4m-4 2h4m-4 1h4m-4 0h4m-4 0h4m-4 1h4m-4 2h4m-4 0h4m-4 2h4m-4 0h4m-4 2h4m-4 4h4m-4 3h4m-4 1h4m-4 7h4m-3-53h4m-4 1h4m-4 3h4m-4 0h4m-4 1h4m-4 6h4m-4 1h4m-4 1h4m-4 0h4m-4 18h4m-4 5h4m-4 5h4m-4 0h4m-4 0h4m-4 28h4m-3-69h4m-4 4h4m-4 1h4m-4 0h4m-4 2h4m-4 8h4m-4 0h4m-4 1h4m-4 0h4m-4 1h4m-4 10h4m-4 1h4m-4 1h4m-4 1h4m-4 0h4m-4 3h4m-4 2h4m-4 2h4m-4 2h4m-4 3h4m-4 35h4m-3-90h4m-4 9h4m-4 0h4m-4 5h4m-4 7h4m-4 2h4m-4 4h4m-4 1h4m-4 2h4m-4 10h4m-4 0h4m-4 1h4m-4 2h4m-4 3h4m-4 1h4m-4 4h4m-4 2h4m-4 1h4m-4 0h4m-4 15h4m-3-73h4m-4 30h4m-4 0h4m-4 1h4m-4 0h4m-4 3h4m-4 10h4m-4 2h4m-4 1h4m-4 4h4m-4 10h4m-4 0h4m-4 1h4m-4 0h4m-4 9h4m-3-50h4m-4 1h4m-4 2h4m-4 0h4m-4 0h4m-4 0h4m-4 2h4m-4 5h4m-4 1h4m-4 12h4m-4 11h4m-4 0h4m-4 0h4m-4 1h4m-4 7h4m-3-45h4m-4 9h4m-4 1h4m-4 1h4m-4 1h4m-4 0h4m-4 1h4m-4 1h4m-4 1h4m-4 0h4m-4 2h4m-4 8h4m-4 1h4m-4 0h4m-4 2h4m-4 2h4m-4 4h4m-4 2h4m-4 0h4m-4 4h4m-4 2h4m-4 0h4m-4 2h4m-4 2h4m-3-44h4m-4 2h4m-4 7h4m-4 1h4m-4 1h4m-4 3h4m-4 8h4m-4 1h4m-4 2h4m-4 1h4m-4 5h4m-4 5h4m-4 1h4m-4 6h4m-3-75h4m-4 31h4m-4 0h4m-4 11h4m-4 0h4m-4 5h4m-4 0h4m-4 11h4m-4 3h4m-4 2h4m-4 1h4m-4 3h4m-4 5h4m-4 3h4m-4 1h4m-4 38h4m-3-86h4m-4 4h4m-4 1h4m-4 3h4m-4 4h4m-4 1h4m-4 0h4m-4 0h4m-4 1h4m-4 2h4m-4 1h4m-4 1h4m-4 0h4m-4 0h4m-4 1h4m-4 8h4m-4 1h4m-4 1h4m-4 0h4m-4 0h4m-4 1h4m-4 4h4m-4 12h4m-4 3h4m-3-47h4m-4 8h4m-4 2h4m-4 4h4m-4 0h4m-4 1h4m-4 9h4m-4 2h4m-4 1h4m-4 0h4m-4 1h4m-4 4h4m-4 3h4m-4 1h4m-4 0h4m-4 2h4m-4 1h4m-4 1h4m-4 2h4m-4 20h4m-3-92h4m-4 27h4m-4 6h4m-4 8h4m-4 0h4m-4 2h4m-4 4h4m-4 11h4m-4 2h4m-4 5h4m-4 2h4m-4 3h4m-4 58h4m-3-98h4m-4 2h4m-4 1h4m-4 2h4m-4 2h4m-4 0h4m-4 3h4m-4 3h4m-4 3h4m-4 0h4m-4 9h4m-4 2h4m-4 0h4m-4 2h4m-4 0h4m-4 4h4m-4 0h4m-4 3h4m-4 2h4m-4 0h4m-3-41h4m-4 0h4m-4 3h4m-4 7h4m-4 2h4m-4 2h4m-4 3h4m-4 2h4m-4 0h4m-4 0h4m-4 9h4m-4 1h4m-4 0h4m-4 0h4m-4 0h4m-4 2h4m-4 1h4m-4 0h4m-4 5h4m-4 4h4m-4 4h4m-4 1h4m-3-59h4m-4 18h4m-4 1h4m-4 5h4m-4 0h4m-4 1h4m-4 4h4m-4 3h4m-4 0h4m-4 0h4m-4 1h4m-4 8h4m-4 3h4m-4 2h4m-4 1h4m-4 1h4m-4 2h4m-4 3h4m-4 8h4m-4 51h4m-3-98h4m-4 1h4m-4 0h4m-4 2h4m-4 9h4m-4 2h4m-4 3h4m-4 0h4m-4 1h4m-4 1h4m-4 9h4m-4 5h4m-4 2h4m-4 2h4m-4 0h4m-4 4h4m-4 1h4m-4 0h4m-4 54h4m-3-92h4m-4 2h4m-4 6h4m-4 1h4m-4 2h4m-4 1h4m-4 1h4m-4 3h4m-4 0h4m-4 9h4m-4 2h4m-4 0h4m-4 2h4m-4 1h4m-3-80h4m-4 61h4m-4 3h4m-4 8h4m-4 3h4m-4 2h4m-4 0h4m-4 2h4m-4 1h4m-4 2h4m-4 3h4m-4 1h4m-4 1h4m-3-66h4m-4 32h4m-4 1h4m-4 0h4m-4 1h4m-4 6h4m-4 1h4m-4 1h4m-4 1h4m-4 7h4m-4 1h4m-4 1h4m-4 9h4m-4 0h4m-4 4h4m-4 0h4m-4 2h4m-4 3h4m-4 20h4m-4 9h4m-3-72h4m-4 4h4m-4 5h4m-4 1h4m-4 3h4m-4 2h4m-4 2h4m-4 0h4m-4 6h4m-4 1h4m-4 0h4m-4 7h4m-4 6h4m-4 5h4m-3-51h4m-4 12h4m-4 0h4m-4 1h4m-4 9h4m-4 0h4m-4 1h4m-4 2h4m-4 8h4m-4 4h4m-4 1h4m-4 4h4m-4 3h4m-4 2h4m-4 5h4m-3-37h4m-4 0h4m-4 1h4m-4 3h4m-4 0h4m-4 8h4m-4 1h4m-4 4h4m-4 1h4m-4 5h4m-4 2h4m-4 3h4m-4 33h4m-3-65h4m-4 1h4m-4 3h4m-4 0h4m-4 3h4m-4 3h4m-4 3h4m-4 0h4m-4 1h4m-4 1h4m-4 5h4m-4 2h4m-4 4h4m-4 6h4m-4 1h4m-4 2h4m-4 1h4m-4 36h4m-4 5h4m-4 11h4m-3-119h4m-4 35h4m-4 5h4m-4 2h4m-4 1h4m-4 5h4m-4 5h4m-4 0h4m-4 1h4m-4 6h4m-4 1h4m-4 0h4m-4 2h4m-4 2h4m-4 2h4m-4 1h4m-4 2h4m-3-65h4m-4 31h4m-4 5h4m-4 4h4m-4 2h4m-4 5h4m-4 2h4m-4 2h4m-4 0h4m-4 1h4m-4 1h4m-4 0h4m-4 0h4m-4 0h4m-4 3h4m-4 2h4m-4 2h4m-4 1h4m-4 4h4m-4 3h4m-3-38h4m-4 2h4m-4 1h4m-4 0h4m-4 1h4m-4 5h4m-4 2h4m-4 0h4m-4 0h4m-4 5h4m-4 0h4m-4 1h4m-4 4h4m-4 1h4m-4 1h4m-4 1h4m-4 3h4m-4 4h4m-4 1h4m-4 2h4m-4 16h4m-3-87h4m-4 39h4m-4 1h4m-4 2h4m-4 0h4m-4 2h4m-4 4h4m-4 1h4m-4 1h4m-4 3h4m-4 0h4m-4 1h4m-4 1h4m-4 11h4m-4 1h4m-4 7h4m-3-56h4m-4 15h4m-4 2h4m-4 0h4m-4 3h4m-4 1h4m-4 2h4m-4 2h4m-4 3h4m-4 0h4m-4 1h4m-4 3h4m-4 3h4m-4 2h4m-4 2h4m-4 10h4m-4 3h4m-3-76h4m-4 41h4m-4 1h4m-4 4h4m-4 1h4m-4 1h4m-4 8h4m-4 5h4m-4 1h4m-4 1h4m-4 0h4m-4 1h4m-4 0h4m-4 3h4m-4 4h4m-4 4h4m-3-51h4m-4 18h4m-4 5h4m-4 6h4m-4 6h4m-4 2h4m-4 2h4m-4 4h4m-4 2h4m-4 1h4m-4 0h4m-4 5h4m-4 29h4m-3-45h4m-4 3h4m-4 2h4m-4 1h4m-4 4h4m-4 0h4m-4 1h4m-4 1h4m-4 4h4m-4 20h4m-3-48h4m-4 2h4m-4 2h4m-4 1h4m-4 4h4m-4 3h4m-4 0h4m-4 1h4m-4 1h4m-4 1h4m-4 1h4m-4 1h4m-4 1h4m-4 1h4m-4 0h4m-4 1h4m-4 2h4m-4 1h4m-4 1h4m-4 1h4m-4 3h4m-4 1h4m-4 26h4m-4 7h4m-3-55h4m-4 5h4m-4 0h4m-4 3h4m-4 0h4m-4 3h4m-4 0h4m-4 9h4m-4 4h4m-4 48h4m-3-103h4m-4 23h4m-4 3h4m-4 1h4m-4 2h4m-4 2h4m-4 1h4m-4 3h4m-4 1h4m-4 0h4m-4 12h4m-4 6h4m-4 0h4m-4 0h4m-4 1h4m-3-34h4m-4 11h4m-4 1h4m-4 8h4m-4 5h4m-4 5h4m-4 2h4m-4 1h4m-3-39h4m-4 4h4m-4 2h4m-4 4h4m-4 1h4m-4 4h4m-4 6h4m-4 4h4m-4 0h4m-4 1h4m-4 1h4m-4 2h4m-4 8h4m-4 3h4m-4 0h4m-3-39h4m-4 0h4m-4 8h4m-4 5h4m-4 1h4m-4 10h4m-4 0h4m-4 2h4m-4 2h4m-4 2h4m-4 0h4m-4 1h4m-4 0h4m-4 3h4m-4 0h4m-3-28h4m-4 2h4m-4 1h4m-4 1h4m-4 3h4m-4 1h4m-4 0h4m-4 2h4m-4 1h4m-4 0h4m-4 3h4m-4 2h4m-4 1h4m-4 0h4m-4 1h4m-4 2h4m-4 0h4m-4 2h4m-4 2h4m-4 12h4m-3-40h4m-4 4h4m-4 8h4m-4 1h4m-4 2h4m-4 3h4m-4 5h4m-4 1h4m-4 3h4m-4 0h4m-4 3h4m-4 0h4m-4 3h4m-4 2h4m-4 1h4m-4 2h4m-4 1h4m-4 38h4m-3-71h4m-4 3h4m-4 1h4m-4 0h4m-4 4h4m-4 1h4m-4 2h4m-4 1h4m-4 1h4m-4 1h4m-4 4h4m-4 4h4m-4 5h4m-4 0h4m-3-37h4m-4 3h4m-4 7h4m-4 0h4m-4 2h4m-4 1h4m-4 0h4m-4 0h4m-4 1h4m-4 1h4m-4 0h4m-4 1h4m-4 10h4m-4 0h4m-4 1h4m-4 8h4m-4 6h4m-4 7h4m-3-41h4m-4 1h4m-4 4h4m-4 2h4m-4 4h4m-4 5h4m-4 0h4m-4 2h4m-4 1h4m-4 1h4m-4 9h4m-4 0h4m-4 3h4m-4 8h4m-3-35h4m-4 6h4m-4 1h4m-4 0h4m-4 2h4m-4 0h4m-4 3h4m-4 1h4m-4 1h4m-4 3h4m-4 7h4m-4 3h4m-3-56h4m-4 20h4m-4 3h4m-4 1h4m-4 12h4m-4 0h4m-4 0h4m-4 3h4m-4 4h4m-4 2h4m-4 1h4m-4 31h4m-4 13h4m-3-96h4m-4 25h4m-4 2h4m-4 0h4m-4 3h4m-4 2h4m-4 10h4m-4 3h4m-4 1h4m-4 3h4m-4 1h4m-4 1h4m-4 0h4m-4 1h4m-4 1h4m-4 0h4m-4 4h4m-4 1h4m-4 3h4m-4 2h4m-4 7h4m-3-46h4m-4 2h4m-4 4h4m-4 4h4m-4 3h4m-4 1h4m-4 4h4m-4 3h4m-4 2h4m-4 2h4m-4 1h4m-4 7h4m-4 1h4m-4 3h4m-4 0h4m-3-30h4m-4 4h4m-4 0h4m-4 1h4m-4 1h4m-4 0h4m-4 1h4m-4 4h4m-4 3h4m-4 4h4m-4 1h4m-4 1h4m-4 0h4m-4 6h4m-4 3h4m-4 0h4m-4 5h4m-4 19h4m-3-51h4m-4 2h4m-4 3h4m-4 7h4m-4 5h4m-3-44h4m-4 23h4m-4 0h4m-4 1h4m-4 1h4m-4 1h4m-4 1h4m-4 4h4m-4 8h4m-4 1h4m-4 3h4m-4 3h4m-4 6h4m-4 4h4m-4 38h4m-3-73h4m-4 2h4m-4 6h4m-4 4h4m-4 1h4m-4 0h4m-4 9h4m-4 0h4m-4 2h4m-4 2h4m-3-46h4m-4 16h4m-4 3h4m-4 1h4m-4 1h4m-4 4h4m-4 3h4m-4 2h4m-4 1h4m-4 0h4m-4 1h4m-4 10h4m-4 2h4m-4 1h4m-4 4h4m-4 1h4m-4 6h4m-3-60h4m-4 27h4m-4 2h4m-4 8h4m-4 0h4m-4 1h4m-4 0h4m-4 3h4m-4 1h4m-4 1h4m-4 7h4m-4 0h4m-4 1h4m-4 1h4m-4 2h4m-4 1h4m-4 4h4m-4 5h4m-3-43h4m-4 1h4m-4 5h4m-4 1h4m-4 8h4m-4 4h4m-4 3h4m-4 0h4m-4 5h4m-4 0h4m-4 1h4m-4 4h4m-4 17h4m-3-43h4m-4 1h4m-4 1h4m-4 0h4m-4 3h4m-4 3h4m-4 1h4m-4 2h4m-4 1h4m-4 7h4m-4 1h4m-4 3h4m-4 4h4m-4 2h4m-4 1h4m-4 10h4m-4 7h4m-3-73h4m-4 30h4m-4 2h4m-4 1h4m-4 1h4m-4 3h4m-4 0h4m-4 1h4m-4 5h4m-4 0h4m-4 2h4m-4 3h4m-4 7h4m-4 23h4m-3-64h4m-4 9h4m-4 6h4m-4 1h4m-4 5h4m-4 0h4m-4 1h4m-4 2h4m-4 6h4m-4 5h4m-4 2h4m-3-24h4m-4 1h4m-4 3h4m-4 1h4m-4 5h4m-4 5h4m-4 4h4m-4 0h4m-4 0h4m-4 1h4m-4 2h4m-4 1h4m-4 1h4m-4 1h4m-4 0h4m-3-31h4m-4 8h4m-4 0h4m-4 2h4m-4 9h4m-4 1h4m-4 5h4m-4 1h4m-4 1h4m-4 2h4m-3-23h4m-4 10h4m-4 1h4m-4 1h4m-4 4h4m-4 1h4m-4 5h4m-4 1h4m-4 1h4m-3-25h4m-4 1h4m-4 9h4m-4 2h4m-4 0h4m-4 6h4m-4 0h4m-4 1h4m-4 1h4m-4 0h4m-4 6h4m-4 2h4m-4 20h4m-4 17h4m-3-65h4m-4 4h4m-4 1h4m-4 0h4m-4 1h4m-4 5h4m-4 4h4m-4 1h4m-4 0h4m-4 0h4m-4 1h4m-4 2h4m-4 3h4m-4 6h4m-3-56h4m-4 39h4m-4 6h4m-4 4h4m-4 5h4m-4 6h4m-3-26h4m-4 3h4m-4 0h4m-4 1h4m-4 1h4m-4 1h4m-4 0h4m-4 3h4m-4 0h4m-4 1h4m-4 0h4m-4 2h4m-4 7h4m-3-53h4m-4 30h4m-4 13h4m-4 6h4m-4 1h4m-4 0h4m-4 1h4m-4 1h4m-3-46h4m-4 27h4m-4 1h4m-3-2h4m-4 4h4m-4 1h4m-4 1h4m-4 0h4m-4 1h4m-4 1h4m-4 4h4m-4 1h4m-4 2h4m-4 1h4m-4 5h4m-4 11h4m-3-31h4m-4 1h4m-4 1h4m-4 1h4m-4 0h4m-4 6h4m-3-11h4m-4 8h4m-4 0h4m-4 1h4m-4 3h4m-4 0h4m-4 0h4m-4 1h4m-4 1h4m-4 3h4m-4 3h4m-4 1h4m-3-20h4m-4 5h4m-4 2h4m-4 1h4m-4 5h4m-4 1h4m-4 1h4m-4 1h4m-3-8h4m-4 3h4m-4 2h4m-4 0h4m-4 1h4m-4 0h4m-4 1h4m-4 0h4m-4 2h4m-4 2h4m-4 1h4m-3-14h4m-4 2h4m-4 3h4m-4 0h4m-4 0h4m-4 0h4m-4 2h4m-4 3h4m-4 3h4m-4 2h4m-4 9h4m-4 29h4m-3-52h4m-4 0h4m-4 11h4m-4 1h4m-4 19h4m-4 1h4m-4 9h4m-3-39h4m-4 2h4m-4 1h4m-4 6h4m-4 13h4m-3-28h4m-4 1h4m-4 2h4m-4 7h4m-4 0h4m-4 4h4m-3-14h4m-4 2h4m-4 0h4m-4 3h4m-4 5h4m-4 5h4m-3-17h4m-4 3h4m-4 0h4m-4 0h4m-4 1h4m-4 1h4m-4 0h4m-4 1h4m-4 1h4m-4 3h4m-4 0h4m-3-11h4m-4 6h4m-4 1h4m-4 0h4m-4 1h4m-4 0h4m-4 5h4m-4 0h4m-4 0h4m-4 1h4m-4 1h4m-4 1h4m-4 0h4m-4 1h4m-3-14h4m-4 5h4m-4 10h4m-3-15h4m-4 1h4m-4 4h4m-4 3h4m-4 2h4m-3-28h4m-4 22h4m-4 4h4m-4 2h4m-4 1h4m-4 0h4m-3-34h4m-4 24h4m-4 1h4m-4 1h4m-4 1h4m-4 3h4m-4 2h4m-4 0h4m-4 2h4m-4 1h4m-3-34h4m-4 1h4m-4 22h4m-4 7h4m-4 2h4m-4 2h4m-4 22h4m-3-34h4m-4 2h4m-4 1h4m-4 1h4m-4 1h4m-4 0h4m-4 1h4m-4 7h4m-3-33h4m-4 7h4m-4 16h4m-4 1h4m-4 4h4m-4 32h4m-3-78h4m-4 38h4m-4 5h4m-4 1h4m-4 5h4m-4 0h4m-4 1h4m-3-9h4m-4 1h4m-4 4h4m-4 2h4m-3-6h4m-4 7h4m-3-9h4m-4 2h4m-4 1h4m-4 3h4m-4 1h4m-4 2h4m-4 2h4m-4 7h4m-4 28h4m-3-47h4m-4 0h4m-4 7h4m-4 1h4m-4 1h4m-4 30h4m-3-35h4m-4 33h4m-3-38h4m-4 1h4m-4 1h4m-4 1h4m-4 0h4m-4 6h4m-4 2h4m-4 1h4m-3-10h4m-4 1h4m-4 1h4m-4 4h4m-4 21h4m-4 14h4m-3-31h4m-4 6h4m-4 21h4m-3-47h4m-4 10h4m-4 6h4m-4 29h4m-3-34h4m-4 1h4m-4 3h4m-4 3h4m-4 0h4m-4 1h4m-4 36h4m-3-43h4m-4 0h4m-4 0h4m-4 4h4m-4 1h4m-4 1h4m-4 7h4m-3-14h4m-4 3h4m-4 2h4m-4 1h4m-4 17h4m-2-25h4m-4 5h4m-4 2h4m-3-4h4m-4 1h4m-4 3h4m-4 2h4m-3-7h4m-4 0h4m-4 1h4m-3 0h4m-4 1h4m-4 0h4m-4 4h4m-3-4h4m-4 3h4m-3-11h4m-4 7h4m-3 0h4m-4 3h4m-4 1h4m-4 0h4m-4 1h4m-4 1h4m-3-6h4m-4 2h4m-4 2h4m-4 0h4m-4 2h4m-3-14h4m-4 11h4m-4 2h4m-3-38h4m-4 23h4m-4 11h4m-4 0h4m-4 0h4m-4 2h4m-4 2h4m-3-5h4m-4 5h4m-3-11h4m-4 5h4m-4 1h4m-4 3h4m-4 0h4m-4 1h4m-4 0h4m-4 13h4m-3-27h4m-4 10h4m-4 1h4m-3-1h4m-2 3h4m-4 1h4m-4 0h4m-4 1h4m-3-22h4m-4 21h4m-4 29h4m-3-32h4m-4 2h4m-4 2h4" stroke="#c80000" stroke-opacity="0.8" stroke-width="3" fill="none"/>
<line x1="380" y1="267.15" x2="488" y2="267.15" stroke="#8fb2e6" stroke-width="0.7"/>
<line x1="380" y1="282.05" x2="488" y2="282.05" stroke="#8fb2e6" stroke-width="0.7"/>
<line x1="380" y1="274.6" x2="488" y2="274.6" stroke="#ec9a9a" stroke-width="1.3"/>
<rect x="381.5" y="274.3" width="0.9" height="0.9" fill="#c03030"/>
<rect x="384" y="275" width="0.9" height="0.9" fill="#c03030"/>
<rect x="386.5" y="274.2" width="0.9" height="0.9" fill="#c03030"/>
<rect x="389" y="274.9" width="0.9" height="0.9" fill="#c03030"/>
<rect x="391.5" y="274" width="0.9" height="0.9" fill="#c03030"/>
<rect x="380" y="226.1" width="108" height="97" fill="none" stroke="#111" stroke-width="1.05"/>
<line x1="377.1" y1="229.9" x2="380" y2="229.9" stroke="#111" stroke-width="0.8"/>
<text x="373.8" y="229.9" font-size="5.5" fill="#333" text-anchor="middle" transform="rotate(-90 373.8 229.9)" stroke="#333" stroke-width="0.14">6</text>
<line x1="377.1" y1="244.8" x2="380" y2="244.8" stroke="#111" stroke-width="0.8"/>
<text x="373.8" y="244.8" font-size="5.5" fill="#333" text-anchor="middle" transform="rotate(-90 373.8 244.8)" stroke="#333" stroke-width="0.14">4</text>
<line x1="377.1" y1="259.7" x2="380" y2="259.7" stroke="#111" stroke-width="0.8"/>
<text x="373.8" y="259.7" font-size="5.5" fill="#333" text-anchor="middle" transform="rotate(-90 373.8 259.7)" stroke="#333" stroke-width="0.14">2</text>
<line x1="377.1" y1="274.6" x2="380" y2="274.6" stroke="#111" stroke-width="0.8"/>
<text x="373.8" y="274.6" font-size="5.5" fill="#333" text-anchor="middle" transform="rotate(-90 373.8 274.6)" stroke="#333" stroke-width="0.14">0</text>
<line x1="377.1" y1="289.5" x2="380" y2="289.5" stroke="#111" stroke-width="0.8"/>
<text x="373.8" y="289.5" font-size="5.5" fill="#333" text-anchor="middle" transform="rotate(-90 373.8 289.5)" stroke="#333" stroke-width="0.14">-2</text>
<line x1="377.1" y1="304.4" x2="380" y2="304.4" stroke="#111" stroke-width="0.8"/>
<text x="373.8" y="304.4" font-size="5.5" fill="#333" text-anchor="middle" transform="rotate(-90 373.8 304.4)" stroke="#333" stroke-width="0.14">-4</text>
<line x1="377.1" y1="319.3" x2="380" y2="319.3" stroke="#111" stroke-width="0.8"/>
<text x="373.8" y="319.3" font-size="5.5" fill="#333" text-anchor="middle" transform="rotate(-90 373.8 319.3)" stroke="#333" stroke-width="0.14">-6</text>
<line x1="381" y1="323.1" x2="381" y2="326.3" stroke="#111" stroke-width="0.8"/>
<text x="381" y="334.9" font-size="5.4" fill="#333" text-anchor="middle" stroke="#333" stroke-width="0.14">1e−01</text>
<line x1="412.2" y1="323.1" x2="412.2" y2="326.3" stroke="#111" stroke-width="0.8"/>
<text x="412.2" y="334.9" font-size="5.4" fill="#333" text-anchor="middle" stroke="#333" stroke-width="0.14">1e+01</text>
<line x1="443.4" y1="323.1" x2="443.4" y2="326.3" stroke="#111" stroke-width="0.8"/>
<text x="443.4" y="334.9" font-size="5.4" fill="#333" text-anchor="middle" stroke="#333" stroke-width="0.14">1e+03</text>
<line x1="474.6" y1="323.1" x2="474.6" y2="326.3" stroke="#111" stroke-width="0.8"/>
<text x="474.6" y="334.9" font-size="5.4" fill="#333" text-anchor="middle" stroke="#333" stroke-width="0.14">1e+05</text>
<text x="434" y="345.4" font-size="7.4" text-anchor="middle">Mean of normalized counts</text>
<text x="363.4" y="275.1" font-size="7.4" text-anchor="middle" transform="rotate(-90 363.4 275.1)">log fold change</text>
<text x="386.2" y="234.8" font-size="7.2" font-weight="bold"><tspan fill="#e8b030" font-style="italic">qmc551</tspan><tspan fill="#e8b030"> hom </tspan><tspan fill="#e8b030" font-style="italic">gfi1b</tspan><tspan fill="#e8b030"> MO</tspan><tspan fill="#222"> vs</tspan></text>
<text x="386.2" y="243.2" font-size="7.2" font-weight="bold"><tspan fill="#5a9e35" font-style="italic">qmc551</tspan><tspan fill="#5a9e35"> hom</tspan></text>
<text x="9" y="374" font-size="11.8" fill="#111">E</text>
<g shape-rendering="crispEdges">
<line x1="7.7" y1="380.5" x2="7.7" y2="484.8" stroke="#262626" stroke-width="0.9"/>
<line x1="76.3" y1="380.5" x2="76.3" y2="484.8" stroke="#262626" stroke-width="0.9"/>
<line x1="115.2" y1="380.5" x2="115.2" y2="484.8" stroke="#262626" stroke-width="0.9"/>
<line x1="143.5" y1="380.5" x2="143.5" y2="484.8" stroke="#262626" stroke-width="0.9"/>
<line x1="199.2" y1="380.5" x2="199.2" y2="484.8" stroke="#262626" stroke-width="0.9"/>
<line x1="7.7" y1="380.5" x2="199.2" y2="380.5" stroke="#262626" stroke-width="0.9"/>
<line x1="7.7" y1="388.7" x2="199.2" y2="388.7" stroke="#262626" stroke-width="0.9"/>
<line x1="7.7" y1="395.11" x2="199.2" y2="395.11" stroke="#262626" stroke-width="0.9"/>
<line x1="7.7" y1="401.51" x2="199.2" y2="401.51" stroke="#262626" stroke-width="0.9"/>
<line x1="7.7" y1="407.92" x2="199.2" y2="407.92" stroke="#262626" stroke-width="0.9"/>
<line x1="7.7" y1="414.33" x2="199.2" y2="414.33" stroke="#262626" stroke-width="0.9"/>
<line x1="7.7" y1="420.73" x2="199.2" y2="420.73" stroke="#262626" stroke-width="0.9"/>
<line x1="7.7" y1="427.14" x2="199.2" y2="427.14" stroke="#262626" stroke-width="0.9"/>
<line x1="7.7" y1="433.55" x2="199.2" y2="433.55" stroke="#262626" stroke-width="0.9"/>
<line x1="7.7" y1="439.95" x2="199.2" y2="439.95" stroke="#262626" stroke-width="0.9"/>
<line x1="7.7" y1="446.36" x2="199.2" y2="446.36" stroke="#262626" stroke-width="0.9"/>
<line x1="7.7" y1="452.77" x2="199.2" y2="452.77" stroke="#262626" stroke-width="0.9"/>
<line x1="7.7" y1="459.17" x2="199.2" y2="459.17" stroke="#262626" stroke-width="0.9"/>
<line x1="7.7" y1="465.58" x2="199.2" y2="465.58" stroke="#262626" stroke-width="0.9"/>
<line x1="7.7" y1="471.99" x2="199.2" y2="471.99" stroke="#262626" stroke-width="0.9"/>
<line x1="7.7" y1="478.39" x2="199.2" y2="478.39" stroke="#262626" stroke-width="0.9"/>
<line x1="7.7" y1="484.8" x2="199.2" y2="484.8" stroke="#262626" stroke-width="0.9"/>
</g>
<text x="42" y="386.4" font-size="4.9" text-anchor="middle" stroke="none">GeneID</text>
<text x="95.75" y="386.4" font-size="4.9" text-anchor="middle" stroke="none">GeneName</text>
<text x="129.35" y="386.4" font-size="4.9" text-anchor="middle" stroke="none">Het</text>
<text x="171.35" y="386.4" font-size="4.9" text-anchor="middle" stroke="none">log2(HomMO/Het)</text>
<text x="42" y="393.56" font-size="4.9" fill="#2a2a2a" text-anchor="middle" textLength="54" lengthAdjust="spacingAndGlyphs" stroke="none">ENSDARG00000012881</text>
<text x="95.75" y="393.56" font-size="4.9" fill="#2a2a2a" text-anchor="middle" stroke="none">slc4a1a</text>
<text x="129.35" y="393.56" font-size="4.9" fill="#2a2a2a" text-anchor="middle" stroke="none">158.36</text>
<text x="171.35" y="393.56" font-size="4.9" fill="#2a2a2a" text-anchor="middle" stroke="none">−6.96</text>
<text x="42" y="399.96" font-size="4.9" fill="#2a2a2a" text-anchor="middle" textLength="54" lengthAdjust="spacingAndGlyphs" stroke="none">ENSDARG00000087390</text>
<text x="95.75" y="399.96" font-size="4.9" fill="#2a2a2a" text-anchor="middle" stroke="none">hbbe1.3</text>
<text x="129.35" y="399.96" font-size="4.9" fill="#2a2a2a" text-anchor="middle" stroke="none">14579.52</text>
<text x="171.35" y="399.96" font-size="4.9" fill="#2a2a2a" text-anchor="middle" stroke="none">−4.23</text>
<text x="42" y="406.37" font-size="4.9" fill="#2a2a2a" text-anchor="middle" textLength="54" lengthAdjust="spacingAndGlyphs" stroke="none">ENSDARG00000032469</text>
<text x="95.75" y="406.37" font-size="4.9" fill="#2a2a2a" text-anchor="middle" stroke="none">ampd3b</text>
<text x="129.35" y="406.37" font-size="4.9" fill="#2a2a2a" text-anchor="middle" stroke="none">67.30</text>
<text x="171.35" y="406.37" font-size="4.9" fill="#2a2a2a" text-anchor="middle" stroke="none">−4.19</text>
<text x="42" y="412.78" font-size="4.9" fill="#2a2a2a" text-anchor="middle" textLength="54" lengthAdjust="spacingAndGlyphs" stroke="none">ENSDARG00000055991</text>
<text x="95.75" y="412.78" font-size="4.9" fill="#2a2a2a" text-anchor="middle" stroke="none">hmbsb</text>
<text x="129.35" y="412.78" font-size="4.9" fill="#2a2a2a" text-anchor="middle" stroke="none">701.54</text>
<text x="171.35" y="412.78" font-size="4.9" fill="#2a2a2a" text-anchor="middle" stroke="none">−3.81</text>
<text x="42" y="419.18" font-size="4.9" fill="#2a2a2a" text-anchor="middle" textLength="54" lengthAdjust="spacingAndGlyphs" stroke="none">ENSDARG00000003754</text>
<text x="95.75" y="419.18" font-size="4.9" fill="#2a2a2a" text-anchor="middle" stroke="none">tspan2</text>
<text x="129.35" y="419.18" font-size="4.9" fill="#2a2a2a" text-anchor="middle" stroke="none">128.90</text>
<text x="171.35" y="419.18" font-size="4.9" fill="#2a2a2a" text-anchor="middle" stroke="none">−3.79</text>
<text x="42" y="425.59" font-size="4.9" fill="#2a2a2a" text-anchor="middle" textLength="54" lengthAdjust="spacingAndGlyphs" stroke="none">ENSDARG00000029019</text>
<text x="95.75" y="425.59" font-size="4.9" fill="#2a2a2a" text-anchor="middle" stroke="none">epb41b</text>
<text x="129.35" y="425.59" font-size="4.9" fill="#2a2a2a" text-anchor="middle" stroke="none">70.37</text>
<text x="171.35" y="425.59" font-size="4.9" fill="#2a2a2a" text-anchor="middle" stroke="none">−3.68</text>
<text x="42" y="432" font-size="4.9" fill="#2a2a2a" text-anchor="middle" textLength="54" lengthAdjust="spacingAndGlyphs" stroke="none">ENSDARG00000002194</text>
<text x="95.75" y="432" font-size="4.9" fill="#2a2a2a" text-anchor="middle" stroke="none">rhd</text>
<text x="129.35" y="432" font-size="4.9" fill="#2a2a2a" text-anchor="middle" stroke="none">137.52</text>
<text x="171.35" y="432" font-size="4.9" fill="#2a2a2a" text-anchor="middle" stroke="none">−3.68</text>
<text x="42" y="438.4" font-size="4.9" fill="#2a2a2a" text-anchor="middle" textLength="54" lengthAdjust="spacingAndGlyphs" stroke="none">ENSDARG00000089475</text>
<text x="95.75" y="438.4" font-size="4.9" fill="#2a2a2a" text-anchor="middle" stroke="none">hbae1.1</text>
<text x="129.35" y="438.4" font-size="4.9" fill="#2a2a2a" text-anchor="middle" stroke="none">50932.95</text>
<text x="171.35" y="438.4" font-size="4.9" fill="#2a2a2a" text-anchor="middle" stroke="none">−3.65</text>
<text x="42" y="444.81" font-size="4.9" fill="#2a2a2a" text-anchor="middle" textLength="54" lengthAdjust="spacingAndGlyphs" stroke="none">ENSDARG00000075180</text>
<text x="95.75" y="444.81" font-size="4.9" fill="#2a2a2a" text-anchor="middle" stroke="none">tmem14ca</text>
<text x="129.35" y="444.81" font-size="4.9" fill="#2a2a2a" text-anchor="middle" stroke="none">1251.94</text>
<text x="171.35" y="444.81" font-size="4.9" fill="#2a2a2a" text-anchor="middle" stroke="none">−3.62</text>
<text x="42" y="451.22" font-size="4.9" fill="#2a2a2a" text-anchor="middle" textLength="54" lengthAdjust="spacingAndGlyphs" stroke="none">ENSDARG00000044125</text>
<text x="95.75" y="451.22" font-size="4.9" fill="#2a2a2a" text-anchor="middle" stroke="none">txn</text>
<text x="129.35" y="451.22" font-size="4.9" fill="#2a2a2a" text-anchor="middle" stroke="none">116.15</text>
<text x="171.35" y="451.22" font-size="4.9" fill="#2a2a2a" text-anchor="middle" stroke="none">−3.58</text>
<text x="42" y="457.62" font-size="4.9" fill="#2a2a2a" text-anchor="middle" textLength="54" lengthAdjust="spacingAndGlyphs" stroke="none">ENSDARG00000090996</text>
<text x="95.75" y="457.62" font-size="4.9" fill="#2a2a2a" text-anchor="middle" stroke="none">parm1</text>
<text x="129.35" y="457.62" font-size="4.9" fill="#2a2a2a" text-anchor="middle" stroke="none">80.34</text>
<text x="171.35" y="457.62" font-size="4.9" fill="#2a2a2a" text-anchor="middle" stroke="none">−3.58</text>
<text x="42" y="464.03" font-size="4.9" fill="#2a2a2a" text-anchor="middle" textLength="54" lengthAdjust="spacingAndGlyphs" stroke="none">ENSDARG00000057206</text>
<text x="95.75" y="464.03" font-size="4.9" fill="#2a2a2a" text-anchor="middle" stroke="none">nmt1b</text>
<text x="129.35" y="464.03" font-size="4.9" fill="#2a2a2a" text-anchor="middle" stroke="none">667.08</text>
<text x="171.35" y="464.03" font-size="4.9" fill="#2a2a2a" text-anchor="middle" stroke="none">−3.33</text>
<text x="42" y="470.44" font-size="4.9" fill="#2a2a2a" text-anchor="middle" textLength="54" lengthAdjust="spacingAndGlyphs" stroke="none">ENSDARG00000088330</text>
<text x="95.75" y="470.44" font-size="4.9" fill="#2a2a2a" text-anchor="middle" stroke="none">hbae1.3</text>
<text x="129.35" y="470.44" font-size="4.9" fill="#2a2a2a" text-anchor="middle" stroke="none">227.85</text>
<text x="171.35" y="470.44" font-size="4.9" fill="#2a2a2a" text-anchor="middle" stroke="none">−3.33</text>
<text x="42" y="476.84" font-size="4.9" fill="#2a2a2a" text-anchor="middle" textLength="54" lengthAdjust="spacingAndGlyphs" stroke="none">ENSDARG00000008840</text>
<text x="95.75" y="476.84" font-size="4.9" fill="#2a2a2a" text-anchor="middle" stroke="none">hmbsa</text>
<text x="129.35" y="476.84" font-size="4.9" fill="#2a2a2a" text-anchor="middle" stroke="none">650.64</text>
<text x="171.35" y="476.84" font-size="4.9" fill="#2a2a2a" text-anchor="middle" stroke="none">−3.31</text>
<text x="42" y="483.25" font-size="4.9" fill="#2a2a2a" text-anchor="middle" textLength="54" lengthAdjust="spacingAndGlyphs" stroke="none">ENSDARG00000096829</text>
<text x="95.75" y="483.25" font-size="4.9" fill="#2a2a2a" text-anchor="middle" stroke="none">blvrb</text>
<text x="129.35" y="483.25" font-size="4.9" fill="#2a2a2a" text-anchor="middle" stroke="none">68.79</text>
<text x="171.35" y="483.25" font-size="4.9" fill="#2a2a2a" text-anchor="middle" stroke="none">−3.25</text>
<text x="210.4" y="373.5" font-size="11.8" fill="#111">F</text>
<rect x="243.9" y="422.3" width="3.35" height="49.3" fill="#2c4c8c"/>
<rect x="243.9" y="403.4" width="3.35" height="12.3" fill="#2c4c8c"/>
<rect x="247.2" y="422.3" width="3.35" height="49.3" fill="#b0052b"/>
<rect x="247.2" y="407.61" width="3.35" height="8.09" fill="#b0052b"/>
<rect x="250.5" y="422.3" width="3.35" height="49.3" fill="#68b13f"/>
<rect x="250.5" y="415" width="3.35" height="0.7" fill="#68b13f"/>
<rect x="253.8" y="461" width="3.35" height="10.6" fill="#f09418"/>
<rect x="257.1" y="422.3" width="3.35" height="49.3" fill="#2c4c8c"/>
<rect x="257.1" y="408.42" width="3.35" height="7.28" fill="#2c4c8c"/>
<rect x="260.4" y="422.3" width="3.35" height="49.3" fill="#b0052b"/>
<rect x="260.4" y="411.52" width="3.35" height="4.18" fill="#b0052b"/>
<rect x="263.7" y="422.3" width="3.35" height="49.3" fill="#68b13f"/>
<rect x="263.7" y="413.81" width="3.35" height="1.89" fill="#68b13f"/>
<rect x="267" y="448.18" width="3.35" height="23.42" fill="#f09418"/>
<rect x="270.3" y="434.62" width="3.35" height="36.98" fill="#2c4c8c"/>
<rect x="273.6" y="444.49" width="3.35" height="27.12" fill="#b0052b"/>
<rect x="276.9" y="457.06" width="3.35" height="14.54" fill="#68b13f"/>
<rect x="280.2" y="469.63" width="3.35" height="1.97" fill="#f09418"/>
<rect x="283.5" y="450.4" width="3.35" height="21.2" fill="#2c4c8c"/>
<rect x="286.8" y="453.85" width="3.35" height="17.75" fill="#b0052b"/>
<rect x="290.1" y="456.07" width="3.35" height="15.53" fill="#68b13f"/>
<rect x="293.4" y="464.21" width="3.35" height="7.39" fill="#f09418"/>
<rect x="296.7" y="451.63" width="3.35" height="19.97" fill="#2c4c8c"/>
<rect x="300" y="454.59" width="3.35" height="17.01" fill="#b0052b"/>
<rect x="303.3" y="460.26" width="3.35" height="11.34" fill="#68b13f"/>
<rect x="306.6" y="467.16" width="3.35" height="4.44" fill="#f09418"/>
<rect x="309.9" y="458.04" width="3.35" height="13.56" fill="#2c4c8c"/>
<rect x="313.2" y="459.89" width="3.35" height="11.71" fill="#b0052b"/>
<rect x="316.5" y="463.47" width="3.35" height="8.13" fill="#68b13f"/>
<rect x="319.8" y="470.22" width="3.35" height="1.38" fill="#f09418"/>
<rect x="323.1" y="462.6" width="3.35" height="9" fill="#2c4c8c"/>
<rect x="326.4" y="464.7" width="3.35" height="6.9" fill="#b0052b"/>
<rect x="329.7" y="463.47" width="3.35" height="8.13" fill="#68b13f"/>
<rect x="333" y="470.12" width="3.35" height="1.48" fill="#f09418"/>
<rect x="336.3" y="467.66" width="3.35" height="3.94" fill="#2c4c8c"/>
<rect x="339.6" y="466.79" width="3.35" height="4.81" fill="#b0052b"/>
<rect x="342.9" y="467.9" width="3.35" height="3.7" fill="#68b13f"/>
<rect x="346.2" y="469.38" width="3.35" height="2.22" fill="#f09418"/>
<path d="M244.65 402.2h1.8v.5h-.6v.9h-.6v-.9h-.6zM247.95 406.41h1.8v.5h-.6v.9h-.6v-.9h-.6zM251.25 413.8h1.8v.5h-.6v.9h-.6v-.9h-.6zM254.55 459.8h1.8v.5h-.6v.9h-.6v-.9h-.6zM257.85 407.22h1.8v.5h-.6v.9h-.6v-.9h-.6zM261.15 410.32h1.8v.5h-.6v.9h-.6v-.9h-.6zM264.45 412.61h1.8v.5h-.6v.9h-.6v-.9h-.6zM267.75 446.98h1.8v.5h-.6v.9h-.6v-.9h-.6zM271.05 433.43h1.8v.5h-.6v.9h-.6v-.9h-.6zM274.35 443.29h1.8v.5h-.6v.9h-.6v-.9h-.6zM277.65 455.86h1.8v.5h-.6v.9h-.6v-.9h-.6zM280.95 468.43h1.8v.5h-.6v.9h-.6v-.9h-.6zM284.25 449.2h1.8v.5h-.6v.9h-.6v-.9h-.6zM287.55 452.65h1.8v.5h-.6v.9h-.6v-.9h-.6zM290.85 454.87h1.8v.5h-.6v.9h-.6v-.9h-.6zM294.15 463.01h1.8v.5h-.6v.9h-.6v-.9h-.6zM297.45 450.43h1.8v.5h-.6v.9h-.6v-.9h-.6zM300.75 453.39h1.8v.5h-.6v.9h-.6v-.9h-.6zM304.05 459.06h1.8v.5h-.6v.9h-.6v-.9h-.6zM307.35 465.96h1.8v.5h-.6v.9h-.6v-.9h-.6zM310.65 456.84h1.8v.5h-.6v.9h-.6v-.9h-.6zM313.95 458.69h1.8v.5h-.6v.9h-.6v-.9h-.6zM317.25 462.27h1.8v.5h-.6v.9h-.6v-.9h-.6zM320.55 469.02h1.8v.5h-.6v.9h-.6v-.9h-.6zM323.85 461.4h1.8v.5h-.6v.9h-.6v-.9h-.6zM327.15 463.5h1.8v.5h-.6v.9h-.6v-.9h-.6zM330.45 462.27h1.8v.5h-.6v.9h-.6v-.9h-.6zM333.75 468.92h1.8v.5h-.6v.9h-.6v-.9h-.6zM337.05 466.46h1.8v.5h-.6v.9h-.6v-.9h-.6zM340.35 465.59h1.8v.5h-.6v.9h-.6v-.9h-.6zM343.65 466.7h1.8v.5h-.6v.9h-.6v-.9h-.6zM346.95 468.18h1.8v.5h-.6v.9h-.6v-.9h-.6z" fill="#111"/>
<line x1="243.4" y1="397" x2="243.4" y2="416.7" stroke="#0a0a0a" stroke-width="1.3"/>
<line x1="243.4" y1="422.1" x2="243.4" y2="472.2" stroke="#0a0a0a" stroke-width="1.3"/>
<line x1="242.75" y1="471.6" x2="350.2" y2="471.6" stroke="#0a0a0a" stroke-width="1.3"/>
<line x1="241.1" y1="414.5" x2="245.7" y2="418.9" stroke="#0a0a0a" stroke-width="1"/>
<line x1="240.7" y1="419.9" x2="245.3" y2="424.3" stroke="#0a0a0a" stroke-width="1"/>
<line x1="240.2" y1="400.4" x2="243.4" y2="400.4" stroke="#0a0a0a" stroke-width="0.8"/>
<text x="237.4" y="402.3" font-size="5.4" fill="#2a2a2a" text-anchor="end" stroke="#2a2a2a" stroke-width="0.14">60000</text>
<line x1="240.2" y1="408.8" x2="243.4" y2="408.8" stroke="#0a0a0a" stroke-width="0.8"/>
<text x="237.4" y="410.7" font-size="5.4" fill="#2a2a2a" text-anchor="end" stroke="#2a2a2a" stroke-width="0.14">40000</text>
<line x1="240.2" y1="415.7" x2="243.4" y2="415.7" stroke="#0a0a0a" stroke-width="0.8"/>
<text x="237.4" y="417.6" font-size="5.4" fill="#2a2a2a" text-anchor="end" stroke="#2a2a2a" stroke-width="0.14">20000</text>
<line x1="240.2" y1="422.3" x2="243.4" y2="422.3" stroke="#0a0a0a" stroke-width="0.8"/>
<text x="237.4" y="424.2" font-size="5.4" fill="#2a2a2a" text-anchor="end" stroke="#2a2a2a" stroke-width="0.14">20000</text>
<line x1="240.2" y1="434.8" x2="243.4" y2="434.8" stroke="#0a0a0a" stroke-width="0.8"/>
<text x="237.4" y="436.7" font-size="5.4" fill="#2a2a2a" text-anchor="end" stroke="#2a2a2a" stroke-width="0.14">15000</text>
<line x1="240.2" y1="447.2" x2="243.4" y2="447.2" stroke="#0a0a0a" stroke-width="0.8"/>
<text x="237.4" y="449.1" font-size="5.4" fill="#2a2a2a" text-anchor="end" stroke="#2a2a2a" stroke-width="0.14">10000</text>
<line x1="240.2" y1="459.4" x2="243.4" y2="459.4" stroke="#0a0a0a" stroke-width="0.8"/>
<text x="237.4" y="461.3" font-size="5.4" fill="#2a2a2a" text-anchor="end" stroke="#2a2a2a" stroke-width="0.14">5000</text>
<line x1="240.2" y1="471.6" x2="243.4" y2="471.6" stroke="#0a0a0a" stroke-width="0.8"/>
<text x="237.4" y="473.5" font-size="5.4" fill="#2a2a2a" text-anchor="end" stroke="#2a2a2a" stroke-width="0.14">0</text>
<line x1="245.3" y1="471.6" x2="245.3" y2="474.4" stroke="#0a0a0a" stroke-width="0.8"/>
<text x="248.3" y="480" font-size="5.4" fill="#111" text-anchor="end" transform="rotate(-45 248.3 480)" stroke="#111" stroke-width="0.18">hbae1.1</text>
<line x1="258.5" y1="471.6" x2="258.5" y2="474.4" stroke="#0a0a0a" stroke-width="0.8"/>
<text x="261.5" y="480" font-size="5.4" fill="#111" text-anchor="end" transform="rotate(-45 261.5 480)" stroke="#111" stroke-width="0.18">hbbe3</text>
<line x1="271.7" y1="471.6" x2="271.7" y2="474.4" stroke="#0a0a0a" stroke-width="0.8"/>
<text x="274.7" y="480" font-size="5.4" fill="#111" text-anchor="end" transform="rotate(-45 274.7 480)" stroke="#111" stroke-width="0.18">hbbe1.3</text>
<line x1="284.9" y1="471.6" x2="284.9" y2="474.4" stroke="#0a0a0a" stroke-width="0.8"/>
<text x="287.9" y="480" font-size="5.4" fill="#111" text-anchor="end" transform="rotate(-45 287.9 480)" stroke="#111" stroke-width="0.18">hbbe1.1</text>
<line x1="298.1" y1="471.6" x2="298.1" y2="474.4" stroke="#0a0a0a" stroke-width="0.8"/>
<text x="301.1" y="480" font-size="5.4" fill="#111" text-anchor="end" transform="rotate(-45 301.1 480)" stroke="#111" stroke-width="0.18">hbae3</text>
<line x1="311.3" y1="471.6" x2="311.3" y2="474.4" stroke="#0a0a0a" stroke-width="0.8"/>
<text x="314.3" y="480" font-size="5.4" fill="#111" text-anchor="end" transform="rotate(-45 314.3 480)" stroke="#111" stroke-width="0.18">hbae1.3</text>
<line x1="324.5" y1="471.6" x2="324.5" y2="474.4" stroke="#0a0a0a" stroke-width="0.8"/>
<text x="327.5" y="480" font-size="5.4" fill="#111" text-anchor="end" transform="rotate(-45 327.5 480)" stroke="#111" stroke-width="0.18">hbbe1.2</text>
<line x1="337.7" y1="471.6" x2="337.7" y2="474.4" stroke="#0a0a0a" stroke-width="0.8"/>
<text x="340.7" y="480" font-size="5.4" fill="#111" text-anchor="end" transform="rotate(-45 340.7 480)" stroke="#111" stroke-width="0.18">hbbe2</text>
<text x="284.8" y="391.8" font-size="7.9" fill="#1e1e1e" textLength="24.9" lengthAdjust="spacingAndGlyphs">Globins</text>
<text x="215" y="434.1" font-size="7" text-anchor="middle" transform="rotate(-90 215 434.1)">Relative expression (RPKM)</text>
<rect x="293.1" y="399.9" width="4.9" height="4.9" fill="#2c4c8c"/>
<text x="301" y="404.2" font-size="5.3" fill="#2a2a2a" stroke="#2a2a2a" stroke-width="0.14">551het</text>
<rect x="293.1" y="409.23" width="4.9" height="4.9" fill="#b0052b"/>
<text x="301" y="413.53" font-size="5.3" fill="#2a2a2a" stroke="#2a2a2a" stroke-width="0.14">551hetMO</text>
<rect x="293.1" y="418.56" width="4.9" height="4.9" fill="#68b13f"/>
<text x="301" y="422.86" font-size="5.3" fill="#2a2a2a" stroke="#2a2a2a" stroke-width="0.14">551hom</text>
<rect x="293.1" y="427.89" width="4.9" height="4.9" fill="#f09418"/>
<text x="301" y="432.19" font-size="5.3" fill="#2a2a2a" stroke="#2a2a2a" stroke-width="0.14">551homMO</text>
<text x="363.2" y="374.2" font-size="11.8" fill="#111">G</text>
<rect x="386.9" y="429.72" width="3.03" height="41.48" fill="#2c4c8c"/>
<rect x="389.88" y="435.36" width="3.03" height="35.84" fill="#b0052b"/>
<rect x="392.86" y="451.49" width="3.03" height="19.71" fill="#68b13f"/>
<rect x="395.84" y="465.38" width="3.03" height="5.82" fill="#f09418"/>
<rect x="398.8" y="450.82" width="3.03" height="20.38" fill="#2c4c8c"/>
<rect x="401.78" y="455.07" width="3.03" height="16.13" fill="#b0052b"/>
<rect x="404.76" y="462.24" width="3.03" height="8.96" fill="#68b13f"/>
<rect x="407.74" y="467.62" width="3.03" height="3.58" fill="#f09418"/>
<rect x="410.7" y="442.3" width="3.03" height="28.9" fill="#2c4c8c"/>
<rect x="413.68" y="445.44" width="3.03" height="25.76" fill="#b0052b"/>
<rect x="416.66" y="460.45" width="3.03" height="10.75" fill="#68b13f"/>
<rect x="419.64" y="468.96" width="3.03" height="2.24" fill="#f09418"/>
<rect x="422.6" y="439.71" width="3.03" height="31.49" fill="#2c4c8c"/>
<rect x="425.58" y="448.49" width="3.03" height="22.71" fill="#b0052b"/>
<rect x="428.56" y="460" width="3.03" height="11.2" fill="#68b13f"/>
<rect x="431.54" y="469.18" width="3.03" height="2.02" fill="#f09418"/>
<rect x="434.5" y="465.82" width="3.03" height="5.38" fill="#2c4c8c"/>
<rect x="437.48" y="466.72" width="3.03" height="4.48" fill="#b0052b"/>
<rect x="440.46" y="469.41" width="3.03" height="1.79" fill="#68b13f"/>
<rect x="443.44" y="470.93" width="3.03" height="0.27" fill="#f09418"/>
<rect x="446.4" y="417.8" width="3.03" height="53.4" fill="#2c4c8c"/>
<rect x="446.4" y="401.2" width="3.03" height="9.8" fill="#2c4c8c"/>
<rect x="449.38" y="417.8" width="3.03" height="53.4" fill="#b0052b"/>
<rect x="449.38" y="406.9" width="3.03" height="4.1" fill="#b0052b"/>
<rect x="452.36" y="424.61" width="3.03" height="46.59" fill="#68b13f"/>
<rect x="455.34" y="450.01" width="3.03" height="21.19" fill="#f09418"/>
<rect x="458.3" y="425.41" width="3.03" height="45.79" fill="#2c4c8c"/>
<rect x="461.28" y="421.47" width="3.03" height="49.73" fill="#b0052b"/>
<rect x="464.26" y="446.2" width="3.03" height="25" fill="#68b13f"/>
<rect x="467.24" y="458.21" width="3.03" height="12.99" fill="#f09418"/>
<rect x="470.2" y="469.18" width="3.03" height="2.02" fill="#2c4c8c"/>
<rect x="473.18" y="469.63" width="3.03" height="1.57" fill="#b0052b"/>
<rect x="476.16" y="470.75" width="3.03" height="0.45" fill="#68b13f"/>
<rect x="479.14" y="470.98" width="3.03" height="0.22" fill="#f09418"/>
<rect x="482.1" y="450.82" width="3.03" height="20.38" fill="#2c4c8c"/>
<rect x="485.08" y="456.42" width="3.03" height="14.78" fill="#b0052b"/>
<rect x="488.06" y="466.27" width="3.03" height="4.93" fill="#68b13f"/>
<rect x="491.04" y="469.18" width="3.03" height="2.02" fill="#f09418"/>
<rect x="494" y="468.96" width="3.03" height="2.24" fill="#2c4c8c"/>
<rect x="496.98" y="467.62" width="3.03" height="3.58" fill="#b0052b"/>
<rect x="499.96" y="470.75" width="3.03" height="0.45" fill="#68b13f"/>
<rect x="502.94" y="470.98" width="3.03" height="0.22" fill="#f09418"/>
<path d="M387.49 428.52h1.8v.5h-.6v.9h-.6v-.9h-.6zM390.47 434.16h1.8v.5h-.6v.9h-.6v-.9h-.6zM393.45 450.29h1.8v.5h-.6v.9h-.6v-.9h-.6zM396.43 464.18h1.8v.5h-.6v.9h-.6v-.9h-.6zM399.39 449.62h1.8v.5h-.6v.9h-.6v-.9h-.6zM402.37 453.87h1.8v.5h-.6v.9h-.6v-.9h-.6zM405.35 461.04h1.8v.5h-.6v.9h-.6v-.9h-.6zM408.33 466.42h1.8v.5h-.6v.9h-.6v-.9h-.6zM411.29 441.1h1.8v.5h-.6v.9h-.6v-.9h-.6zM414.27 444.24h1.8v.5h-.6v.9h-.6v-.9h-.6zM417.25 459.25h1.8v.5h-.6v.9h-.6v-.9h-.6zM420.23 467.76h1.8v.5h-.6v.9h-.6v-.9h-.6zM423.19 438.51h1.8v.5h-.6v.9h-.6v-.9h-.6zM426.17 447.29h1.8v.5h-.6v.9h-.6v-.9h-.6zM429.15 458.8h1.8v.5h-.6v.9h-.6v-.9h-.6zM432.13 467.98h1.8v.5h-.6v.9h-.6v-.9h-.6zM435.09 464.62h1.8v.5h-.6v.9h-.6v-.9h-.6zM438.07 465.52h1.8v.5h-.6v.9h-.6v-.9h-.6zM441.05 468.21h1.8v.5h-.6v.9h-.6v-.9h-.6zM444.03 469.73h1.8v.5h-.6v.9h-.6v-.9h-.6zM446.99 400h1.8v.5h-.6v.9h-.6v-.9h-.6zM449.97 405.7h1.8v.5h-.6v.9h-.6v-.9h-.6zM452.95 423.41h1.8v.5h-.6v.9h-.6v-.9h-.6zM455.93 448.81h1.8v.5h-.6v.9h-.6v-.9h-.6zM458.89 424.21h1.8v.5h-.6v.9h-.6v-.9h-.6zM461.87 420.27h1.8v.5h-.6v.9h-.6v-.9h-.6zM464.85 445h1.8v.5h-.6v.9h-.6v-.9h-.6zM467.83 457.01h1.8v.5h-.6v.9h-.6v-.9h-.6zM470.79 467.98h1.8v.5h-.6v.9h-.6v-.9h-.6zM473.77 468.43h1.8v.5h-.6v.9h-.6v-.9h-.6zM476.75 469.55h1.8v.5h-.6v.9h-.6v-.9h-.6zM479.73 469.78h1.8v.5h-.6v.9h-.6v-.9h-.6zM482.69 449.62h1.8v.5h-.6v.9h-.6v-.9h-.6zM485.67 455.22h1.8v.5h-.6v.9h-.6v-.9h-.6zM488.65 465.07h1.8v.5h-.6v.9h-.6v-.9h-.6zM491.63 467.98h1.8v.5h-.6v.9h-.6v-.9h-.6zM494.59 467.76h1.8v.5h-.6v.9h-.6v-.9h-.6zM497.57 466.42h1.8v.5h-.6v.9h-.6v-.9h-.6zM500.55 469.55h1.8v.5h-.6v.9h-.6v-.9h-.6zM503.53 469.78h1.8v.5h-.6v.9h-.6v-.9h-.6z" fill="#111"/>
<line x1="386.6" y1="394.3" x2="386.6" y2="411.4" stroke="#0a0a0a" stroke-width="1.3"/>
<line x1="386.6" y1="417.4" x2="386.6" y2="471.8" stroke="#0a0a0a" stroke-width="1.3"/>
<line x1="385.95" y1="471.2" x2="508.2" y2="471.2" stroke="#0a0a0a" stroke-width="1.3"/>
<line x1="384.3" y1="409.25" x2="388.9" y2="413.65" stroke="#0a0a0a" stroke-width="1"/>
<line x1="384.3" y1="415.2" x2="388.9" y2="419.6" stroke="#0a0a0a" stroke-width="1"/>
<line x1="383.4" y1="397.4" x2="386.6" y2="397.4" stroke="#0a0a0a" stroke-width="0.8"/>
<text x="380.6" y="399.3" font-size="5.4" fill="#2a2a2a" text-anchor="end" stroke="#2a2a2a" stroke-width="0.14">3000</text>
<line x1="383.4" y1="405.2" x2="386.6" y2="405.2" stroke="#0a0a0a" stroke-width="0.8"/>
<text x="380.6" y="407.1" font-size="5.4" fill="#2a2a2a" text-anchor="end" stroke="#2a2a2a" stroke-width="0.14">2000</text>
<line x1="383.4" y1="426.6" x2="386.6" y2="426.6" stroke="#0a0a0a" stroke-width="0.8"/>
<text x="380.6" y="428.5" font-size="5.4" fill="#2a2a2a" text-anchor="end" stroke="#2a2a2a" stroke-width="0.14">1000</text>
<line x1="383.4" y1="449.2" x2="386.6" y2="449.2" stroke="#0a0a0a" stroke-width="0.8"/>
<text x="380.6" y="451.1" font-size="5.4" fill="#2a2a2a" text-anchor="end" stroke="#2a2a2a" stroke-width="0.14">500</text>
<line x1="383.4" y1="471.2" x2="386.6" y2="471.2" stroke="#0a0a0a" stroke-width="0.8"/>
<text x="380.6" y="473.1" font-size="5.4" fill="#2a2a2a" text-anchor="end" stroke="#2a2a2a" stroke-width="0.14">0</text>
<line x1="388.3" y1="471.2" x2="388.3" y2="474" stroke="#0a0a0a" stroke-width="0.8"/>
<text x="391.3" y="479.6" font-size="5.4" fill="#111" text-anchor="end" transform="rotate(-45 391.3 479.6)" stroke="#111" stroke-width="0.18">alas2</text>
<line x1="400.2" y1="471.2" x2="400.2" y2="474" stroke="#0a0a0a" stroke-width="0.8"/>
<text x="403.2" y="479.6" font-size="5.4" fill="#111" text-anchor="end" transform="rotate(-45 403.2 479.6)" stroke="#111" stroke-width="0.18">alad</text>
<line x1="412.1" y1="471.2" x2="412.1" y2="474" stroke="#0a0a0a" stroke-width="0.8"/>
<text x="415.1" y="479.6" font-size="5.4" fill="#111" text-anchor="end" transform="rotate(-45 415.1 479.6)" stroke="#111" stroke-width="0.18">hmbsa</text>
<line x1="424" y1="471.2" x2="424" y2="474" stroke="#0a0a0a" stroke-width="0.8"/>
<text x="427" y="479.6" font-size="5.4" fill="#111" text-anchor="end" transform="rotate(-45 427 479.6)" stroke="#111" stroke-width="0.18">hmbsb</text>
<line x1="435.9" y1="471.2" x2="435.9" y2="474" stroke="#0a0a0a" stroke-width="0.8"/>
<text x="438.9" y="479.6" font-size="5.4" fill="#111" text-anchor="end" transform="rotate(-45 438.9 479.6)" stroke="#111" stroke-width="0.18">uros</text>
<line x1="447.8" y1="471.2" x2="447.8" y2="474" stroke="#0a0a0a" stroke-width="0.8"/>
<text x="450.8" y="479.6" font-size="5.4" fill="#111" text-anchor="end" transform="rotate(-45 450.8 479.6)" stroke="#111" stroke-width="0.18">urod</text>
<line x1="459.7" y1="471.2" x2="459.7" y2="474" stroke="#0a0a0a" stroke-width="0.8"/>
<text x="462.7" y="479.6" font-size="5.4" fill="#111" text-anchor="end" transform="rotate(-45 462.7 479.6)" stroke="#111" stroke-width="0.18">cox</text>
<line x1="471.6" y1="471.2" x2="471.6" y2="474" stroke="#0a0a0a" stroke-width="0.8"/>
<text x="474.6" y="479.6" font-size="5.4" fill="#111" text-anchor="end" transform="rotate(-45 474.6 479.6)" stroke="#111" stroke-width="0.18">ppox</text>
<line x1="483.5" y1="471.2" x2="483.5" y2="474" stroke="#0a0a0a" stroke-width="0.8"/>
<text x="486.5" y="479.6" font-size="5.4" fill="#111" text-anchor="end" transform="rotate(-45 486.5 479.6)" stroke="#111" stroke-width="0.18">tspo</text>
<line x1="495.4" y1="471.2" x2="495.4" y2="474" stroke="#0a0a0a" stroke-width="0.8"/>
<text x="498.4" y="479.6" font-size="5.4" fill="#111" text-anchor="end" transform="rotate(-45 498.4 479.6)" stroke="#111" stroke-width="0.18">fech</text>
<text x="417" y="389.2" font-size="7.9" fill="#1e1e1e" textLength="50.7" lengthAdjust="spacingAndGlyphs">Haem Synthesis</text>
<text x="8.6" y="526.4" font-size="11.8" fill="#111">H</text>
<rect x="35.1" y="585.58" width="3.72" height="30.82" fill="#2c4c8c"/>
<rect x="38.77" y="586.51" width="3.72" height="29.89" fill="#b0052b"/>
<rect x="42.44" y="595.62" width="3.72" height="20.78" fill="#68b13f"/>
<rect x="46.11" y="605.89" width="3.72" height="10.51" fill="#f09418"/>
<rect x="49.8" y="613.13" width="3.72" height="3.27" fill="#2c4c8c"/>
<rect x="53.47" y="613.36" width="3.72" height="3.04" fill="#b0052b"/>
<rect x="57.14" y="614.53" width="3.72" height="1.87" fill="#68b13f"/>
<rect x="60.81" y="616.17" width="3.72" height="0.23" fill="#f09418"/>
<rect x="64.5" y="554.76" width="3.72" height="61.64" fill="#2c4c8c"/>
<rect x="68.17" y="560.83" width="3.72" height="55.57" fill="#b0052b"/>
<rect x="71.84" y="576.47" width="3.72" height="39.93" fill="#68b13f"/>
<rect x="75.51" y="592.82" width="3.72" height="23.58" fill="#f09418"/>
<rect x="79.2" y="605.66" width="3.72" height="10.74" fill="#2c4c8c"/>
<rect x="82.87" y="609.86" width="3.72" height="6.54" fill="#b0052b"/>
<rect x="86.54" y="615" width="3.72" height="1.4" fill="#68b13f"/>
<rect x="90.21" y="616.17" width="3.72" height="0.23" fill="#f09418"/>
<rect x="93.9" y="573.9" width="3.72" height="42.5" fill="#2c4c8c"/>
<rect x="97.57" y="577.17" width="3.72" height="39.23" fill="#b0052b"/>
<rect x="101.24" y="587.68" width="3.72" height="28.72" fill="#68b13f"/>
<rect x="104.91" y="604.26" width="3.72" height="12.14" fill="#f09418"/>
<rect x="108.6" y="594.22" width="3.72" height="22.18" fill="#2c4c8c"/>
<rect x="112.27" y="595.62" width="3.72" height="20.78" fill="#b0052b"/>
<rect x="115.94" y="605.66" width="3.72" height="10.74" fill="#68b13f"/>
<rect x="119.61" y="609.16" width="3.72" height="7.24" fill="#f09418"/>
<rect x="123.3" y="605.43" width="3.72" height="10.97" fill="#2c4c8c"/>
<rect x="126.97" y="606.13" width="3.72" height="10.27" fill="#b0052b"/>
<rect x="130.64" y="611.03" width="3.72" height="5.37" fill="#68b13f"/>
<rect x="134.31" y="615" width="3.72" height="1.4" fill="#f09418"/>
<path d="M36.04 584.38h1.8v.5h-.6v.9h-.6v-.9h-.6zM39.71 585.31h1.8v.5h-.6v.9h-.6v-.9h-.6zM43.38 594.42h1.8v.5h-.6v.9h-.6v-.9h-.6zM47.05 604.69h1.8v.5h-.6v.9h-.6v-.9h-.6zM50.73 611.93h1.8v.5h-.6v.9h-.6v-.9h-.6zM54.41 612.16h1.8v.5h-.6v.9h-.6v-.9h-.6zM58.08 613.33h1.8v.5h-.6v.9h-.6v-.9h-.6zM61.74 614.97h1.8v.5h-.6v.9h-.6v-.9h-.6zM65.43 553.56h1.8v.5h-.6v.9h-.6v-.9h-.6zM69.1 559.63h1.8v.5h-.6v.9h-.6v-.9h-.6zM72.77 575.27h1.8v.5h-.6v.9h-.6v-.9h-.6zM76.44 591.62h1.8v.5h-.6v.9h-.6v-.9h-.6zM80.13 604.46h1.8v.5h-.6v.9h-.6v-.9h-.6zM83.8 608.66h1.8v.5h-.6v.9h-.6v-.9h-.6zM87.47 613.8h1.8v.5h-.6v.9h-.6v-.9h-.6zM91.14 614.97h1.8v.5h-.6v.9h-.6v-.9h-.6zM94.83 572.7h1.8v.5h-.6v.9h-.6v-.9h-.6zM98.5 575.97h1.8v.5h-.6v.9h-.6v-.9h-.6zM102.17 586.48h1.8v.5h-.6v.9h-.6v-.9h-.6zM105.84 603.06h1.8v.5h-.6v.9h-.6v-.9h-.6zM109.53 593.02h1.8v.5h-.6v.9h-.6v-.9h-.6zM113.2 594.42h1.8v.5h-.6v.9h-.6v-.9h-.6zM116.87 604.46h1.8v.5h-.6v.9h-.6v-.9h-.6zM120.54 607.96h1.8v.5h-.6v.9h-.6v-.9h-.6zM124.23 604.23h1.8v.5h-.6v.9h-.6v-.9h-.6zM127.9 604.93h1.8v.5h-.6v.9h-.6v-.9h-.6zM131.57 609.83h1.8v.5h-.6v.9h-.6v-.9h-.6zM135.24 613.8h1.8v.5h-.6v.9h-.6v-.9h-.6z" fill="#111"/>
<line x1="34.2" y1="543.6" x2="34.2" y2="617" stroke="#0a0a0a" stroke-width="1.3"/>
<line x1="33.55" y1="616.4" x2="138.5" y2="616.4" stroke="#0a0a0a" stroke-width="1.3"/>
<line x1="31" y1="546.3" x2="34.2" y2="546.3" stroke="#0a0a0a" stroke-width="0.8"/>
<text x="28.2" y="548.2" font-size="5.4" fill="#2a2a2a" text-anchor="end" stroke="#2a2a2a" stroke-width="0.14">300</text>
<line x1="31" y1="569.8" x2="34.2" y2="569.8" stroke="#0a0a0a" stroke-width="0.8"/>
<text x="28.2" y="571.7" font-size="5.4" fill="#2a2a2a" text-anchor="end" stroke="#2a2a2a" stroke-width="0.14">200</text>
<line x1="31" y1="593.4" x2="34.2" y2="593.4" stroke="#0a0a0a" stroke-width="0.8"/>
<text x="28.2" y="595.3" font-size="5.4" fill="#2a2a2a" text-anchor="end" stroke="#2a2a2a" stroke-width="0.14">100</text>
<line x1="31" y1="616.4" x2="34.2" y2="616.4" stroke="#0a0a0a" stroke-width="0.8"/>
<text x="28.2" y="618.3" font-size="5.4" fill="#2a2a2a" text-anchor="end" stroke="#2a2a2a" stroke-width="0.14">0</text>
<line x1="36.4" y1="616.4" x2="36.4" y2="619.2" stroke="#0a0a0a" stroke-width="0.8"/>
<text x="39.4" y="624.8" font-size="5.4" fill="#111" text-anchor="end" transform="rotate(-45 39.4 624.8)" stroke="#111" stroke-width="0.18">tfr1a</text>
<line x1="51.1" y1="616.4" x2="51.1" y2="619.2" stroke="#0a0a0a" stroke-width="0.8"/>
<text x="54.1" y="624.8" font-size="5.4" fill="#111" text-anchor="end" transform="rotate(-45 54.1 624.8)" stroke="#111" stroke-width="0.18">steap3</text>
<line x1="65.8" y1="616.4" x2="65.8" y2="619.2" stroke="#0a0a0a" stroke-width="0.8"/>
<text x="68.8" y="624.8" font-size="5.4" fill="#111" text-anchor="end" transform="rotate(-45 68.8 624.8)" stroke="#111" stroke-width="0.18">slc11a2</text>
<line x1="80.5" y1="616.4" x2="80.5" y2="619.2" stroke="#0a0a0a" stroke-width="0.8"/>
<text x="83.5" y="624.8" font-size="5.4" fill="#111" text-anchor="end" transform="rotate(-45 83.5 624.8)" stroke="#111" stroke-width="0.18">slc25a37</text>
<line x1="95.2" y1="616.4" x2="95.2" y2="619.2" stroke="#0a0a0a" stroke-width="0.8"/>
<text x="98.2" y="624.8" font-size="5.4" fill="#111" text-anchor="end" transform="rotate(-45 98.2 624.8)" stroke="#111" stroke-width="0.18">abcb10</text>
<line x1="109.9" y1="616.4" x2="109.9" y2="619.2" stroke="#0a0a0a" stroke-width="0.8"/>
<text x="112.9" y="624.8" font-size="5.4" fill="#111" text-anchor="end" transform="rotate(-45 112.9 624.8)" stroke="#111" stroke-width="0.18">snx3</text>
<line x1="124.6" y1="616.4" x2="124.6" y2="619.2" stroke="#0a0a0a" stroke-width="0.8"/>
<text x="127.6" y="624.8" font-size="5.4" fill="#111" text-anchor="end" transform="rotate(-45 127.6 624.8)" stroke="#111" stroke-width="0.18">fth1b</text>
<text x="39.8" y="539" font-size="7.9" fill="#1e1e1e" textLength="92" lengthAdjust="spacingAndGlyphs">Iron Transport &amp; Metabolism</text>
<text x="14.2" y="580" font-size="7" text-anchor="middle" transform="rotate(-90 14.2 580)">Relative expression (RPKM)</text>
<text x="146.8" y="526.6" font-size="11.8" fill="#111">I</text>
<rect x="160.5" y="560.73" width="3.15" height="55.97" fill="#2c4c8c"/>
<rect x="163.6" y="574.63" width="3.15" height="42.07" fill="#b0052b"/>
<rect x="166.7" y="593.53" width="3.15" height="23.17" fill="#68b13f"/>
<rect x="169.8" y="616.52" width="3.15" height="0.18" fill="#f09418"/>
<rect x="172.9" y="591.75" width="3.15" height="24.96" fill="#2c4c8c"/>
<rect x="176" y="593.88" width="3.15" height="22.82" fill="#b0052b"/>
<rect x="179.1" y="608.86" width="3.15" height="7.84" fill="#68b13f"/>
<rect x="182.2" y="614.56" width="3.15" height="2.14" fill="#f09418"/>
<rect x="185.3" y="581.05" width="3.15" height="35.65" fill="#2c4c8c"/>
<rect x="188.4" y="584.97" width="3.15" height="31.73" fill="#b0052b"/>
<rect x="191.5" y="601.37" width="3.15" height="15.33" fill="#68b13f"/>
<rect x="194.6" y="610.28" width="3.15" height="6.42" fill="#f09418"/>
<rect x="197.7" y="567.86" width="3.15" height="48.84" fill="#2c4c8c"/>
<rect x="200.8" y="591.75" width="3.15" height="24.96" fill="#b0052b"/>
<rect x="203.9" y="592.81" width="3.15" height="23.89" fill="#68b13f"/>
<rect x="207" y="612.78" width="3.15" height="3.92" fill="#f09418"/>
<rect x="210.1" y="610.28" width="3.15" height="6.42" fill="#2c4c8c"/>
<rect x="213.2" y="611" width="3.15" height="5.7" fill="#b0052b"/>
<rect x="216.3" y="611" width="3.15" height="5.7" fill="#68b13f"/>
<rect x="219.4" y="611.71" width="3.15" height="4.99" fill="#f09418"/>
<rect x="222.5" y="610.28" width="3.15" height="6.42" fill="#2c4c8c"/>
<rect x="225.6" y="611.71" width="3.15" height="4.99" fill="#b0052b"/>
<rect x="228.7" y="614.56" width="3.15" height="2.14" fill="#68b13f"/>
<rect x="231.8" y="615.99" width="3.15" height="0.71" fill="#f09418"/>
<rect x="234.9" y="603.51" width="3.15" height="13.19" fill="#2c4c8c"/>
<rect x="238" y="605.65" width="3.15" height="11.05" fill="#b0052b"/>
<rect x="241.1" y="609.21" width="3.15" height="7.49" fill="#68b13f"/>
<rect x="244.2" y="612.42" width="3.15" height="4.28" fill="#f09418"/>
<rect x="247.3" y="613.49" width="3.15" height="3.21" fill="#2c4c8c"/>
<rect x="250.4" y="611.71" width="3.15" height="4.99" fill="#b0052b"/>
<rect x="253.5" y="615.99" width="3.15" height="0.71" fill="#68b13f"/>
<rect x="256.6" y="616.34" width="3.15" height="0.36" fill="#f09418"/>
<path d="M161.15 559.53h1.8v.5h-.6v.9h-.6v-.9h-.6zM164.25 573.43h1.8v.5h-.6v.9h-.6v-.9h-.6zM167.35 592.33h1.8v.5h-.6v.9h-.6v-.9h-.6zM170.45 615.32h1.8v.5h-.6v.9h-.6v-.9h-.6zM173.55 590.54h1.8v.5h-.6v.9h-.6v-.9h-.6zM176.65 592.68h1.8v.5h-.6v.9h-.6v-.9h-.6zM179.75 607.66h1.8v.5h-.6v.9h-.6v-.9h-.6zM182.85 613.36h1.8v.5h-.6v.9h-.6v-.9h-.6zM185.95 579.85h1.8v.5h-.6v.9h-.6v-.9h-.6zM189.05 583.77h1.8v.5h-.6v.9h-.6v-.9h-.6zM192.15 600.17h1.8v.5h-.6v.9h-.6v-.9h-.6zM195.25 609.08h1.8v.5h-.6v.9h-.6v-.9h-.6zM198.35 566.66h1.8v.5h-.6v.9h-.6v-.9h-.6zM201.45 590.54h1.8v.5h-.6v.9h-.6v-.9h-.6zM204.55 591.61h1.8v.5h-.6v.9h-.6v-.9h-.6zM207.65 611.58h1.8v.5h-.6v.9h-.6v-.9h-.6zM210.75 609.08h1.8v.5h-.6v.9h-.6v-.9h-.6zM213.85 609.8h1.8v.5h-.6v.9h-.6v-.9h-.6zM216.95 609.8h1.8v.5h-.6v.9h-.6v-.9h-.6zM220.05 610.51h1.8v.5h-.6v.9h-.6v-.9h-.6zM223.15 609.08h1.8v.5h-.6v.9h-.6v-.9h-.6zM226.25 610.51h1.8v.5h-.6v.9h-.6v-.9h-.6zM229.35 613.36h1.8v.5h-.6v.9h-.6v-.9h-.6zM232.45 614.79h1.8v.5h-.6v.9h-.6v-.9h-.6zM235.55 602.31h1.8v.5h-.6v.9h-.6v-.9h-.6zM238.65 604.45h1.8v.5h-.6v.9h-.6v-.9h-.6zM241.75 608.01h1.8v.5h-.6v.9h-.6v-.9h-.6zM244.85 611.22h1.8v.5h-.6v.9h-.6v-.9h-.6zM247.95 612.29h1.8v.5h-.6v.9h-.6v-.9h-.6zM251.05 610.51h1.8v.5h-.6v.9h-.6v-.9h-.6zM254.15 614.79h1.8v.5h-.6v.9h-.6v-.9h-.6zM257.25 615.14h1.8v.5h-.6v.9h-.6v-.9h-.6z" fill="#111"/>
<line x1="160.6" y1="543.6" x2="160.6" y2="617.3" stroke="#0a0a0a" stroke-width="1.3"/>
<line x1="159.95" y1="616.7" x2="263.8" y2="616.7" stroke="#0a0a0a" stroke-width="1.3"/>
<line x1="157.4" y1="545.8" x2="160.6" y2="545.8" stroke="#0a0a0a" stroke-width="0.8"/>
<text x="154.6" y="547.7" font-size="5.4" fill="#2a2a2a" text-anchor="end" stroke="#2a2a2a" stroke-width="0.14">200</text>
<line x1="157.4" y1="563.8" x2="160.6" y2="563.8" stroke="#0a0a0a" stroke-width="0.8"/>
<text x="154.6" y="565.7" font-size="5.4" fill="#2a2a2a" text-anchor="end" stroke="#2a2a2a" stroke-width="0.14">150</text>
<line x1="157.4" y1="581.4" x2="160.6" y2="581.4" stroke="#0a0a0a" stroke-width="0.8"/>
<text x="154.6" y="583.3" font-size="5.4" fill="#2a2a2a" text-anchor="end" stroke="#2a2a2a" stroke-width="0.14">100</text>
<line x1="157.4" y1="599.1" x2="160.6" y2="599.1" stroke="#0a0a0a" stroke-width="0.8"/>
<text x="154.6" y="601" font-size="5.4" fill="#2a2a2a" text-anchor="end" stroke="#2a2a2a" stroke-width="0.14">50</text>
<line x1="157.4" y1="616.7" x2="160.6" y2="616.7" stroke="#0a0a0a" stroke-width="0.8"/>
<text x="154.6" y="618.6" font-size="5.4" fill="#2a2a2a" text-anchor="end" stroke="#2a2a2a" stroke-width="0.14">0</text>
<line x1="161.9" y1="616.7" x2="161.9" y2="619.5" stroke="#0a0a0a" stroke-width="0.8"/>
<text x="164.9" y="625.1" font-size="5.4" fill="#111" text-anchor="end" transform="rotate(-45 164.9 625.1)" stroke="#111" stroke-width="0.18">slc4a1a</text>
<line x1="174.3" y1="616.7" x2="174.3" y2="619.5" stroke="#0a0a0a" stroke-width="0.8"/>
<text x="177.3" y="625.1" font-size="5.4" fill="#111" text-anchor="end" transform="rotate(-45 177.3 625.1)" stroke="#111" stroke-width="0.18">epb41b</text>
<line x1="186.7" y1="616.7" x2="186.7" y2="619.5" stroke="#0a0a0a" stroke-width="0.8"/>
<text x="189.7" y="625.1" font-size="5.4" fill="#111" text-anchor="end" transform="rotate(-45 189.7 625.1)" stroke="#111" stroke-width="0.18">sptb</text>
<line x1="199.1" y1="616.7" x2="199.1" y2="619.5" stroke="#0a0a0a" stroke-width="0.8"/>
<text x="202.1" y="625.1" font-size="5.4" fill="#111" text-anchor="end" transform="rotate(-45 202.1 625.1)" stroke="#111" stroke-width="0.18">rhd</text>
<line x1="211.5" y1="616.7" x2="211.5" y2="619.5" stroke="#0a0a0a" stroke-width="0.8"/>
<text x="214.5" y="625.1" font-size="5.4" fill="#111" text-anchor="end" transform="rotate(-45 214.5 625.1)" stroke="#111" stroke-width="0.18">add1</text>
<line x1="223.9" y1="616.7" x2="223.9" y2="619.5" stroke="#0a0a0a" stroke-width="0.8"/>
<text x="226.9" y="625.1" font-size="5.4" fill="#111" text-anchor="end" transform="rotate(-45 226.9 625.1)" stroke="#111" stroke-width="0.18">add2</text>
<line x1="236.3" y1="616.7" x2="236.3" y2="619.5" stroke="#0a0a0a" stroke-width="0.8"/>
<text x="239.3" y="625.1" font-size="5.4" fill="#111" text-anchor="end" transform="rotate(-45 239.3 625.1)" stroke="#111" stroke-width="0.18">dmtn</text>
<line x1="248.7" y1="616.7" x2="248.7" y2="619.5" stroke="#0a0a0a" stroke-width="0.8"/>
<text x="251.7" y="625.1" font-size="5.4" fill="#111" text-anchor="end" transform="rotate(-45 251.7 625.1)" stroke="#111" stroke-width="0.18">ank1</text>
<text x="175.8" y="539" font-size="7.9" fill="#1e1e1e" textLength="74" lengthAdjust="spacingAndGlyphs">Erythroid Cytoskeleton</text>
<text x="268.4" y="526.4" font-size="11.8" fill="#111">J</text>
<rect x="287.6" y="566.43" width="3.15" height="50.27" fill="#2c4c8c"/>
<rect x="287.6" y="551.7" width="3.15" height="8.1" fill="#2c4c8c"/>
<rect x="290.7" y="566.43" width="3.15" height="50.27" fill="#b0052b"/>
<rect x="290.7" y="549.9" width="3.15" height="9.9" fill="#b0052b"/>
<rect x="293.8" y="566.43" width="3.15" height="50.27" fill="#68b13f"/>
<rect x="293.8" y="559.74" width="3.15" height="0.06" fill="#68b13f"/>
<rect x="296.9" y="579.51" width="3.15" height="37.19" fill="#f09418"/>
<rect x="300" y="573.34" width="3.15" height="43.37" fill="#2c4c8c"/>
<rect x="303.1" y="573.04" width="3.15" height="43.66" fill="#b0052b"/>
<rect x="306.2" y="581.57" width="3.15" height="35.13" fill="#68b13f"/>
<rect x="309.3" y="588.62" width="3.15" height="28.08" fill="#f09418"/>
<rect x="312.4" y="599.65" width="3.15" height="17.05" fill="#2c4c8c"/>
<rect x="315.5" y="591.27" width="3.15" height="25.43" fill="#b0052b"/>
<rect x="318.6" y="605.53" width="3.15" height="11.17" fill="#68b13f"/>
<rect x="321.7" y="610.82" width="3.15" height="5.88" fill="#f09418"/>
<rect x="324.8" y="609.35" width="3.15" height="7.35" fill="#2c4c8c"/>
<rect x="327.9" y="609.79" width="3.15" height="6.91" fill="#b0052b"/>
<rect x="331" y="614.64" width="3.15" height="2.06" fill="#68b13f"/>
<rect x="334.1" y="616.41" width="3.15" height="0.29" fill="#f09418"/>
<rect x="337.2" y="614.05" width="3.15" height="2.65" fill="#2c4c8c"/>
<rect x="340.3" y="612.88" width="3.15" height="3.82" fill="#b0052b"/>
<rect x="343.4" y="615.08" width="3.15" height="1.62" fill="#68b13f"/>
<rect x="346.5" y="614.64" width="3.15" height="2.06" fill="#f09418"/>
<rect x="349.6" y="610.09" width="3.15" height="6.62" fill="#2c4c8c"/>
<rect x="352.7" y="609.64" width="3.15" height="7.06" fill="#b0052b"/>
<rect x="355.8" y="611.11" width="3.15" height="5.59" fill="#68b13f"/>
<rect x="358.9" y="610.82" width="3.15" height="5.88" fill="#f09418"/>
<rect x="362" y="581.42" width="3.15" height="35.28" fill="#2c4c8c"/>
<rect x="365.1" y="579.51" width="3.15" height="37.19" fill="#b0052b"/>
<rect x="368.2" y="572.89" width="3.15" height="43.81" fill="#68b13f"/>
<rect x="371.3" y="576.42" width="3.15" height="40.28" fill="#f09418"/>
<rect x="374.4" y="566.43" width="3.15" height="50.27" fill="#2c4c8c"/>
<rect x="374.4" y="554.49" width="3.15" height="5.31" fill="#2c4c8c"/>
<rect x="377.5" y="566.43" width="3.15" height="50.27" fill="#b0052b"/>
<rect x="377.5" y="554.49" width="3.15" height="5.31" fill="#b0052b"/>
<rect x="380.6" y="566.43" width="3.15" height="50.27" fill="#68b13f"/>
<rect x="380.6" y="550.39" width="3.15" height="9.4" fill="#68b13f"/>
<rect x="383.7" y="566.43" width="3.15" height="50.27" fill="#f09418"/>
<rect x="383.7" y="548.49" width="3.15" height="11.31" fill="#f09418"/>
<path d="M288.25 550.5h1.8v.5h-.6v.9h-.6v-.9h-.6zM291.35 548.7h1.8v.5h-.6v.9h-.6v-.9h-.6zM294.45 558.54h1.8v.5h-.6v.9h-.6v-.9h-.6zM297.55 578.31h1.8v.5h-.6v.9h-.6v-.9h-.6zM300.65 572.13h1.8v.5h-.6v.9h-.6v-.9h-.6zM303.75 571.84h1.8v.5h-.6v.9h-.6v-.9h-.6zM306.85 580.37h1.8v.5h-.6v.9h-.6v-.9h-.6zM309.95 587.42h1.8v.5h-.6v.9h-.6v-.9h-.6zM313.05 598.45h1.8v.5h-.6v.9h-.6v-.9h-.6zM316.15 590.07h1.8v.5h-.6v.9h-.6v-.9h-.6zM319.25 604.33h1.8v.5h-.6v.9h-.6v-.9h-.6zM322.35 609.62h1.8v.5h-.6v.9h-.6v-.9h-.6zM325.45 608.15h1.8v.5h-.6v.9h-.6v-.9h-.6zM328.55 608.59h1.8v.5h-.6v.9h-.6v-.9h-.6zM331.65 613.44h1.8v.5h-.6v.9h-.6v-.9h-.6zM334.75 615.21h1.8v.5h-.6v.9h-.6v-.9h-.6zM337.85 612.85h1.8v.5h-.6v.9h-.6v-.9h-.6zM340.95 611.68h1.8v.5h-.6v.9h-.6v-.9h-.6zM344.05 613.88h1.8v.5h-.6v.9h-.6v-.9h-.6zM347.15 613.44h1.8v.5h-.6v.9h-.6v-.9h-.6zM350.25 608.88h1.8v.5h-.6v.9h-.6v-.9h-.6zM353.35 608.44h1.8v.5h-.6v.9h-.6v-.9h-.6zM356.45 609.91h1.8v.5h-.6v.9h-.6v-.9h-.6zM359.55 609.62h1.8v.5h-.6v.9h-.6v-.9h-.6zM362.65 580.22h1.8v.5h-.6v.9h-.6v-.9h-.6zM365.75 578.31h1.8v.5h-.6v.9h-.6v-.9h-.6zM368.85 571.69h1.8v.5h-.6v.9h-.6v-.9h-.6zM371.95 575.22h1.8v.5h-.6v.9h-.6v-.9h-.6zM375.05 553.29h1.8v.5h-.6v.9h-.6v-.9h-.6zM378.15 553.29h1.8v.5h-.6v.9h-.6v-.9h-.6zM381.25 549.19h1.8v.5h-.6v.9h-.6v-.9h-.6zM384.35 547.29h1.8v.5h-.6v.9h-.6v-.9h-.6z" fill="#111"/>
<line x1="287.4" y1="544.8" x2="287.4" y2="560.2" stroke="#0a0a0a" stroke-width="1.3"/>
<line x1="287.4" y1="565.7" x2="287.4" y2="617.3" stroke="#0a0a0a" stroke-width="1.3"/>
<line x1="286.75" y1="616.7" x2="391.8" y2="616.7" stroke="#0a0a0a" stroke-width="1.3"/>
<line x1="284.8" y1="558" x2="289.4" y2="562.4" stroke="#0a0a0a" stroke-width="1"/>
<line x1="284.5" y1="563.5" x2="289.1" y2="567.9" stroke="#0a0a0a" stroke-width="1"/>
<line x1="284.2" y1="547.5" x2="287.4" y2="547.5" stroke="#0a0a0a" stroke-width="0.8"/>
<text x="281.4" y="549.4" font-size="5.4" fill="#2a2a2a" text-anchor="end" stroke="#2a2a2a" stroke-width="0.14">1000</text>
<line x1="284.2" y1="552.5" x2="287.4" y2="552.5" stroke="#0a0a0a" stroke-width="0.8"/>
<text x="281.4" y="554.4" font-size="5.4" fill="#2a2a2a" text-anchor="end" stroke="#2a2a2a" stroke-width="0.14">750</text>
<line x1="284.2" y1="557.4" x2="287.4" y2="557.4" stroke="#0a0a0a" stroke-width="0.8"/>
<text x="281.4" y="559.3" font-size="5.4" fill="#2a2a2a" text-anchor="end" stroke="#2a2a2a" stroke-width="0.14">500</text>
<line x1="284.2" y1="572.8" x2="287.4" y2="572.8" stroke="#0a0a0a" stroke-width="0.8"/>
<text x="281.4" y="574.7" font-size="5.4" fill="#2a2a2a" text-anchor="end" stroke="#2a2a2a" stroke-width="0.14">300</text>
<line x1="284.2" y1="587.5" x2="287.4" y2="587.5" stroke="#0a0a0a" stroke-width="0.8"/>
<text x="281.4" y="589.4" font-size="5.4" fill="#2a2a2a" text-anchor="end" stroke="#2a2a2a" stroke-width="0.14">200</text>
<line x1="284.2" y1="602.2" x2="287.4" y2="602.2" stroke="#0a0a0a" stroke-width="0.8"/>
<text x="281.4" y="604.1" font-size="5.4" fill="#2a2a2a" text-anchor="end" stroke="#2a2a2a" stroke-width="0.14">100</text>
<line x1="284.2" y1="616.7" x2="287.4" y2="616.7" stroke="#0a0a0a" stroke-width="0.8"/>
<text x="281.4" y="618.6" font-size="5.4" fill="#2a2a2a" text-anchor="end" stroke="#2a2a2a" stroke-width="0.14">0</text>
<line x1="289" y1="616.7" x2="289" y2="619.5" stroke="#0a0a0a" stroke-width="0.8"/>
<text x="292" y="625.1" font-size="5.4" fill="#111" text-anchor="end" transform="rotate(-45 292 625.1)" stroke="#111" stroke-width="0.18">klf4b</text>
<line x1="301.4" y1="616.7" x2="301.4" y2="619.5" stroke="#0a0a0a" stroke-width="0.8"/>
<text x="304.4" y="625.1" font-size="5.4" fill="#111" text-anchor="end" transform="rotate(-45 304.4 625.1)" stroke="#111" stroke-width="0.18">scl/tal1</text>
<line x1="313.8" y1="616.7" x2="313.8" y2="619.5" stroke="#0a0a0a" stroke-width="0.8"/>
<text x="316.8" y="625.1" font-size="5.4" fill="#111" text-anchor="end" transform="rotate(-45 316.8 625.1)" stroke="#111" stroke-width="0.18">gata1a</text>
<line x1="326.2" y1="616.7" x2="326.2" y2="619.5" stroke="#0a0a0a" stroke-width="0.8"/>
<text x="329.2" y="625.1" font-size="5.4" fill="#111" text-anchor="end" transform="rotate(-45 329.2 625.1)" stroke="#111" stroke-width="0.18">klf1</text>
<line x1="338.6" y1="616.7" x2="338.6" y2="619.5" stroke="#0a0a0a" stroke-width="0.8"/>
<text x="341.6" y="625.1" font-size="5.4" fill="#111" text-anchor="end" transform="rotate(-45 341.6 625.1)" stroke="#111" stroke-width="0.18">zfpm1</text>
<line x1="351" y1="616.7" x2="351" y2="619.5" stroke="#0a0a0a" stroke-width="0.8"/>
<text x="354" y="625.1" font-size="5.4" fill="#111" text-anchor="end" transform="rotate(-45 354 625.1)" stroke="#111" stroke-width="0.18">cbfa2t3</text>
<line x1="363.4" y1="616.7" x2="363.4" y2="619.5" stroke="#0a0a0a" stroke-width="0.8"/>
<text x="366.4" y="625.1" font-size="5.4" fill="#111" text-anchor="end" transform="rotate(-45 366.4 625.1)" stroke="#111" stroke-width="0.18">lmo2</text>
<line x1="375.8" y1="616.7" x2="375.8" y2="619.5" stroke="#0a0a0a" stroke-width="0.8"/>
<text x="378.8" y="625.1" font-size="5.4" fill="#111" text-anchor="end" transform="rotate(-45 378.8 625.1)" stroke="#111" stroke-width="0.18">hmgb3b</text>
<text x="318.6" y="539" font-size="7.9" fill="#1e1e1e" textLength="42" lengthAdjust="spacingAndGlyphs">Erythroid TFs</text>
<text x="398.1" y="526.8" font-size="11.8" fill="#111">K</text>
<rect x="411.3" y="616.51" width="2.3" height="0.09" fill="#2c4c8c"/>
<rect x="413.55" y="616.51" width="2.3" height="0.09" fill="#b0052b"/>
<rect x="415.8" y="605.38" width="2.3" height="11.22" fill="#68b13f"/>
<rect x="418.05" y="602.98" width="2.3" height="13.62" fill="#f09418"/>
<rect x="420.3" y="616.51" width="2.3" height="0.09" fill="#2c4c8c"/>
<rect x="422.55" y="616.51" width="2.3" height="0.09" fill="#b0052b"/>
<rect x="424.8" y="600.78" width="2.3" height="15.82" fill="#68b13f"/>
<rect x="427.05" y="589" width="2.3" height="27.6" fill="#f09418"/>
<rect x="429.3" y="616.51" width="2.3" height="0.09" fill="#2c4c8c"/>
<rect x="431.55" y="616.51" width="2.3" height="0.09" fill="#b0052b"/>
<rect x="433.8" y="599.3" width="2.3" height="17.3" fill="#68b13f"/>
<rect x="436.05" y="589.37" width="2.3" height="27.23" fill="#f09418"/>
<rect x="438.3" y="616.51" width="2.3" height="0.09" fill="#2c4c8c"/>
<rect x="440.55" y="616.51" width="2.3" height="0.09" fill="#b0052b"/>
<rect x="442.8" y="607.22" width="2.3" height="9.38" fill="#68b13f"/>
<rect x="445.05" y="607.22" width="2.3" height="9.38" fill="#f09418"/>
<rect x="447.3" y="615.68" width="2.3" height="0.92" fill="#2c4c8c"/>
<rect x="449.55" y="615.13" width="2.3" height="1.47" fill="#b0052b"/>
<rect x="451.8" y="584.4" width="2.3" height="32.2" fill="#68b13f"/>
<rect x="454.05" y="583.85" width="2.3" height="32.75" fill="#f09418"/>
<rect x="456.3" y="615.68" width="2.3" height="0.92" fill="#2c4c8c"/>
<rect x="458.55" y="614.76" width="2.3" height="1.84" fill="#b0052b"/>
<rect x="460.8" y="591.39" width="2.3" height="25.21" fill="#68b13f"/>
<rect x="463.05" y="577.41" width="2.3" height="39.19" fill="#f09418"/>
<rect x="465.3" y="616.51" width="2.3" height="0.09" fill="#2c4c8c"/>
<rect x="467.55" y="616.51" width="2.3" height="0.09" fill="#b0052b"/>
<rect x="469.8" y="607.4" width="2.3" height="9.2" fill="#68b13f"/>
<rect x="472.05" y="604.27" width="2.3" height="12.33" fill="#f09418"/>
<rect x="474.3" y="612.92" width="2.3" height="3.68" fill="#2c4c8c"/>
<rect x="476.55" y="610.16" width="2.3" height="6.44" fill="#b0052b"/>
<rect x="478.8" y="570.6" width="2.3" height="46" fill="#68b13f"/>
<rect x="481.05" y="570.6" width="2.3" height="46" fill="#f09418"/>
<rect x="481.05" y="552.13" width="2.3" height="11.67" fill="#f09418"/>
<rect x="483.3" y="616.05" width="2.3" height="0.55" fill="#2c4c8c"/>
<rect x="485.55" y="616.51" width="2.3" height="0.09" fill="#b0052b"/>
<rect x="487.8" y="598.75" width="2.3" height="17.85" fill="#68b13f"/>
<rect x="490.05" y="593.42" width="2.3" height="23.18" fill="#f09418"/>
<rect x="492.3" y="615.68" width="2.3" height="0.92" fill="#2c4c8c"/>
<rect x="494.55" y="615.13" width="2.3" height="1.47" fill="#b0052b"/>
<rect x="496.8" y="592.31" width="2.3" height="24.29" fill="#68b13f"/>
<rect x="499.05" y="577.41" width="2.3" height="39.19" fill="#f09418"/>
<rect x="501.3" y="616.51" width="2.3" height="0.09" fill="#2c4c8c"/>
<rect x="503.55" y="616.51" width="2.3" height="0.09" fill="#b0052b"/>
<rect x="505.8" y="604.64" width="2.3" height="11.96" fill="#68b13f"/>
<rect x="508.05" y="598.2" width="2.3" height="18.4" fill="#f09418"/>
<path d="M411.53 615.31h1.8v.5h-.6v.9h-.6v-.9h-.6zM413.78 615.31h1.8v.5h-.6v.9h-.6v-.9h-.6zM416.03 604.18h1.8v.5h-.6v.9h-.6v-.9h-.6zM418.28 601.78h1.8v.5h-.6v.9h-.6v-.9h-.6zM420.53 615.31h1.8v.5h-.6v.9h-.6v-.9h-.6zM422.78 615.31h1.8v.5h-.6v.9h-.6v-.9h-.6zM425.03 599.58h1.8v.5h-.6v.9h-.6v-.9h-.6zM427.28 587.8h1.8v.5h-.6v.9h-.6v-.9h-.6zM429.53 615.31h1.8v.5h-.6v.9h-.6v-.9h-.6zM431.78 615.31h1.8v.5h-.6v.9h-.6v-.9h-.6zM434.03 598.1h1.8v.5h-.6v.9h-.6v-.9h-.6zM436.28 588.17h1.8v.5h-.6v.9h-.6v-.9h-.6zM438.53 615.31h1.8v.5h-.6v.9h-.6v-.9h-.6zM440.78 615.31h1.8v.5h-.6v.9h-.6v-.9h-.6zM443.03 606.02h1.8v.5h-.6v.9h-.6v-.9h-.6zM445.28 606.02h1.8v.5h-.6v.9h-.6v-.9h-.6zM447.53 614.48h1.8v.5h-.6v.9h-.6v-.9h-.6zM449.78 613.93h1.8v.5h-.6v.9h-.6v-.9h-.6zM452.03 583.2h1.8v.5h-.6v.9h-.6v-.9h-.6zM454.28 582.65h1.8v.5h-.6v.9h-.6v-.9h-.6zM456.53 614.48h1.8v.5h-.6v.9h-.6v-.9h-.6zM458.78 613.56h1.8v.5h-.6v.9h-.6v-.9h-.6zM461.03 590.19h1.8v.5h-.6v.9h-.6v-.9h-.6zM463.28 576.21h1.8v.5h-.6v.9h-.6v-.9h-.6zM465.53 615.31h1.8v.5h-.6v.9h-.6v-.9h-.6zM467.78 615.31h1.8v.5h-.6v.9h-.6v-.9h-.6zM470.03 606.2h1.8v.5h-.6v.9h-.6v-.9h-.6zM472.28 603.07h1.8v.5h-.6v.9h-.6v-.9h-.6zM474.53 611.72h1.8v.5h-.6v.9h-.6v-.9h-.6zM476.78 608.96h1.8v.5h-.6v.9h-.6v-.9h-.6zM479.03 569.4h1.8v.5h-.6v.9h-.6v-.9h-.6zM481.28 550.93h1.8v.5h-.6v.9h-.6v-.9h-.6zM483.53 614.85h1.8v.5h-.6v.9h-.6v-.9h-.6zM485.78 615.31h1.8v.5h-.6v.9h-.6v-.9h-.6zM488.03 597.55h1.8v.5h-.6v.9h-.6v-.9h-.6zM490.28 592.22h1.8v.5h-.6v.9h-.6v-.9h-.6zM492.53 614.48h1.8v.5h-.6v.9h-.6v-.9h-.6zM494.78 613.93h1.8v.5h-.6v.9h-.6v-.9h-.6zM497.03 591.11h1.8v.5h-.6v.9h-.6v-.9h-.6zM499.28 576.21h1.8v.5h-.6v.9h-.6v-.9h-.6zM501.53 615.31h1.8v.5h-.6v.9h-.6v-.9h-.6zM503.78 615.31h1.8v.5h-.6v.9h-.6v-.9h-.6zM506.03 603.44h1.8v.5h-.6v.9h-.6v-.9h-.6zM508.28 597h1.8v.5h-.6v.9h-.6v-.9h-.6z" fill="#111"/>
<line x1="411.5" y1="545.9" x2="411.5" y2="564.2" stroke="#0a0a0a" stroke-width="1.3"/>
<line x1="411.5" y1="569.5" x2="411.5" y2="617.2" stroke="#0a0a0a" stroke-width="1.3"/>
<line x1="410.85" y1="616.6" x2="511.8" y2="616.6" stroke="#0a0a0a" stroke-width="1.3"/>
<line x1="409.15" y1="562" x2="413.75" y2="566.4" stroke="#0a0a0a" stroke-width="1"/>
<line x1="409.3" y1="567.35" x2="413.9" y2="571.75" stroke="#0a0a0a" stroke-width="1"/>
<line x1="408.3" y1="548.5" x2="411.5" y2="548.5" stroke="#0a0a0a" stroke-width="0.8"/>
<text x="405.5" y="550.4" font-size="5.2" fill="#2a2a2a" text-anchor="end" stroke="#2a2a2a" stroke-width="0.14">600</text>
<line x1="408.3" y1="555.4" x2="411.5" y2="555.4" stroke="#0a0a0a" stroke-width="0.8"/>
<text x="405.5" y="557.3" font-size="5.2" fill="#2a2a2a" text-anchor="end" stroke="#2a2a2a" stroke-width="0.14">450</text>
<line x1="408.3" y1="561.9" x2="411.5" y2="561.9" stroke="#0a0a0a" stroke-width="0.8"/>
<text x="405.5" y="563.8" font-size="5.2" fill="#2a2a2a" text-anchor="end" stroke="#2a2a2a" stroke-width="0.14">300</text>
<line x1="408.3" y1="570.3" x2="411.5" y2="570.3" stroke="#0a0a0a" stroke-width="0.8"/>
<text x="405.5" y="572.2" font-size="5.2" fill="#2a2a2a" text-anchor="end" stroke="#2a2a2a" stroke-width="0.14">250</text>
<line x1="408.3" y1="579.3" x2="411.5" y2="579.3" stroke="#0a0a0a" stroke-width="0.8"/>
<text x="405.5" y="581.2" font-size="5.2" fill="#2a2a2a" text-anchor="end" stroke="#2a2a2a" stroke-width="0.14">200</text>
<line x1="408.3" y1="588.6" x2="411.5" y2="588.6" stroke="#0a0a0a" stroke-width="0.8"/>
<text x="405.5" y="590.5" font-size="5.2" fill="#2a2a2a" text-anchor="end" stroke="#2a2a2a" stroke-width="0.14">150</text>
<line x1="408.3" y1="597.9" x2="411.5" y2="597.9" stroke="#0a0a0a" stroke-width="0.8"/>
<text x="405.5" y="599.8" font-size="5.2" fill="#2a2a2a" text-anchor="end" stroke="#2a2a2a" stroke-width="0.14">100</text>
<line x1="408.3" y1="607.2" x2="411.5" y2="607.2" stroke="#0a0a0a" stroke-width="0.8"/>
<text x="405.5" y="609.1" font-size="5.2" fill="#2a2a2a" text-anchor="end" stroke="#2a2a2a" stroke-width="0.14">50</text>
<line x1="408.3" y1="616.6" x2="411.5" y2="616.6" stroke="#0a0a0a" stroke-width="0.8"/>
<text x="405.5" y="618.5" font-size="5.2" fill="#2a2a2a" text-anchor="end" stroke="#2a2a2a" stroke-width="0.14">0</text>
<line x1="412.4" y1="616.6" x2="412.4" y2="619.4" stroke="#0a0a0a" stroke-width="0.8"/>
<text x="415.4" y="625" font-size="5.2" fill="#111" text-anchor="end" transform="rotate(-45 415.4 625)" stroke="#111" stroke-width="0.18">agtr2</text>
<line x1="421.4" y1="616.6" x2="421.4" y2="619.4" stroke="#0a0a0a" stroke-width="0.8"/>
<text x="424.4" y="625" font-size="5.2" fill="#111" text-anchor="end" transform="rotate(-45 424.4 625)" stroke="#111" stroke-width="0.18">gpr182</text>
<line x1="430.4" y1="616.6" x2="430.4" y2="619.4" stroke="#0a0a0a" stroke-width="0.8"/>
<text x="433.4" y="625" font-size="5.2" fill="#111" text-anchor="end" transform="rotate(-45 433.4 625)" stroke="#111" stroke-width="0.18">cdh5</text>
<line x1="439.4" y1="616.6" x2="439.4" y2="619.4" stroke="#0a0a0a" stroke-width="0.8"/>
<text x="442.4" y="625" font-size="5.2" fill="#111" text-anchor="end" transform="rotate(-45 442.4 625)" stroke="#111" stroke-width="0.18">sox18</text>
<line x1="448.4" y1="616.6" x2="448.4" y2="619.4" stroke="#0a0a0a" stroke-width="0.8"/>
<text x="451.4" y="625" font-size="5.2" fill="#111" text-anchor="end" transform="rotate(-45 451.4 625)" stroke="#111" stroke-width="0.18">mrc1a</text>
<line x1="457.4" y1="616.6" x2="457.4" y2="619.4" stroke="#0a0a0a" stroke-width="0.8"/>
<text x="460.4" y="625" font-size="5.2" fill="#111" text-anchor="end" transform="rotate(-45 460.4 625)" stroke="#111" stroke-width="0.18">etv2</text>
<line x1="466.4" y1="616.6" x2="466.4" y2="619.4" stroke="#0a0a0a" stroke-width="0.8"/>
<text x="469.4" y="625" font-size="5.2" fill="#111" text-anchor="end" transform="rotate(-45 469.4 625)" stroke="#111" stroke-width="0.18">she</text>
<line x1="475.4" y1="616.6" x2="475.4" y2="619.4" stroke="#0a0a0a" stroke-width="0.8"/>
<text x="478.4" y="625" font-size="5.2" fill="#111" text-anchor="end" transform="rotate(-45 478.4 625)" stroke="#111" stroke-width="0.18">clec14a</text>
<line x1="484.4" y1="616.6" x2="484.4" y2="619.4" stroke="#0a0a0a" stroke-width="0.8"/>
<text x="487.4" y="625" font-size="5.2" fill="#111" text-anchor="end" transform="rotate(-45 487.4 625)" stroke="#111" stroke-width="0.18">kdrl</text>
<line x1="493.4" y1="616.6" x2="493.4" y2="619.4" stroke="#0a0a0a" stroke-width="0.8"/>
<text x="496.4" y="625" font-size="5.2" fill="#111" text-anchor="end" transform="rotate(-45 496.4 625)" stroke="#111" stroke-width="0.18">plk2b</text>
<line x1="502.4" y1="616.6" x2="502.4" y2="619.4" stroke="#0a0a0a" stroke-width="0.8"/>
<text x="505.4" y="625" font-size="5.2" fill="#111" text-anchor="end" transform="rotate(-45 505.4 625)" stroke="#111" stroke-width="0.18">tie1</text>
<text x="428.8" y="539" font-size="7.9" fill="#1e1e1e" textLength="64.5" lengthAdjust="spacingAndGlyphs">Endothelial Proteins</text>
<rect x="0" y="0" width="520" height="1" fill="#111"/>
<rect x="0" y="0" width="1" height="649" fill="#111"/>
<rect x="518.6" y="0" width="1.4" height="649" fill="#1a1a1a"/>
<rect x="0" y="647.6" width="520" height="1.4" fill="#111"/>
</svg></body></html>
